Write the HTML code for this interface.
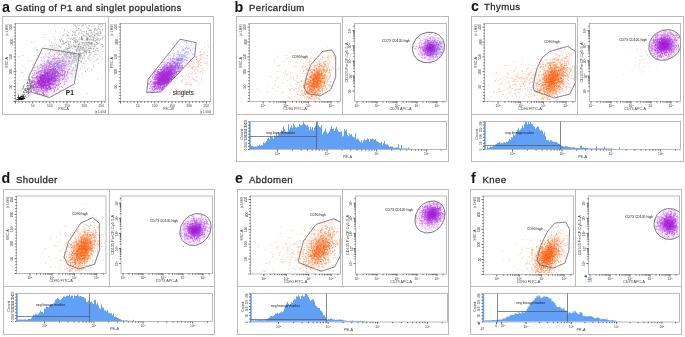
<!DOCTYPE html>
<html><head><meta charset="utf-8"><style>html,body{margin:0;padding:0;background:#fff;width:685px;height:337px;overflow:hidden}svg{display:block;filter:blur(0.3px)}</style></head>
<body><svg width="685" height="337" viewBox="0 0 685 337" font-family='"Liberation Sans", sans-serif'>
<rect width="685" height="337" fill="#fff"/>
<text x="2" y="11.9" font-size="14.3" fill="#111" text-anchor="start" font-weight="bold">a</text>
<text x="15.3" y="11.2" font-size="9.6" fill="#2a2a2a" text-anchor="start" font-weight="normal" letter-spacing="0.34" stroke="#2a2a2a" stroke-width="0.28">Gating of P1 and singlet populations</text>
<rect x="2.5" y="16.5" width="211" height="98" fill="none" stroke="#bbb" stroke-width="1"/>
<line x1="108.5" y1="16.5" x2="108.5" y2="114.5" stroke="#bbb" stroke-width="1"/>
<rect x="15.5" y="23.5" width="90" height="78" fill="none" stroke="#aaa" stroke-width="0.8"/>
<rect x="120.5" y="23.5" width="90" height="78" fill="none" stroke="#aaa" stroke-width="0.8"/>
<text x="12.5" y="86.6" font-size="3.3" fill="#3a3a3a" text-anchor="middle" font-weight="normal" transform="rotate(-90 12.5 86.6)">50</text>
<text x="12.5" y="71.7" font-size="3.3" fill="#3a3a3a" text-anchor="middle" font-weight="normal" transform="rotate(-90 12.5 71.7)">100</text>
<text x="12.5" y="56.9" font-size="3.3" fill="#3a3a3a" text-anchor="middle" font-weight="normal" transform="rotate(-90 12.5 56.9)">150</text>
<text x="12.5" y="42" font-size="3.3" fill="#3a3a3a" text-anchor="middle" font-weight="normal" transform="rotate(-90 12.5 42)">200</text>
<text x="12.5" y="27.1" font-size="3.3" fill="#3a3a3a" text-anchor="middle" font-weight="normal" transform="rotate(-90 12.5 27.1)">250</text>
<text x="8.3" y="30" font-size="3.0" fill="#3a3a3a" text-anchor="middle" font-weight="normal" transform="rotate(-90 8.3 30)" textLength="11.6" lengthAdjust="spacingAndGlyphs">(x 1,000)</text>
<text x="8.3" y="62.5" font-size="3.6" fill="#3a3a3a" text-anchor="middle" font-weight="normal" transform="rotate(-90 8.3 62.5)" textLength="11" lengthAdjust="spacingAndGlyphs">SSC-A</text>
<text x="32.7" y="107.1" font-size="3.3" fill="#3a3a3a" text-anchor="middle" font-weight="normal">50</text>
<text x="49.8" y="107.1" font-size="3.3" fill="#3a3a3a" text-anchor="middle" font-weight="normal">100</text>
<text x="67" y="107.1" font-size="3.3" fill="#3a3a3a" text-anchor="middle" font-weight="normal">150</text>
<text x="84.2" y="107.1" font-size="3.3" fill="#3a3a3a" text-anchor="middle" font-weight="normal">200</text>
<text x="101.3" y="107.1" font-size="3.3" fill="#3a3a3a" text-anchor="middle" font-weight="normal">250</text>
<text x="63.5" y="110.3" font-size="3.6" fill="#3a3a3a" text-anchor="middle" font-weight="normal" textLength="10.5" lengthAdjust="spacingAndGlyphs">FSC-A</text>
<text x="100.5" y="112.7" font-size="3.0" fill="#3a3a3a" text-anchor="middle" font-weight="normal" textLength="11.6" lengthAdjust="spacingAndGlyphs">(x 1,000)</text>
<text x="117.5" y="86.6" font-size="3.3" fill="#3a3a3a" text-anchor="middle" font-weight="normal" transform="rotate(-90 117.5 86.6)">50</text>
<text x="117.5" y="71.7" font-size="3.3" fill="#3a3a3a" text-anchor="middle" font-weight="normal" transform="rotate(-90 117.5 71.7)">100</text>
<text x="117.5" y="56.9" font-size="3.3" fill="#3a3a3a" text-anchor="middle" font-weight="normal" transform="rotate(-90 117.5 56.9)">150</text>
<text x="117.5" y="42" font-size="3.3" fill="#3a3a3a" text-anchor="middle" font-weight="normal" transform="rotate(-90 117.5 42)">200</text>
<text x="117.5" y="27.1" font-size="3.3" fill="#3a3a3a" text-anchor="middle" font-weight="normal" transform="rotate(-90 117.5 27.1)">250</text>
<text x="113.3" y="30" font-size="3.0" fill="#3a3a3a" text-anchor="middle" font-weight="normal" transform="rotate(-90 113.3 30)" textLength="11.6" lengthAdjust="spacingAndGlyphs">(x 1,000)</text>
<text x="113.3" y="62.5" font-size="3.6" fill="#3a3a3a" text-anchor="middle" font-weight="normal" transform="rotate(-90 113.3 62.5)" textLength="11" lengthAdjust="spacingAndGlyphs">FSC-A</text>
<text x="137.7" y="107.1" font-size="3.3" fill="#3a3a3a" text-anchor="middle" font-weight="normal">50</text>
<text x="154.8" y="107.1" font-size="3.3" fill="#3a3a3a" text-anchor="middle" font-weight="normal">100</text>
<text x="172" y="107.1" font-size="3.3" fill="#3a3a3a" text-anchor="middle" font-weight="normal">150</text>
<text x="189.2" y="107.1" font-size="3.3" fill="#3a3a3a" text-anchor="middle" font-weight="normal">200</text>
<text x="206.3" y="107.1" font-size="3.3" fill="#3a3a3a" text-anchor="middle" font-weight="normal">250</text>
<text x="168.5" y="110.3" font-size="3.6" fill="#3a3a3a" text-anchor="middle" font-weight="normal" textLength="10.5" lengthAdjust="spacingAndGlyphs">FSC-W</text>
<text x="205.5" y="112.7" font-size="3.0" fill="#3a3a3a" text-anchor="middle" font-weight="normal" textLength="11.6" lengthAdjust="spacingAndGlyphs">(x 1,000)</text>
<text x="234.5" y="11.9" font-size="14.3" fill="#111" text-anchor="start" font-weight="bold">b</text>
<text x="249" y="10.8" font-size="9.6" fill="#2a2a2a" text-anchor="start" font-weight="normal" letter-spacing="0.4" stroke="#2a2a2a" stroke-width="0.28">Pericardium</text>
<rect x="236.5" y="16.5" width="212" height="145" fill="none" stroke="#bbb" stroke-width="1"/>
<line x1="236.5" y1="114.5" x2="448.5" y2="114.5" stroke="#bbb" stroke-width="1"/>
<line x1="342.5" y1="16.5" x2="342.5" y2="114.5" stroke="#bbb" stroke-width="1"/>
<rect x="249.5" y="23.5" width="91" height="78" fill="none" stroke="#aaa" stroke-width="0.8"/>
<rect x="354.5" y="23.5" width="92" height="78" fill="none" stroke="#aaa" stroke-width="0.8"/>
<rect x="249.5" y="121.5" width="197" height="28" fill="none" stroke="#aaa" stroke-width="0.8"/>
<text x="246.5" y="86.6" font-size="3.3" fill="#3a3a3a" text-anchor="middle" font-weight="normal" transform="rotate(-90 246.5 86.6)">50</text>
<text x="246.5" y="71.7" font-size="3.3" fill="#3a3a3a" text-anchor="middle" font-weight="normal" transform="rotate(-90 246.5 71.7)">100</text>
<text x="246.5" y="56.9" font-size="3.3" fill="#3a3a3a" text-anchor="middle" font-weight="normal" transform="rotate(-90 246.5 56.9)">150</text>
<text x="246.5" y="42" font-size="3.3" fill="#3a3a3a" text-anchor="middle" font-weight="normal" transform="rotate(-90 246.5 42)">200</text>
<text x="246.5" y="27.1" font-size="3.3" fill="#3a3a3a" text-anchor="middle" font-weight="normal" transform="rotate(-90 246.5 27.1)">250</text>
<text x="242.3" y="30" font-size="3.0" fill="#3a3a3a" text-anchor="middle" font-weight="normal" transform="rotate(-90 242.3 30)" textLength="11.6" lengthAdjust="spacingAndGlyphs">(x 1,000)</text>
<text x="242.3" y="62.5" font-size="3.6" fill="#3a3a3a" text-anchor="middle" font-weight="normal" transform="rotate(-90 242.3 62.5)" textLength="11" lengthAdjust="spacingAndGlyphs">SSC-A</text>
<text x="263.1" y="107.3" font-size="3.3" fill="#3a3a3a" text-anchor="middle" font-weight="normal">10<tspan font-size="2.3" dy="-1.3">2</tspan></text>
<text x="285.7" y="107.3" font-size="3.3" fill="#3a3a3a" text-anchor="middle" font-weight="normal">10<tspan font-size="2.3" dy="-1.3">3</tspan></text>
<text x="308.4" y="107.3" font-size="3.3" fill="#3a3a3a" text-anchor="middle" font-weight="normal">10<tspan font-size="2.3" dy="-1.3">4</tspan></text>
<text x="331" y="107.3" font-size="3.3" fill="#3a3a3a" text-anchor="middle" font-weight="normal">10<tspan font-size="2.3" dy="-1.3">5</tspan></text>
<text x="295" y="110.3" font-size="3.6" fill="#3a3a3a" text-anchor="middle" font-weight="normal" textLength="23.5" lengthAdjust="spacingAndGlyphs">CD90 FITC-A</text>
<text x="357" y="107.3" font-size="3.3" fill="#3a3a3a" text-anchor="middle" font-weight="normal">10<tspan font-size="2.3" dy="-1.3">1</tspan></text>
<text x="377" y="107.3" font-size="3.3" fill="#3a3a3a" text-anchor="middle" font-weight="normal">10<tspan font-size="2.3" dy="-1.3">2</tspan></text>
<text x="397" y="107.3" font-size="3.3" fill="#3a3a3a" text-anchor="middle" font-weight="normal">10<tspan font-size="2.3" dy="-1.3">3</tspan></text>
<text x="417" y="107.3" font-size="3.3" fill="#3a3a3a" text-anchor="middle" font-weight="normal">10<tspan font-size="2.3" dy="-1.3">4</tspan></text>
<text x="437" y="107.3" font-size="3.3" fill="#3a3a3a" text-anchor="middle" font-weight="normal">10<tspan font-size="2.3" dy="-1.3">5</tspan></text>
<text x="400.5" y="110.3" font-size="3.6" fill="#3a3a3a" text-anchor="middle" font-weight="normal" textLength="22" lengthAdjust="spacingAndGlyphs">CD73 APC-A</text>
<text x="351.5" y="91.1" font-size="3.3" fill="#3a3a3a" text-anchor="middle" font-weight="normal" transform="rotate(-90 351.5 91.1)">10<tspan font-size="2.3" dy="-1.3">1</tspan></text>
<text x="351.5" y="76" font-size="3.3" fill="#3a3a3a" text-anchor="middle" font-weight="normal" transform="rotate(-90 351.5 76)">10<tspan font-size="2.3" dy="-1.3">2</tspan></text>
<text x="351.5" y="60.9" font-size="3.3" fill="#3a3a3a" text-anchor="middle" font-weight="normal" transform="rotate(-90 351.5 60.9)">10<tspan font-size="2.3" dy="-1.3">3</tspan></text>
<text x="351.5" y="45.8" font-size="3.3" fill="#3a3a3a" text-anchor="middle" font-weight="normal" transform="rotate(-90 351.5 45.8)">10<tspan font-size="2.3" dy="-1.3">4</tspan></text>
<text x="351.5" y="30.7" font-size="3.3" fill="#3a3a3a" text-anchor="middle" font-weight="normal" transform="rotate(-90 351.5 30.7)">10<tspan font-size="2.3" dy="-1.3">5</tspan></text>
<text x="347.5" y="62.5" font-size="3.6" fill="#3a3a3a" text-anchor="middle" font-weight="normal" transform="rotate(-90 347.5 62.5)" textLength="40" lengthAdjust="spacingAndGlyphs">CD105 PerCP-Cy5-5-A</text>
<text x="277.5" y="155.3" font-size="3.3" fill="#3a3a3a" text-anchor="middle" font-weight="normal">10<tspan font-size="2.3" dy="-1.3">2</tspan></text>
<text x="327.1" y="155.3" font-size="3.3" fill="#3a3a3a" text-anchor="middle" font-weight="normal">10<tspan font-size="2.3" dy="-1.3">3</tspan></text>
<text x="376.7" y="155.3" font-size="3.3" fill="#3a3a3a" text-anchor="middle" font-weight="normal">10<tspan font-size="2.3" dy="-1.3">4</tspan></text>
<text x="426.4" y="155.3" font-size="3.3" fill="#3a3a3a" text-anchor="middle" font-weight="normal">10<tspan font-size="2.3" dy="-1.3">5</tspan></text>
<text x="347.5" y="158" font-size="3.6" fill="#3a3a3a" text-anchor="middle" font-weight="normal" textLength="9" lengthAdjust="spacingAndGlyphs">PE-A</text>
<text x="246.9" y="149.5" font-size="2.8" fill="#444" text-anchor="middle" font-weight="normal" transform="rotate(-90 246.9 149.5)">0</text>
<text x="246.9" y="146.4" font-size="2.8" fill="#444" text-anchor="middle" font-weight="normal" transform="rotate(-90 246.9 146.4)">25</text>
<text x="246.9" y="143.4" font-size="2.8" fill="#444" text-anchor="middle" font-weight="normal" transform="rotate(-90 246.9 143.4)">50</text>
<text x="246.9" y="140.3" font-size="2.8" fill="#444" text-anchor="middle" font-weight="normal" transform="rotate(-90 246.9 140.3)">75</text>
<text x="246.9" y="137.3" font-size="2.8" fill="#444" text-anchor="middle" font-weight="normal" transform="rotate(-90 246.9 137.3)">100</text>
<text x="246.9" y="134.2" font-size="2.8" fill="#444" text-anchor="middle" font-weight="normal" transform="rotate(-90 246.9 134.2)">125</text>
<text x="246.9" y="131.2" font-size="2.8" fill="#444" text-anchor="middle" font-weight="normal" transform="rotate(-90 246.9 131.2)">150</text>
<text x="246.9" y="128.1" font-size="2.8" fill="#444" text-anchor="middle" font-weight="normal" transform="rotate(-90 246.9 128.1)">175</text>
<text x="246.9" y="125.1" font-size="2.8" fill="#444" text-anchor="middle" font-weight="normal" transform="rotate(-90 246.9 125.1)">200</text>
<text x="246.9" y="122" font-size="2.8" fill="#444" text-anchor="middle" font-weight="normal" transform="rotate(-90 246.9 122)">225</text>
<text x="242.9" y="134.5" font-size="3.6" fill="#3a3a3a" text-anchor="middle" font-weight="normal" transform="rotate(-90 242.9 134.5)" textLength="10.5" lengthAdjust="spacingAndGlyphs">Count</text>
<text x="471" y="10.7" font-size="14.3" fill="#111" text-anchor="start" font-weight="bold">c</text>
<text x="484" y="10.1" font-size="9.6" fill="#2a2a2a" text-anchor="start" font-weight="normal" letter-spacing="0.4" stroke="#2a2a2a" stroke-width="0.28">Thymus</text>
<rect x="471.5" y="16.5" width="212" height="145" fill="none" stroke="#bbb" stroke-width="1"/>
<line x1="471.5" y1="114.5" x2="683.5" y2="114.5" stroke="#bbb" stroke-width="1"/>
<line x1="577.5" y1="16.5" x2="577.5" y2="114.5" stroke="#bbb" stroke-width="1"/>
<rect x="484.5" y="23.5" width="91" height="78" fill="none" stroke="#aaa" stroke-width="0.8"/>
<rect x="589.5" y="23.5" width="91" height="78" fill="none" stroke="#aaa" stroke-width="0.8"/>
<rect x="484.5" y="121.5" width="196" height="28" fill="none" stroke="#aaa" stroke-width="0.8"/>
<text x="481.5" y="86.6" font-size="3.3" fill="#3a3a3a" text-anchor="middle" font-weight="normal" transform="rotate(-90 481.5 86.6)">50</text>
<text x="481.5" y="71.7" font-size="3.3" fill="#3a3a3a" text-anchor="middle" font-weight="normal" transform="rotate(-90 481.5 71.7)">100</text>
<text x="481.5" y="56.9" font-size="3.3" fill="#3a3a3a" text-anchor="middle" font-weight="normal" transform="rotate(-90 481.5 56.9)">150</text>
<text x="481.5" y="42" font-size="3.3" fill="#3a3a3a" text-anchor="middle" font-weight="normal" transform="rotate(-90 481.5 42)">200</text>
<text x="481.5" y="27.1" font-size="3.3" fill="#3a3a3a" text-anchor="middle" font-weight="normal" transform="rotate(-90 481.5 27.1)">250</text>
<text x="477.3" y="30" font-size="3.0" fill="#3a3a3a" text-anchor="middle" font-weight="normal" transform="rotate(-90 477.3 30)" textLength="11.6" lengthAdjust="spacingAndGlyphs">(x 1,000)</text>
<text x="477.3" y="62.5" font-size="3.6" fill="#3a3a3a" text-anchor="middle" font-weight="normal" transform="rotate(-90 477.3 62.5)" textLength="11" lengthAdjust="spacingAndGlyphs">SSC-A</text>
<text x="498.1" y="107.3" font-size="3.3" fill="#3a3a3a" text-anchor="middle" font-weight="normal">10<tspan font-size="2.3" dy="-1.3">2</tspan></text>
<text x="520.7" y="107.3" font-size="3.3" fill="#3a3a3a" text-anchor="middle" font-weight="normal">10<tspan font-size="2.3" dy="-1.3">3</tspan></text>
<text x="543.4" y="107.3" font-size="3.3" fill="#3a3a3a" text-anchor="middle" font-weight="normal">10<tspan font-size="2.3" dy="-1.3">4</tspan></text>
<text x="566" y="107.3" font-size="3.3" fill="#3a3a3a" text-anchor="middle" font-weight="normal">10<tspan font-size="2.3" dy="-1.3">5</tspan></text>
<text x="530" y="110.3" font-size="3.6" fill="#3a3a3a" text-anchor="middle" font-weight="normal" textLength="23.5" lengthAdjust="spacingAndGlyphs">CD90 FITC-A</text>
<text x="591" y="107.3" font-size="3.3" fill="#3a3a3a" text-anchor="middle" font-weight="normal">10<tspan font-size="2.3" dy="-1.3">1</tspan></text>
<text x="611" y="107.3" font-size="3.3" fill="#3a3a3a" text-anchor="middle" font-weight="normal">10<tspan font-size="2.3" dy="-1.3">2</tspan></text>
<text x="631" y="107.3" font-size="3.3" fill="#3a3a3a" text-anchor="middle" font-weight="normal">10<tspan font-size="2.3" dy="-1.3">3</tspan></text>
<text x="651" y="107.3" font-size="3.3" fill="#3a3a3a" text-anchor="middle" font-weight="normal">10<tspan font-size="2.3" dy="-1.3">4</tspan></text>
<text x="671" y="107.3" font-size="3.3" fill="#3a3a3a" text-anchor="middle" font-weight="normal">10<tspan font-size="2.3" dy="-1.3">5</tspan></text>
<text x="635" y="110.3" font-size="3.6" fill="#3a3a3a" text-anchor="middle" font-weight="normal" textLength="22" lengthAdjust="spacingAndGlyphs">CD73 APC-A</text>
<text x="586.5" y="91.1" font-size="3.3" fill="#3a3a3a" text-anchor="middle" font-weight="normal" transform="rotate(-90 586.5 91.1)">10<tspan font-size="2.3" dy="-1.3">1</tspan></text>
<text x="586.5" y="76" font-size="3.3" fill="#3a3a3a" text-anchor="middle" font-weight="normal" transform="rotate(-90 586.5 76)">10<tspan font-size="2.3" dy="-1.3">2</tspan></text>
<text x="586.5" y="60.9" font-size="3.3" fill="#3a3a3a" text-anchor="middle" font-weight="normal" transform="rotate(-90 586.5 60.9)">10<tspan font-size="2.3" dy="-1.3">3</tspan></text>
<text x="586.5" y="45.8" font-size="3.3" fill="#3a3a3a" text-anchor="middle" font-weight="normal" transform="rotate(-90 586.5 45.8)">10<tspan font-size="2.3" dy="-1.3">4</tspan></text>
<text x="586.5" y="30.7" font-size="3.3" fill="#3a3a3a" text-anchor="middle" font-weight="normal" transform="rotate(-90 586.5 30.7)">10<tspan font-size="2.3" dy="-1.3">5</tspan></text>
<text x="582.5" y="62.5" font-size="3.6" fill="#3a3a3a" text-anchor="middle" font-weight="normal" transform="rotate(-90 582.5 62.5)" textLength="40" lengthAdjust="spacingAndGlyphs">CD105 PerCP-Cy5-5-A</text>
<text x="512.5" y="155.3" font-size="3.3" fill="#3a3a3a" text-anchor="middle" font-weight="normal">10<tspan font-size="2.3" dy="-1.3">2</tspan></text>
<text x="561.9" y="155.3" font-size="3.3" fill="#3a3a3a" text-anchor="middle" font-weight="normal">10<tspan font-size="2.3" dy="-1.3">3</tspan></text>
<text x="611.2" y="155.3" font-size="3.3" fill="#3a3a3a" text-anchor="middle" font-weight="normal">10<tspan font-size="2.3" dy="-1.3">4</tspan></text>
<text x="660.6" y="155.3" font-size="3.3" fill="#3a3a3a" text-anchor="middle" font-weight="normal">10<tspan font-size="2.3" dy="-1.3">5</tspan></text>
<text x="582.5" y="158" font-size="3.6" fill="#3a3a3a" text-anchor="middle" font-weight="normal" textLength="9" lengthAdjust="spacingAndGlyphs">PE-A</text>
<text x="481.9" y="149.5" font-size="3.0" fill="#444" text-anchor="middle" font-weight="normal" transform="rotate(-90 481.9 149.5)">0</text>
<text x="481.9" y="143" font-size="3.0" fill="#444" text-anchor="middle" font-weight="normal" transform="rotate(-90 481.9 143)">50</text>
<text x="481.9" y="136.5" font-size="3.0" fill="#444" text-anchor="middle" font-weight="normal" transform="rotate(-90 481.9 136.5)">100</text>
<text x="481.9" y="130" font-size="3.0" fill="#444" text-anchor="middle" font-weight="normal" transform="rotate(-90 481.9 130)">150</text>
<text x="481.9" y="123.5" font-size="3.0" fill="#444" text-anchor="middle" font-weight="normal" transform="rotate(-90 481.9 123.5)">200</text>
<text x="477.9" y="134.5" font-size="3.6" fill="#3a3a3a" text-anchor="middle" font-weight="normal" transform="rotate(-90 477.9 134.5)" textLength="10.5" lengthAdjust="spacingAndGlyphs">Count</text>
<text x="1.5" y="182.6" font-size="14.3" fill="#111" text-anchor="start" font-weight="bold">d</text>
<text x="16" y="182.6" font-size="9.6" fill="#2a2a2a" text-anchor="start" font-weight="normal" letter-spacing="0.4" stroke="#2a2a2a" stroke-width="0.28">Shoulder</text>
<rect x="3.5" y="189.5" width="211" height="145" fill="none" stroke="#bbb" stroke-width="1"/>
<line x1="3.5" y1="286.5" x2="214.5" y2="286.5" stroke="#bbb" stroke-width="1"/>
<line x1="109.5" y1="189.5" x2="109.5" y2="286.5" stroke="#bbb" stroke-width="1"/>
<rect x="16.5" y="196" width="89.5" height="77.5" fill="none" stroke="#aaa" stroke-width="0.8"/>
<rect x="121" y="196" width="91.5" height="77.5" fill="none" stroke="#aaa" stroke-width="0.8"/>
<rect x="16.5" y="293.5" width="196" height="28" fill="none" stroke="#aaa" stroke-width="0.8"/>
<text x="13.5" y="258.7" font-size="3.3" fill="#3a3a3a" text-anchor="middle" font-weight="normal" transform="rotate(-90 13.5 258.7)">50</text>
<text x="13.5" y="243.9" font-size="3.3" fill="#3a3a3a" text-anchor="middle" font-weight="normal" transform="rotate(-90 13.5 243.9)">100</text>
<text x="13.5" y="229.2" font-size="3.3" fill="#3a3a3a" text-anchor="middle" font-weight="normal" transform="rotate(-90 13.5 229.2)">150</text>
<text x="13.5" y="214.4" font-size="3.3" fill="#3a3a3a" text-anchor="middle" font-weight="normal" transform="rotate(-90 13.5 214.4)">200</text>
<text x="13.5" y="199.6" font-size="3.3" fill="#3a3a3a" text-anchor="middle" font-weight="normal" transform="rotate(-90 13.5 199.6)">250</text>
<text x="9.3" y="202.5" font-size="3.0" fill="#3a3a3a" text-anchor="middle" font-weight="normal" transform="rotate(-90 9.3 202.5)" textLength="11.6" lengthAdjust="spacingAndGlyphs">(x 1,000)</text>
<text x="9.3" y="234.8" font-size="3.6" fill="#3a3a3a" text-anchor="middle" font-weight="normal" transform="rotate(-90 9.3 234.8)" textLength="11" lengthAdjust="spacingAndGlyphs">SSC-A</text>
<text x="29.9" y="279.3" font-size="3.3" fill="#3a3a3a" text-anchor="middle" font-weight="normal">10<tspan font-size="2.3" dy="-1.3">2</tspan></text>
<text x="52.1" y="279.3" font-size="3.3" fill="#3a3a3a" text-anchor="middle" font-weight="normal">10<tspan font-size="2.3" dy="-1.3">3</tspan></text>
<text x="74.4" y="279.3" font-size="3.3" fill="#3a3a3a" text-anchor="middle" font-weight="normal">10<tspan font-size="2.3" dy="-1.3">4</tspan></text>
<text x="96.6" y="279.3" font-size="3.3" fill="#3a3a3a" text-anchor="middle" font-weight="normal">10<tspan font-size="2.3" dy="-1.3">5</tspan></text>
<text x="61.2" y="282.3" font-size="3.6" fill="#3a3a3a" text-anchor="middle" font-weight="normal" textLength="23.5" lengthAdjust="spacingAndGlyphs">CD90 FITC-A</text>
<text x="123" y="279.3" font-size="3.3" fill="#3a3a3a" text-anchor="middle" font-weight="normal">10<tspan font-size="2.3" dy="-1.3">1</tspan></text>
<text x="143" y="279.3" font-size="3.3" fill="#3a3a3a" text-anchor="middle" font-weight="normal">10<tspan font-size="2.3" dy="-1.3">2</tspan></text>
<text x="163" y="279.3" font-size="3.3" fill="#3a3a3a" text-anchor="middle" font-weight="normal">10<tspan font-size="2.3" dy="-1.3">3</tspan></text>
<text x="183" y="279.3" font-size="3.3" fill="#3a3a3a" text-anchor="middle" font-weight="normal">10<tspan font-size="2.3" dy="-1.3">4</tspan></text>
<text x="203" y="279.3" font-size="3.3" fill="#3a3a3a" text-anchor="middle" font-weight="normal">10<tspan font-size="2.3" dy="-1.3">5</tspan></text>
<text x="166.8" y="282.3" font-size="3.6" fill="#3a3a3a" text-anchor="middle" font-weight="normal" textLength="22" lengthAdjust="spacingAndGlyphs">CD73 APC-A</text>
<text x="118" y="263.6" font-size="3.3" fill="#3a3a3a" text-anchor="middle" font-weight="normal" transform="rotate(-90 118 263.6)">10<tspan font-size="2.3" dy="-1.3">1</tspan></text>
<text x="118" y="248.5" font-size="3.3" fill="#3a3a3a" text-anchor="middle" font-weight="normal" transform="rotate(-90 118 248.5)">10<tspan font-size="2.3" dy="-1.3">2</tspan></text>
<text x="118" y="233.4" font-size="3.3" fill="#3a3a3a" text-anchor="middle" font-weight="normal" transform="rotate(-90 118 233.4)">10<tspan font-size="2.3" dy="-1.3">3</tspan></text>
<text x="118" y="218.3" font-size="3.3" fill="#3a3a3a" text-anchor="middle" font-weight="normal" transform="rotate(-90 118 218.3)">10<tspan font-size="2.3" dy="-1.3">4</tspan></text>
<text x="118" y="203.2" font-size="3.3" fill="#3a3a3a" text-anchor="middle" font-weight="normal" transform="rotate(-90 118 203.2)">10<tspan font-size="2.3" dy="-1.3">5</tspan></text>
<text x="114" y="234.8" font-size="3.6" fill="#3a3a3a" text-anchor="middle" font-weight="normal" transform="rotate(-90 114 234.8)" textLength="40" lengthAdjust="spacingAndGlyphs">CD105 PerCP-Cy5-5-A</text>
<text x="44.5" y="327.3" font-size="3.3" fill="#3a3a3a" text-anchor="middle" font-weight="normal">10<tspan font-size="2.3" dy="-1.3">2</tspan></text>
<text x="93.9" y="327.3" font-size="3.3" fill="#3a3a3a" text-anchor="middle" font-weight="normal">10<tspan font-size="2.3" dy="-1.3">3</tspan></text>
<text x="143.2" y="327.3" font-size="3.3" fill="#3a3a3a" text-anchor="middle" font-weight="normal">10<tspan font-size="2.3" dy="-1.3">4</tspan></text>
<text x="192.6" y="327.3" font-size="3.3" fill="#3a3a3a" text-anchor="middle" font-weight="normal">10<tspan font-size="2.3" dy="-1.3">5</tspan></text>
<text x="114.5" y="330" font-size="3.6" fill="#3a3a3a" text-anchor="middle" font-weight="normal" textLength="9" lengthAdjust="spacingAndGlyphs">PE-A</text>
<text x="13.9" y="321.5" font-size="2.8" fill="#444" text-anchor="middle" font-weight="normal" transform="rotate(-90 13.9 321.5)">0</text>
<text x="13.9" y="318.4" font-size="2.8" fill="#444" text-anchor="middle" font-weight="normal" transform="rotate(-90 13.9 318.4)">25</text>
<text x="13.9" y="315.4" font-size="2.8" fill="#444" text-anchor="middle" font-weight="normal" transform="rotate(-90 13.9 315.4)">50</text>
<text x="13.9" y="312.3" font-size="2.8" fill="#444" text-anchor="middle" font-weight="normal" transform="rotate(-90 13.9 312.3)">75</text>
<text x="13.9" y="309.3" font-size="2.8" fill="#444" text-anchor="middle" font-weight="normal" transform="rotate(-90 13.9 309.3)">100</text>
<text x="13.9" y="306.2" font-size="2.8" fill="#444" text-anchor="middle" font-weight="normal" transform="rotate(-90 13.9 306.2)">125</text>
<text x="13.9" y="303.2" font-size="2.8" fill="#444" text-anchor="middle" font-weight="normal" transform="rotate(-90 13.9 303.2)">150</text>
<text x="13.9" y="300.1" font-size="2.8" fill="#444" text-anchor="middle" font-weight="normal" transform="rotate(-90 13.9 300.1)">175</text>
<text x="13.9" y="297.1" font-size="2.8" fill="#444" text-anchor="middle" font-weight="normal" transform="rotate(-90 13.9 297.1)">200</text>
<text x="13.9" y="294" font-size="2.8" fill="#444" text-anchor="middle" font-weight="normal" transform="rotate(-90 13.9 294)">225</text>
<text x="9.9" y="306.5" font-size="3.6" fill="#3a3a3a" text-anchor="middle" font-weight="normal" transform="rotate(-90 9.9 306.5)" textLength="10.5" lengthAdjust="spacingAndGlyphs">Count</text>
<text x="235" y="182.8" font-size="14.3" fill="#111" text-anchor="start" font-weight="bold">e</text>
<text x="249" y="182.8" font-size="9.6" fill="#2a2a2a" text-anchor="start" font-weight="normal" letter-spacing="0.4" stroke="#2a2a2a" stroke-width="0.28">Abdomen</text>
<rect x="237.5" y="189.5" width="211" height="145" fill="none" stroke="#bbb" stroke-width="1"/>
<line x1="237.5" y1="286.5" x2="448.5" y2="286.5" stroke="#bbb" stroke-width="1"/>
<line x1="342.5" y1="189.5" x2="342.5" y2="286.5" stroke="#bbb" stroke-width="1"/>
<rect x="250.5" y="196" width="90" height="78" fill="none" stroke="#aaa" stroke-width="0.8"/>
<rect x="355.5" y="196" width="91" height="78" fill="none" stroke="#aaa" stroke-width="0.8"/>
<rect x="250.5" y="293.5" width="197" height="28.5" fill="none" stroke="#aaa" stroke-width="0.8"/>
<text x="247.5" y="259.1" font-size="3.3" fill="#3a3a3a" text-anchor="middle" font-weight="normal" transform="rotate(-90 247.5 259.1)">50</text>
<text x="247.5" y="244.2" font-size="3.3" fill="#3a3a3a" text-anchor="middle" font-weight="normal" transform="rotate(-90 247.5 244.2)">100</text>
<text x="247.5" y="229.4" font-size="3.3" fill="#3a3a3a" text-anchor="middle" font-weight="normal" transform="rotate(-90 247.5 229.4)">150</text>
<text x="247.5" y="214.5" font-size="3.3" fill="#3a3a3a" text-anchor="middle" font-weight="normal" transform="rotate(-90 247.5 214.5)">200</text>
<text x="247.5" y="199.6" font-size="3.3" fill="#3a3a3a" text-anchor="middle" font-weight="normal" transform="rotate(-90 247.5 199.6)">250</text>
<text x="243.3" y="202.5" font-size="3.0" fill="#3a3a3a" text-anchor="middle" font-weight="normal" transform="rotate(-90 243.3 202.5)" textLength="11.6" lengthAdjust="spacingAndGlyphs">(x 1,000)</text>
<text x="243.3" y="235" font-size="3.6" fill="#3a3a3a" text-anchor="middle" font-weight="normal" transform="rotate(-90 243.3 235)" textLength="11" lengthAdjust="spacingAndGlyphs">SSC-A</text>
<text x="263.9" y="279.8" font-size="3.3" fill="#3a3a3a" text-anchor="middle" font-weight="normal">10<tspan font-size="2.3" dy="-1.3">2</tspan></text>
<text x="286.3" y="279.8" font-size="3.3" fill="#3a3a3a" text-anchor="middle" font-weight="normal">10<tspan font-size="2.3" dy="-1.3">3</tspan></text>
<text x="308.7" y="279.8" font-size="3.3" fill="#3a3a3a" text-anchor="middle" font-weight="normal">10<tspan font-size="2.3" dy="-1.3">4</tspan></text>
<text x="331.1" y="279.8" font-size="3.3" fill="#3a3a3a" text-anchor="middle" font-weight="normal">10<tspan font-size="2.3" dy="-1.3">5</tspan></text>
<text x="295.5" y="282.8" font-size="3.6" fill="#3a3a3a" text-anchor="middle" font-weight="normal" textLength="23.5" lengthAdjust="spacingAndGlyphs">CD90 FITC-A</text>
<text x="357" y="279.8" font-size="3.3" fill="#3a3a3a" text-anchor="middle" font-weight="normal">10<tspan font-size="2.3" dy="-1.3">1</tspan></text>
<text x="377" y="279.8" font-size="3.3" fill="#3a3a3a" text-anchor="middle" font-weight="normal">10<tspan font-size="2.3" dy="-1.3">2</tspan></text>
<text x="397" y="279.8" font-size="3.3" fill="#3a3a3a" text-anchor="middle" font-weight="normal">10<tspan font-size="2.3" dy="-1.3">3</tspan></text>
<text x="417" y="279.8" font-size="3.3" fill="#3a3a3a" text-anchor="middle" font-weight="normal">10<tspan font-size="2.3" dy="-1.3">4</tspan></text>
<text x="437" y="279.8" font-size="3.3" fill="#3a3a3a" text-anchor="middle" font-weight="normal">10<tspan font-size="2.3" dy="-1.3">5</tspan></text>
<text x="401" y="282.8" font-size="3.6" fill="#3a3a3a" text-anchor="middle" font-weight="normal" textLength="22" lengthAdjust="spacingAndGlyphs">CD73 APC-A</text>
<text x="352.5" y="263.6" font-size="3.3" fill="#3a3a3a" text-anchor="middle" font-weight="normal" transform="rotate(-90 352.5 263.6)">10<tspan font-size="2.3" dy="-1.3">1</tspan></text>
<text x="352.5" y="248.5" font-size="3.3" fill="#3a3a3a" text-anchor="middle" font-weight="normal" transform="rotate(-90 352.5 248.5)">10<tspan font-size="2.3" dy="-1.3">2</tspan></text>
<text x="352.5" y="233.4" font-size="3.3" fill="#3a3a3a" text-anchor="middle" font-weight="normal" transform="rotate(-90 352.5 233.4)">10<tspan font-size="2.3" dy="-1.3">3</tspan></text>
<text x="352.5" y="218.3" font-size="3.3" fill="#3a3a3a" text-anchor="middle" font-weight="normal" transform="rotate(-90 352.5 218.3)">10<tspan font-size="2.3" dy="-1.3">4</tspan></text>
<text x="352.5" y="203.2" font-size="3.3" fill="#3a3a3a" text-anchor="middle" font-weight="normal" transform="rotate(-90 352.5 203.2)">10<tspan font-size="2.3" dy="-1.3">5</tspan></text>
<text x="348.5" y="235" font-size="3.6" fill="#3a3a3a" text-anchor="middle" font-weight="normal" transform="rotate(-90 348.5 235)" textLength="40" lengthAdjust="spacingAndGlyphs">CD105 PerCP-Cy5-5-A</text>
<text x="278.5" y="327.8" font-size="3.3" fill="#3a3a3a" text-anchor="middle" font-weight="normal">10<tspan font-size="2.3" dy="-1.3">2</tspan></text>
<text x="328.1" y="327.8" font-size="3.3" fill="#3a3a3a" text-anchor="middle" font-weight="normal">10<tspan font-size="2.3" dy="-1.3">3</tspan></text>
<text x="377.7" y="327.8" font-size="3.3" fill="#3a3a3a" text-anchor="middle" font-weight="normal">10<tspan font-size="2.3" dy="-1.3">4</tspan></text>
<text x="427.4" y="327.8" font-size="3.3" fill="#3a3a3a" text-anchor="middle" font-weight="normal">10<tspan font-size="2.3" dy="-1.3">5</tspan></text>
<text x="348.5" y="330.5" font-size="3.6" fill="#3a3a3a" text-anchor="middle" font-weight="normal" textLength="9" lengthAdjust="spacingAndGlyphs">PE-A</text>
<text x="247.9" y="322" font-size="3.0" fill="#444" text-anchor="middle" font-weight="normal" transform="rotate(-90 247.9 322)">0</text>
<text x="247.9" y="315.4" font-size="3.0" fill="#444" text-anchor="middle" font-weight="normal" transform="rotate(-90 247.9 315.4)">50</text>
<text x="247.9" y="308.8" font-size="3.0" fill="#444" text-anchor="middle" font-weight="normal" transform="rotate(-90 247.9 308.8)">100</text>
<text x="247.9" y="302.1" font-size="3.0" fill="#444" text-anchor="middle" font-weight="normal" transform="rotate(-90 247.9 302.1)">150</text>
<text x="247.9" y="295.5" font-size="3.0" fill="#444" text-anchor="middle" font-weight="normal" transform="rotate(-90 247.9 295.5)">200</text>
<text x="243.9" y="306.8" font-size="3.6" fill="#3a3a3a" text-anchor="middle" font-weight="normal" transform="rotate(-90 243.9 306.8)" textLength="10.5" lengthAdjust="spacingAndGlyphs">Count</text>
<text x="471" y="182.8" font-size="14.3" fill="#111" text-anchor="start" font-weight="bold">f</text>
<text x="482.5" y="183.2" font-size="9.6" fill="#2a2a2a" text-anchor="start" font-weight="normal" letter-spacing="0.4" stroke="#2a2a2a" stroke-width="0.28">Knee</text>
<rect x="470.5" y="189.5" width="211" height="145" fill="none" stroke="#bbb" stroke-width="1"/>
<line x1="470.5" y1="286.5" x2="681.5" y2="286.5" stroke="#bbb" stroke-width="1"/>
<line x1="575.5" y1="189.5" x2="575.5" y2="286.5" stroke="#bbb" stroke-width="1"/>
<rect x="483.5" y="196" width="90" height="78.5" fill="none" stroke="#aaa" stroke-width="0.8"/>
<rect x="588.5" y="196" width="91" height="78.5" fill="none" stroke="#aaa" stroke-width="0.8"/>
<rect x="483" y="293.5" width="196.5" height="28.5" fill="none" stroke="#aaa" stroke-width="0.8"/>
<text x="480.5" y="259.5" font-size="3.3" fill="#3a3a3a" text-anchor="middle" font-weight="normal" transform="rotate(-90 480.5 259.5)">50</text>
<text x="480.5" y="244.6" font-size="3.3" fill="#3a3a3a" text-anchor="middle" font-weight="normal" transform="rotate(-90 480.5 244.6)">100</text>
<text x="480.5" y="229.6" font-size="3.3" fill="#3a3a3a" text-anchor="middle" font-weight="normal" transform="rotate(-90 480.5 229.6)">150</text>
<text x="480.5" y="214.6" font-size="3.3" fill="#3a3a3a" text-anchor="middle" font-weight="normal" transform="rotate(-90 480.5 214.6)">200</text>
<text x="480.5" y="199.6" font-size="3.3" fill="#3a3a3a" text-anchor="middle" font-weight="normal" transform="rotate(-90 480.5 199.6)">250</text>
<text x="476.3" y="202.5" font-size="3.0" fill="#3a3a3a" text-anchor="middle" font-weight="normal" transform="rotate(-90 476.3 202.5)" textLength="11.6" lengthAdjust="spacingAndGlyphs">(x 1,000)</text>
<text x="476.3" y="235.2" font-size="3.6" fill="#3a3a3a" text-anchor="middle" font-weight="normal" transform="rotate(-90 476.3 235.2)" textLength="11" lengthAdjust="spacingAndGlyphs">SSC-A</text>
<text x="496.9" y="280.3" font-size="3.3" fill="#3a3a3a" text-anchor="middle" font-weight="normal">10<tspan font-size="2.3" dy="-1.3">2</tspan></text>
<text x="519.3" y="280.3" font-size="3.3" fill="#3a3a3a" text-anchor="middle" font-weight="normal">10<tspan font-size="2.3" dy="-1.3">3</tspan></text>
<text x="541.7" y="280.3" font-size="3.3" fill="#3a3a3a" text-anchor="middle" font-weight="normal">10<tspan font-size="2.3" dy="-1.3">4</tspan></text>
<text x="564.1" y="280.3" font-size="3.3" fill="#3a3a3a" text-anchor="middle" font-weight="normal">10<tspan font-size="2.3" dy="-1.3">5</tspan></text>
<text x="528.5" y="283.3" font-size="3.6" fill="#3a3a3a" text-anchor="middle" font-weight="normal" textLength="23.5" lengthAdjust="spacingAndGlyphs">CD90 FITC-A</text>
<text x="590" y="280.3" font-size="3.3" fill="#3a3a3a" text-anchor="middle" font-weight="normal">10<tspan font-size="2.3" dy="-1.3">1</tspan></text>
<text x="610" y="280.3" font-size="3.3" fill="#3a3a3a" text-anchor="middle" font-weight="normal">10<tspan font-size="2.3" dy="-1.3">2</tspan></text>
<text x="630" y="280.3" font-size="3.3" fill="#3a3a3a" text-anchor="middle" font-weight="normal">10<tspan font-size="2.3" dy="-1.3">3</tspan></text>
<text x="650" y="280.3" font-size="3.3" fill="#3a3a3a" text-anchor="middle" font-weight="normal">10<tspan font-size="2.3" dy="-1.3">4</tspan></text>
<text x="670" y="280.3" font-size="3.3" fill="#3a3a3a" text-anchor="middle" font-weight="normal">10<tspan font-size="2.3" dy="-1.3">5</tspan></text>
<text x="634" y="283.3" font-size="3.6" fill="#3a3a3a" text-anchor="middle" font-weight="normal" textLength="22" lengthAdjust="spacingAndGlyphs">CD73 APC-A</text>
<text x="585.5" y="263.6" font-size="3.3" fill="#3a3a3a" text-anchor="middle" font-weight="normal" transform="rotate(-90 585.5 263.6)">10<tspan font-size="2.3" dy="-1.3">1</tspan></text>
<text x="585.5" y="248.5" font-size="3.3" fill="#3a3a3a" text-anchor="middle" font-weight="normal" transform="rotate(-90 585.5 248.5)">10<tspan font-size="2.3" dy="-1.3">2</tspan></text>
<text x="585.5" y="233.4" font-size="3.3" fill="#3a3a3a" text-anchor="middle" font-weight="normal" transform="rotate(-90 585.5 233.4)">10<tspan font-size="2.3" dy="-1.3">3</tspan></text>
<text x="585.5" y="218.3" font-size="3.3" fill="#3a3a3a" text-anchor="middle" font-weight="normal" transform="rotate(-90 585.5 218.3)">10<tspan font-size="2.3" dy="-1.3">4</tspan></text>
<text x="585.5" y="203.2" font-size="3.3" fill="#3a3a3a" text-anchor="middle" font-weight="normal" transform="rotate(-90 585.5 203.2)">10<tspan font-size="2.3" dy="-1.3">5</tspan></text>
<text x="581.5" y="235.2" font-size="3.6" fill="#3a3a3a" text-anchor="middle" font-weight="normal" transform="rotate(-90 581.5 235.2)" textLength="40" lengthAdjust="spacingAndGlyphs">CD105 PerCP-Cy5-5-A</text>
<text x="526" y="327.8" font-size="3.3" fill="#3a3a3a" text-anchor="middle" font-weight="normal">10<tspan font-size="2.3" dy="-1.3">2</tspan></text>
<text x="571.3" y="327.8" font-size="3.3" fill="#3a3a3a" text-anchor="middle" font-weight="normal">10<tspan font-size="2.3" dy="-1.3">3</tspan></text>
<text x="616.6" y="327.8" font-size="3.3" fill="#3a3a3a" text-anchor="middle" font-weight="normal">10<tspan font-size="2.3" dy="-1.3">4</tspan></text>
<text x="661.9" y="327.8" font-size="3.3" fill="#3a3a3a" text-anchor="middle" font-weight="normal">10<tspan font-size="2.3" dy="-1.3">5</tspan></text>
<text x="581" y="330.5" font-size="3.6" fill="#3a3a3a" text-anchor="middle" font-weight="normal" textLength="9" lengthAdjust="spacingAndGlyphs">PE-A</text>
<text x="502.9" y="327.4" font-size="3.3" fill="#3a3a3a" text-anchor="middle" font-weight="normal">10<tspan font-size="2.3" dy="-1.3">1</tspan></text>
<text x="496.2" y="327.4" font-size="3.3" fill="#3a3a3a" text-anchor="middle" font-weight="normal">0</text>
<text x="482" y="329.6" font-size="3.0" fill="#555" text-anchor="middle" font-weight="normal">-48</text>
<rect x="478" y="322.8" width="2" height="1.6" fill="#4a60d8"/>
<text x="480.4" y="322" font-size="3.0" fill="#444" text-anchor="middle" font-weight="normal" transform="rotate(-90 480.4 322)">0</text>
<text x="480.4" y="315.4" font-size="3.0" fill="#444" text-anchor="middle" font-weight="normal" transform="rotate(-90 480.4 315.4)">50</text>
<text x="480.4" y="308.8" font-size="3.0" fill="#444" text-anchor="middle" font-weight="normal" transform="rotate(-90 480.4 308.8)">100</text>
<text x="480.4" y="302.1" font-size="3.0" fill="#444" text-anchor="middle" font-weight="normal" transform="rotate(-90 480.4 302.1)">150</text>
<text x="480.4" y="295.5" font-size="3.0" fill="#444" text-anchor="middle" font-weight="normal" transform="rotate(-90 480.4 295.5)">200</text>
<text x="476.4" y="306.8" font-size="3.6" fill="#3a3a3a" text-anchor="middle" font-weight="normal" transform="rotate(-90 476.4 306.8)" textLength="10.5" lengthAdjust="spacingAndGlyphs">Count</text>
<path transform="scale(0.25)" stroke="#707070" stroke-opacity="0.55" stroke-width="3.2" stroke-linecap="square" fill="none" d="m152 204h0m1 99h0m10-93h0m8 111h0m2-54h0m7 1h0m1 17h0m0 25h0m2-127h0m0 33h0m2 70h0m3-42h0m4-2h0m0 9h0m0 42h0m2-49h0m0 18h0m1 47h0m2-149h0m0 50h0m0 73h0m1-68h0m1 58h0m2-90h0m1 20h0m8-21h0m2 93h0m1-100h0m1 72h0m1 31h0m1-21h0m1-15h0m1-140h0m0 79h0m0 23h0m0 14h0m1 17h0m1 20h0m2-52h0m0 51h0m1 20h0m1-102h0m0 114h0m1-39h0m0 35h0m1-49h0m0 128h0m2-170h0m3 3h0m1 30h0m0 27h0m0 4h0m3-48h0m0 26h0m1-33h0m0 2h0m0 2h0m0 94h0m0 11h0m0 2h0m0 11h0m1-64h0m1-41h0m0 33h0m1-91h0m0 26h0m0 67h0m1-5h0m1-86h0m0 91h0m0 11h0m1-100h0m1 79h0m1 79h0m1-59h0m1-104h0m0 55h0m1-100h0m0 104h0m1 64h0m0 9h0m1-110h0m0 109h0m1-142h0m0 17h0m1 80h0m1 0h0m0 58h0m1-163h0m0 35h0m0 32h0m0 68h0m1-132h0m0 59h0m1-36h0m0 51h0m1 7h0m0 12h0m0 78h0m1-113h0m0 23h0m0 30h0m1 35h0m0 6h0m1-14h0m1-161h0m0 78h0m0 5h0m1 12h0m0 6h0m0 26h0m0 7h0m1-83h0m1 23h0m0 23h0m0 56h0m1-72h0m0 29h0m0 23h0m0 13h0m0 2h0m0 31h0m1-107h0m0 25h0m0 7h0m0 23h0m1-50h0m0 125h0m1-180h0m0 28h0m0 62h0m0 53h0m1-121h0m0 47h0m0 23h0m0 44h0m1-137h0m0 86h0m1-102h0m0 69h0m0 3h0m0 6h0m0 9h0m1-68h0m0 50h0m0 106h0m1-73h0m0 33h0m0 48h0m1-135h0m0 108h0m1-96h0m0 11h0m0 49h0m1-115h0m0 40h0m0 9h0m0 8h0m0 18h0m0 29h0m0 17h0m1-96h0m1 21h0m0 15h0m0 4h0m2-7h0m0 29h0m0 37h0m1-60h0m0 19h0m0 17h0m0 5h0m0 13h0m1-29h0m1-61h0m0 10h0m0 35h0m1 17h0m0 2h0m0 10h0m0 0h0m0 36h0m1-86h0m0 5h0m0 30h0m1-62h0m0 60h0m0 41h0m1-27h0m1-12h0m0 33h0m0 46h0m1-108h0m0 23h0m0 5h0m0 36h0m0 33h0m1-143h0m0 67h0m0 38h0m1-120h0m0 15h0m0 0h0m0 17h0m0 36h0m1 10h0m0 37h0m1-82h0m0 77h0m0 47h0m1-103h0m0 38h0m0 57h0m1-120h0m0 16h0m0 10h0m0 35h0m0 12h0m0 13h0m1-88h0m0 32h0m0 34h0m0 1h0m0 5h0m0 5h0m1-79h0m0 104h0m2-90h0m0 19h0m0 27h0m0 3h0m0 6h0m0 6h0m0 2h0m0 6h0m0 15h0m1-148h0m0 36h0m0 3h0m0 14h0m0 34h0m0 21h0m0 73h0m1-154h0m1 31h0m0 2h0m0 27h0m0 10h0m0 41h0m1-74h0m0 4h0m0 0h0m0 18h0m0 47h0m0 25h0m0 22h0m1-144h0m0 49h0m0 37h0m0 4h0m0 6h0m0 32h0m1-94h0m0 29h0m0 24h0m0 17h0m1-133h0m0 15h0m0 0h0m0 19h0m0 25h0m0 18h0m0 41h0m0 6h0m1-31h0m0 38h0m0 3h0m0 8h0m1-92h0m0 40h0m1-15h0m1-20h0m0 30h0m0 74h0m1-120h0m0 126h0m0 46h0m1-153h0m0 29h0m0 25h0m1-100h0m0 15h0m0 58h0m0 32h0m0 5h0m1-52h0m0 7h0m1-71h0m0 1h0m0 71h0m0 3h0m0 23h0m0 25h0m1-105h0m0 55h0m0 37h0m1-68h0m0 19h0m0 24h0m0 15h0m0 10h0m1-111h0m0 64h0m0 3h0m0 32h0m1-110h0m0 73h0m0 27h0m0 40h0m1-91h0m0 17h0m0 6h0m0 14h0m0 18h0m0 13h0m1-22h0m0 19h0m1-97h0m0 75h0m0 7h0m1-81h0m0 91h0m0 18h0m0 4h0m0 40h0m1-88h0m0 36h0m1-65h0m0 31h0m0 6h0m0 22h0m0 8h0m0 20h0m0 2h0m0 3h0m1-90h0m0 64h0m0 4h0m1-92h0m0 14h0m0 0h0m0 2h0m0 5h0m1-48h0m0 21h0m0 17h0m0 11h0m0 40h0m0 20h0m0 50h0m1-168h0m0 35h0m0 18h0m0 2h0m0 2h0m0 29h0m0 5h0m1-31h0m0 1h0m0 13h0m0 2h0m0 21h0m0 37h0m0 1h0m1-77h0m0 15h0m0 123h0m1-192h0m1 23h0m0 12h0m0 23h0m0 10h0m0 20h0m0 8h0m0 13h0m1-69h0m0 48h0m0 1h0m0 3h0m0 8h0m0 1h0m0 9h0m0 1h0m0 17h0m1-58h0m0 10h0m0 71h0m2-127h0m0 17h0m0 17h0m0 59h0m1-43h0m0 6h0m0 20h0m0 9h0m1-65h0m0 77h0m1-83h0m0 59h0m0 9h0m0 13h0m1-42h0m0 15h0m1-26h0m1 4h0m0 9h0m0 105h0m1-98h0m0 17h0m0 2h0m0 8h0m0 30h0m1-102h0m0 3h0m0 61h0m0 2h0m1-98h0m0 25h0m0 21h0m0 18h0m1-50h0m0 29h0m0 4h0m0 11h0m0 21h0m0 14h0m0 8h0m0 5h0m1-112h0m0 29h0m0 16h0m0 27h0m0 16h0m0 9h0m0 7h0m1-38h0m1-32h0m0 14h0m0 3h0m0 29h0m0 13h0m1-44h0m0 1h0m0 6h0m0 115h0m1-128h0m0 8h0m0 2h0m0 74h0m1-95h0m0 16h0m0 17h0m0 4h0m0 6h0m1-66h0m0 54h0m0 3h0m0 21h0m1-91h0m0 39h0m0 45h0m0 11h0m1-75h0m0 61h0m0 13h0m0 14h0m0 16h0m1-70h0m0 78h0m0 3h0m1-134h0m0 54h0m0 9h0m0 11h0m1-4h0m0 30h0m0 9h0m0 0h0m1-91h0m0 21h0m0 6h0m0 13h0m0 13h0m0 14h0m0 18h0m0 6h0m0 9h0m1-74h0m0 27h0m0 30h0m0 37h0m1-48h0m0 2h0m0 25h0m1-95h0m0 9h0m0 41h0m0 4h0m1-61h0m0 34h0m0 7h0m0 52h0m1-88h0m0 22h0m1-16h0m0 1h0m0 41h0m0 0h0m0 6h0m0 18h0m1-89h0m0 38h0m0 16h0m0 15h0m0 5h0m1-19h0m1-63h0m0 76h0m0 1h0m0 1h0m0 37h0m1-74h0m0 41h0m1-33h0m1-14h0m0 18h0m0 11h0m1-56h0m0 63h0m1-8h0m0 39h0m0 62h0m1-112h0m0 8h0m0 37h0m0 11h0m0 63h0m1-112h0m0 20h0m1-25h0m0 56h0m0 18h0m1-94h0m0 11h0m0 44h0m0 6h0m1-89h0m0 21h0m0 19h0m0 30h0m0 73h0m1-131h0m0 1h0m0 23h0m0 39h0m0 5h0m0 4h0m0 31h0m2-105h0m0 23h0m0 29h0m0 16h0m0 20h0m1-38h0m0 45h0m0 10h0m1-65h0m1 9h0m0 38h0m1-80h0m0 14h0m0 36h0m1 9h0m0 13h0m0 48h0m1-104h0m0 13h0m0 9h0m0 60h0m1-78h0m0 20h0m0 8h0m1 1h0m0 33h0m1-61h0m0 93h0m1-117h0m0 17h0m0 23h0m0 37h0m1-66h0m0 0h0m0 7h0m0 38h0m0 1h0m1-66h0m0 45h0m0 84h0m0 18h0m1-141h0m0 47h0m0 42h0m1-62h0m1-36h0m1 51h0m1-57h0m0 19h0m0 45h0m1-21h0m1-35h0m0 18h0m0 1h0m0 47h0m1-54h0m0 17h0m1-3h0m0 25h0m1-59h0m0 32h0m0 53h0m1-76h0m0 25h0m0 22h0m3 38h0m1-53h0m0 38h0m0 39h0m1-94h0m0 116h0m1-122h0m0 40h0m0 29h0m0 46h0m1-133h0m0 49h0m0 6h0m0 33h0m1-37h0m2 32h0m2-38h0"/>
<path transform="scale(0.25)" stroke="#808080" stroke-opacity="0.55" stroke-width="3.2" stroke-linecap="square" fill="none" d="m65 285h0m6 49h0m3 50h0m1-158h0m10 63h0m5-24h0m1-43h0m0 69h0m4 14h0m4 14h0m2-48h0m10 121h0m2-148h0m3 78h0m1-7h0m1-20h0m6-51h0m3-76h0m3 142h0m1-51h0m5-92h0m3 54h0m1 115h0m3-145h0m4 46h0m1-35h0m2-4h0m0 178h0m2-152h0m0 16h0m0 25h0m1 124h0m5-29h0m0 19h0m6-150h0m5-15h0m3 4h0m3 31h0m2-98h0m0 132h0m2-29h0m0 28h0m1-25h0m0 34h0m0 46h0m1-199h0m0 140h0m1 25h0m2-75h0m0 51h0m3-2h0m2-53h0m1 61h0m0 16h0m0 24h0m1-40h0m1-42h0m2-1h0m0 25h0m0 83h0m1-50h0m1 16h0m1-40h0m0 39h0m1-86h0m1 28h0m2-45h0m1 11h0m2-39h0m0 49h0m2-65h0m0 58h0m1 72h0m1-108h0m2 19h0m0 27h0m1 53h0m1 22h0m1-89h0m0 13h0m2 63h0m1-101h0m0 34h0m0 75h0m1-156h0m1 39h0m0 43h0m0 5h0m1-3h0m0 113h0m3-222h0m0 32h0m0 96h0m0 25h0m1-86h0m2-12h0m0 30h0m1 50h0m0 12h0m1-70h0m0 137h0m2-93h0m0 61h0m1-94h0m2 87h0m1-114h0m0 135h0m3-135h0m0 14h0m1 105h0m0 20h0m2 68h0m1-164h0m0 80h0m1-59h0m1-84h0m0 25h0m0 28h0m1 23h0m1-51h0m1-5h0m0 17h0m2-49h0m0 65h0m1-45h0m0 111h0m0 23h0m2-81h0m0 12h0m1-74h0m1 79h0m0 60h0m0 11h0m1-151h0m0 15h0m1 32h0m1-42h0m0 69h0m1-67h0m1-50h0m0 54h0m0 108h0m0 19h0m0 23h0m1-55h0m1-135h0m0 38h0m0 44h0m0 72h0m0 16h0m1 12h0m1-25h0m4-124h0m0 51h0m0 1h0m0 131h0m1-169h0m0 59h0m3-7h0m1-37h0m1 60h0m1-92h0m1-22h0m1-13h0m1 9h0m0 38h0m1 28h0m0 1h0m0 19h0m0 5h0m0 13h0m1-92h0m1 30h0m0 65h0m0 8h0m2-86h0m0 38h0m0 92h0m1-177h0m1 47h0m2 23h0m2 69h0m1-105h0m0 33h0m0 38h0m1 84h0m1-8h0m0 50h0m3-224h0m1 7h0m0 16h0m0 119h0m1-171h0m0 249h0m1-251h0m0 31h0m2 2h0m0 32h0m0 81h0m0 2h0m1 63h0m1-124h0m1 33h0m1-50h0m0 24h0m0 146h0m1-235h0m0 197h0m1-193h0m0 22h0m0 23h0m0 112h0m0 29h0m2-178h0m1 91h0m1-36h0m0 53h0m1-19h0m0 3h0m0 33h0m0 42h0m1-112h0m0 90h0m2-162h0m0 23h0m0 57h0m0 14h0m0 10h0m1-18h0m1-22h0m0 27h0m0 43h0m1-14h0m1-69h0m0 55h0m0 102h0m1-110h0m0 59h0m1-95h0m1-30h0m1 96h0m1-25h0m1 14h0m1-25h0m0 24h0m0 5h0m2-94h0m1 45h0m1 78h0m1-102h0m0 46h0m0 62h0m1-95h0m0 20h0m1 59h0m1-40h0m4-98h0m2 130h0m1-100h0m0 76h0m0 35h0m1-68h0m0 62h0m0 35h0m2-107h0m0 94h0m1-56h0m1 1h0m0 86h0m1-188h0m2 28h0m0 53h0m1-20h0m1 1h0m1 213h0m1-240h0m0 19h0m1 25h0m1-65h0m1 47h0m0 44h0m2-72h0m1 38h0m1 102h0m1-129h0m1-23h0m0 74h0m0 7h0m2 19h0m1 10h0m1-42h0m2-18h0m0 25h0m1-73h0m0 66h0m2 89h0m1-145h0m4 55h0m0 18h0m2-44h0m1-34h0m1 35h0m3-42h0m1 22h0m1 21h0m3-46h0m0 6h0m4 71h0m2-74h0m0 37h0m0 159h0m2-139h0m2-78h0m1 40h0m3 85h0m6 2h0m4-47h0m1-79h0m1 78h0m1 28h0"/>
<path transform="scale(0.25)" stroke="#555" stroke-opacity="0.7" stroke-width="3.6" stroke-linecap="square" fill="none" d="m74 377h0m10-13h0m1 20h0m4-29h0m0 23h0m4-31h0m0 8h0m1-11h0m0 22h0m0 4h0m1-21h0m1 28h0m0 2h0m1-39h0m0 30h0m0 6h0m1-16h0m0 27h0m1-30h0m1 4h0m0 8h0m2-13h0m0 5h0m0 1h0m0 19h0m0 5h0m1-32h0m1 3h0m1 5h0m1-17h0m0 24h0m0 0h0m1-3h0m0 3h0m0 21h0m1-56h0m0 19h0m1 26h0m1-50h0m0 2h0m0 12h0m0 11h0m0 4h0m1-34h0m0 11h0m0 16h0m0 5h0m0 11h0m0 1h0m1-27h0m0 2h0m0 14h0m1-39h0m0 47h0m0 8h0m1-40h0m0 21h0m0 5h0m0 4h0m0 9h0m0 0h0m0 12h0m1-27h0m0 3h0m1-16h0m0 1h0m0 6h0m0 17h0m1-16h0m0 7h0m0 10h0m1-61h0m0 48h0m2-38h0m0 19h0m0 23h0m1 11h0m0 10h0m1-47h0m0 19h0m0 13h0m1-45h0m0 6h0m1 16h0m1-18h0m0 16h0m0 2h0m0 6h0m0 2h0m1-4h0m1-39h0m0 33h0m1-14h0m0 3h0m1-3h0m2 16h0m1 4h0m0 6h0m0 2h0m2-32h0m0 27h0m1-21h0m2 2h0m1-20h0m0 14h0m0 9h0m0 15h0m1 10h0m2-22h0m7-4h0"/>
<path transform="scale(0.25)" stroke="#111" stroke-opacity="0.9" stroke-width="4" stroke-linecap="square" fill="none" d="m67 399h0m2-1h0m3-9h0m0 1h0m1 10h0m1-16h0m0 7h0m0 5h0m2-4h0m0 0h0m0 1h0m0 4h0m1-6h0m1 1h0m0 5h0m1-3h0m0 1h0m0 3h0m1-4h0m0 2h0m0 2h0m1-7h0m0 1h0m0 1h0m0 5h0m1-6h0m0 0h0m1 1h0m0 3h0m1-10h0m0 2h0m0 6h0m1 4h0m1-12h0m0 0h0m0 11h0m1-12h0m0 1h0m0 6h0m0 2h0m0 5h0m1-14h0m0 11h0m0 1h0m1-9h0m0 4h0m0 2h0m0 3h0m2-10h0m0 7h0m1 3h0m0 1h0m1-16h0m0 7h0m1-2h0m0 5h0m2 0h0m0 1h0m1 0h0m2 0h0"/>
<path transform="scale(0.25)" stroke="#dcb0f0" stroke-opacity="0.55" stroke-width="3.6" stroke-linecap="square" fill="none" d="m117 315h0m6-15h0m3 59h0m1-7h0m1-39h0m1 9h0m1-41h0m0 17h0m1 23h0m1-19h0m0 56h0m2-37h0m0 26h0m1-46h0m0 39h0m1-24h0m1-50h0m0 88h0m0 8h0m1-91h0m3-6h0m1 14h0m1 33h0m1-45h0m0 23h0m0 22h0m0 11h0m1-68h0m0 25h0m0 27h0m1-25h0m0 14h0m0 48h0m0 6h0m2-66h0m0 3h0m0 24h0m0 36h0m1-86h0m0 18h0m0 19h0m0 13h0m1-45h0m0 57h0m1-43h0m0 12h0m0 32h0m0 42h0m1-89h0m0 42h0m2-56h0m0 95h0m2-78h0m0 38h0m0 36h0m1-121h0m0 80h0m1-51h0m0 14h0m0 64h0m0 28h0m2-108h0m0 49h0m0 8h0m0 8h0m1-63h0m0 29h0m0 29h0m0 21h0m0 25h0m1-110h0m0 75h0m1-51h0m0 22h0m0 32h0m0 8h0m1-125h0m0 39h0m0 55h0m0 3h0m0 34h0m1-79h0m0 0h0m0 3h0m0 106h0m1-104h0m0 37h0m1-69h0m0 0h0m0 14h0m0 34h0m0 50h0m0 37h0m1-149h0m0 38h0m0 1h0m0 20h0m0 2h0m0 4h0m0 28h0m0 14h0m1-54h0m0 10h0m0 20h0m0 60h0m1-100h0m0 0h0m0 39h0m0 26h0m0 8h0m1-69h0m0 28h0m0 26h0m1-83h0m0 15h0m0 30h0m0 10h0m0 9h0m1-54h0m0 4h0m0 45h0m1-74h0m0 79h0m0 11h0m0 10h0m1-92h0m0 12h0m0 40h0m0 67h0m1-56h0m0 65h0m1-143h0m0 49h0m0 5h0m1 27h0m0 18h0m1-38h0m0 4h0m0 5h0m0 14h0m1-32h0m0 0h0m0 2h0m0 14h0m0 29h0m1-78h0m0 15h0m1-38h0m0 40h0m0 20h0m0 3h0m0 13h0m1-69h0m0 31h0m0 22h0m0 19h0m0 13h0m0 3h0m0 26h0m1-92h0m0 52h0m0 20h0m0 5h0m1-74h0m0 4h0m0 8h0m0 20h0m1-30h0m0 20h0m0 13h0m0 47h0m0 46h0m1-135h0m0 15h0m0 5h0m0 12h0m0 63h0m0 15h0m1-90h0m0 11h0m0 22h0m0 32h0m0 13h0m1-131h0m0 125h0m0 14h0m1-84h0m0 0h0m0 2h0m0 9h0m0 6h0m0 15h0m0 62h0m1-159h0m0 27h0m0 25h0m0 7h0m0 26h0m0 16h0m0 1h0m0 7h0m0 5h0m0 16h0m1-100h0m0 6h0m0 3h0m0 41h0m0 7h0m0 45h0m1-137h0m0 14h0m0 31h0m0 7h0m0 23h0m1-55h0m0 51h0m0 5h0m0 14h0m0 21h0m1-79h0m0 6h0m0 28h0m0 10h0m0 25h0m1-49h0m0 8h0m0 13h0m0 35h0m0 10h0m0 60h0m1-135h0m0 12h0m0 41h0m1-55h0m0 11h0m0 21h0m0 28h0m0 3h0m0 21h0m0 6h0m1-72h0m0 5h0m0 20h0m0 53h0m0 5h0m1-100h0m0 8h0m0 8h0m0 13h0m0 21h0m1-31h0m0 8h0m0 1h0m0 10h0m0 7h0m0 11h0m0 46h0m1-138h0m0 2h0m0 86h0m0 28h0m0 60h0m1-135h0m0 34h0m0 23h0m0 68h0m1-117h0m0 16h0m0 27h0m0 16h0m0 2h0m0 6h0m0 27h0m0 6h0m1-55h0m0 19h0m1-79h0m0 12h0m0 0h0m0 28h0m0 40h0m0 23h0m0 11h0m0 8h0m1-91h0m0 27h0m0 35h0m1-126h0m0 35h0m0 8h0m0 10h0m0 22h0m0 12h0m0 13h0m0 19h0m0 20h0m0 36h0m1-163h0m0 25h0m0 19h0m0 13h0m0 21h0m0 1h0m0 3h0m1-77h0m0 46h0m0 4h0m0 43h0m1-71h0m0 7h0m0 8h0m0 4h0m0 27h0m0 35h0m1-121h0m0 23h0m0 29h0m0 11h0m0 19h0m0 22h0m0 4h0m1-64h0m0 8h0m0 8h0m0 6h0m0 20h0m0 3h0m0 0h0m0 33h0m0 45h0m1-115h0m0 3h0m0 7h0m0 44h0m1-96h0m0 7h0m0 7h0m0 11h0m0 21h0m0 57h0m0 22h0m1-113h0m0 5h0m0 10h0m0 18h0m0 9h0m0 13h0m1-51h0m0 7h0m0 20h0m0 23h0m0 7h0m0 11h0m0 15h0m0 19h0m1-108h0m0 13h0m0 29h0m0 30h0m0 21h0m1-88h0m0 18h0m0 17h0m0 3h0m0 18h0m0 2h0m0 13h0m0 56h0m1-125h0m0 5h0m0 57h0m0 4h0m0 0h0m0 5h0m0 22h0m0 1h0m0 1h0m1-95h0m0 5h0m0 7h0m0 36h0m0 3h0m0 15h0m0 6h0m0 17h0m0 9h0m1-60h0m0 10h0m0 1h0m0 66h0m1-129h0m0 35h0m0 22h0m0 8h0m0 7h0m0 3h0m0 51h0m1-47h0m0 8h0m0 60h0m1-146h0m0 24h0m0 6h0m0 3h0m0 3h0m0 8h0m0 24h0m0 30h0m0 0h0m0 2h0m1-74h0m0 3h0m0 34h0m0 6h0m0 9h0m0 24h0m1-72h0m0 0h0m0 39h0m0 17h0m1-70h0m0 18h0m0 7h0m0 7h0m0 16h0m1-54h0m0 13h0m0 10h0m0 4h0m0 3h0m0 11h0m0 2h0m0 8h0m0 51h0m0 8h0m0 19h0m1-85h0m0 2h0m0 11h0m0 14h0m0 3h0m0 4h0m1-49h0m0 22h0m0 6h0m0 15h0m0 13h0m1-75h0m0 6h0m0 14h0m0 3h0m0 11h0m0 38h0m1-69h0m0 6h0m0 3h0m0 3h0m0 12h0m0 4h0m0 4h0m0 5h0m0 15h0m0 10h0m1-74h0m0 16h0m0 8h0m0 17h0m0 24h0m0 13h0m1-88h0m0 17h0m0 26h0m0 12h0m0 7h0m0 15h0m0 43h0m1-77h0m0 16h0m0 21h0m0 5h0m0 4h0m1-74h0m0 27h0m0 21h0m0 1h0m1-68h0m0 37h0m0 44h0m1-78h0m0 25h0m0 2h0m0 14h0m1 4h0m0 4h0m0 8h0m0 13h0m1-49h0m0 18h0m0 9h0m0 18h0m0 3h0m0 44h0m1-111h0m0 30h0m0 30h0m0 1h0m0 11h0m0 2h0m0 8h0m1-67h0m0 6h0m0 27h0m0 1h0m0 5h0m0 3h0m0 11h0m0 0h0m0 9h0m0 15h0m1-70h0m0 31h0m1-32h0m0 11h0m0 10h0m0 10h0m0 27h0m0 7h0m1-47h0m0 8h0m0 33h0m0 4h0m1-98h0m0 30h0m0 7h0m0 6h0m0 7h0m0 10h0m0 4h0m0 19h0m0 16h0m1-74h0m0 16h0m0 19h0m0 35h0m1-86h0m0 11h0m0 36h0m0 11h0m0 1h0m0 38h0m1-69h0m0 1h0m0 11h0m0 10h0m0 17h0m0 1h0m0 2h0m0 1h0m0 0h0m0 2h0m0 2h0m0 6h0m0 55h0m1-122h0m0 27h0m1 1h0m0 6h0m0 66h0m1-82h0m0 10h0m0 16h0m0 11h0m0 11h0m0 27h0m0 10h0m1-115h0m0 13h0m0 8h0m0 48h0m0 12h0m0 14h0m1-81h0m0 7h0m0 11h0m0 6h0m0 8h0m0 7h0m0 27h0m0 40h0m1-93h0m0 13h0m0 3h0m0 14h0m0 7h0m0 19h0m0 1h0m1-72h0m0 39h0m0 41h0m0 13h0m1-101h0m0 25h0m0 22h0m0 6h0m0 2h0m0 6h0m0 45h0m1-101h0m0 8h0m0 14h0m0 8h0m0 5h0m0 5h0m0 4h0m0 4h0m1-48h0m0 5h0m0 26h0m0 7h0m0 78h0m1-129h0m0 32h0m0 20h0m0 2h0m0 20h0m1-74h0m0 3h0m0 23h0m0 31h0m0 19h0m0 10h0m0 10h0m1-98h0m0 2h0m0 50h0m0 43h0m0 11h0m1-104h0m0 45h0m0 44h0m0 14h0m1-58h0m0 83h0m1-127h0m0 3h0m0 15h0m0 18h0m0 48h0m0 4h0m0 19h0m1-104h0m0 32h0m0 14h0m0 64h0m1-78h0m0 19h0m0 13h0m0 16h0m1-77h0m0 33h0m0 84h0m1-124h0m0 15h0m0 22h0m1-10h0m0 52h0m0 10h0m1-83h0m0 41h0m0 27h0m0 23h0m1 5h0m1-89h0m0 14h0m0 28h0m1-44h0m0 6h0m0 20h0m0 4h0m0 39h0m1-16h0m0 19h0m1-76h0m0 26h0m0 2h0m0 76h0m1-95h0m0 2h0m0 35h0m0 12h0m0 0h0m1-43h0m0 10h0m0 10h0m1-10h0m0 17h0m1-8h0m0 8h0m0 7h0m0 25h0m0 13h0m1-73h0m0 26h0m1-31h0m0 17h0m0 16h0m1-27h0m0 3h0m0 54h0m0 24h0m0 15h0m1-88h0m0 51h0m1-70h0m0 46h0m0 8h0m0 8h0m1-66h0m0 45h0m0 28h0m0 3h0m1-42h0m0 63h0m1-97h0m0 24h0m0 39h0m0 22h0m1-77h0m0 12h0m1 38h0m1-33h0m0 6h0m0 3h0m0 19h0m2-37h0m0 72h0m1-76h0m0 52h0m0 8h0m1-49h0m0 44h0m1-37h0m1-12h0m0 35h0m1-14h0m0 5h0m0 7h0m1-49h0m1 10h0m0 75h0m1-75h0m0 42h0m0 11h0m1-53h0m1-11h0m0 73h0m1-48h0m1 6h0m0 27h0m1-13h0m1 4h0m1-34h0m1-2h0"/>
<path transform="scale(0.25)" stroke="#b848e8" stroke-opacity="0.55" stroke-width="3.6" stroke-linecap="square" fill="none" d="m123 331h0m2-10h0m0 24h0m1-11h0m0 32h0m1-33h0m0 0h0m1-3h0m0 8h0m1-44h0m0 15h0m0 23h0m0 9h0m0 5h0m1-30h0m0 31h0m1-43h0m0 33h0m0 17h0m1-71h0m0 29h0m0 5h0m0 12h0m1-7h0m0 38h0m1-64h0m0 42h0m0 4h0m0 1h0m1-32h0m0 38h0m1-65h0m0 18h0m0 30h0m0 4h0m0 4h0m0 2h0m1-72h0m0 12h0m0 29h0m0 45h0m1-59h0m0 20h0m1-27h0m0 62h0m0 4h0m1-56h0m0 29h0m0 16h0m0 16h0m1-23h0m1-54h0m0 31h0m0 18h0m0 13h0m0 10h0m0 9h0m0 7h0m1-75h0m0 16h0m0 4h0m0 35h0m1-83h0m0 42h0m0 31h0m0 25h0m1-58h0m0 3h0m0 5h0m0 19h0m0 1h0m0 29h0m0 3h0m1-76h0m0 34h0m0 23h0m0 7h0m1-63h0m0 11h0m0 2h0m0 2h0m0 8h0m0 13h0m0 10h0m0 2h0m0 8h0m0 15h0m1-76h0m0 1h0m0 30h0m0 6h0m1-31h0m0 21h0m0 18h0m0 37h0m1-101h0m0 29h0m0 4h0m0 1h0m0 26h0m0 7h0m0 19h0m0 15h0m1-62h0m0 6h0m0 0h0m0 1h0m0 6h0m0 5h0m0 15h0m0 17h0m0 8h0m0 2h0m1-81h0m0 5h0m0 57h0m1-54h0m0 12h0m0 59h0m1-79h0m0 2h0m0 22h0m0 2h0m0 3h0m0 8h0m0 1h0m0 1h0m0 3h0m0 3h0m0 8h0m0 24h0m1-78h0m0 4h0m0 14h0m0 18h0m0 1h0m0 15h0m0 1h0m0 1h0m0 14h0m0 7h0m0 4h0m0 7h0m1-100h0m0 13h0m0 3h0m0 14h0m0 17h0m0 4h0m0 10h0m0 5h0m1-54h0m0 14h0m0 31h0m0 0h0m0 1h0m0 12h0m1-70h0m0 11h0m0 10h0m0 11h0m0 1h0m0 1h0m0 23h0m0 1h0m0 5h0m0 2h0m0 13h0m0 21h0m0 3h0m1-78h0m0 4h0m0 21h0m0 6h0m0 1h0m0 2h0m0 14h0m0 14h0m0 3h0m1-77h0m0 26h0m0 3h0m0 21h0m0 3h0m0 12h0m1-43h0m0 2h0m0 1h0m0 15h0m0 1h0m0 2h0m0 2h0m0 6h0m0 10h0m0 2h0m0 4h0m1-83h0m0 16h0m0 2h0m0 11h0m0 5h0m0 2h0m0 5h0m0 3h0m0 4h0m0 11h0m0 3h0m0 8h0m0 0h0m1-57h0m0 0h0m0 6h0m0 22h0m0 7h0m0 1h0m0 2h0m0 2h0m0 23h0m0 3h0m1-91h0m0 43h0m0 7h0m0 17h0m0 6h0m0 1h0m0 2h0m0 5h0m0 1h0m0 2h0m0 1h0m0 24h0m1-76h0m0 2h0m0 4h0m0 6h0m0 1h0m0 7h0m0 5h0m0 5h0m0 5h0m0 3h0m0 1h0m0 0h0m0 4h0m0 3h0m0 5h0m0 12h0m1-92h0m0 20h0m0 16h0m0 5h0m0 7h0m0 23h0m0 0h0m0 5h0m0 5h0m0 4h0m0 1h0m0 7h0m0 1h0m0 5h0m1-75h0m0 13h0m0 12h0m0 10h0m0 2h0m0 15h0m0 0h0m1-35h0m0 6h0m0 14h0m0 1h0m0 3h0m0 8h0m0 9h0m0 14h0m0 1h0m1-85h0m0 44h0m0 6h0m0 1h0m0 21h0m0 6h0m0 11h0m0 5h0m1-88h0m0 23h0m0 9h0m0 4h0m0 1h0m0 0h0m0 15h0m0 1h0m0 11h0m0 9h0m0 1h0m0 21h0m1-112h0m0 4h0m0 18h0m0 15h0m0 9h0m0 8h0m0 3h0m0 3h0m0 3h0m0 11h0m0 7h0m0 0h0m0 0h0m0 2h0m0 26h0m1-98h0m0 3h0m0 5h0m0 1h0m0 22h0m0 5h0m0 0h0m0 5h0m0 6h0m0 7h0m0 0h0m1-53h0m0 26h0m0 10h0m0 8h0m0 1h0m0 2h0m0 4h0m0 2h0m0 2h0m0 1h0m0 13h0m0 0h0m1-43h0m0 11h0m0 9h0m0 2h0m0 3h0m0 1h0m0 3h0m0 2h0m0 0h0m0 7h0m0 1h0m0 3h0m0 5h0m0 6h0m0 9h0m0 11h0m0 3h0m0 2h0m1-150h0m0 37h0m0 18h0m0 1h0m0 4h0m0 24h0m0 2h0m0 0h0m0 2h0m0 3h0m0 7h0m0 8h0m0 5h0m0 10h0m0 8h0m1-85h0m0 15h0m0 12h0m0 1h0m0 15h0m0 0h0m0 1h0m0 5h0m0 3h0m0 26h0m0 10h0m0 4h0m0 2h0m0 3h0m0 11h0m0 1h0m0 1h0m1-137h0m0 12h0m0 10h0m0 8h0m0 15h0m0 10h0m0 2h0m0 2h0m0 3h0m0 4h0m0 0h0m0 15h0m0 2h0m0 7h0m0 0h0m0 1h0m0 0h0m0 6h0m0 6h0m0 5h0m0 25h0m1-142h0m0 44h0m0 6h0m0 14h0m0 0h0m0 1h0m0 10h0m0 15h0m0 3h0m0 4h0m0 3h0m0 44h0m1-119h0m0 3h0m0 18h0m0 11h0m0 5h0m0 1h0m0 9h0m0 3h0m0 22h0m0 21h0m0 9h0m1-94h0m0 10h0m0 10h0m0 4h0m0 7h0m0 5h0m0 2h0m0 7h0m0 11h0m0 5h0m0 1h0m0 9h0m1-68h0m0 7h0m0 3h0m0 4h0m0 6h0m0 4h0m0 8h0m0 1h0m0 36h0m0 10h0m0 3h0m0 5h0m0 6h0m0 11h0m1-93h0m0 1h0m0 12h0m0 6h0m0 2h0m0 4h0m0 16h0m0 7h0m0 14h0m0 0h0m0 4h0m0 12h0m0 8h0m1-93h0m0 15h0m0 1h0m0 4h0m0 5h0m0 4h0m0 2h0m0 3h0m0 4h0m0 12h0m0 2h0m0 3h0m0 6h0m0 1h0m0 1h0m0 3h0m0 2h0m0 2h0m0 9h0m1-90h0m0 5h0m0 0h0m0 18h0m0 16h0m0 15h0m0 10h0m0 9h0m0 4h0m0 5h0m0 9h0m0 7h0m0 2h0m1-96h0m0 6h0m0 15h0m0 2h0m0 1h0m0 17h0m0 20h0m0 12h0m0 2h0m0 24h0m0 13h0m0 3h0m1-108h0m0 15h0m0 7h0m0 15h0m0 1h0m0 27h0m0 13h0m0 6h0m0 2h0m0 4h0m0 20h0m1-108h0m0 11h0m0 4h0m0 2h0m0 0h0m0 4h0m0 2h0m0 4h0m0 9h0m0 6h0m0 1h0m0 5h0m0 2h0m0 4h0m0 7h0m0 6h0m0 5h0m1-92h0m0 31h0m0 3h0m0 1h0m0 21h0m0 13h0m0 1h0m0 6h0m0 31h0m0 14h0m1-98h0m0 9h0m0 1h0m0 1h0m0 6h0m0 1h0m0 0h0m0 1h0m0 0h0m0 21h0m0 11h0m0 28h0m1-111h0m0 10h0m0 14h0m0 9h0m0 3h0m0 2h0m0 8h0m0 3h0m0 8h0m0 7h0m0 2h0m0 2h0m0 0h0m0 3h0m0 12h0m0 3h0m0 4h0m0 4h0m0 1h0m0 14h0m0 6h0m1-80h0m0 6h0m0 21h0m0 2h0m0 5h0m0 3h0m0 5h0m0 0h0m0 1h0m0 1h0m0 2h0m0 6h0m0 6h0m0 8h0m0 7h0m0 11h0m0 16h0m1-108h0m0 2h0m0 11h0m0 10h0m0 1h0m0 13h0m0 4h0m0 2h0m0 1h0m0 2h0m0 4h0m0 3h0m0 4h0m0 4h0m0 23h0m0 9h0m0 1h0m0 11h0m1-153h0m0 56h0m0 12h0m0 7h0m0 6h0m0 8h0m0 5h0m0 6h0m0 3h0m0 4h0m0 1h0m0 15h0m0 1h0m0 2h0m1-110h0m0 23h0m0 5h0m0 17h0m0 4h0m0 3h0m0 17h0m0 14h0m0 15h0m0 10h0m1-75h0m0 3h0m0 14h0m0 5h0m0 3h0m0 2h0m0 9h0m0 1h0m0 1h0m0 3h0m0 26h0m1-82h0m0 32h0m0 7h0m0 2h0m0 5h0m0 9h0m0 0h0m0 3h0m0 0h0m0 2h0m0 16h0m0 1h0m0 2h0m0 4h0m0 1h0m0 10h0m0 4h0m1-94h0m0 18h0m0 0h0m0 7h0m0 5h0m0 11h0m0 3h0m0 5h0m0 0h0m0 9h0m0 9h0m0 3h0m0 19h0m1-103h0m0 15h0m0 11h0m0 9h0m0 3h0m0 3h0m0 1h0m0 8h0m0 22h0m0 9h0m0 10h0m0 7h0m0 2h0m1-98h0m0 8h0m0 38h0m0 0h0m0 2h0m0 2h0m0 2h0m0 0h0m0 5h0m0 4h0m0 5h0m0 1h0m0 1h0m0 3h0m0 1h0m0 16h0m0 4h0m0 4h0m1-96h0m0 32h0m0 13h0m0 22h0m0 11h0m0 14h0m0 2h0m0 21h0m1-120h0m0 8h0m0 31h0m0 2h0m0 7h0m0 2h0m0 6h0m0 12h0m0 1h0m0 5h0m0 15h0m0 18h0m1-110h0m0 8h0m0 15h0m0 1h0m0 7h0m0 2h0m0 9h0m0 9h0m0 3h0m0 23h0m0 1h0m0 5h0m0 5h0m0 21h0m0 1h0m1-91h0m0 1h0m0 1h0m0 11h0m0 4h0m0 3h0m0 1h0m0 16h0m0 2h0m0 1h0m0 10h0m0 2h0m0 1h0m0 22h0m0 15h0m1-97h0m0 23h0m0 5h0m0 2h0m0 1h0m0 9h0m0 1h0m0 3h0m0 7h0m0 5h0m0 5h0m0 6h0m0 2h0m0 0h0m0 2h0m1-73h0m0 24h0m0 2h0m0 23h0m0 1h0m0 1h0m0 1h0m0 1h0m0 3h0m0 7h0m0 14h0m0 1h0m0 6h0m1-94h0m0 1h0m0 32h0m0 17h0m0 2h0m0 1h0m0 2h0m0 11h0m0 4h0m0 10h0m0 2h0m0 0h0m0 7h0m1-86h0m0 7h0m0 12h0m0 7h0m0 12h0m0 20h0m0 9h0m0 4h0m0 3h0m0 3h0m0 13h0m0 24h0m1-105h0m0 4h0m0 2h0m0 11h0m0 17h0m0 23h0m0 1h0m0 1h0m0 10h0m1-87h0m0 54h0m0 1h0m0 2h0m0 4h0m0 1h0m0 0h0m0 12h0m0 1h0m0 2h0m0 29h0m0 7h0m0 30h0m1-110h0m0 13h0m0 2h0m0 0h0m0 1h0m0 2h0m0 0h0m0 7h0m0 3h0m0 9h0m0 25h0m1-56h0m0 2h0m0 2h0m0 24h0m0 2h0m0 18h0m0 3h0m0 8h0m1-46h0m0 1h0m0 1h0m0 6h0m0 2h0m0 6h0m0 3h0m0 1h0m0 3h0m0 21h0m0 6h0m0 8h0m0 4h0m1-97h0m0 7h0m0 7h0m0 5h0m0 2h0m0 0h0m0 16h0m0 2h0m0 1h0m0 17h0m0 3h0m0 5h0m0 2h0m0 13h0m0 2h0m1-72h0m0 8h0m0 10h0m0 0h0m0 6h0m0 6h0m0 2h0m0 17h0m0 1h0m0 10h0m0 17h0m0 8h0m1-116h0m0 34h0m0 1h0m0 5h0m0 0h0m0 11h0m0 7h0m0 3h0m0 7h0m0 0h0m0 1h0m0 1h0m0 3h0m0 0h0m0 1h0m0 2h0m0 11h0m0 5h0m0 6h0m0 2h0m0 2h0m0 19h0m1-98h0m0 19h0m0 2h0m0 3h0m0 0h0m0 1h0m0 2h0m0 28h0m0 13h0m0 8h0m0 2h0m0 30h0m1-109h0m0 20h0m0 4h0m0 32h0m0 34h0m0 13h0m0 5h0m1-148h0m0 32h0m0 4h0m0 7h0m0 10h0m0 12h0m0 0h0m0 1h0m0 3h0m0 1h0m0 1h0m0 5h0m0 9h0m0 5h0m0 19h0m0 15h0m0 18h0m0 6h0m1-100h0m0 0h0m0 2h0m0 14h0m0 14h0m0 3h0m0 1h0m0 8h0m0 8h0m0 43h0m1-105h0m0 31h0m0 4h0m0 2h0m0 1h0m0 12h0m0 0h0m0 6h0m0 0h0m0 0h0m0 10h0m0 30h0m0 1h0m0 22h0m1-118h0m0 12h0m0 22h0m0 2h0m0 0h0m0 2h0m0 26h0m0 16h0m0 16h0m1-68h0m0 3h0m0 6h0m0 1h0m0 29h0m0 18h0m0 11h0m1-115h0m0 29h0m0 7h0m0 4h0m0 14h0m0 11h0m0 3h0m0 0h0m0 4h0m0 4h0m0 3h0m0 1h0m0 5h0m0 3h0m0 3h0m0 11h0m0 10h0m1-102h0m0 4h0m0 33h0m0 3h0m0 3h0m0 14h0m0 2h0m0 16h0m0 1h0m0 23h0m1-77h0m0 14h0m0 26h0m0 6h0m0 13h0m0 10h0m1-56h0m0 7h0m0 7h0m0 28h0m1-70h0m0 6h0m0 27h0m0 1h0m0 21h0m0 21h0m0 13h0m0 0h0m0 1h0m1-132h0m0 43h0m0 6h0m0 5h0m0 25h0m0 3h0m0 10h0m0 8h0m0 5h0m0 6h0m0 15h0m1-106h0m0 47h0m0 7h0m0 6h0m0 29h0m0 5h0m0 23h0m1-106h0m0 16h0m0 20h0m0 8h0m0 2h0m0 2h0m0 7h0m0 11h0m0 4h0m0 3h0m0 7h0m1-68h0m0 12h0m0 1h0m0 3h0m0 9h0m0 11h0m0 10h0m0 3h0m0 11h0m0 21h0m0 9h0m0 13h0m0 1h0m1-95h0m0 22h0m0 15h0m0 1h0m0 54h0m1-121h0m0 11h0m0 24h0m0 15h0m0 8h0m0 9h0m0 4h0m0 24h0m1-76h0m0 22h0m0 19h0m0 26h0m0 7h0m0 7h0m0 8h0m1-83h0m0 15h0m0 17h0m0 1h0m0 19h0m0 4h0m0 11h0m1-52h0m0 19h0m0 1h0m0 17h0m0 26h0m0 5h0m1-106h0m0 15h0m0 10h0m0 10h0m0 1h0m0 12h0m0 10h0m0 30h0m1-56h0m0 36h0m0 0h0m0 3h0m0 10h0m0 14h0m0 16h0m0 20h0m1-122h0m0 17h0m0 23h0m0 32h0m0 4h0m1-72h0m0 16h0m0 37h0m0 4h0m0 15h0m0 42h0m1-94h0m0 9h0m0 22h0m0 15h0m0 23h0m1-80h0m0 32h0m0 6h0m0 7h0m0 30h0m0 1h0m1-58h0m0 21h0m1-22h0m0 4h0m0 3h0m0 14h0m1-20h0m0 37h0m0 12h0m1-54h0m0 11h0m0 16h0m0 48h0m1-86h0m0 5h0m0 1h0m0 9h0m0 3h0m0 24h0m1-35h0m0 0h0m0 18h0m0 10h0m0 3h0m1-70h0m0 15h0m0 35h0m0 21h0m0 1h0m0 2h0m1-14h0m0 16h0m0 15h0m1-74h0m0 70h0m1-80h0m0 18h0m1 3h0m0 47h0m0 14h0m1-71h0m0 15h0m0 8h0m1-5h0m0 18h0m0 3h0m0 6h0m0 7h0m0 17h0m0 1h0m1-41h0m1 29h0m0 4h0m0 30h0m1-43h0m0 4h0m0 2h0m0 32h0m1-90h0m0 9h0m0 7h0m1 3h0m0 27h0m0 18h0m0 1h0m1-34h0m0 12h0m0 39h0m1-39h0m1-38h0m0 44h0m1-64h0m1 73h0m1-43h0m0 45h0m1 25h0m2-37h0m1-76h0m0 72h0m1-20h0m0 20h0m0 1h0m1 4h0m1 19h0m1-34h0m3 0h0m0 15h0m5-73h0m10 76h0m1-17h0"/>
<path transform="scale(0.25)" stroke="#a82ad8" stroke-opacity="0.6" stroke-width="3.6" stroke-linecap="square" fill="none" d="m124 355h0m3-7h0m1-5h0m1 6h0m1-25h0m0 23h0m1-21h0m0 22h0m2 13h0m1-20h0m0 8h0m2-24h0m0 20h0m0 15h0m0 3h0m3-40h0m0 16h0m1 0h0m1-9h0m0 10h0m1-13h0m0 23h0m1-21h0m0 19h0m1 19h0m1-59h0m0 24h0m0 2h0m0 25h0m1-12h0m1-43h0m0 18h0m0 15h0m0 18h0m1-17h0m0 9h0m0 1h0m0 12h0m1-46h0m0 32h0m1-39h0m0 20h0m0 2h0m0 5h0m0 16h0m1-32h0m0 9h0m0 7h0m0 13h0m1-24h0m0 2h0m0 8h0m0 8h0m0 9h0m1-44h0m0 22h0m0 16h0m0 6h0m0 7h0m1-48h0m0 14h0m0 2h0m0 7h0m0 2h0m0 8h0m1-22h0m0 18h0m0 0h0m1-18h0m0 1h0m0 1h0m0 4h0m0 2h0m0 2h0m0 3h0m0 6h0m0 10h0m1-25h0m0 3h0m0 6h0m0 9h0m0 5h0m0 4h0m1-41h0m0 0h0m0 19h0m0 8h0m0 3h0m0 2h0m1-28h0m0 6h0m0 10h0m0 1h0m0 1h0m0 6h0m0 2h0m1-43h0m0 24h0m0 3h0m0 1h0m0 8h0m0 6h0m0 3h0m1-34h0m0 4h0m0 1h0m0 5h0m0 1h0m0 15h0m0 2h0m1-40h0m0 13h0m0 0h0m0 6h0m0 1h0m0 4h0m0 15h0m0 9h0m0 6h0m0 13h0m0 13h0m1-74h0m0 0h0m0 11h0m0 5h0m0 10h0m0 4h0m0 1h0m0 6h0m0 2h0m0 2h0m0 2h0m0 10h0m1-58h0m0 3h0m0 5h0m0 1h0m0 4h0m0 9h0m0 6h0m0 6h0m0 0h0m0 3h0m1-45h0m0 19h0m0 3h0m0 0h0m0 2h0m0 0h0m0 4h0m0 1h0m0 2h0m0 1h0m0 2h0m0 0h0m0 8h0m0 17h0m0 2h0m0 4h0m1-43h0m0 0h0m0 0h0m0 2h0m0 0h0m0 2h0m0 3h0m0 1h0m0 2h0m0 5h0m0 1h0m0 1h0m0 0h0m0 4h0m0 6h0m0 2h0m0 5h0m0 6h0m1-58h0m0 10h0m0 3h0m0 2h0m0 9h0m0 2h0m0 4h0m0 10h0m0 0h0m0 2h0m0 22h0m0 11h0m1-72h0m0 13h0m0 2h0m0 4h0m0 5h0m0 11h0m0 1h0m0 14h0m0 2h0m1-64h0m0 30h0m0 1h0m0 4h0m0 0h0m0 4h0m0 4h0m0 5h0m0 10h0m0 5h0m1-79h0m0 36h0m0 2h0m0 10h0m0 6h0m0 8h0m0 1h0m0 3h0m0 5h0m0 5h0m0 18h0m0 8h0m1-70h0m0 4h0m0 1h0m0 4h0m0 10h0m0 8h0m0 12h0m0 7h0m1-48h0m0 3h0m0 4h0m0 1h0m0 1h0m0 9h0m0 3h0m0 4h0m0 2h0m0 15h0m0 5h0m0 8h0m1-64h0m0 10h0m0 0h0m0 1h0m0 5h0m0 8h0m0 3h0m0 1h0m0 1h0m0 6h0m0 5h0m0 2h0m0 1h0m0 9h0m0 3h0m0 3h0m0 24h0m1-67h0m0 5h0m0 10h0m0 0h0m0 1h0m0 1h0m0 1h0m0 0h0m0 3h0m0 2h0m0 0h0m0 3h0m0 2h0m0 5h0m0 6h0m0 0h0m0 1h0m0 3h0m0 3h0m0 2h0m0 12h0m1-74h0m0 12h0m0 5h0m0 2h0m0 4h0m0 0h0m0 3h0m0 5h0m0 0h0m0 1h0m0 4h0m0 1h0m0 1h0m0 1h0m0 3h0m0 1h0m0 11h0m1-47h0m0 5h0m0 11h0m0 0h0m0 13h0m0 0h0m0 1h0m0 2h0m0 9h0m0 5h0m1-51h0m0 13h0m0 5h0m0 3h0m0 1h0m0 11h0m0 1h0m0 0h0m0 1h0m0 3h0m0 11h0m0 2h0m0 1h0m0 7h0m1-74h0m0 16h0m0 1h0m0 2h0m0 7h0m0 1h0m0 3h0m0 2h0m0 5h0m0 3h0m0 2h0m0 1h0m0 4h0m0 1h0m0 6h0m0 3h0m0 4h0m0 3h0m1-52h0m0 13h0m0 4h0m0 1h0m0 2h0m0 3h0m0 2h0m0 1h0m0 3h0m0 6h0m0 1h0m0 6h0m0 8h0m0 5h0m0 9h0m1-63h0m0 12h0m0 12h0m0 0h0m0 3h0m0 3h0m0 0h0m0 1h0m0 1h0m0 2h0m0 5h0m0 1h0m0 7h0m0 0h0m0 19h0m1-59h0m0 17h0m0 0h0m0 1h0m0 6h0m0 3h0m0 2h0m0 4h0m0 1h0m0 1h0m0 7h0m0 1h0m0 1h0m0 3h0m1-54h0m0 4h0m0 1h0m0 11h0m0 8h0m0 4h0m0 5h0m0 0h0m0 1h0m0 8h0m1-35h0m0 2h0m0 2h0m0 3h0m0 4h0m0 3h0m0 2h0m0 2h0m0 1h0m0 1h0m0 0h0m0 6h0m0 0h0m0 6h0m0 1h0m0 1h0m0 7h0m0 3h0m0 8h0m0 2h0m1-69h0m0 28h0m0 2h0m0 2h0m0 1h0m0 1h0m0 22h0m0 20h0m1-91h0m0 20h0m0 6h0m0 7h0m0 2h0m0 11h0m0 0h0m0 1h0m0 5h0m0 1h0m0 20h0m0 4h0m0 1h0m0 2h0m0 4h0m0 8h0m1-67h0m0 6h0m0 10h0m0 4h0m0 0h0m0 10h0m0 0h0m0 2h0m0 0h0m0 7h0m0 4h0m1-24h0m0 9h0m0 2h0m0 2h0m0 5h0m0 2h0m0 1h0m0 10h0m0 1h0m0 11h0m0 1h0m1-50h0m0 1h0m0 2h0m0 4h0m0 3h0m0 1h0m0 0h0m0 1h0m0 1h0m0 10h0m0 8h0m0 7h0m0 1h0m0 8h0m0 2h0m0 1h0m1-88h0m0 27h0m0 3h0m0 0h0m0 6h0m0 5h0m0 3h0m0 5h0m0 8h0m0 0h0m0 3h0m0 3h0m0 1h0m0 1h0m0 6h0m0 1h0m0 0h0m0 3h0m1-47h0m0 3h0m0 2h0m0 3h0m0 0h0m0 0h0m0 5h0m0 6h0m0 2h0m0 1h0m0 4h0m0 5h0m0 0h0m0 11h0m0 3h0m0 15h0m1-63h0m0 4h0m0 4h0m0 16h0m0 1h0m0 0h0m0 8h0m0 3h0m0 7h0m0 3h0m0 1h0m0 1h0m1-60h0m0 1h0m0 9h0m0 2h0m0 1h0m0 7h0m0 1h0m0 5h0m0 2h0m0 2h0m0 2h0m0 1h0m0 1h0m0 1h0m0 3h0m0 3h0m0 0h0m0 6h0m0 8h0m0 5h0m0 2h0m1-45h0m0 2h0m0 11h0m0 1h0m0 5h0m0 3h0m0 6h0m0 0h0m0 3h0m0 1h0m0 7h0m0 1h0m0 4h0m0 8h0m1-81h0m0 29h0m0 8h0m0 2h0m0 2h0m0 5h0m0 6h0m0 10h0m0 9h0m1-56h0m0 20h0m0 1h0m0 4h0m0 1h0m0 4h0m0 12h0m0 1h0m0 9h0m0 15h0m1-75h0m0 18h0m0 2h0m0 0h0m0 8h0m0 2h0m0 6h0m0 0h0m0 5h0m0 1h0m0 3h0m0 4h0m0 1h0m0 3h0m0 1h0m0 2h0m0 0h0m0 6h0m0 9h0m0 10h0m1-71h0m0 15h0m0 1h0m0 0h0m0 5h0m0 2h0m0 2h0m0 7h0m0 2h0m0 3h0m0 3h0m0 8h0m0 4h0m0 8h0m1-57h0m0 7h0m0 19h0m0 1h0m0 4h0m0 1h0m0 1h0m0 3h0m0 1h0m0 0h0m0 1h0m0 0h0m0 9h0m0 1h0m0 7h0m0 1h0m0 15h0m1-73h0m0 8h0m0 7h0m0 2h0m0 4h0m0 1h0m0 14h0m0 15h0m0 11h0m0 1h0m0 7h0m1-78h0m0 2h0m0 19h0m0 6h0m0 0h0m0 4h0m0 10h0m0 1h0m0 4h0m0 22h0m1-40h0m0 0h0m0 7h0m0 7h0m0 2h0m0 4h0m0 25h0m0 2h0m1-64h0m0 8h0m0 0h0m0 1h0m0 8h0m0 9h0m0 1h0m0 11h0m0 9h0m0 17h0m1-58h0m0 2h0m0 4h0m0 3h0m0 2h0m0 8h0m0 10h0m0 7h0m0 2h0m0 3h0m0 1h0m0 23h0m1-51h0m0 3h0m0 2h0m0 1h0m0 8h0m0 5h0m0 3h0m0 9h0m0 12h0m1-71h0m0 2h0m0 13h0m0 10h0m0 3h0m0 5h0m0 3h0m0 1h0m0 4h0m0 33h0m1-54h0m0 10h0m0 2h0m0 1h0m0 5h0m0 2h0m0 13h0m1-55h0m0 21h0m0 17h0m1-22h0m0 3h0m0 9h0m0 6h0m0 1h0m0 22h0m0 17h0m1-60h0m0 9h0m0 8h0m0 7h0m0 11h0m1-47h0m0 30h0m0 4h0m0 5h0m0 10h0m0 4h0m0 2h0m1-32h0m0 1h0m0 15h0m0 2h0m0 1h0m0 3h0m1-47h0m0 10h0m0 3h0m0 5h0m0 9h0m0 4h0m0 3h0m0 11h0m0 19h0m1-27h0m0 20h0m1-49h0m0 38h0m1-20h0m0 11h0m1 12h0m1-51h0m0 30h0m0 15h0m1-28h0m0 5h0m0 9h0m0 1h0m0 2h0m0 7h0m1-41h0m0 18h0m0 1h0m0 17h0m0 2h0m0 9h0m0 2h0m0 1h0m1-52h0m0 21h0m0 27h0m1-44h0m0 17h0m0 10h0m0 7h0m0 9h0m0 13h0m1-61h0m0 28h0m0 9h0m0 4h0m0 16h0m1-14h0m0 4h0m1-21h0m0 6h0m1 9h0m1-27h0m0 14h0m0 6h0m1-3h0m4-20h0m0 14h0m2-8h0m0 1h0m0 2h0m1 9h0m0 34h0m3-20h0m3-20h0m7-35h0m2 21h0m0 35h0"/>
<path transform="scale(0.25)" stroke="#6a88f0" stroke-opacity="0.5" stroke-width="3.2" stroke-linecap="square" fill="none" d="m138 294h0m13-19h0m2 1h0m4-51h0m3 78h0m3-43h0m2 0h0m0 3h0m1 41h0m2-12h0m0 22h0m4-9h0m1 4h0m2-47h0m1-7h0m3 27h0m1 2h0m1-1h0m2-21h0m0 9h0m1 26h0m0 21h0m1-63h0m1-7h0m0 15h0m0 1h0m0 25h0m0 6h0m1-19h0m1-32h0m1 56h0m0 23h0m1-83h0m0 47h0m0 21h0m2-53h0m1 30h0m0 14h0m0 35h0m1-83h0m0 1h0m0 47h0m1-66h0m1-13h0m0 63h0m0 4h0m0 9h0m0 13h0m1-53h0m0 3h0m0 3h0m0 30h0m0 10h0m1-48h0m0 2h0m0 36h0m1-8h0m0 21h0m1-49h0m1-6h0m0 53h0m1 9h0m1-9h0m3-30h0m0 17h0m1-57h0m0 69h0m0 46h0m1-95h0m0 13h0m0 39h0m0 13h0m0 9h0m1-55h0m0 6h0m0 28h0m1-32h0m0 2h0m0 72h0m1-83h0m0 50h0m1-68h0m0 27h0m1-14h0m1 13h0m1-37h0m0 18h0m0 11h0m0 9h0m0 31h0m0 18h0m1-61h0m0 45h0m1-60h0m1 17h0m0 5h0m0 45h0m1-37h0m1 8h0m0 2h0m0 12h0m0 6h0m2-26h0m1 2h0m1-44h0m0 23h0m0 35h0m1-34h0m1-9h0m0 10h0m1 9h0m0 8h0m1-30h0m1 15h0m1 39h0m1-71h0m0 26h0m1-39h0m0 40h0m0 10h0m1-19h0m0 20h0m1-20h0m0 11h0m1 6h0m1 13h0m1-45h0m1 4h0m0 8h0m0 30h0m1-36h0m1 29h0m0 0h0m1-1h0m0 13h0m4-34h0m1 7h0m0 12h0m2 1h0m1-35h0m1-24h0m0 45h0m1-1h0m1-11h0m0 15h0m1 4h0m5-44h0m0 44h0m4 2h0m6 6h0m1 41h0m5-54h0m1-13h0m0 0h0m5 32h0m1-45h0m8 17h0"/>
<path transform="scale(0.25)" stroke="#f0a0b8" stroke-opacity="0.5" stroke-width="3.2" stroke-linecap="square" fill="none" d="m124 298h0m1 54h0m7-29h0m6 39h0m1-65h0m3 35h0m1-19h0m2-26h0m1 29h0m5-57h0m1 77h0m1-69h0m0 76h0m1-49h0m1-28h0m0 110h0m1-73h0m0 2h0m0 48h0m2-15h0m3-77h0m0 37h0m1 53h0m1-93h0m0 71h0m0 46h0m2-86h0m0 9h0m1-58h0m6 20h0m4 59h0m2-44h0m0 47h0m1-29h0m0 64h0m1-80h0m0 13h0m1-7h0m1 61h0m1-33h0m0 55h0m2-98h0m1-8h0m0 26h0m0 14h0m0 24h0m0 10h0m0 32h0m1-111h0m0 62h0m1 26h0m1-5h0m0 10h0m1-84h0m0 69h0m2-23h0m1-54h0m0 25h0m0 1h0m1 16h0m0 40h0m2 24h0m1-56h0m3-9h0m0 28h0m1-26h0m2-67h0m0 65h0m0 26h0m2-34h0m1-42h0m0 79h0m1 4h0m1 5h0m2-54h0m0 46h0m1-88h0m0 21h0m2 57h0m1-47h0m1 67h0m2-123h0m0 41h0m1 16h0m2 38h0m0 21h0m1-47h0m0 26h0m2-67h0m0 3h0m8-39h0m2 60h0m4-54h0m1 49h0m1 46h0m3-26h0m1 26h0m2-26h0m1-49h0m1-24h0m3 48h0m1-30h0m3 35h0m3 12h0m1-11h0m5-20h0m0 77h0m3-60h0m1 17h0m1-16h0m13 27h0m21-38h0"/>
<polygon points="42.6,48.1 79.5,54.2 74.2,84.2 49.6,97.5 31.4,92.2 28.7,76.7" fill="none" stroke="#5a5a66" stroke-width="0.75" stroke-linejoin="round"/>
<text x="65.8" y="94.6" font-size="6.6" fill="#111" text-anchor="start" font-weight="bold">P1</text>
<path transform="scale(0.25)" stroke="#f07868" stroke-opacity="0.45" stroke-width="3.2" stroke-linecap="square" fill="none" d="m678 371h0m8-13h0m2 32h0m4-64h0m7 3h0m4 31h0m5-45h0m6 64h0m5 1h0m4-18h0m1-40h0m1 6h0m0 38h0m1-41h0m1-24h0m1 26h0m3-52h0m0 46h0m4-48h0m0 97h0m3-53h0m2-43h0m1 56h0m0 8h0m1-37h0m2-8h0m3 40h0m1-66h0m0 71h0m2-54h0m1 46h0m1-60h0m0 32h0m0 56h0m1-88h0m0 47h0m0 21h0m1-36h0m1-45h0m0 38h0m2-35h0m1 1h0m0 49h0m1-49h0m0 49h0m0 27h0m1-9h0m1 55h0m2-90h0m0 35h0m0 9h0m1-91h0m0 8h0m0 10h0m0 54h0m0 21h0m0 2h0m1-94h0m1-2h0m0 25h0m2-25h0m0 23h0m0 6h0m0 23h0m1-2h0m0 16h0m1-63h0m0 27h0m0 2h0m0 37h0m1-55h0m0 9h0m0 2h0m0 19h0m2-36h0m0 65h0m1-50h0m0 9h0m1-40h0m0 12h0m0 17h0m0 51h0m1 7h0m1-96h0m0 24h0m0 30h0m1-42h0m0 44h0m0 34h0m2-50h0m0 10h0m0 14h0m0 1h0m1-67h0m1 47h0m1-44h0m0 94h0m1-99h0m0 7h0m0 80h0m1 10h0m1-83h0m0 1h0m0 29h0m1-39h0m0 43h0m1-46h0m0 52h0m0 29h0m0 16h0m3-63h0m1-15h0m0 20h0m0 3h0m0 3h0m0 12h0m1-107h0m1 70h0m0 2h0m0 17h0m1-57h0m0 40h0m0 9h0m1 74h0m0 9h0m1-118h0m0 21h0m0 9h0m0 5h0m2-62h0m0 45h0m0 0h0m1-5h0m1-16h0m0 66h0m0 7h0m1-85h0m0 55h0m1-41h0m0 17h0m0 11h0m1-29h0m0 8h0m0 3h0m0 20h0m0 29h0m1-17h0m1-44h0m0 19h0m0 75h0m0 6h0m1-44h0m0 12h0m0 45h0m1-113h0m1 9h0m0 41h0m1 14h0m0 15h0m1-100h0m1 77h0m1-62h0m1 4h0m0 32h0m3-75h0m0 37h0m1 43h0m1-66h0m0 46h0m0 50h0m1-54h0m3 19h0m1 6h0m2-39h0m1 21h0m0 17h0m0 1h0m1-10h0m1-22h0m0 52h0m1-66h0m0 13h0m0 26h0m1-84h0m0 60h0m0 8h0m1-52h0m0 80h0m2-69h0"/>
<path transform="scale(0.25)" stroke="#d8b8f0" stroke-opacity="0.55" stroke-width="3.2" stroke-linecap="square" fill="none" d="m591 365h0m3 0h0m1-37h0m7-3h0m0 37h0m2-54h0m0 40h0m4-13h0m3-8h0m2 43h0m1-62h0m2 26h0m1-5h0m0 19h0m1-55h0m2 4h0m0 60h0m1-31h0m2-13h0m0 23h0m1 32h0m2-60h0m0 1h0m0 14h0m1 13h0m1-33h0m0 33h0m0 22h0m1-62h0m0 9h0m0 10h0m0 2h0m0 30h0m0 1h0m1-59h0m2 64h0m1-46h0m0 4h0m0 10h0m0 31h0m1-61h0m1-11h0m0 49h0m0 6h0m1 9h0m1-14h0m0 0h0m1-25h0m0 10h0m1-37h0m0 40h0m0 3h0m0 9h0m1 20h0m1-48h0m0 6h0m0 37h0m0 4h0m1-66h0m0 46h0m0 13h0m1-37h0m1-39h0m0 21h0m0 10h0m0 8h0m0 56h0m1-64h0m0 17h0m1-31h0m0 10h0m0 22h0m1-51h0m0 47h0m1-60h0m0 37h0m0 40h0m0 14h0m1-92h0m0 18h0m0 11h0m0 54h0m1-53h0m0 31h0m0 22h0m1-36h0m0 28h0m1-69h0m0 36h0m0 10h0m0 37h0m1-48h0m0 4h0m0 27h0m1-21h0m0 11h0m0 13h0m1-60h0m0 43h0m0 26h0m1-35h0m0 2h0m0 7h0m1-25h0m0 4h0m0 17h0m0 32h0m1-60h0m0 17h0m1-30h0m0 5h0m0 3h0m0 20h0m0 4h0m0 23h0m0 3h0m1-46h0m0 35h0m0 5h0m0 7h0m0 6h0m2-63h0m0 24h0m0 5h0m0 2h0m0 4h0m1-29h0m0 1h0m0 14h0m1-22h0m0 5h0m0 19h0m0 7h0m0 9h0m0 8h0m0 5h0m1-59h0m0 3h0m0 5h0m0 6h0m0 5h0m0 11h0m0 14h0m0 6h0m0 4h0m0 14h0m1-74h0m0 16h0m0 22h0m0 18h0m0 1h0m1-65h0m0 15h0m0 13h0m1-28h0m0 28h0m0 18h0m0 8h0m0 0h0m1-49h0m0 14h0m0 3h0m0 9h0m0 12h0m0 2h0m0 24h0m1-63h0m0 2h0m0 6h0m0 69h0m1-99h0m0 35h0m0 4h0m0 3h0m0 23h0m0 28h0m1-70h0m0 19h0m0 23h0m0 2h0m0 12h0m0 7h0m1-61h0m0 15h0m0 10h0m0 5h0m0 23h0m0 10h0m1-70h0m0 4h0m0 18h0m0 9h0m0 3h0m0 2h0m0 4h0m0 3h0m0 8h0m0 17h0m0 3h0m1-58h0m0 1h0m0 32h0m0 14h0m0 1h0m0 7h0m0 6h0m1-99h0m0 52h0m0 6h0m0 16h0m0 18h0m1-62h0m0 10h0m0 8h0m0 19h0m0 3h0m0 1h0m0 14h0m1-70h0m0 12h0m0 20h0m0 2h0m0 2h0m0 3h0m0 2h0m0 0h0m0 13h0m0 25h0m1-59h0m0 0h0m0 5h0m0 1h0m0 4h0m0 16h0m0 16h0m0 15h0m1-70h0m0 24h0m0 0h0m0 5h0m0 17h0m0 28h0m1-65h0m0 8h0m0 4h0m0 29h0m0 4h0m0 10h0m1-64h0m0 10h0m0 11h0m0 8h0m0 23h0m0 4h0m0 8h0m0 8h0m0 11h0m1-103h0m0 11h0m0 12h0m0 16h0m0 7h0m0 13h0m0 6h0m0 4h0m0 3h0m0 18h0m0 1h0m1-75h0m0 16h0m0 11h0m0 43h0m0 3h0m1-72h0m0 3h0m0 3h0m0 11h0m0 2h0m0 9h0m0 34h0m0 6h0m1-47h0m0 21h0m0 26h0m1-63h0m0 19h0m0 4h0m0 12h0m1-21h0m0 7h0m0 9h0m0 6h0m0 7h0m0 3h0m1-76h0m0 10h0m0 21h0m0 10h0m0 16h0m1-61h0m0 30h0m0 5h0m0 2h0m0 2h0m0 18h0m1-71h0m0 61h0m0 8h0m0 10h0m0 2h0m0 1h0m0 21h0m1-54h0m0 2h0m0 45h0m1-94h0m0 17h0m0 56h0m1-7h0m0 12h0m0 6h0m0 12h0m0 7h0m1-74h0m0 1h0m0 16h0m0 22h0m0 3h0m0 16h0m0 14h0m1-52h0m0 1h0m0 4h0m0 9h0m0 3h0m0 31h0m1-33h0m0 13h0m0 0h0m1-86h0m0 25h0m0 8h0m0 11h0m0 30h0m0 7h0m0 21h0m0 11h0m1-39h0m0 17h0m0 26h0m1-96h0m0 54h0m0 10h0m0 9h0m1-26h0m0 4h0m0 5h0m0 16h0m0 2h0m0 2h0m0 1h0m0 2h0m0 2h0m1-67h0m0 41h0m0 1h0m0 6h0m0 2h0m0 2h0m0 15h0m1-69h0m0 12h0m0 12h0m0 4h0m0 9h0m0 15h0m0 4h0m1-83h0m0 27h0m0 10h0m0 0h0m0 7h0m0 24h0m0 21h0m0 6h0m1-65h0m0 20h0m0 3h0m0 19h0m0 6h0m0 11h0m0 7h0m1-78h0m0 2h0m0 3h0m0 36h0m0 10h0m1-49h0m0 25h0m0 3h0m0 2h0m0 13h0m0 18h0m0 15h0m1-103h0m0 49h0m0 2h0m0 18h0m0 10h0m0 1h0m0 3h0m0 25h0m1-57h0m0 9h0m0 30h0m0 11h0m0 8h0m1-95h0m0 28h0m0 9h0m0 11h0m0 14h0m0 17h0m1-92h0m0 20h0m0 14h0m0 1h0m0 2h0m0 17h0m0 9h0m0 18h0m0 3h0m0 8h0m1-70h0m0 27h0m0 10h0m0 20h0m0 20h0m1-59h0m0 14h0m0 22h0m0 4h0m0 17h0m0 5h0m1-80h0m0 12h0m0 13h0m0 11h0m0 16h0m0 10h0m0 2h0m1-54h0m0 4h0m0 3h0m0 15h0m0 4h0m1-32h0m0 13h0m0 1h0m0 10h0m0 1h0m0 42h0m1-61h0m0 3h0m0 37h0m0 1h0m1-18h0m0 10h0m0 15h0m0 14h0m1-81h0m0 14h0m0 3h0m0 10h0m0 25h0m0 12h0m0 6h0m1-105h0m0 67h0m0 22h0m0 13h0m1-51h0m0 21h0m0 3h0m0 19h0m1-30h0m0 16h0m1-21h0m0 57h0m1-67h0m0 3h0m1-34h0m0 50h0m0 25h0m0 19h0m1-64h0m0 55h0m0 8h0m1-40h0m0 21h0m0 7h0m0 3h0m1-77h0m0 30h0m0 19h0m0 15h0m0 5h0m1-61h0m0 23h0m0 1h0m0 15h0m0 1h0m0 27h0m1-7h0m1-73h0m0 10h0m0 9h0m0 13h0m0 18h0m0 1h0m0 19h0m1-61h0m0 5h0m0 1h0m0 21h0m0 4h0m1-30h0m0 25h0m0 8h0m1-33h0m0 26h0m0 16h0m0 6h0m0 24h0m1-83h0m1-11h0m0 76h0m1-61h0m0 12h0m0 18h0m0 17h0m0 11h0m1-35h0m0 2h0m0 9h0m0 5h0m1-33h0m0 25h0m0 31h0m0 10h0m1-42h0m0 39h0m1-84h0m0 16h0m0 13h0m0 21h0m1-36h0m0 9h0m0 21h0m0 20h0m1-59h0m0 27h0m0 26h0m0 17h0m1-57h0m0 6h0m0 7h0m0 1h0m0 10h0m0 6h0m0 11h0m1-53h0m0 23h0m0 15h0m0 32h0m1-61h0m0 37h0m0 10h0m0 4h0m1-61h0m0 3h0m0 37h0m0 0h0m0 10h0m1-19h0m0 29h0m0 13h0m1-44h0m0 25h0m0 15h0m0 5h0m0 0h0m1-70h0m0 44h0m0 0h0m0 4h0m1-58h0m0 13h0m0 24h0m1-18h0m0 18h0m0 23h0m0 14h0m1-40h0m0 20h0m0 16h0m1-65h0m0 9h0m0 17h0m0 31h0m2-54h0m0 8h0m2 39h0m1-42h0m0 37h0m2 9h0m3-36h0m0 11h0m0 15h0m1-44h0m1 0h0m2 11h0m0 14h0m0 24h0m0 2h0m2-45h0m0 12h0m1-16h0m0 36h0m0 3h0m1-27h0m0 3h0m1 31h0m1-37h0m2 2h0m2-6h0m0 29h0m0 6h0"/>
<path transform="scale(0.25)" stroke="#b848e8" stroke-opacity="0.55" stroke-width="3.6" stroke-linecap="square" fill="none" d="m590 337h0m0 14h0m3-16h0m0 4h0m2-24h0m1 20h0m0 32h0m1-52h0m1 20h0m1 18h0m0 1h0m1-22h0m0 8h0m0 13h0m1-36h0m0 10h0m0 36h0m0 4h0m1-38h0m0 15h0m1-20h0m0 16h0m0 8h0m1-24h0m0 2h0m1 13h0m0 25h0m1-24h0m0 15h0m1-6h0m0 20h0m1-44h0m0 8h0m0 15h0m1-2h0m0 11h0m0 2h0m0 9h0m1-69h0m0 9h0m0 4h0m0 20h0m0 7h0m0 13h0m0 2h0m0 3h0m0 3h0m1-14h0m0 21h0m1-61h0m0 7h0m0 16h0m0 4h0m2-30h0m0 17h0m0 15h0m0 13h0m0 10h0m0 6h0m1-46h0m0 12h0m0 15h0m0 4h0m0 10h0m0 4h0m1-71h0m0 19h0m0 15h0m0 7h0m0 11h0m0 0h0m1-57h0m0 1h0m0 8h0m0 20h0m0 20h0m0 9h0m0 8h0m1-45h0m0 24h0m0 6h0m0 6h0m0 7h0m0 8h0m0 6h0m1-76h0m0 7h0m0 6h0m0 16h0m0 7h0m0 9h0m0 2h0m0 2h0m0 8h0m0 12h0m1-63h0m0 26h0m0 5h0m0 2h0m0 2h0m0 13h0m0 8h0m1-65h0m0 26h0m0 21h0m0 7h0m0 25h0m1-79h0m0 11h0m0 14h0m0 1h0m0 15h0m0 1h0m0 1h0m0 5h0m0 2h0m0 5h0m0 0h0m1-39h0m0 3h0m0 1h0m0 13h0m0 13h0m0 1h0m0 6h0m0 3h0m0 12h0m1-48h0m0 7h0m0 3h0m0 8h0m0 21h0m0 8h0m0 9h0m1-55h0m0 5h0m0 21h0m0 5h0m0 2h0m0 8h0m0 4h0m0 1h0m0 5h0m1-77h0m0 17h0m0 12h0m0 15h0m0 6h0m0 2h0m0 2h0m1-21h0m0 9h0m0 34h0m1-69h0m0 14h0m0 0h0m0 28h0m0 3h0m0 5h0m0 7h0m0 2h0m0 5h0m0 1h0m1-70h0m0 4h0m0 5h0m0 5h0m0 23h0m0 14h0m0 18h0m1-64h0m0 2h0m0 6h0m0 0h0m0 5h0m0 1h0m0 6h0m0 22h0m0 1h0m0 8h0m0 17h0m1-75h0m0 17h0m0 25h0m0 14h0m0 4h0m0 0h0m0 11h0m1-65h0m0 26h0m0 2h0m0 6h0m0 0h0m0 8h0m0 3h0m0 0h0m0 4h0m0 2h0m0 4h0m0 1h0m0 11h0m1-43h0m0 3h0m0 4h0m0 1h0m0 2h0m0 4h0m0 5h0m0 13h0m0 7h0m0 4h0m1-43h0m0 11h0m0 8h0m0 1h0m0 6h0m0 4h0m0 8h0m1-44h0m0 4h0m0 2h0m0 0h0m0 3h0m0 7h0m0 1h0m0 10h0m0 4h0m0 11h0m0 0h0m1-51h0m0 10h0m0 9h0m0 18h0m0 2h0m0 14h0m0 12h0m0 3h0m1-70h0m0 4h0m0 5h0m0 4h0m0 0h0m0 3h0m0 10h0m0 7h0m0 1h0m0 10h0m0 18h0m1-66h0m0 4h0m0 1h0m0 7h0m0 3h0m0 1h0m0 2h0m0 1h0m0 5h0m0 11h0m0 5h0m0 2h0m0 4h0m0 7h0m0 13h0m1-63h0m0 5h0m0 3h0m0 0h0m0 9h0m0 2h0m0 0h0m0 4h0m0 1h0m0 2h0m0 4h0m0 0h0m0 1h0m0 0h0m0 1h0m0 11h0m0 14h0m0 5h0m0 2h0m0 2h0m1-82h0m0 11h0m0 12h0m0 15h0m0 1h0m0 1h0m0 2h0m0 9h0m0 3h0m0 2h0m0 5h0m0 7h0m0 21h0m1-85h0m0 11h0m0 2h0m0 2h0m0 0h0m0 5h0m0 0h0m0 5h0m0 4h0m0 1h0m0 3h0m0 2h0m0 4h0m0 3h0m0 1h0m0 3h0m0 6h0m0 1h0m0 4h0m0 4h0m0 10h0m1-81h0m0 18h0m0 3h0m0 0h0m0 2h0m0 6h0m0 1h0m0 2h0m0 2h0m0 10h0m0 0h0m0 4h0m0 4h0m0 3h0m0 7h0m0 1h0m0 2h0m0 7h0m0 1h0m0 2h0m0 10h0m1-60h0m0 5h0m0 12h0m0 1h0m0 2h0m0 7h0m0 11h0m0 3h0m0 8h0m0 6h0m1-75h0m0 2h0m0 3h0m0 7h0m0 14h0m0 3h0m0 5h0m0 0h0m0 2h0m0 0h0m0 7h0m0 19h0m0 9h0m0 7h0m1-77h0m0 2h0m0 25h0m0 1h0m0 0h0m0 4h0m0 1h0m0 2h0m0 0h0m0 5h0m0 1h0m0 2h0m0 2h0m0 1h0m0 4h0m0 11h0m0 3h0m0 17h0m0 4h0m1-101h0m0 18h0m0 23h0m0 0h0m0 2h0m0 0h0m0 5h0m0 4h0m0 5h0m0 1h0m0 3h0m0 5h0m0 1h0m0 0h0m0 11h0m0 11h0m0 9h0m1-91h0m0 19h0m0 7h0m0 9h0m0 11h0m0 6h0m0 1h0m0 2h0m0 1h0m0 2h0m0 6h0m0 0h0m0 4h0m0 5h0m0 1h0m0 10h0m0 0h0m1-103h0m0 35h0m0 18h0m0 0h0m0 0h0m0 3h0m0 3h0m0 1h0m0 1h0m0 2h0m0 3h0m0 2h0m0 1h0m0 11h0m0 1h0m0 2h0m1-57h0m0 6h0m0 5h0m0 8h0m0 1h0m0 5h0m0 1h0m0 4h0m0 1h0m0 2h0m0 13h0m0 4h0m0 10h0m0 8h0m0 2h0m0 7h0m1-82h0m0 6h0m0 12h0m0 1h0m0 2h0m0 12h0m0 4h0m0 2h0m0 2h0m0 5h0m0 1h0m0 4h0m0 2h0m0 2h0m0 9h0m0 12h0m0 10h0m1-79h0m0 5h0m0 17h0m0 2h0m0 3h0m0 1h0m0 4h0m0 7h0m0 4h0m0 0h0m0 1h0m0 10h0m0 7h0m0 10h0m1-98h0m0 8h0m0 17h0m0 27h0m0 13h0m0 4h0m0 2h0m0 0h0m0 2h0m0 2h0m0 3h0m0 9h0m0 5h0m0 8h0m1-85h0m0 26h0m0 8h0m0 0h0m0 2h0m0 2h0m0 4h0m0 2h0m0 8h0m0 6h0m0 0h0m0 1h0m0 0h0m0 6h0m0 15h0m0 8h0m0 4h0m1-91h0m0 11h0m0 2h0m0 4h0m0 5h0m0 6h0m0 1h0m0 4h0m0 7h0m0 4h0m0 0h0m0 3h0m0 7h0m0 14h0m0 13h0m0 3h0m0 3h0m1-83h0m0 13h0m0 4h0m0 9h0m0 0h0m0 5h0m0 2h0m0 1h0m0 3h0m0 2h0m0 5h0m0 0h0m0 0h0m0 14h0m0 0h0m0 1h0m0 0h0m0 3h0m0 3h0m1-80h0m0 20h0m0 7h0m0 0h0m0 13h0m0 17h0m0 1h0m0 3h0m0 2h0m0 8h0m0 16h0m0 3h0m1-94h0m0 7h0m0 18h0m0 6h0m0 5h0m0 2h0m0 2h0m0 1h0m0 16h0m0 7h0m0 9h0m0 14h0m1-63h0m0 3h0m0 2h0m0 2h0m0 1h0m0 0h0m0 19h0m0 6h0m0 2h0m0 1h0m0 6h0m0 4h0m0 4h0m0 0h0m0 11h0m0 8h0m0 4h0m1-86h0m0 22h0m0 10h0m0 4h0m0 2h0m0 5h0m0 7h0m0 1h0m0 3h0m0 3h0m0 4h0m0 6h0m0 5h0m1-87h0m0 16h0m0 3h0m0 6h0m0 11h0m0 2h0m0 6h0m0 0h0m0 5h0m0 7h0m0 0h0m0 2h0m0 4h0m0 0h0m0 1h0m0 2h0m0 0h0m0 2h0m1-55h0m0 30h0m0 4h0m0 1h0m0 1h0m0 5h0m0 7h0m0 11h0m0 0h0m0 4h0m0 2h0m0 17h0m1-73h0m0 9h0m0 4h0m0 6h0m0 1h0m0 2h0m0 6h0m0 0h0m0 5h0m0 0h0m0 1h0m0 1h0m0 3h0m0 3h0m0 6h0m0 0h0m0 3h0m0 7h0m0 2h0m1-74h0m0 2h0m0 5h0m0 12h0m0 9h0m0 10h0m0 2h0m0 5h0m0 1h0m0 1h0m0 4h0m0 3h0m0 4h0m0 1h0m0 4h0m0 0h0m0 1h0m0 1h0m0 0h0m0 1h0m0 4h0m0 1h0m0 1h0m0 1h0m0 9h0m1-65h0m0 2h0m0 5h0m0 2h0m0 5h0m0 11h0m0 0h0m0 3h0m0 4h0m0 1h0m0 8h0m0 1h0m0 1h0m0 4h0m0 3h0m0 0h0m0 5h0m0 2h0m0 6h0m0 4h0m1-53h0m0 2h0m0 2h0m0 1h0m0 10h0m0 11h0m0 1h0m0 1h0m0 1h0m0 2h0m0 0h0m0 4h0m0 1h0m0 3h0m0 7h0m0 4h0m1-71h0m0 23h0m0 1h0m0 13h0m0 3h0m0 2h0m0 4h0m0 0h0m0 2h0m0 0h0m0 0h0m0 1h0m0 5h0m0 8h0m0 1h0m0 9h0m0 2h0m0 3h0m0 0h0m1-80h0m0 11h0m0 4h0m0 8h0m0 5h0m0 3h0m0 2h0m0 0h0m0 1h0m0 1h0m0 3h0m0 14h0m0 1h0m0 0h0m0 3h0m0 4h0m0 2h0m0 3h0m0 0h0m1-76h0m0 11h0m0 4h0m0 0h0m0 4h0m0 13h0m0 2h0m0 0h0m0 4h0m0 2h0m0 3h0m0 3h0m0 7h0m0 1h0m0 4h0m0 8h0m0 6h0m0 2h0m0 0h0m0 3h0m0 1h0m0 0h0m0 0h0m0 5h0m1-66h0m0 3h0m0 8h0m0 0h0m0 0h0m0 4h0m0 3h0m0 12h0m0 5h0m0 2h0m0 15h0m0 1h0m0 2h0m0 4h0m0 6h0m0 9h0m1-88h0m0 21h0m0 12h0m0 9h0m0 0h0m0 2h0m0 0h0m0 3h0m0 4h0m0 2h0m0 1h0m0 2h0m0 3h0m0 3h0m0 1h0m0 2h0m0 9h0m0 1h0m0 3h0m0 1h0m0 0h0m1-79h0m0 21h0m0 5h0m0 13h0m0 6h0m0 1h0m0 1h0m0 10h0m0 1h0m0 1h0m0 1h0m0 2h0m0 3h0m0 1h0m0 5h0m1-86h0m0 16h0m0 11h0m0 6h0m0 9h0m0 4h0m0 10h0m0 3h0m0 1h0m0 9h0m0 2h0m0 5h0m0 11h0m0 1h0m0 5h0m0 1h0m0 2h0m1-67h0m0 12h0m0 6h0m0 1h0m0 2h0m0 4h0m0 14h0m0 1h0m0 4h0m0 6h0m0 10h0m1-76h0m0 36h0m0 0h0m0 9h0m0 0h0m0 2h0m0 5h0m0 7h0m0 2h0m0 3h0m0 7h0m0 9h0m1-109h0m0 8h0m0 7h0m0 30h0m0 1h0m0 3h0m0 0h0m0 0h0m0 3h0m0 4h0m0 1h0m0 1h0m0 19h0m0 2h0m0 2h0m0 1h0m0 0h0m0 1h0m0 1h0m0 2h0m0 2h0m0 5h0m0 11h0m0 3h0m0 1h0m1-68h0m0 14h0m0 1h0m0 1h0m0 3h0m0 6h0m0 1h0m0 0h0m0 2h0m0 9h0m0 4h0m0 14h0m0 5h0m0 2h0m1-61h0m0 22h0m0 0h0m0 7h0m0 16h0m0 1h0m0 1h0m0 1h0m0 4h0m0 10h0m1-80h0m0 9h0m0 16h0m0 0h0m0 3h0m0 14h0m0 4h0m0 4h0m0 2h0m0 7h0m0 5h0m0 3h0m0 0h0m0 1h0m0 3h0m0 7h0m0 1h0m1-68h0m0 0h0m0 3h0m0 3h0m0 13h0m0 3h0m0 3h0m0 1h0m0 2h0m0 4h0m0 2h0m0 4h0m0 18h0m0 16h0m1-55h0m0 7h0m0 2h0m0 1h0m0 4h0m0 0h0m0 12h0m0 0h0m0 5h0m0 3h0m0 0h0m0 2h0m0 8h0m0 6h0m1-103h0m0 43h0m0 13h0m0 7h0m0 2h0m0 0h0m0 5h0m0 0h0m0 2h0m0 0h0m0 6h0m0 0h0m0 4h0m0 2h0m0 3h0m0 6h0m0 0h0m0 12h0m1-87h0m0 12h0m0 12h0m0 5h0m0 2h0m0 9h0m0 1h0m0 0h0m0 2h0m0 0h0m0 2h0m0 3h0m0 3h0m0 3h0m0 0h0m0 3h0m0 1h0m0 0h0m0 1h0m0 3h0m0 1h0m0 13h0m0 2h0m0 3h0m1-83h0m0 18h0m0 3h0m0 5h0m0 4h0m0 1h0m0 3h0m0 2h0m0 5h0m0 8h0m0 3h0m0 0h0m0 4h0m0 3h0m0 7h0m0 0h0m0 4h0m0 4h0m0 5h0m0 1h0m0 4h0m1-79h0m0 28h0m0 3h0m0 4h0m0 2h0m0 1h0m0 1h0m0 4h0m0 1h0m0 0h0m0 5h0m0 6h0m0 2h0m0 2h0m0 1h0m0 0h0m0 1h0m0 0h0m0 0h0m1-44h0m0 8h0m0 1h0m0 4h0m0 1h0m0 6h0m0 0h0m0 8h0m0 1h0m0 3h0m0 1h0m0 3h0m0 3h0m0 3h0m0 3h0m0 11h0m0 2h0m1-64h0m0 4h0m0 16h0m0 5h0m0 3h0m0 2h0m0 2h0m0 3h0m0 1h0m0 5h0m0 2h0m0 4h0m0 8h0m0 2h0m0 0h0m0 1h0m0 3h0m0 3h0m0 5h0m1-57h0m0 0h0m0 1h0m0 5h0m0 4h0m0 3h0m0 8h0m0 2h0m0 5h0m0 0h0m0 8h0m0 2h0m0 5h0m0 0h0m0 1h0m0 8h0m1-49h0m0 2h0m0 1h0m0 11h0m0 7h0m0 4h0m0 4h0m0 11h0m0 4h0m0 5h0m0 1h0m1-70h0m0 23h0m0 5h0m0 1h0m0 4h0m0 1h0m0 16h0m0 3h0m0 3h0m0 3h0m0 1h0m0 2h0m0 2h0m0 1h0m0 7h0m1-82h0m0 9h0m0 13h0m0 11h0m0 5h0m0 15h0m0 3h0m0 5h0m0 1h0m0 9h0m0 3h0m0 3h0m1-45h0m0 1h0m0 20h0m0 1h0m0 12h0m0 7h0m1-75h0m0 0h0m0 9h0m0 11h0m0 4h0m0 6h0m0 1h0m0 9h0m0 2h0m0 0h0m0 1h0m0 1h0m0 4h0m0 3h0m0 9h0m0 1h0m0 8h0m1-76h0m0 8h0m0 36h0m0 6h0m0 12h0m0 2h0m0 3h0m0 0h0m0 1h0m0 4h0m0 2h0m0 2h0m0 4h0m1-105h0m0 20h0m0 27h0m0 2h0m0 28h0m0 6h0m1-36h0m0 15h0m0 7h0m0 4h0m0 16h0m0 11h0m0 6h0m0 0h0m1-61h0m0 17h0m0 2h0m0 10h0m0 1h0m0 4h0m0 6h0m0 5h0m0 4h0m0 14h0m1-95h0m0 34h0m0 14h0m0 3h0m0 1h0m0 15h0m0 0h0m0 3h0m0 3h0m0 3h0m0 2h0m0 16h0m0 0h0m1-60h0m0 4h0m0 10h0m0 8h0m0 15h0m0 2h0m0 5h0m0 1h0m0 7h0m1-45h0m0 13h0m0 10h0m0 5h0m0 7h0m0 1h0m0 13h0m0 2h0m0 1h0m1-73h0m0 1h0m0 12h0m0 5h0m0 16h0m0 2h0m0 2h0m0 5h0m0 26h0m1-46h0m0 12h0m0 7h0m0 3h0m1-33h0m0 6h0m0 7h0m0 5h0m0 3h0m0 16h0m0 2h0m0 14h0m1-43h0m0 4h0m0 16h0m0 15h0m0 4h0m1-33h0m0 9h0m0 16h0m0 1h0m1-34h0m0 3h0m0 3h0m0 6h0m0 4h0m0 17h0m0 2h0m1-54h0m0 19h0m0 30h0m0 3h0m0 2h0m0 4h0m1-54h0m0 1h0m0 19h0m0 2h0m0 15h0m0 20h0m0 4h0m1-68h0m0 4h0m0 12h0m0 6h0m0 2h0m0 19h0m0 10h0m0 11h0m1-43h0m0 8h0m0 6h0m0 17h0m0 1h0m1-48h0m0 25h0m0 0h0m0 11h0m0 2h0m1-39h0m0 18h0m0 4h0m0 12h0m0 15h0m0 0h0m0 1h0m0 7h0m1-42h0m0 13h0m0 1h0m0 19h0m1-51h0m0 35h0m0 0h0m0 3h0m0 7h0m0 6h0m0 9h0m1-54h0m0 11h0m0 16h0m1-26h0m0 32h0m0 11h0m1-28h0m0 6h0m0 14h0m1-13h0m0 1h0m0 3h0m0 4h0m0 0h0m0 12h0m1-42h0m0 14h0m0 1h0m0 5h0m0 17h0m2-56h0m0 46h0m1-19h0m0 12h0m0 8h0m0 8h0m1-5h0m0 4h0m0 9h0m1-51h0m0 7h0m0 12h0m1 1h0m0 13h0m0 2h0m0 4h0m1-35h0m0 24h0m1-11h0m0 13h0m1 9h0m0 4h0m1-41h0m0 8h0m0 7h0m0 19h0m1-36h0m1 12h0m0 18h0m0 0h0m0 5h0m1 1h0m5-68h0m0 30h0m3 6h0m4 2h0m4 0h0m0 3h0m16-4h0"/>
<path transform="scale(0.25)" stroke="#a82ad8" stroke-opacity="0.6" stroke-width="3.6" stroke-linecap="square" fill="none" d="m609 307h0m2 62h0m3-30h0m1-9h0m0 2h0m1 0h0m1 13h0m0 1h0m0 4h0m2-40h0m0 4h0m0 4h0m0 18h0m0 11h0m1-39h0m0 10h0m0 1h0m0 23h0m0 14h0m1-24h0m0 23h0m1-36h0m0 7h0m0 29h0m1-57h0m0 8h0m0 5h0m0 16h0m0 17h0m1-13h0m0 3h0m1-16h0m0 14h0m0 14h0m1-54h0m0 41h0m1-33h0m0 8h0m0 6h0m0 2h0m0 15h0m1-30h0m0 1h0m0 45h0m1-63h0m0 22h0m0 3h0m0 4h0m0 13h0m0 1h0m0 5h0m1-37h0m0 19h0m0 6h0m0 5h0m0 11h0m0 4h0m0 18h0m0 8h0m1-56h0m0 7h0m0 1h0m0 0h0m0 1h0m0 4h0m1-14h0m0 2h0m0 8h0m0 8h0m0 8h0m0 1h0m0 10h0m1-59h0m0 2h0m0 8h0m0 11h0m0 0h0m0 7h0m0 1h0m0 10h0m0 4h0m0 3h0m0 1h0m0 4h0m0 10h0m1-70h0m0 18h0m0 8h0m0 10h0m0 9h0m1-37h0m0 7h0m0 7h0m0 21h0m0 8h0m0 1h0m0 5h0m0 2h0m0 2h0m1-51h0m0 5h0m0 2h0m0 1h0m0 2h0m0 5h0m0 13h0m0 1h0m0 3h0m0 4h0m0 6h0m0 5h0m0 22h0m1-67h0m0 7h0m0 15h0m0 11h0m0 7h0m0 0h0m0 2h0m0 5h0m0 7h0m1-50h0m0 28h0m0 0h0m0 5h0m0 5h0m0 0h0m0 2h0m0 1h0m0 17h0m1-81h0m0 18h0m0 5h0m0 7h0m0 5h0m0 6h0m0 4h0m0 5h0m0 1h0m0 6h0m0 8h0m0 0h0m1-38h0m0 1h0m0 14h0m0 2h0m0 2h0m0 5h0m0 26h0m1-70h0m0 15h0m0 10h0m0 6h0m0 9h0m0 2h0m0 1h0m0 2h0m0 2h0m0 7h0m0 9h0m1-26h0m0 1h0m0 6h0m0 7h0m0 0h0m0 5h0m0 3h0m0 5h0m0 9h0m1-61h0m0 6h0m0 2h0m0 4h0m0 17h0m0 3h0m0 1h0m0 9h0m0 10h0m1-59h0m0 18h0m0 6h0m0 3h0m0 5h0m0 2h0m0 0h0m0 1h0m0 14h0m0 4h0m0 0h0m0 2h0m1-51h0m0 5h0m0 1h0m0 2h0m0 1h0m0 12h0m0 10h0m0 7h0m0 6h0m0 5h0m0 3h0m0 18h0m0 0h0m1-68h0m0 1h0m0 3h0m0 10h0m0 0h0m0 1h0m0 2h0m0 4h0m0 0h0m0 4h0m0 2h0m0 9h0m0 9h0m1-46h0m0 1h0m0 1h0m0 3h0m0 3h0m0 4h0m0 1h0m0 4h0m0 6h0m0 2h0m0 1h0m0 5h0m0 1h0m0 0h0m0 8h0m0 2h0m1-30h0m0 2h0m0 8h0m0 7h0m0 2h0m0 1h0m0 5h0m0 1h0m0 26h0m1-61h0m0 11h0m0 2h0m0 2h0m0 0h0m0 0h0m0 3h0m0 0h0m0 1h0m0 6h0m0 6h0m0 2h0m0 1h0m0 28h0m1-81h0m0 12h0m0 12h0m0 2h0m0 3h0m0 1h0m0 3h0m0 2h0m0 1h0m0 6h0m0 3h0m0 6h0m0 0h0m0 6h0m0 4h0m0 17h0m0 9h0m1-62h0m0 10h0m0 8h0m0 5h0m0 2h0m0 4h0m0 0h0m0 2h0m0 3h0m0 2h0m0 5h0m1-55h0m0 6h0m0 3h0m0 2h0m0 6h0m0 1h0m0 9h0m0 2h0m0 2h0m0 0h0m0 1h0m0 1h0m0 6h0m0 3h0m0 8h0m0 3h0m0 7h0m1-62h0m0 3h0m0 0h0m0 3h0m0 3h0m0 6h0m0 1h0m0 1h0m0 17h0m0 3h0m0 13h0m0 7h0m1-39h0m0 2h0m0 14h0m0 9h0m0 0h0m0 2h0m0 9h0m1-63h0m0 22h0m0 5h0m0 0h0m0 4h0m0 1h0m0 0h0m0 2h0m0 0h0m0 6h0m0 0h0m0 0h0m0 2h0m0 5h0m0 10h0m0 8h0m0 8h0m1-75h0m0 10h0m0 11h0m0 8h0m0 4h0m0 0h0m0 6h0m0 6h0m0 3h0m0 3h0m0 5h0m0 1h0m0 0h0m0 2h0m0 19h0m1-70h0m0 9h0m0 5h0m0 2h0m0 1h0m0 2h0m0 4h0m0 6h0m0 3h0m0 6h0m0 1h0m0 2h0m0 2h0m0 1h0m0 6h0m0 3h0m0 5h0m1-71h0m0 21h0m0 9h0m0 11h0m0 2h0m0 1h0m0 2h0m0 3h0m0 1h0m0 3h0m0 2h0m0 1h0m0 2h0m0 0h0m0 2h0m0 4h0m0 5h0m0 3h0m0 8h0m1-78h0m0 5h0m0 16h0m0 17h0m0 2h0m0 2h0m0 2h0m0 1h0m0 2h0m0 0h0m0 3h0m0 2h0m0 8h0m0 10h0m0 2h0m0 6h0m1-70h0m0 8h0m0 5h0m0 8h0m0 1h0m0 1h0m0 6h0m0 1h0m0 9h0m0 3h0m0 0h0m0 2h0m0 0h0m0 2h0m0 2h0m0 6h0m0 0h0m0 2h0m0 3h0m1-55h0m0 27h0m0 3h0m0 1h0m0 2h0m0 5h0m0 4h0m0 20h0m1-49h0m0 3h0m0 1h0m0 5h0m0 5h0m0 5h0m0 10h0m0 7h0m0 2h0m1-29h0m0 15h0m0 3h0m0 1h0m0 7h0m1-34h0m0 1h0m0 0h0m0 3h0m0 6h0m0 0h0m0 1h0m0 1h0m0 3h0m0 1h0m0 8h0m0 9h0m0 4h0m0 2h0m0 5h0m1-67h0m0 6h0m0 9h0m0 6h0m0 11h0m0 4h0m0 2h0m0 2h0m0 0h0m0 19h0m0 5h0m0 9h0m1-72h0m0 5h0m0 16h0m0 2h0m0 1h0m0 5h0m0 14h0m0 12h0m1-47h0m0 13h0m0 12h0m0 1h0m0 1h0m0 5h0m0 0h0m0 4h0m0 2h0m0 2h0m0 2h0m0 10h0m1-72h0m0 18h0m0 2h0m0 9h0m0 5h0m0 0h0m0 0h0m0 1h0m0 1h0m0 1h0m0 0h0m0 7h0m0 1h0m0 1h0m0 9h0m0 0h0m0 6h0m0 1h0m0 0h0m0 2h0m0 10h0m1-50h0m0 7h0m0 12h0m0 5h0m0 2h0m0 1h0m0 1h0m0 8h0m0 9h0m0 2h0m0 5h0m1-65h0m0 3h0m0 22h0m0 1h0m0 1h0m0 19h0m0 11h0m1-50h0m0 14h0m0 5h0m0 2h0m0 3h0m0 0h0m0 5h0m0 5h0m0 2h0m0 1h0m0 3h0m0 1h0m0 0h0m0 1h0m0 0h0m0 3h0m1-52h0m0 13h0m0 11h0m0 3h0m0 10h0m0 1h0m0 1h0m0 3h0m0 4h0m0 5h0m0 3h0m0 9h0m1-54h0m0 7h0m0 1h0m0 1h0m0 14h0m0 10h0m0 2h0m0 5h0m0 1h0m0 3h0m0 4h0m1-38h0m0 5h0m0 0h0m0 20h0m0 5h0m0 0h0m0 5h0m1-49h0m0 19h0m0 1h0m0 9h0m0 1h0m0 1h0m0 2h0m0 7h0m0 1h0m0 8h0m0 10h0m1-63h0m0 6h0m0 7h0m0 6h0m0 5h0m0 3h0m0 1h0m0 4h0m0 11h0m1-34h0m0 5h0m0 2h0m0 1h0m0 3h0m0 15h0m0 2h0m0 2h0m0 8h0m0 6h0m0 4h0m1-29h0m0 3h0m1-16h0m0 7h0m0 5h0m0 9h0m0 11h0m0 1h0m0 6h0m1-30h0m0 1h0m0 1h0m0 4h0m0 6h0m0 11h0m0 1h0m1-47h0m0 12h0m0 21h0m1-41h0m0 28h0m0 2h0m1-14h0m0 4h0m0 30h0m0 1h0m1-35h0m0 8h0m0 31h0m0 6h0m1-32h0m0 0h0m0 2h0m0 3h0m0 6h0m0 1h0m1-43h0m0 15h0m0 40h0m0 1h0m0 3h0m1-36h0m0 6h0m0 4h0m0 20h0m2-9h0m0 1h0m1-43h0m0 14h0m0 29h0m0 2h0m1-27h0m1-4h0m0 6h0m0 9h0m3-24h0m1 25h0m0 4h0m0 11h0m1-16h0m0 7h0m1-19h0m1 7h0m1-19h0m0 2h0m1 8h0m0 18h0m13-23h0m4 12h0"/>
<path transform="scale(0.25)" stroke="#5a7ff0" stroke-opacity="0.55" stroke-width="3.2" stroke-linecap="square" fill="none" d="m680 253h0m0 3h0m0 10h0m5-5h0m2 17h0m4-43h0m0 8h0m0 19h0m0 3h0m1-12h0m3-9h0m0 8h0m0 4h0m0 18h0m2-36h0m0 46h0m1-44h0m0 25h0m1-12h0m1 1h0m0 0h0m0 23h0m1-37h0m1 23h0m0 33h0m1-38h0m4-27h0m0 26h0m1-5h0m0 12h0m0 5h0m1 11h0m1-62h0m0 24h0m0 10h0m0 4h0m0 15h0m1-29h0m0 18h0m1-22h0m0 1h0m0 6h0m0 6h0m0 4h0m1-48h0m0 10h0m1 17h0m0 5h0m0 12h0m1-17h0m0 37h0m1-61h0m0 8h0m0 14h0m0 10h0m0 21h0m1-14h0m1-13h0m0 21h0m1-37h0m0 5h0m0 16h0m0 1h0m2-4h0m1-28h0m0 23h0m1 6h0m0 13h0m1-16h0m0 9h0m2-38h0m0 17h0m1-7h0m0 11h0m0 8h0m0 7h0m1-44h0m0 34h0m1-14h0m0 6h0m0 7h0m0 0h0m0 2h0m0 10h0m0 22h0m2-49h0m1 20h0m2-40h0m1 20h0m0 7h0m1 24h0m1-81h0m0 56h0m0 19h0m3-28h0m0 14h0m1-34h0m0 16h0m0 1h0m1 14h0m1-29h0m1-28h0m1 62h0m1-60h0m0 19h0m0 56h0m1-77h0m0 40h0m3-15h0m2 24h0m1-22h0m1 12h0m1-12h0m1 21h0m5-16h0m0 2h0m1-21h0m4-8h0m5 44h0m1-2h0"/>
<polygon points="180,39.2 196.1,42.6 194.7,56.1 160.8,92 146.7,92.8 148.1,79.3" fill="none" stroke="#5a5a66" stroke-width="0.75" stroke-linejoin="round"/>
<text x="172.7" y="94.8" font-size="6.5" fill="#111" text-anchor="start" font-weight="normal" textLength="21.3" lengthAdjust="spacingAndGlyphs">singlets</text>
<clipPath id="k1"><rect x="249.5" y="23.5" width="91" height="78"/></clipPath><g clip-path="url(#k1)">
<path transform="scale(0.25)" stroke="#ff8a50" stroke-opacity="0.5" stroke-width="3.6" stroke-linecap="square" fill="none" d="m1023 186h0m6 171h0m15 10h0m24-24h0m2 23h0m15-60h0m5 46h0m3 4h0m6-112h0m1 94h0m1 26h0m1-42h0m8-36h0m0 24h0m1-47h0m1 85h0m1-123h0m0 39h0m0 102h0m4-106h0m3 83h0m7 28h0m1-38h0m5-43h0m1 80h0m2-125h0m2 55h0m5-15h0m0 9h0m2-72h0m3 13h0m0 61h0m0 5h0m1 22h0m3 65h0m7-71h0m0 42h0m0 0h0m0 34h0m1-82h0m1-101h0m0 37h0m0 92h0m1-48h0m1 80h0m3-63h0m4 36h0m0 9h0m2-63h0m1 78h0m1-59h0m0 8h0m1-52h0m1-22h0m0 115h0m1-37h0m1 40h0m2-9h0m3-86h0m0 71h0m2-90h0m0 2h0m0 139h0m1-75h0m1 14h0m2-62h0m0 37h0m1 28h0m1-91h0m0 92h0m1 34h0m3-13h0m1-24h0m3 13h0m2 39h0m1-140h0m0 44h0m0 23h0m2 38h0m1-120h0m0 25h0m1-13h0m1 111h0m1-77h0m1-8h0m0 117h0m1-86h0m1-18h0m2-46h0m0 37h0m0 39h0m1-53h0m5 87h0m2-74h0m1 62h0m4 13h0m3-81h0m0 4h0m0 17h0m1-5h0m1-41h0m1 40h0m2-26h0m0 87h0m3-97h0m0 71h0m1-51h0m0 90h0m1-104h0m0 0h0m2 66h0m1-29h0m0 28h0m0 14h0m0 31h0m3-122h0m1 72h0m1-38h0m0 53h0m0 39h0m4-77h0m0 2h0m0 3h0m2 40h0m3-74h0m1 39h0m2-7h0m0 46h0m3-62h0m2 30h0m1-85h0m0 85h0m4-19h0m1-76h0m3 72h0m4-11h0m7 66h0m6 24h0m11-64h0m2 10h0m6-77h0m2-20h0m1 28h0m0 38h0m2-37h0m2 114h0m3-54h0m7-15h0m9-51h0m1 0h0"/>
<path transform="scale(0.25)" stroke="#ff7c38" stroke-opacity="0.48" stroke-width="3.8" stroke-linecap="square" fill="none" d="m1180 385h0m4-31h0m5-46h0m0 70h0m5-26h0m2 2h0m0 25h0m1 19h0m1-55h0m0 18h0m2-40h0m2 61h0m2-14h0m1-43h0m0 59h0m0 9h0m1-69h0m1 37h0m0 2h0m0 13h0m1-50h0m0 51h0m1-14h0m2-20h0m2-77h0m0 82h0m0 34h0m1-96h0m0 48h0m0 7h0m0 2h0m1-60h0m0 1h0m0 60h0m0 37h0m1-17h0m2-17h0m0 22h0m0 18h0m1-118h0m0 25h0m0 29h0m0 43h0m0 3h0m0 5h0m0 0h0m0 3h0m1-45h0m0 31h0m1-134h0m0 85h0m1 22h0m0 21h0m0 21h0m0 15h0m1-63h0m0 14h0m0 33h0m1-85h0m0 21h0m0 5h0m0 14h0m1-55h0m1 93h0m0 2h0m0 7h0m0 14h0m0 5h0m1-159h0m0 34h0m0 61h0m0 8h0m0 8h0m0 7h0m0 9h0m0 3h0m0 1h0m1-67h0m0 11h0m0 3h0m0 1h0m0 9h0m0 2h0m0 9h0m0 11h0m0 39h0m1-137h0m0 33h0m0 55h0m0 38h0m1-94h0m0 15h0m0 26h0m0 3h0m0 9h0m0 10h0m0 10h0m0 17h0m0 2h0m0 12h0m1-53h0m0 51h0m1-85h0m0 14h0m0 4h0m0 32h0m0 19h0m0 1h0m0 0h0m0 5h0m1-49h0m0 7h0m0 3h0m0 24h0m0 4h0m0 3h0m0 1h0m1-1h0m0 4h0m0 23h0m1-97h0m0 3h0m0 7h0m0 11h0m0 4h0m0 10h0m0 12h0m0 4h0m0 2h0m0 21h0m1-44h0m0 24h0m0 5h0m1-63h0m0 25h0m0 53h0m0 17h0m0 0h0m0 4h0m1-140h0m0 28h0m0 16h0m0 8h0m0 2h0m0 42h0m0 9h0m0 4h0m1-81h0m0 0h0m0 52h0m0 6h0m0 21h0m0 3h0m0 3h0m0 5h0m0 20h0m1-98h0m0 14h0m0 22h0m0 11h0m0 17h0m0 24h0m0 11h0m1-88h0m0 5h0m0 17h0m0 1h0m0 20h0m0 10h0m0 6h0m1-48h0m0 8h0m0 2h0m0 14h0m0 14h0m0 11h0m0 33h0m1-116h0m0 19h0m0 33h0m0 1h0m0 2h0m0 8h0m0 3h0m0 6h0m0 5h0m0 7h0m0 17h0m1-138h0m0 64h0m0 1h0m0 4h0m0 9h0m0 9h0m0 15h0m0 0h0m0 1h0m0 11h0m0 10h0m0 11h0m1-168h0m0 87h0m0 10h0m0 3h0m0 47h0m0 4h0m0 5h0m0 1h0m1-67h0m0 26h0m0 17h0m0 3h0m0 39h0m0 1h0m1-109h0m0 1h0m0 33h0m0 3h0m0 19h0m0 19h0m0 0h0m0 4h0m0 10h0m0 33h0m1-96h0m0 9h0m0 57h0m1-80h0m0 1h0m0 6h0m0 12h0m0 1h0m0 27h0m0 2h0m0 11h0m0 3h0m0 17h0m0 14h0m0 2h0m0 3h0m0 3h0m1-88h0m0 16h0m0 15h0m0 1h0m0 41h0m1-79h0m0 2h0m0 23h0m0 7h0m0 6h0m0 2h0m0 3h0m0 4h0m0 2h0m0 1h0m0 11h0m0 6h0m0 2h0m0 5h0m0 7h0m1-99h0m0 33h0m0 40h0m0 10h0m1-100h0m0 16h0m0 18h0m0 4h0m0 16h0m0 13h0m0 17h0m0 2h0m0 0h0m0 0h0m0 15h0m1-85h0m0 34h0m0 15h0m0 12h0m0 2h0m0 3h0m0 7h0m0 5h0m0 1h0m0 18h0m1-74h0m0 6h0m0 7h0m0 2h0m0 1h0m0 1h0m0 11h0m0 1h0m0 3h0m0 2h0m0 17h0m1-57h0m0 3h0m0 1h0m0 5h0m0 3h0m0 11h0m0 3h0m0 3h0m0 19h0m0 9h0m0 13h0m0 15h0m1-113h0m0 4h0m0 7h0m0 5h0m0 15h0m0 15h0m0 4h0m0 1h0m0 9h0m0 8h0m0 0h0m0 16h0m0 1h0m0 32h0m0 14h0m0 2h0m1-158h0m0 1h0m0 28h0m0 11h0m0 33h0m0 8h0m0 10h0m0 13h0m0 8h0m0 0h0m0 5h0m0 14h0m0 4h0m0 2h0m0 13h0m1-152h0m0 22h0m0 18h0m0 20h0m0 0h0m0 10h0m0 2h0m0 12h0m0 18h0m0 11h0m0 10h0m0 9h0m1-114h0m0 4h0m0 5h0m0 26h0m0 9h0m0 10h0m0 14h0m0 3h0m0 15h0m0 3h0m0 10h0m0 5h0m0 1h0m1-76h0m0 16h0m0 2h0m0 2h0m0 10h0m0 6h0m0 15h0m0 0h0m0 2h0m0 2h0m0 0h0m0 17h0m0 10h0m0 31h0m1-117h0m0 18h0m0 19h0m0 28h0m0 24h0m0 5h0m0 7h0m1-79h0m0 16h0m0 0h0m0 13h0m0 3h0m0 5h0m0 5h0m0 9h0m0 1h0m0 14h0m0 12h0m1-115h0m0 7h0m0 29h0m0 1h0m0 8h0m0 16h0m0 6h0m0 7h0m0 26h0m1-93h0m0 17h0m0 6h0m0 7h0m0 3h0m0 40h0m1-97h0m0 22h0m0 3h0m0 9h0m0 5h0m0 15h0m0 3h0m0 18h0m0 1h0m0 1h0m0 9h0m0 3h0m0 3h0m0 0h0m0 4h0m0 4h0m0 17h0m0 0h0m0 14h0m0 7h0m0 4h0m1-131h0m0 12h0m0 10h0m0 2h0m0 14h0m0 5h0m0 3h0m0 21h0m0 12h0m0 2h0m0 8h0m0 16h0m0 2h0m1-130h0m0 18h0m0 19h0m0 4h0m0 8h0m0 5h0m0 19h0m0 0h0m0 12h0m0 2h0m0 9h0m0 6h0m0 15h0m0 8h0m0 1h0m0 10h0m0 7h0m1-173h0m0 79h0m0 11h0m0 0h0m0 7h0m0 7h0m0 3h0m0 4h0m0 7h0m0 7h0m0 19h0m1-68h0m0 45h0m0 4h0m0 1h0m0 10h0m0 6h0m0 1h0m0 7h0m0 8h0m0 8h0m1-119h0m0 24h0m0 5h0m0 11h0m0 16h0m0 9h0m0 6h0m0 0h0m0 9h0m0 2h0m0 12h0m0 11h0m0 12h0m1-107h0m0 1h0m0 9h0m0 14h0m0 11h0m0 1h0m0 11h0m0 2h0m0 16h0m0 9h0m0 8h0m0 12h0m1-104h0m0 14h0m0 25h0m0 4h0m0 2h0m0 21h0m0 16h0m0 0h0m0 7h0m0 22h0m0 10h0m0 16h0m1-165h0m0 52h0m0 14h0m0 0h0m0 1h0m0 1h0m0 8h0m0 8h0m0 3h0m0 11h0m0 18h0m0 17h0m0 0h0m0 20h0m1-155h0m0 49h0m0 15h0m0 14h0m0 7h0m0 10h0m1-77h0m0 43h0m0 5h0m0 8h0m0 35h0m0 42h0m0 18h0m1-112h0m0 8h0m0 0h0m0 22h0m0 4h0m0 5h0m0 1h0m0 15h0m0 11h0m0 2h0m0 4h0m0 18h0m1-127h0m0 7h0m0 2h0m0 10h0m0 1h0m0 13h0m0 3h0m0 1h0m0 13h0m0 15h0m0 36h0m0 38h0m0 13h0m1-154h0m0 18h0m0 47h0m0 2h0m0 22h0m0 32h0m1-114h0m0 9h0m0 15h0m0 2h0m0 36h0m0 9h0m0 31h0m0 14h0m1-87h0m0 15h0m0 8h0m0 17h0m0 11h0m0 9h0m0 11h0m0 15h0m0 33h0m1-147h0m0 27h0m0 25h0m0 17h0m0 2h0m0 0h0m0 17h0m0 2h0m0 2h0m0 21h0m0 9h0m1-138h0m0 23h0m0 39h0m0 2h0m0 12h0m0 1h0m0 1h0m0 1h0m0 1h0m0 2h0m0 3h0m0 0h0m0 7h0m0 0h0m0 4h0m0 22h0m1-100h0m0 43h0m0 8h0m0 21h0m0 15h0m0 6h0m1-109h0m0 36h0m0 19h0m0 11h0m0 3h0m0 19h0m0 0h0m0 3h0m0 7h0m0 4h0m0 5h0m1-84h0m0 4h0m0 31h0m0 3h0m0 29h0m0 15h0m0 6h0m0 2h0m0 5h0m0 4h0m0 1h0m1-72h0m0 9h0m0 0h0m0 13h0m0 20h0m0 11h0m1-70h0m0 0h0m0 11h0m0 11h0m0 5h0m0 2h0m0 5h0m0 3h0m0 5h0m1-12h0m0 11h0m0 24h0m0 21h0m1-129h0m0 2h0m0 34h0m0 15h0m0 32h0m0 0h0m0 18h0m0 0h0m0 20h0m0 11h0m0 3h0m1-137h0m0 21h0m0 42h0m0 24h0m0 12h0m0 28h0m0 1h0m0 9h0m0 0h0m1-101h0m0 66h0m0 1h0m0 11h0m1-133h0m0 62h0m0 2h0m0 40h0m0 34h0m0 31h0m0 1h0m1-155h0m0 45h0m0 37h0m0 15h0m0 3h0m0 2h0m0 16h0m1-67h0m0 3h0m0 1h0m0 0h0m0 3h0m0 19h0m0 4h0m0 7h0m0 9h0m0 15h0m0 4h0m0 6h0m1-75h0m0 14h0m0 2h0m0 26h0m0 18h0m1-80h0m0 15h0m0 43h0m0 26h0m0 2h0m0 8h0m1-137h0m0 70h0m0 2h0m0 0h0m0 20h0m0 9h0m0 6h0m0 12h0m0 2h0m0 61h0m1-130h0m0 39h0m0 5h0m0 36h0m0 3h0m0 15h0m1-58h0m0 3h0m0 2h0m0 17h0m0 4h0m1-65h0m0 1h0m0 86h0m0 1h0m0 14h0m1-115h0m0 13h0m0 28h0m0 19h0m0 36h0m0 9h0m1-107h0m0 11h0m0 54h0m0 16h0m0 19h0m1-79h0m0 11h0m0 10h0m0 3h0m0 13h0m0 31h0m0 38h0m1-105h0m1-22h0m0 113h0m1-83h0m0 35h0m0 18h0m0 26h0m0 18h0m1-91h0m0 25h0m1-119h0m0 61h0m0 26h0m0 82h0m1-126h0m0 48h0m0 2h0m0 21h0m0 22h0m1-84h0m0 15h0m0 8h0m1 51h0m1-89h0m1 17h0m0 16h0m0 9h0m0 52h0m1-90h0m0 73h0m1-102h0m0 75h0m0 39h0m1-106h0m0 84h0m0 18h0m0 31h0m1-91h0m0 40h0m1 22h0m0 30h0m1-38h0m1-57h0m0 60h0m0 37h0m0 3h0m1-49h0m0 1h0m0 6h0m0 23h0m2-100h0m0 4h0m0 95h0m1-11h0m6-48h0m1 4h0m1 40h0m1-89h0m2 10h0m0 42h0m3-38h0m1 100h0m2-112h0m12 54h0m1-6h0"/>
<path transform="scale(0.25)" stroke="#ff6414" stroke-opacity="0.5" stroke-width="3.8" stroke-linecap="square" fill="none" d="m1213 376h0m1-33h0m1 7h0m2 5h0m0 37h0m1-48h0m1-10h0m1 28h0m1-12h0m3-21h0m0 24h0m0 16h0m0 5h0m2-54h0m0 15h0m0 2h0m3-4h0m0 30h0m0 1h0m1-27h0m0 15h0m0 3h0m2-17h0m0 25h0m0 12h0m2-45h0m0 10h0m0 7h0m1-21h0m0 2h0m0 5h0m1-12h0m0 22h0m1-11h0m0 2h0m0 8h0m0 13h0m0 11h0m0 3h0m0 7h0m0 14h0m1-43h0m0 2h0m0 18h0m1-57h0m0 8h0m0 12h0m0 5h0m0 7h0m1-71h0m0 6h0m0 63h0m0 1h0m0 1h0m0 12h0m2-30h0m0 4h0m0 1h0m0 15h0m0 12h0m0 3h0m0 13h0m1-66h0m0 24h0m0 9h0m0 10h0m0 3h0m0 14h0m0 17h0m1-95h0m0 1h0m0 3h0m0 30h0m1-17h0m0 5h0m0 5h0m0 7h0m0 9h0m0 54h0m1-98h0m0 44h0m0 6h0m0 4h0m0 4h0m0 12h0m1-50h0m0 15h0m0 9h0m0 11h0m0 2h0m0 20h0m0 6h0m0 0h0m0 13h0m0 11h0m1-103h0m0 12h0m0 35h0m0 21h0m0 20h0m1-54h0m0 22h0m0 9h0m0 6h0m1-49h0m0 6h0m0 4h0m0 11h0m0 9h0m1-48h0m0 5h0m0 16h0m0 2h0m0 12h0m0 7h0m0 5h0m0 2h0m0 6h0m0 6h0m1-65h0m0 19h0m0 7h0m0 1h0m0 2h0m0 3h0m0 20h0m0 17h0m0 8h0m0 4h0m1-66h0m0 3h0m0 6h0m0 26h0m0 2h0m0 16h0m0 6h0m0 8h0m1-72h0m0 16h0m0 0h0m0 15h0m0 1h0m0 3h0m0 25h0m1-46h0m0 6h0m0 6h0m0 4h0m0 17h0m0 44h0m1-74h0m0 2h0m0 4h0m0 3h0m0 1h0m0 4h0m0 2h0m0 2h0m0 5h0m0 5h0m0 0h0m0 3h0m1-68h0m0 0h0m0 19h0m0 9h0m0 4h0m0 0h0m0 10h0m0 2h0m0 10h0m0 16h0m0 2h0m1-46h0m0 15h0m0 5h0m0 10h0m0 11h0m1-57h0m0 5h0m0 7h0m0 1h0m0 2h0m0 13h0m0 6h0m0 1h0m0 7h0m0 4h0m0 4h0m0 6h0m0 2h0m0 20h0m0 1h0m1-73h0m0 8h0m0 0h0m0 16h0m0 5h0m0 0h0m0 3h0m0 8h0m0 5h0m0 26h0m0 4h0m1-77h0m0 3h0m0 7h0m0 4h0m0 2h0m0 3h0m0 0h0m0 1h0m0 19h0m0 0h0m0 39h0m1-77h0m0 4h0m0 1h0m0 6h0m0 5h0m0 1h0m0 1h0m0 11h0m0 10h0m0 12h0m0 22h0m0 24h0m1-102h0m0 19h0m0 1h0m0 15h0m0 38h0m0 21h0m1-89h0m0 2h0m0 12h0m0 6h0m0 14h0m0 2h0m0 2h0m0 4h0m0 11h0m1-64h0m0 23h0m0 7h0m0 11h0m0 18h0m0 7h0m0 28h0m1-89h0m0 8h0m0 12h0m0 3h0m0 5h0m0 0h0m0 2h0m0 5h0m0 9h0m0 2h0m0 4h0m0 0h0m0 5h0m1-64h0m0 29h0m0 5h0m0 2h0m0 11h0m0 7h0m0 11h0m0 3h0m1-56h0m0 16h0m0 2h0m0 1h0m0 2h0m0 1h0m1-22h0m0 9h0m0 1h0m0 0h0m0 6h0m0 2h0m0 8h0m0 3h0m0 0h0m0 8h0m0 4h0m0 8h0m0 4h0m0 4h0m1-61h0m0 2h0m0 2h0m0 4h0m0 4h0m0 7h0m0 2h0m0 17h0m0 10h0m1-56h0m0 8h0m0 14h0m0 1h0m0 18h0m0 4h0m0 1h0m0 1h0m0 2h0m0 8h0m0 3h0m0 34h0m1-72h0m0 3h0m0 4h0m0 4h0m0 4h0m0 4h0m0 8h0m1-46h0m0 21h0m0 7h0m0 3h0m0 3h0m0 2h0m0 0h0m0 9h0m0 6h0m0 1h0m0 4h0m0 2h0m0 14h0m0 2h0m0 15h0m1-72h0m0 36h0m0 0h0m0 3h0m0 6h0m0 6h0m0 6h0m0 7h0m1-77h0m0 9h0m0 21h0m0 3h0m1-41h0m0 12h0m0 2h0m0 10h0m0 6h0m0 1h0m0 4h0m0 11h0m0 5h0m0 10h0m0 6h0m0 5h0m0 8h0m1-90h0m0 18h0m0 10h0m0 2h0m0 1h0m0 1h0m0 10h0m0 13h0m0 18h0m0 2h0m0 14h0m1-101h0m0 29h0m0 10h0m0 5h0m0 1h0m0 10h0m0 23h0m0 17h0m0 44h0m1-112h0m0 10h0m0 4h0m0 6h0m0 8h0m0 10h0m0 2h0m0 3h0m0 17h0m0 18h0m1-68h0m0 11h0m0 2h0m0 8h0m0 6h0m0 3h0m0 0h0m0 0h0m0 9h0m0 2h0m0 10h0m1-45h0m1 22h0m0 5h0m0 1h0m0 44h0m1-110h0m0 22h0m0 14h0m0 3h0m0 20h0m1-58h0m0 20h0m0 15h0m0 26h0m0 12h0m1-48h0m0 9h0m0 29h0m1-46h0m0 12h0m0 1h0m0 38h0m1-54h0m0 7h0m0 1h0m0 9h0m0 8h0m0 12h0m0 1h0m0 0h0m1-55h0m0 30h0m0 11h0m0 19h0m0 47h0m1-21h0m1-66h0m0 22h0m0 5h0m0 3h0m0 12h0m1-32h0m0 5h0m1 9h0m1-13h0m0 13h0m0 9h0m2-63h0m0 4h0m0 30h0m0 2h0m0 67h0m1-26h0m0 3h0m1-65h0m0 48h0m0 1h0m1-6h0m0 24h0m1-86h0m0 54h0m0 27h0m0 4h0m1-77h0m0 6h0m0 18h0m0 31h0m2-28h0m0 38h0m2-6h0m2-29h0m1-2h0m1-13h0m1 49h0m1-35h0m1 43h0m1 14h0m3-50h0m3-12h0m1 2h0m1 1h0"/>
<polygon points="310.8,64.8 322.4,51.5 331.6,49.8 335.7,56.5 335.7,77.2 330.7,89.7 320.8,95.5 308.3,93.8 304.2,88 306.6,75.6" fill="none" stroke="#5a5a66" stroke-width="0.75" stroke-linejoin="round"/>
</g>
<text x="292" y="57.5" font-size="3.8" fill="#111" text-anchor="start" font-weight="normal" textLength="15.8" lengthAdjust="spacingAndGlyphs">CD90 high</text>
<clipPath id="k2"><rect x="354.5" y="23.5" width="92" height="78"/></clipPath><g clip-path="url(#k2)">
<path transform="scale(0.25)" stroke="#e4a8f0" stroke-opacity="0.5" stroke-width="3.6" stroke-linecap="square" fill="none" d="m1638 199h0m16-12h0m5 5h0m0 10h0m1-18h0m2-8h0m1 19h0m0 32h0m1-3h0m1-43h0m0 22h0m3-33h0m0 17h0m0 3h0m0 3h0m1 9h0m0 27h0m1-25h0m1-19h0m1 29h0m0 9h0m1-50h0m0 38h0m0 9h0m1-21h0m0 32h0m1-36h0m0 23h0m0 2h0m1 57h0m2-65h0m2-42h0m0 4h0m0 25h0m0 2h0m0 19h0m1-50h0m0 20h0m0 14h0m0 17h0m0 5h0m1-31h0m0 5h0m0 3h0m1 12h0m0 2h0m2-72h0m0 67h0m1-46h0m0 14h0m0 42h0m1-36h0m0 29h0m0 15h0m0 1h0m1-38h0m0 52h0m1-64h0m0 26h0m0 23h0m0 13h0m0 1h0m1-28h0m0 4h0m0 14h0m1-48h0m0 1h0m0 22h0m0 13h0m1-23h0m1-45h0m0 39h0m0 13h0m0 1h0m1-31h0m0 10h0m0 18h0m0 13h0m0 28h0m1-71h0m0 37h0m0 6h0m1-46h0m0 7h0m0 6h0m0 1h0m0 9h0m0 3h0m0 31h0m1-50h0m0 25h0m0 13h0m0 14h0m1-87h0m0 23h0m0 7h0m0 10h0m0 16h0m0 9h0m0 12h0m1-48h0m0 2h0m0 9h0m0 13h0m0 1h0m0 9h0m0 18h0m1-57h0m0 24h0m0 13h0m0 1h0m0 9h0m0 18h0m1-76h0m0 11h0m0 62h0m1-57h0m0 9h0m0 28h0m1-60h0m0 9h0m0 9h0m0 14h0m0 11h0m0 8h0m0 1h0m0 4h0m1-67h0m0 68h0m1-35h0m0 2h0m0 18h0m0 0h0m0 4h0m0 0h0m0 12h0m0 6h0m1-48h0m0 23h0m0 0h0m0 9h0m0 2h0m0 1h0m0 18h0m0 2h0m1-17h0m0 3h0m0 5h0m0 25h0m1-75h0m0 2h0m0 18h0m0 2h0m0 7h0m0 10h0m0 1h0m0 13h0m1-62h0m0 24h0m0 8h0m0 8h0m0 6h0m0 8h0m0 1h0m1-50h0m0 27h0m0 2h0m0 1h0m0 12h0m0 26h0m1-67h0m0 2h0m0 13h0m0 24h0m0 6h0m0 10h0m0 28h0m1-75h0m0 26h0m0 1h0m0 6h0m0 7h0m0 7h0m1-66h0m0 15h0m0 0h0m0 16h0m0 7h0m0 2h0m0 6h0m0 13h0m0 0h0m0 1h0m0 2h0m0 9h0m0 7h0m1-72h0m0 41h0m0 2h0m0 6h0m0 23h0m1-79h0m0 35h0m0 4h0m0 22h0m0 2h0m0 0h0m0 5h0m0 21h0m1-96h0m0 40h0m0 1h0m0 5h0m0 3h0m0 1h0m0 6h0m0 49h0m1-92h0m0 10h0m0 15h0m0 3h0m0 15h0m1-28h0m0 15h0m0 18h0m0 11h0m0 19h0m1-73h0m0 49h0m0 23h0m0 4h0m0 5h0m1-68h0m0 0h0m0 14h0m0 7h0m0 2h0m0 2h0m0 5h0m0 2h0m0 10h0m0 13h0m0 12h0m0 7h0m1-68h0m0 13h0m0 23h0m1-62h0m0 7h0m0 16h0m0 1h0m0 7h0m0 22h0m0 1h0m0 2h0m0 13h0m0 3h0m0 0h0m0 10h0m1-62h0m0 12h0m0 10h0m0 20h0m0 6h0m0 11h0m1-93h0m0 46h0m0 6h0m0 2h0m0 5h0m0 24h0m0 1h0m0 1h0m0 16h0m0 2h0m1-72h0m0 12h0m0 16h0m0 8h0m0 3h0m0 10h0m0 25h0m0 0h0m1-54h0m0 3h0m0 3h0m0 18h0m0 1h0m1-60h0m0 23h0m0 4h0m0 21h0m0 0h0m0 9h0m0 6h0m0 14h0m1-83h0m0 59h0m0 20h0m0 2h0m1-54h0m0 13h0m0 1h0m0 1h0m0 2h0m0 2h0m0 4h0m0 7h0m1-40h0m0 17h0m0 5h0m0 3h0m0 7h0m0 37h0m1-84h0m0 0h0m0 12h0m0 24h0m0 19h0m0 4h0m0 3h0m0 15h0m1-58h0m0 36h0m0 9h0m0 2h0m0 22h0m1-93h0m0 1h0m0 25h0m0 10h0m0 7h0m0 0h0m0 7h0m1-25h0m1-5h0m0 13h0m0 5h0m0 6h0m0 0h0m0 3h0m0 12h0m0 3h0m0 27h0m1-65h0m0 19h0m0 3h0m0 30h0m0 11h0m0 1h0m0 7h0m1-74h0m0 7h0m0 13h0m0 6h0m0 5h0m0 19h0m0 0h0m1-70h0m0 37h0m0 17h0m1-48h0m0 19h0m0 15h0m0 16h0m0 10h0m0 7h0m0 2h0m0 5h0m1-82h0m0 23h0m0 13h0m0 3h0m0 7h0m0 24h0m0 24h0m1-73h0m0 5h0m0 4h0m0 14h0m0 21h0m1-56h0m0 22h0m0 14h0m0 30h0m1-53h0m0 6h0m0 12h0m0 7h0m0 10h0m1 17h0m0 10h0m1-49h0m0 47h0m0 7h0m0 4h0m1-44h0m0 26h0m1-34h0m0 5h0m0 13h0m1-47h0m0 25h0m0 2h0m0 7h0m0 5h0m0 1h0m0 36h0m1-81h0m0 2h0m0 38h0m0 7h0m0 11h0m0 10h0m1-56h0m0 18h0m0 9h0m0 3h0m1-4h0m0 37h0m0 1h0m1-62h0m1-2h0m0 25h0m0 18h0m0 23h0m1-37h0m0 0h0m0 2h0m0 8h0m1-19h0m0 10h0m0 19h0m1-45h0m0 38h0m0 10h0m1-31h0m0 12h0m0 0h0m0 2h0m0 9h0m1 10h0m1-58h0m0 8h0m0 17h0m0 1h0m0 25h0m1-24h0m0 15h0m1-6h0m0 1h0m1-29h0m0 28h0m0 13h0m2-21h0m0 8h0m0 5h0m0 3h0m1-26h0m0 3h0m0 7h0m1-9h0m2 34h0m2-33h0m1-2h0m1 7h0m1-10h0m0 12h0m1 4h0"/>
<path transform="scale(0.25)" stroke="#c448ea" stroke-opacity="0.5" stroke-width="3.6" stroke-linecap="square" fill="none" d="m1661 194h0m2 3h0m3-11h0m8 8h0m1 22h0m1-28h0m1 2h0m1-36h0m0 22h0m0 6h0m0 35h0m1-33h0m0 6h0m1-19h0m0 34h0m0 2h0m1-15h0m1-29h0m0 33h0m0 16h0m2-23h0m0 6h0m0 17h0m1-34h0m0 13h0m2-15h0m0 24h0m0 17h0m1-41h0m0 47h0m0 6h0m1-40h0m0 4h0m0 35h0m1-65h0m0 27h0m0 22h0m0 4h0m0 5h0m1-47h0m0 16h0m1 12h0m0 2h0m1-8h0m0 0h0m0 1h0m0 18h0m1-31h0m0 6h0m0 8h0m0 5h0m0 0h0m1-28h0m0 9h0m0 8h0m0 15h0m1-34h0m0 19h0m0 6h0m0 5h0m0 31h0m1-18h0m0 6h0m0 11h0m1-59h0m0 9h0m0 36h0m1-63h0m0 24h0m1 11h0m0 7h0m0 7h0m0 6h0m0 2h0m0 1h0m0 3h0m0 15h0m1-71h0m0 22h0m0 10h0m0 6h0m0 2h0m0 0h0m0 10h0m0 20h0m1-67h0m0 4h0m0 8h0m0 1h0m0 26h0m0 7h0m1-53h0m0 11h0m0 4h0m0 20h0m0 0h0m0 6h0m0 10h0m0 12h0m1-63h0m0 36h0m0 0h0m0 5h0m0 2h0m0 18h0m1-53h0m0 1h0m0 21h0m0 2h0m0 2h0m0 11h0m0 0h0m0 3h0m0 4h0m0 11h0m1-39h0m0 17h0m0 11h0m0 4h0m1-56h0m0 15h0m0 0h0m0 6h0m0 8h0m0 0h0m0 8h0m0 8h0m0 15h0m0 1h0m0 2h0m0 3h0m0 17h0m1-107h0m0 29h0m0 8h0m0 11h0m0 12h0m0 28h0m1-60h0m0 3h0m0 9h0m0 11h0m0 4h0m0 3h0m0 13h0m0 5h0m0 1h0m0 6h0m0 1h0m1-70h0m0 31h0m0 0h0m0 2h0m0 0h0m0 25h0m0 15h0m1-76h0m0 19h0m0 0h0m0 21h0m0 20h0m0 2h0m0 3h0m0 6h0m0 6h0m0 2h0m1-61h0m0 1h0m0 16h0m0 2h0m0 3h0m0 10h0m0 3h0m0 2h0m0 13h0m0 1h0m0 2h0m0 1h0m0 1h0m1-54h0m0 10h0m0 22h0m0 0h0m0 5h0m0 3h0m0 1h0m0 28h0m1-70h0m0 6h0m0 5h0m0 13h0m0 0h0m0 3h0m0 2h0m0 2h0m0 7h0m0 7h0m0 7h0m0 0h0m0 3h0m1-50h0m0 3h0m0 9h0m0 10h0m0 3h0m0 2h0m0 2h0m0 5h0m0 0h0m0 4h0m0 17h0m0 2h0m0 14h0m0 2h0m1-68h0m0 4h0m0 14h0m0 1h0m0 1h0m0 1h0m0 0h0m0 7h0m0 7h0m0 26h0m1-61h0m0 13h0m0 6h0m0 10h0m0 18h0m1-49h0m0 10h0m0 1h0m0 5h0m0 5h0m0 1h0m0 1h0m0 2h0m0 0h0m0 3h0m0 4h0m0 0h0m0 13h0m0 10h0m1-72h0m0 15h0m0 6h0m0 17h0m0 9h0m0 2h0m0 1h0m0 8h0m0 16h0m1-75h0m0 8h0m0 11h0m0 5h0m0 5h0m0 6h0m0 6h0m0 1h0m0 2h0m0 1h0m0 1h0m0 2h0m0 4h0m0 6h0m0 5h0m0 6h0m0 18h0m1-86h0m0 12h0m0 13h0m0 3h0m0 14h0m0 1h0m0 3h0m0 3h0m0 3h0m0 12h0m0 1h0m0 4h0m1-72h0m0 11h0m0 9h0m0 4h0m0 12h0m0 2h0m0 1h0m0 16h0m0 1h0m0 8h0m0 14h0m1-80h0m0 32h0m0 1h0m0 1h0m0 24h0m0 4h0m0 4h0m0 5h0m0 3h0m1-45h0m0 11h0m0 2h0m0 4h0m0 5h0m0 0h0m0 2h0m0 3h0m0 17h0m0 1h0m0 4h0m0 3h0m1-72h0m0 9h0m0 4h0m0 12h0m0 5h0m0 16h0m0 10h0m0 5h0m0 3h0m1-39h0m0 1h0m0 0h0m0 0h0m0 1h0m0 0h0m0 1h0m0 8h0m0 11h0m0 9h0m0 1h0m1-81h0m0 47h0m0 1h0m0 3h0m0 2h0m0 5h0m0 2h0m0 1h0m0 16h0m0 4h0m0 19h0m1-51h0m0 12h0m0 2h0m0 11h0m0 8h0m1-51h0m0 9h0m0 1h0m0 8h0m0 2h0m0 19h0m0 1h0m0 1h0m0 6h0m0 6h0m0 1h0m0 4h0m1-66h0m0 5h0m0 16h0m0 2h0m0 18h0m0 20h0m0 2h0m0 5h0m0 1h0m0 20h0m1-58h0m0 6h0m0 18h0m0 5h0m0 2h0m1-47h0m0 1h0m0 4h0m0 10h0m0 15h0m0 35h0m1-54h0m0 16h0m0 13h0m0 7h0m0 2h0m0 6h0m1-60h0m0 12h0m0 1h0m0 8h0m0 1h0m0 4h0m0 4h0m0 4h0m0 4h0m0 9h0m0 20h0m1-80h0m0 17h0m0 10h0m0 7h0m0 3h0m0 5h0m0 1h0m0 5h0m0 5h0m0 9h0m0 12h0m1-59h0m0 1h0m0 22h0m0 2h0m0 1h0m0 1h0m0 3h0m0 4h0m0 20h0m0 6h0m1-68h0m0 2h0m0 10h0m0 4h0m0 4h0m0 3h0m0 1h0m0 11h0m0 7h0m0 8h0m0 4h0m1-62h0m0 46h0m0 2h0m0 1h0m1-43h0m0 20h0m0 3h0m0 1h0m0 9h0m0 9h0m0 1h0m0 1h0m0 4h0m1-42h0m0 2h0m0 12h0m0 3h0m0 5h0m0 5h0m0 3h0m0 14h0m0 3h0m1-28h0m0 4h0m0 8h0m0 23h0m1-60h0m0 22h0m0 4h0m0 7h0m0 0h0m0 4h0m0 3h0m0 18h0m0 11h0m0 2h0m1-86h0m0 21h0m0 4h0m0 6h0m0 11h0m0 9h0m0 7h0m0 5h0m0 12h0m1-2h0m0 1h0m0 3h0m1-60h0m0 17h0m0 1h0m0 15h0m0 2h0m0 6h0m0 0h0m0 2h0m0 9h0m0 7h0m1-39h0m0 1h0m0 2h0m0 0h0m0 3h0m0 15h0m0 2h0m1-34h0m0 1h0m0 3h0m0 20h0m0 5h0m0 16h0m0 8h0m1-52h0m0 21h0m0 5h0m1-28h0m0 8h0m0 5h0m0 11h0m0 3h0m0 4h0m1-11h0m0 2h0m0 4h0m0 6h0m0 5h0m0 22h0m1-65h0m0 19h0m0 18h0m0 13h0m1-52h0m0 15h0m0 0h0m0 3h0m0 13h0m0 7h0m1-16h0m0 7h0m0 19h0m0 9h0m1-63h0m0 24h0m0 4h0m0 9h0m1-21h0m0 19h0m0 3h0m0 16h0m1-29h0m0 4h0m0 11h0m1 7h0m1-30h0m0 6h0m0 19h0m0 29h0m1-71h0m0 30h0m0 26h0m1-32h0m0 4h0m1 3h0m0 13h0m1-29h0m0 17h0m0 32h0m1-30h0m1-13h0m0 42h0m1-24h0m0 18h0m1-42h0m1 2h0m3-3h0m0 20h0m1 5h0m2-14h0"/>
<path transform="scale(0.25)" stroke="#b830e4" stroke-opacity="0.55" stroke-width="3.6" stroke-linecap="square" fill="none" d="m1678 189h0m5-2h0m2-2h0m3 7h0m3 5h0m0 3h0m0 6h0m1-21h0m3 17h0m2-7h0m0 12h0m1-14h0m1-9h0m0 2h0m0 16h0m1-22h0m0 11h0m0 1h0m0 9h0m0 4h0m1-28h0m0 11h0m0 19h0m1-26h0m0 18h0m0 0h0m0 3h0m2-2h0m0 8h0m0 1h0m1-25h0m0 0h0m0 4h0m0 7h0m0 33h0m1-39h0m0 5h0m0 4h0m0 0h0m1-6h0m0 3h0m1-15h0m0 1h0m0 0h0m0 8h0m0 8h0m0 11h0m0 5h0m1-25h0m0 1h0m0 6h0m0 0h0m0 2h0m0 18h0m1-53h0m0 12h0m0 7h0m0 9h0m0 5h0m0 1h0m0 10h0m0 8h0m1-44h0m0 14h0m0 16h0m0 5h0m0 1h0m0 14h0m0 2h0m1-45h0m0 3h0m0 6h0m0 0h0m0 4h0m0 7h0m0 4h0m1-30h0m0 8h0m0 1h0m0 9h0m0 2h0m0 0h0m0 3h0m0 0h0m0 2h0m0 3h0m0 3h0m0 1h0m0 4h0m1-32h0m0 12h0m0 1h0m0 2h0m0 7h0m0 1h0m0 2h0m0 0h0m0 3h0m0 1h0m0 0h0m0 18h0m1-46h0m0 3h0m0 5h0m0 8h0m0 1h0m0 3h0m0 4h0m0 4h0m1-20h0m0 0h0m0 1h0m0 1h0m0 3h0m0 0h0m0 3h0m0 1h0m0 4h0m0 1h0m0 1h0m0 2h0m0 2h0m0 1h0m0 13h0m1-46h0m0 6h0m0 4h0m0 4h0m0 3h0m0 1h0m0 0h0m0 3h0m0 1h0m0 0h0m0 5h0m0 9h0m0 0h0m1-45h0m0 31h0m0 1h0m0 1h0m0 4h0m0 2h0m0 3h0m1-29h0m0 30h0m0 3h0m0 12h0m0 2h0m1-46h0m0 13h0m0 1h0m0 3h0m0 0h0m0 3h0m0 9h0m0 10h0m1-37h0m0 5h0m0 0h0m0 1h0m0 6h0m0 4h0m0 0h0m0 1h0m0 0h0m0 1h0m0 5h0m0 0h0m0 2h0m0 8h0m1-30h0m0 2h0m0 5h0m0 2h0m0 2h0m0 4h0m0 1h0m0 0h0m0 3h0m0 5h0m0 2h0m0 0h0m0 3h0m0 4h0m1-47h0m0 8h0m0 2h0m0 2h0m0 12h0m0 5h0m0 1h0m0 6h0m0 2h0m0 0h0m0 0h0m0 2h0m0 1h0m0 8h0m1-40h0m0 3h0m0 7h0m0 4h0m0 2h0m0 1h0m0 1h0m0 4h0m0 2h0m0 1h0m1-23h0m0 3h0m0 4h0m0 4h0m0 10h0m0 3h0m1-35h0m0 12h0m0 1h0m0 3h0m0 1h0m0 2h0m0 0h0m0 6h0m0 11h0m0 2h0m0 2h0m1-38h0m0 8h0m0 7h0m0 20h0m0 11h0m1-54h0m0 20h0m0 5h0m0 0h0m0 10h0m0 0h0m0 3h0m0 0h0m0 6h0m0 8h0m1-43h0m0 7h0m0 1h0m0 3h0m0 2h0m0 6h0m0 5h0m0 0h0m0 1h0m0 1h0m0 4h0m0 5h0m0 2h0m1-29h0m0 1h0m0 1h0m0 6h0m0 1h0m0 1h0m0 0h0m0 4h0m0 12h0m0 0h0m1-18h0m0 4h0m0 0h0m0 4h0m0 10h0m0 14h0m1-35h0m0 2h0m0 3h0m0 0h0m0 10h0m0 1h0m0 0h0m0 4h0m0 1h0m0 2h0m0 3h0m1-40h0m0 2h0m0 13h0m0 8h0m0 14h0m0 8h0m1-45h0m0 10h0m0 3h0m0 4h0m0 2h0m0 5h0m0 7h0m0 16h0m1-41h0m0 8h0m0 4h0m0 7h0m0 1h0m0 5h0m0 15h0m1-33h0m0 1h0m0 1h0m0 1h0m0 1h0m0 5h0m0 1h0m0 1h0m0 3h0m0 3h0m0 4h0m0 0h0m0 4h0m0 5h0m1-49h0m0 16h0m0 23h0m0 0h0m1-13h0m0 17h0m1-8h0m0 3h0m0 2h0m1-23h0m0 2h0m0 9h0m0 2h0m1-2h0m0 7h0m0 5h0m0 4h0m1-8h0m1-18h0m1 10h0m0 21h0m1-15h0m1 22h0m0 0h0m1-12h0m1-8h0m2-29h0m2 16h0m4-12h0"/>
<path transform="scale(0.25)" stroke="#8060e8" stroke-opacity="0.4" stroke-width="3.6" stroke-linecap="square" fill="none" d="m1686 205h0m0 7h0m3-49h0m1 33h0m8-27h0m1 20h0m1-19h0m0 20h0m0 5h0m0 18h0m1 1h0m4-29h0m2 32h0m1-30h0m0 16h0m0 5h0m2-21h0m2-23h0m0 30h0m1-8h0m3 9h0m0 1h0m0 22h0m2 0h0m1-38h0m0 15h0m0 11h0m0 1h0m1-44h0m0 14h0m0 15h0m0 5h0m0 9h0m0 4h0m1-20h0m0 29h0m1-24h0m0 21h0m1-36h0m0 0h0m0 4h0m0 1h0m0 17h0m1-32h0m1 7h0m0 3h0m0 24h0m0 7h0m0 3h0m1-47h0m0 49h0m1-14h0m0 3h0m0 11h0m1-26h0m0 6h0m0 12h0m1-25h0m0 6h0m0 31h0m0 9h0m1-52h0m0 9h0m0 7h0m2 1h0m0 13h0m0 16h0m1-30h0m0 11h0m1-52h0m0 54h0m0 13h0m3-25h0m2-7h0m1-7h0m0 29h0m1-40h0m1 20h0m1 14h0m2-28h0m1 3h0m0 32h0m1 0h0m1-44h0m1 31h0m9 0h0m0 15h0m4-37h0m1 0h0m4 8h0m1-15h0"/>
<path transform="scale(0.25)" stroke="#a818d8" stroke-opacity="0.45" stroke-width="3.6" stroke-linecap="square" fill="none" d="m1702 196h0m4-7h0m0 8h0m1-3h0m0 5h0m1-5h0m1-12h0m0 17h0m1-7h0m1 4h0m0 4h0m0 9h0m1-32h0m0 8h0m0 4h0m0 13h0m0 7h0m1-20h0m0 7h0m2 9h0m0 16h0m1-26h0m0 5h0m1-10h0m0 8h0m0 10h0m0 1h0m1-29h0m0 7h0m0 8h0m0 5h0m0 0h0m0 0h0m1-20h0m0 10h0m0 1h0m0 1h0m0 0h0m0 0h0m0 5h0m0 6h0m1-25h0m0 5h0m0 4h0m0 0h0m0 7h0m0 0h0m0 3h0m0 0h0m0 12h0m1-23h0m0 2h0m0 5h0m0 1h0m0 23h0m1-37h0m0 3h0m0 6h0m0 3h0m0 5h0m0 16h0m1-23h0m0 1h0m0 8h0m0 3h0m0 4h0m0 5h0m1-34h0m0 2h0m0 13h0m0 4h0m0 3h0m0 5h0m0 14h0m1-37h0m0 8h0m0 3h0m1-5h0m0 4h0m0 12h0m1-17h0m0 3h0m0 2h0m0 5h0m0 3h0m0 5h0m1-11h0m0 2h0m0 5h0m1-13h0m0 3h0m0 10h0m0 4h0m0 5h0m1-20h0m0 8h0m1-11h0m0 9h0m0 6h0m1-13h0m0 2h0m0 11h0m0 2h0m1-19h0m0 3h0m1-2h0m0 12h0m0 3h0m1-23h0m0 9h0m1 7h0m0 15h0m0 2h0m1-11h0m4-4h0"/>
<path transform="scale(0.25)" stroke="#5a88f0" stroke-opacity="0.55" stroke-width="3.6" stroke-linecap="square" fill="none" d="m1704 198h0m6-31h0m0 41h0m4-29h0m2-8h0m2 28h0m0 7h0m1-68h0m1 33h0m0 74h0m5-28h0m1-30h0m1 26h0m2-64h0m1 15h0m1 39h0m3 4h0m1-28h0m1-19h0m0 14h0m0 19h0m0 13h0m0 3h0m1-17h0m1-27h0m2-13h0m0 66h0m1-25h0m0 0h0m1-4h0m0 4h0m0 2h0m0 5h0m1-35h0m0 5h0m1 0h0m0 26h0m1-26h0m0 4h0m0 29h0m0 17h0m0 6h0m1-23h0m1-27h0m0 30h0m0 4h0m1-31h0m0 5h0m0 4h0m0 15h0m0 26h0m1-34h0m1-8h0m0 21h0m0 6h0m0 3h0m1-40h0m1-26h0m0 28h0m0 15h0m1 22h0m1-18h0m0 3h0m1-20h0m1-7h0m0 17h0m0 25h0m0 4h0m1-55h0m0 27h0m1-26h0m0 4h0m0 31h0m2-4h0m1-30h0m0 5h0m0 15h0m0 16h0m1 6h0m0 11h0m1-57h0m0 45h0m1-24h0m1-8h0m0 36h0m1-23h0m0 22h0m1-55h0m0 30h0m0 22h0m1-16h0m1 16h0m0 24h0m1-35h0m0 2h0m2 2h0m1-25h0m2-10h0"/>
<ellipse cx="428.5" cy="47.5" rx="16.5" ry="15" transform="rotate(-30 428.5 47.5)" fill="none" stroke="#5a5a66" stroke-width="0.75"/>
</g>
<text x="382" y="41.5" font-size="3.8" fill="#111" text-anchor="start" font-weight="normal" textLength="28" lengthAdjust="spacingAndGlyphs">CD73  CD105 high</text>
<clipPath id="k3"><rect x="484.5" y="23.5" width="91" height="78"/></clipPath><g clip-path="url(#k3)">
<path transform="scale(0.25)" stroke="#ff8a50" stroke-opacity="0.5" stroke-width="3.6" stroke-linecap="square" fill="none" d="m1953 339h0m4 59h0m9-12h0m8-18h0m0 1h0m2-76h0m1 15h0m3 17h0m1-3h0m5-26h0m1-6h0m0 24h0m5 15h0m0 38h0m1-10h0m2-35h0m0 52h0m2-19h0m1 2h0m0 9h0m1-30h0m1 31h0m2-48h0m1-2h0m1 47h0m1-31h0m4-22h0m0 25h0m0 42h0m1-52h0m4 53h0m1-63h0m1 26h0m4-22h0m0 39h0m2-28h0m1-69h0m1 45h0m4 5h0m1-20h0m1 2h0m0 32h0m0 28h0m0 37h0m1-42h0m3-50h0m0 28h0m2-14h0m1 46h0m0 16h0m1-27h0m1-5h0m1-12h0m0 12h0m1-82h0m0 108h0m1-21h0m2-67h0m1 72h0m1 11h0m1-51h0m2 72h0m1-46h0m1-25h0m0 41h0m1-34h0m1 6h0m1 11h0m1-91h0m0 35h0m0 114h0m1-110h0m1 76h0m0 10h0m1-53h0m1 4h0m1 15h0m0 2h0m1-24h0m0 47h0m1-62h0m0 73h0m1-72h0m0 56h0m0 18h0m1-99h0m0 35h0m0 7h0m0 20h0m2-13h0m0 58h0m1-78h0m2 1h0m0 51h0m1-68h0m1 29h0m0 51h0m1-73h0m0 4h0m0 59h0m1-50h0m0 17h0m1 29h0m1-42h0m0 57h0m3-58h0m0 45h0m0 25h0m0 8h0m1-55h0m0 35h0m1-15h0m2-12h0m0 14h0m1-48h0m0 9h0m0 28h0m1-90h0m0 95h0m1-37h0m0 11h0m1-16h0m2 24h0m1-24h0m1-67h0m0 39h0m0 4h0m1 41h0m1-33h0m0 17h0m0 45h0m0 40h0m2-61h0m0 3h0m2-23h0m1 1h0m0 15h0m1 14h0m1-21h0m0 3h0m1-1h0m1-20h0m1 49h0m1 22h0m1-35h0m0 11h0m1-68h0m0 26h0m0 13h0m0 57h0m2-69h0m0 2h0m1-35h0m0 18h0m0 13h0m1 7h0m1-41h0m0 75h0m1 10h0m1-89h0m0 87h0m1-103h0m1 42h0m2 3h0m1-40h0m0 58h0m0 2h0m0 48h0m0 9h0m1-43h0m0 13h0m1-56h0m0 6h0m2 78h0m1-20h0m1-67h0m0 2h0m1 37h0m0 22h0m1 8h0m1-75h0m0 26h0m0 5h0m1 1h0m0 50h0m1-74h0m2 26h0m1-19h0m1 27h0m0 5h0m0 10h0m1 3h0m1-44h0m0 45h0m1-35h0m0 38h0m1-85h0m0 61h0m0 44h0m2-71h0m0 8h0m0 16h0m1 42h0m1-89h0m3 25h0m2-5h0m0 19h0m0 5h0m0 19h0m1-48h0m0 82h0m1-31h0m1-5h0m0 12h0m1-19h0m1-66h0m0 119h0m2-55h0m2 6h0m1-33h0m0 66h0m2-57h0m0 14h0m2-81h0m0 46h0m0 39h0m1 44h0m1-112h0m0 11h0m2 1h0m1 88h0m0 3h0m2-36h0m0 18h0m4-33h0m0 80h0m1-137h0m0 78h0m1-54h0m1-30h0m0 12h0m0 9h0m0 2h0m0 43h0m1 53h0m0 29h0m1-95h0m0 13h0m2-18h0m1-9h0m1 86h0m3-75h0m1-15h0m0 23h0m0 26h0m0 48h0m1-105h0m0 84h0m0 24h0m3-60h0m0 6h0m1-69h0m1-20h0m0 110h0m1-96h0m1 78h0m1 55h0m1-100h0m0 6h0m1 36h0m1 2h0m3-15h0m2 84h0m2-136h0m0 46h0m1-43h0m1 87h0m1-60h0m5 8h0m0 51h0m1-93h0m0 11h0m1 115h0m3-8h0m1-68h0m0 16h0m1-7h0m0 1h0m0 4h0m1-63h0m0 20h0m1 85h0m1-59h0m4 1h0m2-45h0m2 30h0m1 18h0m0 20h0m3 11h0m4-68h0m0 7h0m0 2h0m2 16h0m0 72h0m1-78h0m0 34h0m5-76h0m2-13h0m4 60h0m4 30h0m0 7h0m3-33h0m3 59h0m2-125h0m2 28h0m0 74h0m1-29h0m7-4h0m2-52h0m0 20h0m10 4h0m2-32h0m5 49h0m2 22h0m0 5h0"/>
<path transform="scale(0.25)" stroke="#ff7c38" stroke-opacity="0.48" stroke-width="3.8" stroke-linecap="square" fill="none" d="m2114 387h0m1-94h0m6 37h0m2 2h0m2 28h0m0 26h0m0 10h0m1-21h0m3-49h0m3-25h0m1 14h0m0 36h0m1-2h0m3 34h0m2-48h0m0 37h0m0 8h0m1-19h0m1-30h0m0 22h0m1-51h0m0 3h0m1-16h0m0 17h0m0 36h0m0 24h0m1 4h0m0 11h0m2-52h0m0 7h0m1 12h0m1-4h0m0 23h0m0 26h0m1-61h0m2 22h0m0 5h0m0 3h0m0 4h0m0 7h0m1-55h0m0 42h0m0 37h0m1-58h0m0 20h0m1-121h0m0 105h0m1-62h0m0 24h0m0 56h0m2-42h0m0 3h0m0 16h0m0 22h0m1-110h0m0 88h0m0 19h0m0 3h0m0 6h0m0 6h0m1-84h0m0 29h0m0 30h0m1-62h0m0 12h0m0 24h0m0 47h0m1-34h0m0 23h0m0 7h0m0 20h0m1-113h0m0 77h0m0 12h0m0 7h0m0 5h0m1-102h0m0 52h0m1 32h0m0 2h0m0 4h0m0 3h0m0 0h0m0 10h0m0 23h0m1-131h0m0 47h0m0 29h0m0 7h0m0 0h0m1-106h0m0 58h0m0 32h0m0 20h0m0 26h0m1-113h0m0 76h0m0 37h0m1-43h0m0 2h0m0 8h0m0 11h0m0 3h0m0 33h0m1-135h0m0 85h0m0 14h0m0 22h0m0 18h0m1-77h0m0 0h0m0 10h0m0 58h0m1-51h0m1-68h0m0 31h0m0 0h0m0 38h0m0 3h0m0 12h0m0 5h0m0 6h0m0 2h0m0 4h0m0 12h0m1-71h0m0 20h0m0 11h0m0 14h0m0 42h0m0 1h0m1-141h0m0 39h0m0 3h0m0 2h0m0 16h0m0 14h0m0 8h0m0 3h0m0 15h0m0 3h0m0 5h0m1-98h0m0 29h0m0 17h0m0 6h0m0 28h0m0 6h0m0 1h0m0 34h0m1-87h0m0 19h0m0 4h0m0 3h0m0 5h0m0 17h0m1-70h0m0 26h0m0 2h0m0 6h0m0 0h0m0 4h0m0 4h0m0 17h0m0 15h0m0 4h0m0 31h0m1-107h0m0 32h0m0 2h0m0 5h0m0 4h0m0 5h0m0 21h0m0 1h0m0 9h0m0 4h0m0 0h0m0 2h0m0 7h0m0 18h0m1-117h0m0 9h0m0 12h0m0 33h0m0 7h0m0 32h0m0 2h0m1-129h0m0 49h0m0 18h0m0 8h0m0 10h0m0 10h0m0 3h0m0 3h0m0 5h0m0 7h0m0 14h0m0 1h0m1-67h0m0 18h0m0 0h0m0 40h0m0 19h0m1-119h0m0 55h0m0 1h0m0 22h0m0 62h0m1-102h0m0 5h0m0 2h0m0 17h0m0 23h0m0 1h0m1-105h0m0 25h0m0 58h0m0 21h0m0 27h0m0 1h0m1-76h0m0 35h0m0 62h0m1-109h0m0 14h0m0 5h0m0 4h0m0 24h0m0 17h0m0 8h0m0 1h0m0 3h0m0 10h0m0 8h0m0 10h0m1-104h0m0 10h0m0 34h0m0 24h0m0 1h0m0 1h0m1-102h0m0 11h0m0 36h0m0 11h0m0 4h0m0 6h0m0 8h0m0 2h0m0 6h0m0 6h0m0 21h0m0 5h0m0 3h0m0 0h0m1-103h0m0 10h0m0 6h0m0 5h0m0 33h0m0 20h0m0 20h0m0 4h0m0 7h0m1-121h0m0 64h0m0 10h0m0 17h0m0 10h0m0 12h0m0 5h0m0 22h0m0 4h0m0 2h0m1-116h0m0 34h0m0 19h0m0 7h0m0 27h0m0 5h0m0 11h0m0 12h0m1-141h0m0 12h0m0 28h0m0 11h0m0 14h0m1-49h0m0 18h0m0 5h0m0 2h0m0 15h0m0 9h0m0 26h0m0 34h0m1-127h0m0 15h0m0 32h0m0 6h0m0 2h0m0 1h0m0 16h0m0 11h0m0 3h0m0 14h0m0 1h0m0 29h0m1-137h0m0 17h0m0 9h0m0 6h0m0 23h0m0 3h0m0 27h0m0 8h0m0 5h0m0 11h0m0 2h0m0 1h0m0 1h0m0 14h0m0 2h0m0 21h0m1-121h0m0 12h0m0 10h0m0 0h0m0 8h0m0 5h0m0 13h0m0 4h0m0 17h0m0 10h0m0 0h0m1-105h0m0 4h0m0 46h0m0 6h0m0 20h0m0 0h0m0 8h0m0 19h0m0 7h0m0 8h0m0 4h0m0 6h0m1-76h0m0 17h0m0 1h0m0 12h0m0 3h0m0 3h0m0 4h0m0 26h0m0 14h0m0 2h0m0 14h0m1-139h0m0 4h0m0 12h0m0 5h0m0 10h0m0 12h0m0 4h0m0 41h0m0 20h0m0 0h0m0 8h0m0 7h0m1-123h0m0 2h0m0 3h0m0 14h0m0 13h0m0 3h0m0 2h0m0 21h0m0 5h0m0 19h0m0 11h0m0 0h0m0 3h0m0 3h0m0 3h0m0 16h0m1-107h0m0 26h0m0 6h0m0 15h0m0 8h0m0 6h0m0 9h0m0 2h0m0 6h0m0 5h0m0 9h0m0 3h0m1-151h0m0 41h0m0 7h0m0 26h0m0 0h0m0 12h0m0 14h0m0 14h0m0 8h0m0 7h0m0 3h0m0 13h0m0 3h0m0 4h0m1-128h0m0 7h0m0 11h0m0 17h0m0 2h0m0 14h0m0 1h0m0 7h0m0 1h0m0 13h0m0 2h0m0 3h0m0 2h0m0 8h0m0 4h0m0 8h0m0 25h0m1-100h0m0 6h0m0 39h0m0 1h0m0 3h0m0 13h0m0 2h0m0 7h0m0 1h0m0 4h0m0 0h0m0 9h0m0 0h0m0 8h0m0 10h0m1-114h0m0 1h0m0 29h0m0 6h0m0 22h0m0 6h0m0 1h0m0 1h0m0 7h0m0 4h0m0 3h0m0 3h0m0 2h0m0 0h0m0 14h0m0 0h0m0 3h0m0 8h0m0 7h0m0 13h0m1-112h0m0 6h0m0 2h0m0 6h0m0 3h0m0 2h0m0 1h0m0 2h0m0 14h0m0 5h0m0 23h0m0 14h0m0 12h0m1-66h0m0 18h0m0 2h0m0 6h0m0 2h0m0 4h0m0 11h0m0 22h0m0 15h0m0 3h0m1-126h0m0 16h0m0 5h0m0 11h0m0 0h0m0 2h0m0 18h0m0 2h0m0 10h0m0 2h0m0 3h0m0 8h0m0 3h0m0 1h0m0 0h0m0 22h0m0 1h0m0 4h0m0 8h0m0 6h0m1-112h0m0 23h0m0 28h0m0 4h0m0 1h0m0 8h0m0 8h0m0 8h0m0 1h0m0 1h0m1-106h0m0 10h0m0 37h0m0 17h0m0 4h0m0 23h0m0 3h0m0 5h0m0 12h0m0 4h0m0 23h0m1-162h0m0 66h0m0 0h0m0 8h0m0 14h0m0 6h0m0 10h0m0 0h0m0 9h0m0 8h0m0 9h0m0 6h0m0 2h0m0 8h0m0 10h0m0 5h0m1-135h0m0 33h0m0 45h0m0 2h0m0 1h0m0 1h0m0 6h0m0 2h0m0 9h0m0 1h0m0 5h0m0 6h0m0 5h0m0 9h0m0 8h0m1-119h0m0 9h0m0 15h0m0 10h0m0 4h0m0 2h0m0 20h0m0 2h0m0 40h0m0 12h0m1-135h0m0 64h0m0 10h0m0 6h0m0 7h0m0 3h0m0 10h0m0 3h0m0 2h0m0 13h0m0 20h0m1-120h0m0 46h0m0 29h0m0 8h0m0 2h0m0 24h0m1-122h0m0 9h0m0 28h0m0 3h0m0 3h0m0 18h0m0 6h0m0 2h0m0 7h0m0 1h0m0 55h0m0 3h0m1-135h0m0 21h0m0 6h0m0 11h0m0 2h0m0 10h0m0 4h0m0 20h0m0 2h0m0 8h0m0 0h0m0 2h0m0 1h0m0 10h0m0 10h0m0 8h0m0 7h0m0 17h0m1-95h0m0 4h0m0 2h0m0 1h0m0 11h0m0 5h0m0 4h0m0 17h0m0 9h0m0 20h0m0 31h0m0 1h0m1-150h0m0 39h0m0 12h0m0 3h0m0 31h0m0 6h0m0 16h0m0 2h0m0 6h0m0 8h0m0 3h0m1-163h0m0 57h0m0 5h0m0 13h0m0 2h0m0 10h0m0 5h0m0 3h0m0 16h0m0 1h0m0 2h0m0 4h0m0 19h0m0 6h0m0 12h0m0 2h0m0 1h0m0 2h0m0 8h0m1-152h0m0 8h0m0 12h0m0 24h0m0 1h0m0 30h0m0 3h0m0 2h0m0 4h0m0 7h0m0 8h0m0 7h0m0 40h0m0 2h0m0 6h0m0 5h0m1-97h0m0 19h0m0 5h0m0 4h0m0 11h0m0 1h0m0 24h0m0 16h0m0 11h0m0 6h0m1-142h0m0 27h0m0 22h0m0 7h0m0 19h0m0 9h0m0 8h0m0 8h0m0 17h0m0 1h0m1-106h0m0 12h0m0 7h0m0 23h0m0 1h0m0 5h0m0 1h0m0 6h0m0 16h0m0 3h0m0 0h0m0 7h0m0 4h0m0 2h0m0 69h0m1-225h0m0 62h0m0 4h0m0 2h0m0 40h0m0 10h0m0 12h0m0 11h0m0 16h0m0 7h0m0 7h0m0 14h0m0 17h0m1-158h0m0 53h0m0 3h0m0 27h0m0 13h0m0 6h0m0 11h0m0 16h0m0 6h0m0 17h0m1-116h0m0 13h0m0 13h0m0 14h0m0 68h0m0 3h0m0 12h0m0 11h0m0 8h0m1-149h0m0 12h0m0 11h0m0 5h0m0 16h0m0 8h0m0 8h0m0 6h0m0 2h0m0 6h0m0 8h0m0 4h0m0 20h0m0 3h0m0 21h0m1-193h0m0 52h0m0 46h0m0 23h0m0 1h0m0 2h0m0 9h0m0 23h0m0 12h0m1-133h0m0 20h0m0 11h0m0 31h0m0 8h0m0 1h0m0 8h0m0 7h0m0 0h0m0 6h0m0 1h0m0 14h0m0 2h0m0 23h0m0 35h0m1-117h0m0 31h0m0 2h0m0 3h0m0 12h0m0 7h0m0 5h0m0 22h0m0 10h0m0 19h0m1-144h0m0 6h0m0 28h0m0 13h0m0 0h0m0 45h0m0 21h0m1-157h0m0 44h0m0 45h0m0 1h0m0 28h0m0 1h0m0 4h0m0 16h0m0 3h0m1-94h0m0 9h0m0 35h0m0 12h0m0 2h0m0 19h0m0 4h0m0 7h0m0 19h0m0 3h0m0 6h0m0 10h0m1-87h0m0 3h0m0 0h0m0 11h0m0 8h0m0 8h0m0 1h0m0 21h0m1-38h0m0 11h0m0 13h0m0 7h0m0 20h0m1-109h0m0 3h0m0 91h0m0 14h0m0 11h0m0 5h0m1-134h0m0 23h0m0 39h0m0 6h0m0 0h0m0 8h0m0 18h0m0 8h0m0 7h0m0 7h0m0 4h0m0 1h0m0 8h0m1-152h0m0 18h0m0 0h0m0 1h0m0 33h0m0 26h0m0 20h0m0 16h0m0 8h0m0 4h0m0 7h0m0 23h0m0 15h0m1-80h0m0 65h0m0 7h0m0 8h0m1-128h0m0 37h0m0 0h0m0 26h0m0 10h0m0 18h0m0 12h0m0 1h0m1-159h0m0 4h0m0 57h0m0 9h0m0 3h0m0 16h0m0 29h0m0 4h0m0 20h0m0 2h0m0 15h0m0 7h0m1-119h0m0 3h0m0 10h0m0 8h0m0 4h0m0 6h0m0 7h0m0 2h0m0 12h0m0 20h0m0 0h0m0 0h0m0 16h0m0 2h0m1-61h0m0 7h0m0 0h0m0 4h0m0 3h0m0 7h0m0 13h0m0 14h0m0 16h0m1-72h0m0 1h0m0 40h0m0 23h0m0 32h0m1-152h0m0 4h0m0 55h0m0 35h0m0 15h0m0 40h0m1-95h0m0 1h0m0 16h0m0 8h0m0 0h0m0 22h0m0 1h0m0 9h0m0 8h0m0 5h0m0 3h0m0 1h0m0 0h0m0 2h0m0 29h0m1-123h0m0 3h0m0 16h0m0 33h0m0 3h0m0 8h0m1-85h0m0 11h0m0 27h0m0 23h0m0 11h0m0 2h0m0 33h0m0 0h0m1-83h0m0 24h0m0 9h0m0 2h0m0 2h0m0 44h0m0 13h0m0 19h0m0 6h0m1-151h0m0 11h0m0 27h0m0 25h0m0 2h0m0 7h0m0 16h0m0 4h0m0 0h0m0 4h0m0 12h0m0 8h0m0 6h0m0 21h0m1-97h0m0 29h0m0 4h0m0 31h0m0 8h0m0 7h0m0 4h0m1-26h0m0 10h0m0 14h0m0 9h0m1-80h0m0 5h0m0 13h0m0 3h0m0 0h0m0 5h0m0 6h0m0 29h0m1-59h0m0 2h0m0 1h0m0 28h0m0 5h0m0 0h0m0 2h0m0 13h0m1-86h0m0 45h0m0 1h0m0 11h0m0 1h0m0 41h0m0 12h0m1-147h0m0 37h0m0 11h0m0 9h0m0 20h0m0 5h0m0 20h0m0 30h0m0 13h0m1-101h0m0 9h0m0 11h0m0 2h0m0 10h0m0 19h0m0 46h0m1-66h0m0 34h0m1-29h0m0 27h0m1-72h0m0 22h0m0 3h0m0 19h0m0 27h0m0 13h0m0 10h0m0 23h0m0 1h0m0 23h0m1-100h0m1-44h0m0 21h0m0 26h0m0 32h0m1-99h0m0 26h0m0 24h0m0 21h0m0 4h0m0 4h0m1-25h0m0 38h0m0 61h0m0 20h0m1-162h0m0 9h0m0 26h0m0 24h0m0 4h0m0 67h0m0 5h0m1-120h0m0 110h0m1-83h0m0 17h0m0 21h0m0 5h0m0 43h0m1-102h0m0 25h0m0 2h0m0 42h0m1-90h0m0 79h0m0 15h0m1-92h0m0 43h0m0 17h0m0 5h0m0 5h0m1-13h0m0 22h0m0 16h0m0 9h0m1-87h0m0 91h0m1-150h0m0 29h0m0 43h0m0 55h0m0 12h0m1-90h0m0 11h0m0 106h0m1-43h0m1-33h0m0 23h0m0 41h0m1-99h0m0 51h0m0 22h0m1-85h0m0 54h0m0 11h0m2-98h0m0 21h0m0 63h0m2-5h0m0 11h0m0 65h0m1-114h0m0 82h0m1-43h0m0 6h0m1-61h0m0 95h0m1-27h0m0 15h0m3-38h0m0 5h0m2 14h0"/>
<path transform="scale(0.25)" stroke="#ff6414" stroke-opacity="0.5" stroke-width="3.8" stroke-linecap="square" fill="none" d="m2149 334h0m0 21h0m8-55h0m0 39h0m1 28h0m2-5h0m1-38h0m7-22h0m0 92h0m1-80h0m0 28h0m1-15h0m1-9h0m2-40h0m0 52h0m0 14h0m0 6h0m1 14h0m1-76h0m0 64h0m1-11h0m1-32h0m0 28h0m1-36h0m0 3h0m0 5h0m0 65h0m1-44h0m1-9h0m0 17h0m0 2h0m1-48h0m0 46h0m0 28h0m1-76h0m0 31h0m0 7h0m0 2h0m0 8h0m0 9h0m1-84h0m0 23h0m0 6h0m0 12h0m0 5h0m0 1h0m0 3h0m0 16h0m0 3h0m0 0h0m0 17h0m0 9h0m1-55h0m0 19h0m0 7h0m0 0h0m0 20h0m1-47h0m0 2h0m0 14h0m0 2h0m0 21h0m0 2h0m0 3h0m0 20h0m1-52h0m0 1h0m0 6h0m0 1h0m0 6h0m0 29h0m1-49h0m0 2h0m0 8h0m0 1h0m0 7h0m0 1h0m0 4h0m0 21h0m0 1h0m0 7h0m1-52h0m0 3h0m0 4h0m0 5h0m0 15h0m0 18h0m0 23h0m1-58h0m0 8h0m0 0h0m0 4h0m0 6h0m0 2h0m0 18h0m1-69h0m0 11h0m0 30h0m1-40h0m0 19h0m0 0h0m0 18h0m0 5h0m0 6h0m0 8h0m0 9h0m0 23h0m1-82h0m0 9h0m0 13h0m0 4h0m0 25h0m0 0h0m0 2h0m0 5h0m0 7h0m0 2h0m1-81h0m0 21h0m0 12h0m0 0h0m0 79h0m1-107h0m0 22h0m0 6h0m0 2h0m0 1h0m0 19h0m0 12h0m0 9h0m0 8h0m0 4h0m1-80h0m0 15h0m0 7h0m0 3h0m0 3h0m0 10h0m0 14h0m0 5h0m0 0h0m0 1h0m1-59h0m0 10h0m0 5h0m0 10h0m0 7h0m0 3h0m0 6h0m0 2h0m0 4h0m0 6h0m0 29h0m1-97h0m0 14h0m0 10h0m0 5h0m0 18h0m0 0h0m0 8h0m0 2h0m0 2h0m0 3h0m0 7h0m0 4h0m0 4h0m0 3h0m0 4h0m0 9h0m1-59h0m0 10h0m0 1h0m0 8h0m0 2h0m0 0h0m0 4h0m0 7h0m0 0h0m0 4h0m0 13h0m0 11h0m1-111h0m0 20h0m0 42h0m0 8h0m0 7h0m0 10h0m1-54h0m0 11h0m0 6h0m0 9h0m0 3h0m0 8h0m0 1h0m0 9h0m0 4h0m0 7h0m0 2h0m0 11h0m1-76h0m0 4h0m0 4h0m0 11h0m0 6h0m0 3h0m0 3h0m0 3h0m0 5h0m0 7h0m0 1h0m0 7h0m0 24h0m0 10h0m1-121h0m0 11h0m0 11h0m0 21h0m0 5h0m0 11h0m0 55h0m0 11h0m1-106h0m0 15h0m0 13h0m0 2h0m0 3h0m0 4h0m0 4h0m0 0h0m0 4h0m0 6h0m0 2h0m0 0h0m0 3h0m0 1h0m0 5h0m0 14h0m1-72h0m0 10h0m0 5h0m0 12h0m0 10h0m0 8h0m0 4h0m0 2h0m0 6h0m0 4h0m0 1h0m0 6h0m0 2h0m0 5h0m1-53h0m0 4h0m0 1h0m0 16h0m0 0h0m0 0h0m0 2h0m0 3h0m0 1h0m0 4h0m0 2h0m0 1h0m0 0h0m0 2h0m0 12h0m0 4h0m1-62h0m0 13h0m0 10h0m0 28h0m0 15h0m0 12h0m1-87h0m0 1h0m0 11h0m0 2h0m0 6h0m0 7h0m0 27h0m0 0h0m0 1h0m0 1h0m0 5h0m0 4h0m0 2h0m1-86h0m0 32h0m0 2h0m0 2h0m0 6h0m0 5h0m0 7h0m0 11h0m0 2h0m0 1h0m0 1h0m0 1h0m0 1h0m0 6h0m0 3h0m0 15h0m0 4h0m0 23h0m1-102h0m0 39h0m0 41h0m1-81h0m0 8h0m0 9h0m0 1h0m0 2h0m0 4h0m0 2h0m0 2h0m0 4h0m0 3h0m0 3h0m0 0h0m0 4h0m0 4h0m0 1h0m0 0h0m0 4h0m0 1h0m0 3h0m1-79h0m0 33h0m0 6h0m0 15h0m0 7h0m0 23h0m0 10h0m0 7h0m0 9h0m0 10h0m1-91h0m0 19h0m0 0h0m0 4h0m0 5h0m0 6h0m0 0h0m0 1h0m0 8h0m0 2h0m0 5h0m0 13h0m0 38h0m1-132h0m0 31h0m0 11h0m0 5h0m0 2h0m0 4h0m0 15h0m0 14h0m0 0h0m0 4h0m0 7h0m0 1h0m0 9h0m0 12h0m1-76h0m0 4h0m0 10h0m0 1h0m0 2h0m0 4h0m0 2h0m0 4h0m0 6h0m0 8h0m0 0h0m0 1h0m0 5h0m0 23h0m1-99h0m0 4h0m0 20h0m0 13h0m0 7h0m0 3h0m0 2h0m0 8h0m0 4h0m0 3h0m0 5h0m0 1h0m0 14h0m0 14h0m0 4h0m1-88h0m0 1h0m0 15h0m0 6h0m0 3h0m0 9h0m0 2h0m0 1h0m0 13h0m0 6h0m0 5h0m0 1h0m0 1h0m0 1h0m0 4h0m0 3h0m1-81h0m0 6h0m0 20h0m0 21h0m0 5h0m0 7h0m0 5h0m0 7h0m0 12h0m0 2h0m1-78h0m0 17h0m0 12h0m0 4h0m0 6h0m0 11h0m0 1h0m0 8h0m0 21h0m0 9h0m1-110h0m0 18h0m0 38h0m0 16h0m0 16h0m0 2h0m1-60h0m0 1h0m0 3h0m0 0h0m0 0h0m0 1h0m0 6h0m0 2h0m0 3h0m0 0h0m0 13h0m0 5h0m0 7h0m0 2h0m1-74h0m0 23h0m0 30h0m0 2h0m0 9h0m0 7h0m0 8h0m0 3h0m0 1h0m0 10h0m0 21h0m1-95h0m0 1h0m0 27h0m0 4h0m0 1h0m0 3h0m0 17h0m0 4h0m0 17h0m0 12h0m1-90h0m0 43h0m0 1h0m0 8h0m0 19h0m1-71h0m0 3h0m0 16h0m0 12h0m0 5h0m0 1h0m0 0h0m0 29h0m0 0h0m1-40h0m0 23h0m0 8h0m0 13h0m0 0h0m0 3h0m1-66h0m0 10h0m0 2h0m0 5h0m0 7h0m0 9h0m0 5h0m0 10h0m0 10h0m0 7h0m0 10h0m0 25h0m1-104h0m0 22h0m0 14h0m0 4h0m0 3h0m0 6h0m0 22h0m0 5h0m0 13h0m0 12h0m1-102h0m0 18h0m0 17h0m0 1h0m0 11h0m0 4h0m0 4h0m0 11h0m0 12h0m1-71h0m0 20h0m0 5h0m0 1h0m0 5h0m0 16h0m0 25h0m0 20h0m1-108h0m0 38h0m0 1h0m0 1h0m0 3h0m0 2h0m0 3h0m0 14h0m0 3h0m1-26h0m0 30h0m0 16h0m1-75h0m0 15h0m0 5h0m0 13h0m0 16h0m0 8h0m1-58h0m0 33h0m0 1h0m0 12h0m0 2h0m0 8h0m0 1h0m0 25h0m1-65h0m0 15h0m0 5h0m0 13h0m0 10h0m0 17h0m1-71h0m0 1h0m0 5h0m0 3h0m0 2h0m0 3h0m0 20h0m0 15h0m0 27h0m1-50h0m0 28h0m0 1h0m0 17h0m0 1h0m1-45h0m0 20h0m1-47h0m0 16h0m1-19h0m0 39h0m0 2h0m0 15h0m1-41h0m0 3h0m0 8h0m0 18h0m0 2h0m0 9h0m0 5h0m0 15h0m1-36h0m0 6h0m1 0h0m1-38h0m0 6h0m0 16h0m0 2h0m0 10h0m0 15h0m1-48h0m0 31h0m0 20h0m1-26h0m0 13h0m0 12h0m0 4h0m1 7h0m1-73h0m0 5h0m0 2h0m0 17h0m0 9h0m0 14h0m0 1h0m0 8h0m1-46h0m0 19h0m0 24h0m1-34h0m0 16h0m0 14h0m2 9h0m0 11h0m1-64h0m0 24h0m0 9h0m0 61h0m2-94h0m0 4h0m0 37h0m2-25h0m1-23h0m2 26h0m2-7h0m1 7h0m0 12h0m5-58h0m0 50h0m5 5h0m11-16h0"/>
<polygon points="549.5,51.5 567.7,46.3 575.5,51.5 575.5,82.5 569.9,94 554.4,98 534,90.7 533.2,86.6 535,76 537.2,67.8 542,58" fill="none" stroke="#5a5a66" stroke-width="0.75" stroke-linejoin="round"/>
</g>
<text x="544" y="43" font-size="3.8" fill="#111" text-anchor="start" font-weight="normal" textLength="15.8" lengthAdjust="spacingAndGlyphs">CD90 high</text>
<clipPath id="k4"><rect x="589.5" y="23.5" width="91" height="78"/></clipPath><g clip-path="url(#k4)">
<path transform="scale(0.25)" stroke="#a0d8a0" stroke-opacity="0.5" stroke-width="3.2" stroke-linecap="square" fill="none" d="m2494 297h0m17-36h0m16-50h0m1 71h0m9-32h0m0 16h0m2-64h0m0 57h0m5-64h0m0 38h0m3 25h0m1-56h0m0 42h0m0 5h0m3-53h0m2 12h0m3 13h0m0 45h0m1-10h0m1-15h0m0 35h0m2-31h0m1 7h0m1-53h0m0 28h0m3 14h0m1-41h0m0 20h0m1 6h0m0 15h0m1 39h0m0 12h0m1-83h0m2 27h0m2 18h0m2 33h0m1-22h0m1-16h0m2-13h0m4-32h0m1 47h0m2-48h0m3 49h0m5-27h0m5 41h0m3-50h0m1-7h0m0 20h0m23 43h0m1-57h0"/>
<path transform="scale(0.25)" stroke="#e4a8f0" stroke-opacity="0.5" stroke-width="3.6" stroke-linecap="square" fill="none" d="m2583 215h0m6-45h0m9 6h0m1 3h0m1 13h0m1-18h0m0 35h0m2-41h0m1 3h0m0 5h0m0 3h0m0 7h0m0 5h0m0 3h0m1 3h0m1-26h0m0 10h0m0 35h0m1-45h0m0 23h0m0 20h0m0 4h0m1-49h0m0 3h0m0 9h0m0 11h0m1-14h0m0 5h0m0 5h0m0 1h0m0 24h0m1-30h0m0 11h0m1-42h0m0 14h0m0 20h0m0 4h0m1-39h0m0 7h0m0 43h0m0 5h0m1-44h0m1-12h0m0 11h0m0 5h0m0 9h0m0 6h0m0 30h0m1-55h0m0 3h0m0 26h0m0 14h0m0 7h0m1-35h0m0 39h0m0 5h0m0 2h0m0 3h0m1-57h0m0 32h0m0 10h0m0 10h0m1-47h0m0 3h0m0 3h0m0 3h0m1-21h0m0 7h0m0 7h0m0 14h0m1 20h0m0 6h0m1-31h0m0 15h0m0 16h0m0 10h0m1-69h0m0 5h0m0 30h0m0 43h0m1-78h0m0 21h0m0 20h0m0 9h0m1-55h0m0 4h0m0 19h0m0 5h0m0 9h0m0 24h0m0 3h0m1-71h0m0 31h0m0 18h0m0 27h0m0 17h0m1-77h0m0 6h0m0 8h0m0 9h0m0 12h0m1-33h0m0 12h0m0 30h0m0 15h0m1-40h0m0 12h0m0 31h0m1-74h0m0 32h0m0 4h0m0 10h0m1-49h0m0 27h0m0 24h0m0 5h0m0 20h0m0 5h0m0 2h0m0 3h0m1-61h0m0 11h0m0 2h0m0 8h0m0 11h0m0 38h0m1-80h0m0 8h0m0 71h0m0 1h0m1-91h0m0 2h0m0 11h0m0 14h0m0 17h0m0 4h0m1-51h0m0 41h0m0 11h0m0 7h0m0 7h0m0 3h0m1-77h0m0 13h0m0 11h0m0 0h0m0 3h0m0 32h0m1-53h0m0 34h0m0 40h0m0 3h0m0 6h0m1-87h0m0 5h0m0 8h0m0 8h0m0 10h0m0 5h0m0 7h0m0 2h0m0 4h0m1-27h0m0 8h0m0 3h0m0 22h0m0 3h0m0 6h0m0 1h0m0 22h0m1-82h0m0 16h0m0 5h0m0 10h0m0 2h0m0 2h0m0 6h0m0 4h0m0 4h0m0 2h0m0 7h0m0 34h0m1-77h0m0 1h0m0 17h0m0 6h0m0 3h0m0 3h0m0 30h0m0 0h0m1-44h0m0 2h0m0 4h0m0 11h0m0 5h0m0 4h0m0 9h0m0 2h0m0 14h0m1-65h0m0 20h0m0 24h0m0 2h0m0 14h0m1-51h0m0 4h0m0 16h0m0 5h0m0 5h0m0 3h0m0 6h0m0 0h0m0 10h0m0 3h0m1-81h0m0 4h0m0 1h0m0 28h0m0 24h0m0 30h0m1-79h0m0 22h0m0 12h0m0 3h0m0 47h0m1-100h0m0 2h0m0 19h0m0 3h0m0 8h0m0 14h0m0 1h0m0 9h0m0 12h0m0 12h0m0 7h0m0 8h0m1-97h0m0 29h0m0 11h0m0 3h0m0 11h0m0 8h0m0 6h0m0 1h0m0 5h0m0 0h0m0 13h0m1-76h0m0 11h0m0 11h0m0 10h0m0 0h0m0 2h0m0 1h0m0 0h0m0 0h0m0 8h0m0 26h0m1-64h0m0 23h0m0 4h0m0 9h0m0 21h0m0 2h0m0 5h0m0 7h0m1-46h0m0 16h0m0 2h0m0 2h0m0 6h0m0 3h0m0 3h0m0 8h0m1-69h0m0 4h0m0 14h0m0 48h0m0 2h0m0 1h0m0 29h0m1-85h0m0 1h0m0 4h0m0 4h0m0 1h0m0 6h0m0 3h0m0 11h0m0 10h0m0 1h0m0 4h0m1-74h0m0 17h0m0 35h0m0 3h0m0 10h0m0 3h0m0 0h0m0 17h0m0 16h0m0 4h0m1-99h0m0 21h0m0 5h0m0 7h0m0 2h0m0 2h0m0 1h0m0 2h0m0 0h0m0 63h0m1-103h0m0 9h0m0 7h0m0 0h0m0 6h0m0 36h0m0 1h0m0 1h0m0 2h0m0 21h0m0 24h0m1-85h0m0 0h0m0 1h0m0 15h0m0 3h0m0 5h0m0 2h0m0 1h0m0 7h0m0 5h0m0 3h0m0 15h0m1-61h0m0 10h0m0 4h0m0 4h0m0 7h0m0 14h0m0 2h0m0 23h0m0 3h0m0 11h0m1-76h0m0 1h0m0 8h0m0 19h0m0 0h0m0 9h0m0 3h0m0 40h0m1-90h0m0 2h0m0 16h0m0 5h0m0 3h0m0 7h0m0 3h0m0 18h0m0 3h0m0 5h0m0 1h0m1-31h0m0 23h0m0 22h0m1-86h0m0 33h0m0 1h0m0 1h0m0 2h0m0 12h0m0 18h0m0 8h0m1-68h0m0 12h0m0 0h0m0 9h0m0 10h0m0 6h0m0 15h0m0 5h0m0 18h0m0 2h0m1-66h0m0 15h0m0 6h0m0 18h0m0 2h0m0 5h0m0 8h0m0 2h0m0 3h0m0 11h0m1-62h0m0 22h0m0 8h0m0 3h0m0 6h0m0 7h0m0 5h0m0 10h0m0 16h0m1-109h0m0 19h0m0 5h0m0 21h0m0 7h0m0 13h0m0 12h0m1-16h0m0 2h0m0 5h0m0 13h0m0 6h0m0 1h0m1-71h0m0 4h0m0 18h0m0 22h0m0 4h0m0 26h0m1-84h0m0 14h0m0 13h0m0 1h0m0 4h0m0 7h0m0 15h0m0 7h0m0 15h0m0 4h0m0 7h0m0 11h0m1-98h0m0 15h0m0 3h0m0 5h0m0 1h0m0 14h0m0 9h0m1-18h0m0 0h0m0 18h0m0 2h0m0 11h0m0 3h0m0 9h0m0 9h0m1-72h0m0 17h0m0 1h0m0 15h0m0 21h0m0 15h0m0 14h0m0 2h0m1-86h0m0 3h0m0 10h0m0 3h0m0 11h0m0 1h0m0 6h0m0 20h0m0 12h0m1-63h0m0 9h0m0 22h0m0 9h0m0 4h0m0 8h0m0 3h0m0 9h0m0 7h0m0 20h0m1-105h0m0 14h0m0 15h0m0 10h0m0 13h0m0 22h0m0 7h0m0 10h0m0 0h0m0 4h0m1-97h0m0 30h0m0 4h0m0 1h0m0 7h0m0 2h0m0 2h0m0 1h0m0 16h0m0 8h0m0 5h0m0 1h0m0 4h0m0 5h0m1-80h0m0 4h0m0 17h0m0 19h0m0 20h0m0 9h0m0 2h0m0 4h0m0 19h0m1-99h0m0 28h0m0 0h0m0 9h0m0 10h0m0 10h0m0 20h0m1-60h0m0 7h0m0 13h0m0 24h0m0 11h0m0 6h0m0 18h0m1-71h0m0 5h0m0 4h0m0 3h0m0 7h0m0 9h0m0 8h0m0 2h0m0 4h0m0 4h0m0 5h0m0 13h0m0 11h0m1-98h0m0 27h0m0 4h0m0 24h0m0 6h0m0 5h0m0 20h0m0 10h0m1-100h0m0 17h0m0 3h0m0 80h0m1-88h0m0 15h0m0 4h0m0 8h0m0 0h0m0 11h0m0 6h0m0 3h0m0 7h0m0 8h0m0 1h0m0 8h0m1-77h0m0 7h0m0 6h0m0 18h0m0 7h0m0 6h0m0 29h0m0 16h0m1-86h0m0 4h0m0 18h0m0 1h0m0 7h0m0 16h0m0 4h0m0 10h0m0 17h0m0 5h0m0 3h0m1-31h0m0 25h0m1-62h0m0 9h0m0 12h0m0 7h0m0 18h0m0 11h0m1-59h0m0 20h0m0 16h0m0 1h0m0 9h0m0 8h0m0 11h0m1-77h0m0 14h0m0 6h0m0 15h0m0 22h0m0 17h0m0 2h0m1-40h0m0 27h0m1-40h0m0 24h0m0 10h0m0 5h0m1-31h0m0 14h0m0 25h0m0 0h0m0 6h0m0 6h0m1-82h0m0 12h0m0 10h0m0 3h0m0 3h0m0 4h0m0 2h0m0 10h0m0 24h0m0 0h0m1-76h0m0 10h0m0 45h0m0 28h0m1-39h0m0 8h0m0 19h0m0 19h0m1-42h0m0 16h0m1-51h0m0 6h0m0 2h0m0 1h0m0 13h0m0 11h0m0 4h0m0 12h0m0 1h0m0 8h0m1-63h0m0 5h0m0 4h0m0 39h0m1-26h0m0 13h0m0 24h0m1-48h0m0 9h0m0 4h0m0 3h0m0 3h0m0 23h0m0 12h0m0 7h0m1-53h0m0 22h0m1-8h0m0 6h0m0 2h0m0 5h0m0 6h0m0 22h0m1-80h0m0 2h0m0 5h0m0 24h0m0 5h0m0 22h0m0 2h0m0 9h0m1-9h0m1-58h0m0 30h0m0 10h0m0 31h0m0 4h0m1-21h0m1-47h0m0 7h0m0 21h0m0 26h0m1-50h0m0 8h0m0 9h0m0 3h0m0 30h0m0 9h0m1-31h0m1-34h0m0 55h0m0 1h0m1-27h0m1-18h0m0 6h0m0 4h0m0 20h0m0 20h0m1-58h0m0 3h0m0 48h0m1-16h0m0 21h0m1-32h0m0 18h0m1-32h0m0 11h0m0 29h0m0 21h0m1-39h0"/>
<path transform="scale(0.25)" stroke="#c448ea" stroke-opacity="0.5" stroke-width="3.6" stroke-linecap="square" fill="none" d="m2591 221h0m3-79h0m5 42h0m1-5h0m0 6h0m0 16h0m2-15h0m1 5h0m1-3h0m0 14h0m1-9h0m0 5h0m1-36h0m0 11h0m0 11h0m0 19h0m1-12h0m0 24h0m1-31h0m0 16h0m0 6h0m0 2h0m1-52h0m0 25h0m0 3h0m0 10h0m0 11h0m1-33h0m0 3h0m0 22h0m0 2h0m1 22h0m1-59h0m1-6h0m0 2h0m0 4h0m0 10h0m0 23h0m0 18h0m1-53h0m0 1h0m0 53h0m1-31h0m0 39h0m1-65h0m0 10h0m0 3h0m0 2h0m0 16h0m0 3h0m1-33h0m0 9h0m0 4h0m1 16h0m0 10h0m0 19h0m0 5h0m1-59h0m0 0h0m0 10h0m0 8h0m0 2h0m0 4h0m0 15h0m1-37h0m0 7h0m0 12h0m0 2h0m0 4h0m0 11h0m0 2h0m0 1h0m0 8h0m1-63h0m0 2h0m0 7h0m0 3h0m0 9h0m0 9h0m0 20h0m0 0h0m0 3h0m0 19h0m1-77h0m0 13h0m0 6h0m0 2h0m0 14h0m0 1h0m0 11h0m0 11h0m0 5h0m1-66h0m0 0h0m0 30h0m0 8h0m0 11h0m0 15h0m0 22h0m1-77h0m0 7h0m0 1h0m0 17h0m0 8h0m0 19h0m0 26h0m1-60h0m0 0h0m0 0h0m0 20h0m0 7h0m0 0h0m0 10h0m0 0h0m1-47h0m0 37h0m0 4h0m0 3h0m1-39h0m0 0h0m0 9h0m0 11h0m0 1h0m0 10h0m0 35h0m0 6h0m1-94h0m0 29h0m0 0h0m0 20h0m0 0h0m0 15h0m0 7h0m0 2h0m0 0h0m1-77h0m0 1h0m0 7h0m0 17h0m0 14h0m0 6h0m0 11h0m0 15h0m0 4h0m1-58h0m0 0h0m0 5h0m0 6h0m0 9h0m0 26h0m0 6h0m0 6h0m1-63h0m0 3h0m0 7h0m0 9h0m0 12h0m0 8h0m0 3h0m0 10h0m0 11h0m0 13h0m0 6h0m1-88h0m0 21h0m0 15h0m0 5h0m0 3h0m0 15h0m0 10h0m0 14h0m0 5h0m0 5h0m1-68h0m0 12h0m0 12h0m0 1h0m0 3h0m0 8h0m0 17h0m0 4h0m0 4h0m1-70h0m0 8h0m0 3h0m0 7h0m0 12h0m0 1h0m0 13h0m0 3h0m0 10h0m1-58h0m0 4h0m0 4h0m0 13h0m0 5h0m0 10h0m0 4h0m0 13h0m0 3h0m1-56h0m0 4h0m0 10h0m0 3h0m0 5h0m0 0h0m0 19h0m0 12h0m1-75h0m0 18h0m0 20h0m0 5h0m0 5h0m0 4h0m0 3h0m0 3h0m0 4h0m0 13h0m0 10h0m0 2h0m1-56h0m0 4h0m0 0h0m0 5h0m0 3h0m0 4h0m0 5h0m0 17h0m0 6h0m0 9h0m0 8h0m1-70h0m0 2h0m0 10h0m0 8h0m0 4h0m0 7h0m0 0h0m0 1h0m0 4h0m0 9h0m0 0h0m0 24h0m1-74h0m0 18h0m0 6h0m0 0h0m0 7h0m0 8h0m0 7h0m0 7h0m0 26h0m1-87h0m0 5h0m0 7h0m0 1h0m0 10h0m0 13h0m0 2h0m0 5h0m0 7h0m0 3h0m0 2h0m0 1h0m0 17h0m0 7h0m0 1h0m1-88h0m0 22h0m0 17h0m0 9h0m0 6h0m0 1h0m0 2h0m0 5h0m0 3h0m0 5h0m0 16h0m0 0h0m1-83h0m0 15h0m0 0h0m0 4h0m0 7h0m0 2h0m0 5h0m0 5h0m0 0h0m0 2h0m0 2h0m0 0h0m0 6h0m0 4h0m0 12h0m0 8h0m0 1h0m0 7h0m0 1h0m0 1h0m1-75h0m0 3h0m0 4h0m0 4h0m0 10h0m0 8h0m0 2h0m0 7h0m0 3h0m0 1h0m0 4h0m1-54h0m0 12h0m0 19h0m0 8h0m0 2h0m0 7h0m0 6h0m0 30h0m0 4h0m0 4h0m1-83h0m0 1h0m0 18h0m0 3h0m0 3h0m0 15h0m0 4h0m0 17h0m0 17h0m0 4h0m1-88h0m0 3h0m0 9h0m0 0h0m0 6h0m0 11h0m0 6h0m0 2h0m0 2h0m0 6h0m0 9h0m0 0h0m0 12h0m0 21h0m1-79h0m0 8h0m0 9h0m0 5h0m0 13h0m0 0h0m0 10h0m0 13h0m0 5h0m0 1h0m0 14h0m1-96h0m0 21h0m0 2h0m0 2h0m0 9h0m0 4h0m0 1h0m0 3h0m0 1h0m0 4h0m0 1h0m0 6h0m0 2h0m0 4h0m0 7h0m0 21h0m1-81h0m0 15h0m0 2h0m0 13h0m0 8h0m0 1h0m0 2h0m0 8h0m0 4h0m0 1h0m0 3h0m0 6h0m0 15h0m0 0h0m0 6h0m1-75h0m0 10h0m0 9h0m0 9h0m0 1h0m0 1h0m0 0h0m0 5h0m0 4h0m0 2h0m0 1h0m0 0h0m0 5h0m0 22h0m1-94h0m0 19h0m0 1h0m0 9h0m0 12h0m0 1h0m0 4h0m0 5h0m0 7h0m0 1h0m0 7h0m0 4h0m0 13h0m0 7h0m1-75h0m0 4h0m0 14h0m0 0h0m0 1h0m0 5h0m0 9h0m0 1h0m0 4h0m0 5h0m0 1h0m0 2h0m0 21h0m0 1h0m0 20h0m1-104h0m0 10h0m0 17h0m0 9h0m0 6h0m0 4h0m0 2h0m0 1h0m0 9h0m0 0h0m0 6h0m0 0h0m0 1h0m0 2h0m0 2h0m0 5h0m0 4h0m0 2h0m1-54h0m0 1h0m0 5h0m0 5h0m0 9h0m0 21h0m0 12h0m1-53h0m0 12h0m0 7h0m0 5h0m0 1h0m0 10h0m0 3h0m0 0h0m0 2h0m0 10h0m0 1h0m0 9h0m0 15h0m1-100h0m0 12h0m0 12h0m0 6h0m0 13h0m0 6h0m0 4h0m0 3h0m0 10h0m0 2h0m0 5h0m0 13h0m1-81h0m0 19h0m0 4h0m0 6h0m0 2h0m0 1h0m0 7h0m0 0h0m0 0h0m0 14h0m0 6h0m0 2h0m0 1h0m0 1h0m0 3h0m0 14h0m0 7h0m0 3h0m1-80h0m0 15h0m0 4h0m0 10h0m0 3h0m0 12h0m0 3h0m0 1h0m0 4h0m0 2h0m0 1h0m0 6h0m0 7h0m0 5h0m0 32h0m1-119h0m0 12h0m0 19h0m0 12h0m0 1h0m0 11h0m0 3h0m0 5h0m0 1h0m0 2h0m0 17h0m1-56h0m0 32h0m0 1h0m0 12h0m0 1h0m0 1h0m0 24h0m0 13h0m1-106h0m0 18h0m0 2h0m0 8h0m0 2h0m0 5h0m0 6h0m0 7h0m0 1h0m0 3h0m0 6h0m0 5h0m0 3h0m0 2h0m0 4h0m0 1h0m0 3h0m0 2h0m0 4h0m1-77h0m0 6h0m0 13h0m0 2h0m0 1h0m0 3h0m0 7h0m0 2h0m0 2h0m0 2h0m0 10h0m0 5h0m0 3h0m0 9h0m0 11h0m0 12h0m1-97h0m0 20h0m0 17h0m0 5h0m0 10h0m0 2h0m0 3h0m0 12h0m0 3h0m0 12h0m0 0h0m1-71h0m0 22h0m0 2h0m0 7h0m0 0h0m0 3h0m0 3h0m0 0h0m0 2h0m0 9h0m0 5h0m0 5h0m0 4h0m0 3h0m1-62h0m0 17h0m0 3h0m0 2h0m0 1h0m0 5h0m0 12h0m0 2h0m0 4h0m0 2h0m0 14h0m0 3h0m0 4h0m0 1h0m0 10h0m0 1h0m1-97h0m0 32h0m0 2h0m0 1h0m0 2h0m0 3h0m0 1h0m0 5h0m0 1h0m0 4h0m0 2h0m0 55h0m1-89h0m0 3h0m0 5h0m0 3h0m0 5h0m0 6h0m0 7h0m0 3h0m0 7h0m0 29h0m1-55h0m0 9h0m0 1h0m0 7h0m0 1h0m0 1h0m0 2h0m0 2h0m0 4h0m0 6h0m0 9h0m1-54h0m0 4h0m0 10h0m0 8h0m0 13h0m0 1h0m0 8h0m0 6h0m0 2h0m0 3h0m0 8h0m0 20h0m1-88h0m0 1h0m0 13h0m0 0h0m0 1h0m0 16h0m0 3h0m0 2h0m0 3h0m0 3h0m0 4h0m0 3h0m0 4h0m0 1h0m0 1h0m0 4h0m0 0h0m0 10h0m0 26h0m1-93h0m0 13h0m0 14h0m0 3h0m0 2h0m0 4h0m0 7h0m0 4h0m0 4h0m1-49h0m0 3h0m0 21h0m0 0h0m0 5h0m0 1h0m0 1h0m0 0h0m0 3h0m0 2h0m0 3h0m0 2h0m0 7h0m0 6h0m0 14h0m0 17h0m1-76h0m0 8h0m0 13h0m0 0h0m0 13h0m0 1h0m0 5h0m0 8h0m0 15h0m0 3h0m1-67h0m0 8h0m0 4h0m0 2h0m0 11h0m0 0h0m0 2h0m0 10h0m0 31h0m0 13h0m1-102h0m0 21h0m0 3h0m0 13h0m0 6h0m0 9h0m0 0h0m0 15h0m0 5h0m0 21h0m1-83h0m0 24h0m0 2h0m0 17h0m0 4h0m0 8h0m0 0h0m0 1h0m0 3h0m1-47h0m0 47h0m0 1h0m0 7h0m0 17h0m1-90h0m0 28h0m0 5h0m0 3h0m0 1h0m0 1h0m0 12h0m0 16h0m0 10h0m1-84h0m0 32h0m0 4h0m0 12h0m0 10h0m0 32h0m1-87h0m0 26h0m0 18h0m0 5h0m0 3h0m0 26h0m1-72h0m0 13h0m0 16h0m0 2h0m0 0h0m0 5h0m0 2h0m0 18h0m0 1h0m0 2h0m0 3h0m0 4h0m0 29h0m1-76h0m0 0h0m0 2h0m0 6h0m0 2h0m0 7h0m0 40h0m1-80h0m0 12h0m0 9h0m0 2h0m0 22h0m0 11h0m0 2h0m1-33h0m0 1h0m0 21h0m0 18h0m0 5h0m0 3h0m0 0h0m0 5h0m0 6h0m1-80h0m0 1h0m0 22h0m0 22h0m0 5h0m0 1h0m0 11h0m0 4h0m0 1h0m0 1h0m0 4h0m0 0h0m1-79h0m0 37h0m0 4h0m0 14h0m0 4h0m0 8h0m1-64h0m0 13h0m0 13h0m0 13h0m0 3h0m0 17h0m0 6h0m0 25h0m0 4h0m1-66h0m0 13h0m0 15h0m0 8h0m0 2h0m0 6h0m1-67h0m0 0h0m0 9h0m0 11h0m0 8h0m0 1h0m0 0h0m0 3h0m0 10h0m0 5h0m0 0h0m1-30h0m0 14h0m0 10h0m0 5h0m0 26h0m1-45h0m0 1h0m0 5h0m0 23h0m1-57h0m0 51h0m0 14h0m0 4h0m0 0h0m0 0h0m1-63h0m0 30h0m0 13h0m0 25h0m1-71h0m0 20h0m0 38h0m0 8h0m1-45h0m0 12h0m0 8h0m0 2h0m0 1h0m0 2h0m0 3h0m1-26h0m0 10h0m0 1h0m0 23h0m0 3h0m0 5h0m1-45h0m0 53h0m1-70h0m0 15h0m0 3h0m0 5h0m0 6h0m0 22h0m0 4h0m1-18h0m1-24h0m0 3h0m0 31h0m0 2h0m1-39h0m1-10h0m0 9h0m0 5h0m1 15h0m0 25h0m0 3h0m1-16h0m1-23h0m0 1h0m0 3h0m0 19h0m1-46h0m0 4h0m0 21h0m0 22h0m0 0h0m0 3h0m2-27h0m0 15h0m1-25h0m1 41h0m1-50h0m0 15h0m0 24h0m0 8h0m1-38h0m1 29h0m0 3h0m0 3h0m1-33h0m0 35h0"/>
<path transform="scale(0.25)" stroke="#b830e4" stroke-opacity="0.55" stroke-width="3.6" stroke-linecap="square" fill="none" d="m2605 179h0m5 14h0m2-5h0m1 7h0m1-28h0m4-2h0m2 11h0m0 7h0m0 11h0m0 4h0m2-19h0m1 11h0m1-19h0m0 4h0m2-27h0m2 46h0m0 0h0m1-53h0m0 19h0m0 6h0m0 11h0m0 0h0m0 3h0m0 19h0m1-43h0m0 7h0m0 15h0m0 13h0m0 11h0m0 9h0m1-37h0m0 10h0m0 5h0m0 0h0m0 5h0m1-34h0m0 22h0m0 9h0m0 11h0m0 1h0m0 9h0m1-42h0m0 16h0m0 1h0m0 13h0m1-41h0m1 20h0m0 5h0m0 8h0m0 13h0m0 4h0m1-39h0m0 3h0m0 1h0m0 3h0m1-7h0m0 2h0m0 7h0m0 0h0m0 7h0m0 2h0m0 8h0m0 9h0m1-26h0m0 4h0m0 1h0m0 0h0m0 14h0m1-41h0m0 8h0m0 1h0m0 3h0m0 1h0m0 0h0m0 12h0m0 3h0m0 2h0m0 1h0m0 0h0m0 1h0m0 2h0m0 7h0m0 0h0m0 1h0m1-32h0m0 5h0m0 0h0m0 3h0m0 1h0m0 5h0m0 2h0m0 1h0m0 1h0m0 24h0m1-38h0m0 2h0m0 2h0m0 6h0m0 3h0m0 2h0m0 2h0m0 1h0m0 9h0m0 2h0m1-46h0m0 4h0m0 13h0m0 0h0m0 2h0m0 7h0m0 2h0m0 1h0m0 0h0m0 6h0m0 1h0m0 4h0m0 1h0m0 6h0m1-36h0m0 14h0m0 3h0m0 0h0m0 1h0m1-29h0m0 5h0m0 8h0m0 1h0m0 7h0m0 5h0m0 1h0m0 1h0m0 3h0m0 1h0m0 3h0m0 4h0m0 1h0m0 6h0m0 2h0m0 1h0m0 3h0m0 0h0m1-43h0m0 8h0m0 1h0m0 1h0m0 2h0m0 1h0m0 5h0m0 3h0m0 3h0m0 3h0m0 2h0m0 4h0m0 4h0m0 4h0m1-45h0m0 1h0m0 2h0m0 11h0m0 2h0m0 8h0m0 2h0m0 4h0m0 22h0m0 1h0m1-51h0m0 2h0m0 1h0m0 0h0m0 1h0m0 6h0m0 2h0m0 2h0m0 10h0m0 3h0m0 2h0m0 4h0m0 3h0m0 3h0m0 13h0m1-59h0m0 8h0m0 11h0m0 3h0m0 17h0m1-36h0m0 3h0m0 6h0m0 1h0m0 3h0m0 1h0m0 1h0m0 1h0m0 1h0m0 2h0m0 7h0m0 3h0m0 6h0m1-31h0m0 1h0m0 6h0m0 1h0m0 3h0m0 3h0m0 3h0m0 4h0m0 1h0m0 1h0m0 0h0m0 2h0m0 0h0m0 3h0m0 0h0m0 0h0m0 4h0m0 2h0m0 3h0m0 3h0m0 0h0m0 12h0m1-56h0m0 3h0m0 9h0m0 3h0m0 2h0m0 1h0m0 1h0m0 0h0m0 4h0m0 5h0m1-22h0m0 1h0m0 0h0m0 7h0m0 5h0m0 1h0m0 3h0m0 9h0m0 1h0m0 2h0m1-29h0m0 3h0m0 7h0m0 0h0m0 2h0m0 0h0m0 2h0m0 3h0m0 2h0m0 6h0m0 1h0m0 2h0m0 0h0m0 2h0m1-31h0m0 5h0m0 2h0m0 3h0m0 1h0m0 9h0m0 3h0m0 3h0m0 5h0m0 6h0m0 4h0m0 3h0m1-47h0m0 4h0m0 4h0m0 3h0m0 3h0m0 1h0m0 1h0m0 1h0m0 1h0m0 2h0m0 5h0m0 7h0m0 8h0m0 2h0m1-50h0m0 7h0m0 10h0m0 1h0m0 1h0m0 2h0m0 1h0m0 0h0m0 3h0m0 1h0m0 4h0m0 2h0m0 1h0m0 1h0m0 2h0m0 1h0m0 4h0m0 2h0m0 1h0m0 3h0m1-47h0m0 13h0m0 5h0m0 1h0m0 0h0m0 2h0m0 3h0m0 2h0m0 1h0m0 2h0m0 2h0m0 3h0m0 2h0m0 10h0m1-55h0m0 8h0m0 10h0m0 8h0m0 3h0m0 0h0m0 0h0m0 0h0m0 8h0m0 4h0m0 5h0m0 3h0m0 1h0m0 3h0m0 4h0m0 9h0m0 6h0m1-55h0m0 8h0m0 0h0m0 0h0m0 1h0m0 1h0m0 0h0m0 0h0m0 2h0m0 1h0m0 2h0m0 1h0m0 1h0m0 2h0m0 2h0m0 3h0m0 6h0m0 3h0m0 0h0m0 2h0m0 2h0m0 0h0m0 2h0m0 11h0m0 7h0m1-65h0m0 7h0m0 3h0m0 1h0m0 7h0m0 1h0m0 7h0m0 1h0m0 1h0m0 3h0m0 3h0m0 1h0m0 2h0m0 1h0m0 5h0m0 5h0m0 2h0m0 14h0m1-78h0m0 25h0m0 3h0m0 1h0m0 2h0m0 1h0m0 3h0m0 2h0m0 5h0m0 2h0m0 2h0m0 1h0m0 4h0m0 1h0m0 0h0m0 4h0m0 1h0m1-46h0m0 10h0m0 3h0m0 15h0m0 1h0m0 3h0m0 0h0m0 1h0m0 3h0m0 1h0m0 1h0m0 3h0m0 7h0m1-37h0m0 4h0m0 3h0m0 4h0m0 1h0m0 3h0m0 25h0m1-47h0m0 6h0m0 2h0m0 4h0m0 4h0m0 2h0m0 1h0m0 6h0m0 3h0m0 3h0m0 0h0m0 2h0m0 0h0m0 1h0m0 4h0m0 2h0m0 5h0m0 9h0m1-62h0m0 16h0m0 11h0m0 2h0m0 2h0m0 4h0m0 0h0m0 2h0m0 2h0m0 1h0m0 5h0m0 8h0m0 1h0m0 4h0m0 15h0m1-54h0m0 1h0m0 4h0m0 6h0m0 3h0m0 1h0m0 2h0m0 1h0m0 1h0m0 2h0m0 2h0m0 4h0m0 1h0m0 5h0m0 1h0m1-33h0m0 1h0m0 1h0m0 2h0m0 2h0m0 5h0m0 6h0m0 2h0m0 10h0m0 2h0m1-35h0m0 2h0m0 5h0m0 3h0m0 3h0m0 5h0m0 2h0m0 1h0m0 11h0m1-38h0m0 13h0m0 3h0m0 1h0m0 3h0m0 3h0m0 1h0m0 9h0m0 1h0m0 3h0m0 2h0m0 2h0m1-59h0m0 21h0m0 9h0m0 2h0m0 5h0m0 11h0m0 5h0m0 10h0m1-67h0m0 30h0m0 2h0m0 10h0m0 1h0m0 3h0m0 0h0m0 12h0m0 5h0m0 3h0m0 11h0m1-46h0m0 6h0m0 7h0m0 3h0m0 6h0m0 5h0m1-22h0m0 3h0m0 6h0m0 0h0m0 2h0m0 4h0m0 4h0m0 3h0m0 0h0m0 3h0m1-33h0m0 8h0m0 9h0m0 5h0m0 2h0m0 0h0m0 2h0m0 15h0m1-56h0m0 18h0m0 23h0m0 7h0m1-35h0m0 0h0m0 10h0m0 5h0m0 1h0m0 1h0m0 13h0m1-26h0m0 9h0m0 5h0m0 25h0m1-53h0m0 1h0m0 2h0m0 12h0m0 2h0m0 7h0m0 12h0m0 19h0m0 4h0m1-30h0m0 1h0m0 10h0m0 0h0m0 2h0m0 0h0m0 4h0m1 1h0m1-37h0m0 5h0m0 4h0m0 12h0m0 5h0m0 1h0m0 1h0m0 1h0m1 0h0m1-11h0m0 1h0m0 15h0m0 26h0m1-54h0m0 4h0m0 7h0m0 3h0m1 0h0m1 2h0m0 10h0m0 11h0m1-30h0m0 6h0m0 5h0m1-8h0m0 23h0m1-28h0m2-3h0m0 30h0m2-54h0m1 44h0m6-4h0m2-18h0"/>
<path transform="scale(0.25)" stroke="#8060e8" stroke-opacity="0.4" stroke-width="3.6" stroke-linecap="square" fill="none" d="m2605 201h0m8-33h0m0 6h0m6-31h0m4 37h0m0 37h0m1-38h0m1 33h0m1-46h0m1 2h0m1 14h0m0 3h0m0 9h0m0 23h0m1-72h0m0 35h0m1-21h0m0 17h0m1-22h0m2 17h0m0 13h0m1-46h0m1 31h0m1-1h0m0 42h0m1-58h0m0 50h0m2-33h0m0 5h0m0 14h0m0 19h0m1-39h0m0 6h0m0 13h0m0 40h0m1-66h0m1 24h0m1 2h0m1-9h0m1 16h0m0 15h0m1-67h0m0 63h0m1-53h0m0 5h0m0 48h0m1-58h0m0 22h0m1-15h0m0 32h0m1 5h0m1 7h0m1-39h0m0 10h0m0 16h0m0 10h0m1-10h0m1-30h0m0 5h0m0 18h0m0 15h0m1-36h0m0 21h0m0 17h0m0 9h0m1-49h0m0 38h0m0 6h0m1-7h0m1-7h0m0 5h0m1 7h0m1-18h0m0 8h0m1-34h0m0 41h0m1-29h0m0 4h0m0 3h0m0 13h0m0 13h0m1-46h0m0 6h0m0 25h0m0 13h0m1-13h0m0 8h0m0 7h0m0 10h0m1-34h0m0 34h0m1-47h0m0 16h0m0 4h0m0 11h0m0 14h0m1-45h0m0 45h0m1-41h0m0 7h0m0 0h0m0 11h0m1-28h0m0 26h0m0 7h0m0 7h0m0 0h0m1-50h0m0 31h0m2-23h0m0 24h0m1-36h0m0 18h0m0 16h0m1 8h0m0 2h0m1-26h0m0 30h0m1-57h0m0 27h0m0 6h0m0 11h0m0 5h0m0 5h0m1-33h0m1 10h0m0 11h0m0 7h0m0 31h0m1-30h0m2-39h0m0 17h0m1 16h0m1-5h0m0 8h0m1-27h0m1 47h0m2-18h0m1-42h0m0 50h0m1 3h0m1-18h0m2-9h0m4 11h0m1-24h0m0 36h0m0 1h0m3-58h0m0 50h0m5-1h0m2 25h0m1-62h0m6 55h0"/>
<path transform="scale(0.25)" stroke="#a818d8" stroke-opacity="0.45" stroke-width="3.6" stroke-linecap="square" fill="none" d="m2622 204h0m1-23h0m6 1h0m2-12h0m2 18h0m1-18h0m0 24h0m1-22h0m0 4h0m0 10h0m1 2h0m0 9h0m2-35h0m0 3h0m0 4h0m0 24h0m0 4h0m0 1h0m1-27h0m1-2h0m0 17h0m0 6h0m0 5h0m1-15h0m1-11h0m0 1h0m0 7h0m1-6h0m0 3h0m0 10h0m0 0h0m0 8h0m0 8h0m1-3h0m0 0h0m0 7h0m1-34h0m0 7h0m0 8h0m1-27h0m0 8h0m0 10h0m0 6h0m0 8h0m0 5h0m1-37h0m0 13h0m0 8h0m0 5h0m0 5h0m0 0h0m1-25h0m0 10h0m0 1h0m0 2h0m0 10h0m1-9h0m0 6h0m0 5h0m0 3h0m0 5h0m0 2h0m1-43h0m0 17h0m0 2h0m0 1h0m0 3h0m0 6h0m0 0h0m0 3h0m0 0h0m0 1h0m0 0h0m0 8h0m1-37h0m0 6h0m0 1h0m0 3h0m0 2h0m0 5h0m0 4h0m0 10h0m1-23h0m0 4h0m0 1h0m0 5h0m1-14h0m0 6h0m0 3h0m0 1h0m0 1h0m0 0h0m0 1h0m0 3h0m0 13h0m0 17h0m1-39h0m0 4h0m0 16h0m1-33h0m0 7h0m0 13h0m0 5h0m0 9h0m0 2h0m0 4h0m0 0h0m0 3h0m1-45h0m0 13h0m0 7h0m0 3h0m0 6h0m0 7h0m0 4h0m1-33h0m0 11h0m0 0h0m0 5h0m0 4h0m0 5h0m0 6h0m1-30h0m0 4h0m0 4h0m0 12h0m0 4h0m0 6h0m1-26h0m0 8h0m0 6h0m0 1h0m0 5h0m1-20h0m0 8h0m0 1h0m0 2h0m0 4h0m0 6h0m0 0h0m0 1h0m1-27h0m0 7h0m0 6h0m0 11h0m0 4h0m0 3h0m1-25h0m0 1h0m0 9h0m0 19h0m1-25h0m0 3h0m0 11h0m1-5h0m0 4h0m0 5h0m1-35h0m0 9h0m0 13h0m0 0h0m0 4h0m0 2h0m0 4h0m1-12h0m0 6h0m0 8h0m1-16h0m0 3h0m0 21h0m1-28h0m0 13h0m2 4h0m1-19h0m0 5h0m0 9h0m0 1h0m0 0h0m0 1h0m1-11h0m0 0h0m0 6h0m0 2h0m1-15h0m0 7h0m0 5h0m1 1h0m0 2h0m0 13h0m1-32h0m1 14h0m0 16h0m2-1h0m2-15h0m1 21h0m1-4h0m1-20h0m0 4h0m3-17h0m5 19h0"/>
<ellipse cx="665" cy="45" rx="17" ry="14.5" transform="rotate(-35 665 45)" fill="none" stroke="#5a5a66" stroke-width="0.75"/>
</g>
<text x="619" y="40.5" font-size="3.8" fill="#111" text-anchor="start" font-weight="normal" textLength="28" lengthAdjust="spacingAndGlyphs">CD73  CD105 high</text>
<clipPath id="k5"><rect x="16.5" y="196" width="89.5" height="77.5"/></clipPath><g clip-path="url(#k5)">
<path transform="scale(0.25)" stroke="#ff8a50" stroke-opacity="0.5" stroke-width="3.6" stroke-linecap="square" fill="none" d="m180 994h0m3 59h0m12-27h0m6 41h0m2-115h0m17 30h0m1 86h0m3-35h0m2-86h0m3 37h0m5-17h0m2 77h0m1 29h0m1-67h0m2-78h0m0 40h0m0 91h0m1-19h0m2-101h0m2 63h0m2 38h0m8-40h0m1 47h0m2-28h0m1 64h0m1-49h0m2-130h0m0 79h0m0 33h0m0 37h0m2-82h0m2 101h0m1-24h0m1-45h0m3 69h0m1-104h0m5 79h0m1-37h0m6 58h0m2-87h0m1 33h0m0 18h0m1 0h0m1 17h0m2-119h0m0 79h0m0 0h0m1-21h0m1 48h0m2-37h0m2 36h0m2-80h0m1 50h0m2 40h0m1-78h0m0 11h0m2-21h0m0 34h0m1 16h0m2 6h0m2 3h0m1-37h0m3-74h0m0 97h0m1 4h0m3-43h0m4-17h0m0 76h0m1 22h0m0 17h0m1-71h0m0 9h0m1 23h0m1-69h0m1 5h0m0 6h0m0 37h0m0 82h0m5-91h0m1 18h0m1-19h0m2-2h0m2-73h0m6 116h0m1-67h0m0 23h0m0 28h0m4-36h0m0 55h0m3-35h0m2-31h0m1-30h0m1 2h0m0 47h0m3 46h0m1-47h0m0 68h0m1-31h0m1-17h0m6 34h0m2 6h0m4-38h0m7-57h0m4 59h0m4-16h0m4 26h0m1-14h0m1-28h0m5 20h0m11-40h0"/>
<path transform="scale(0.25)" stroke="#ff7c38" stroke-opacity="0.48" stroke-width="3.8" stroke-linecap="square" fill="none" d="m243 1041h0m3 42h0m8-55h0m2-43h0m2 77h0m1-52h0m2 68h0m4-40h0m1-89h0m0 22h0m0 54h0m2-37h0m0 41h0m0 16h0m1-39h0m0 15h0m0 52h0m2-29h0m0 41h0m1-21h0m1-122h0m0 102h0m0 1h0m0 14h0m1-76h0m0 6h0m1 42h0m0 18h0m0 3h0m0 33h0m1-111h0m0 45h0m1-7h0m0 27h0m0 2h0m1-10h0m0 21h0m0 16h0m1-79h0m0 20h0m0 74h0m0 1h0m0 2h0m1-44h0m0 21h0m0 6h0m0 10h0m1-52h0m0 23h0m1-73h0m0 52h0m0 1h0m0 2h0m0 7h0m0 6h0m0 6h0m0 3h0m0 6h0m0 3h0m0 17h0m1-103h0m0 8h0m0 52h0m0 15h0m0 32h0m1-106h0m0 2h0m0 16h0m0 42h0m1-95h0m0 35h0m0 23h0m0 18h0m0 16h0m0 7h0m0 6h0m0 11h0m0 7h0m0 17h0m1-93h0m0 15h0m0 11h0m0 1h0m0 8h0m0 11h0m0 38h0m1-97h0m0 29h0m0 15h0m0 31h0m1-63h0m0 25h0m0 12h0m0 11h0m0 1h0m1-42h0m0 42h0m0 0h0m0 38h0m1-93h0m0 2h0m0 25h0m0 0h0m0 1h0m0 23h0m0 3h0m0 13h0m0 1h0m0 5h0m0 31h0m1-119h0m0 6h0m0 25h0m0 22h0m0 1h0m0 1h0m0 38h0m0 1h0m0 15h0m1-88h0m0 3h0m0 24h0m0 9h0m0 24h0m0 26h0m0 1h0m1-175h0m0 89h0m0 61h0m1-82h0m0 20h0m0 6h0m0 11h0m0 58h0m1-122h0m0 3h0m0 39h0m0 23h0m0 7h0m0 10h0m1-63h0m0 26h0m0 17h0m0 0h0m0 12h0m0 0h0m0 16h0m0 4h0m0 6h0m0 0h0m0 6h0m0 10h0m0 4h0m1-85h0m0 3h0m0 6h0m0 26h0m0 3h0m0 5h0m0 14h0m0 8h0m0 4h0m0 5h0m0 1h0m0 22h0m1-125h0m0 45h0m0 1h0m0 1h0m0 19h0m0 26h0m0 1h0m1-73h0m0 4h0m0 16h0m0 1h0m0 11h0m0 12h0m0 15h0m0 5h0m0 2h0m0 12h0m0 2h0m0 9h0m1-89h0m0 44h0m0 14h0m0 10h0m0 13h0m0 1h0m0 1h0m0 4h0m1-120h0m0 29h0m0 3h0m0 14h0m0 41h0m0 0h0m0 1h0m0 44h0m0 11h0m0 3h0m1-83h0m0 13h0m0 9h0m0 6h0m0 2h0m0 16h0m0 5h0m0 0h0m0 6h0m0 1h0m0 8h0m0 3h0m1-116h0m0 42h0m0 15h0m0 5h0m0 2h0m0 2h0m0 36h0m0 26h0m1-177h0m0 55h0m0 10h0m0 6h0m0 45h0m0 36h0m1-92h0m0 11h0m0 23h0m0 8h0m0 9h0m0 18h0m0 21h0m1-87h0m0 15h0m0 21h0m0 5h0m0 0h0m0 24h0m0 5h0m0 26h0m1-134h0m0 50h0m0 5h0m0 8h0m0 9h0m0 15h0m0 1h0m0 0h0m0 6h0m0 1h0m0 3h0m0 2h0m0 4h0m0 2h0m0 15h0m0 7h0m0 14h0m0 12h0m1-101h0m0 4h0m0 9h0m0 9h0m0 6h0m0 7h0m0 7h0m0 2h0m0 47h0m1-147h0m0 48h0m0 6h0m0 3h0m0 14h0m0 14h0m0 19h0m1-107h0m0 93h0m0 3h0m0 4h0m0 21h0m0 20h0m0 9h0m0 4h0m1-122h0m0 13h0m0 29h0m0 3h0m0 5h0m0 7h0m0 1h0m0 3h0m0 8h0m0 2h0m0 19h0m0 37h0m1-163h0m0 44h0m0 43h0m0 11h0m0 9h0m0 14h0m0 2h0m0 15h0m0 7h0m0 5h0m0 1h0m1-143h0m0 42h0m0 8h0m0 1h0m0 0h0m0 36h0m0 3h0m0 5h0m0 13h0m0 0h0m0 24h0m0 6h0m1-110h0m0 21h0m0 12h0m0 11h0m0 3h0m0 4h0m0 3h0m0 16h0m0 16h0m0 2h0m0 22h0m1-125h0m0 8h0m0 32h0m0 4h0m0 1h0m0 2h0m0 2h0m0 3h0m0 4h0m0 3h0m0 7h0m0 10h0m0 1h0m0 5h0m0 33h0m0 1h0m0 11h0m0 7h0m1-139h0m0 23h0m0 2h0m0 9h0m0 1h0m0 4h0m0 27h0m0 5h0m0 9h0m0 10h0m0 4h0m0 9h0m0 1h0m0 6h0m0 1h0m0 10h0m1-137h0m0 42h0m0 6h0m0 8h0m0 9h0m0 20h0m0 17h0m0 5h0m0 12h0m0 6h0m0 18h0m0 6h0m0 8h0m0 5h0m1-144h0m0 28h0m0 12h0m0 16h0m0 1h0m0 0h0m0 41h0m0 6h0m0 6h0m0 14h0m1-120h0m0 31h0m0 21h0m0 2h0m0 9h0m0 1h0m0 28h0m0 5h0m0 3h0m0 9h0m0 5h0m0 4h0m0 25h0m1-98h0m0 6h0m0 20h0m0 9h0m0 12h0m0 3h0m0 37h0m1-110h0m0 3h0m0 6h0m0 10h0m0 4h0m0 7h0m0 3h0m0 1h0m0 1h0m0 3h0m0 5h0m0 13h0m0 4h0m0 16h0m0 1h0m0 18h0m0 4h0m0 19h0m1-185h0m0 74h0m0 22h0m0 19h0m0 4h0m0 1h0m0 25h0m0 3h0m0 0h0m0 2h0m0 3h0m0 3h0m1-90h0m0 4h0m0 2h0m0 19h0m0 22h0m0 4h0m0 4h0m0 5h0m0 4h0m0 8h0m1-116h0m0 33h0m0 11h0m0 24h0m0 3h0m0 21h0m0 1h0m0 7h0m0 16h0m0 3h0m0 10h0m0 2h0m0 7h0m1-109h0m0 4h0m0 0h0m0 10h0m0 16h0m0 16h0m0 5h0m0 12h0m0 4h0m1-62h0m0 12h0m0 9h0m0 2h0m0 2h0m0 12h0m0 15h0m0 2h0m0 6h0m0 0h0m0 23h0m0 5h0m0 8h0m0 28h0m1-124h0m0 4h0m0 11h0m0 3h0m0 0h0m0 30h0m0 10h0m0 1h0m0 8h0m0 3h0m0 11h0m0 3h0m0 5h0m0 1h0m0 13h0m0 17h0m0 7h0m1-153h0m0 15h0m0 4h0m0 19h0m0 9h0m0 5h0m0 0h0m0 9h0m0 16h0m0 1h0m0 10h0m0 7h0m0 2h0m0 9h0m0 4h0m0 2h0m0 31h0m0 11h0m1-170h0m0 37h0m0 24h0m0 3h0m0 24h0m0 4h0m0 6h0m0 3h0m0 1h0m0 8h0m0 6h0m0 10h0m0 5h0m0 22h0m1-170h0m0 53h0m0 0h0m0 6h0m0 2h0m0 18h0m0 6h0m0 11h0m0 5h0m0 13h0m0 6h0m0 4h0m0 38h0m0 1h0m0 15h0m1-117h0m0 4h0m0 1h0m0 23h0m0 11h0m0 2h0m0 0h0m0 8h0m0 2h0m0 10h0m1-74h0m0 44h0m0 21h0m0 1h0m0 16h0m0 3h0m0 1h0m0 2h0m0 8h0m0 4h0m0 8h0m1-129h0m0 25h0m0 18h0m0 27h0m0 4h0m0 5h0m0 18h0m0 14h0m0 3h0m0 3h0m0 40h0m1-138h0m0 10h0m0 6h0m0 3h0m0 8h0m0 0h0m0 9h0m0 5h0m0 8h0m0 5h0m0 2h0m0 1h0m0 20h0m0 2h0m0 14h0m0 2h0m0 1h0m0 2h0m0 0h0m0 9h0m0 1h0m0 29h0m1-123h0m0 0h0m0 10h0m0 18h0m0 8h0m0 20h0m0 8h0m0 2h0m0 28h0m0 4h0m1-141h0m0 18h0m0 26h0m0 0h0m0 1h0m0 5h0m0 14h0m0 19h0m0 1h0m0 1h0m0 0h0m0 4h0m0 7h0m0 3h0m0 11h0m0 2h0m0 9h0m0 30h0m1-121h0m0 15h0m0 15h0m0 16h0m0 7h0m0 1h0m0 16h0m0 35h0m0 29h0m1-155h0m0 8h0m0 3h0m0 1h0m0 0h0m0 17h0m0 3h0m0 2h0m0 2h0m0 10h0m0 8h0m0 5h0m0 10h0m0 4h0m0 3h0m0 2h0m0 3h0m0 4h0m0 9h0m0 17h0m0 19h0m0 1h0m0 6h0m1-121h0m0 7h0m0 14h0m0 11h0m0 15h0m0 6h0m0 8h0m0 11h0m0 4h0m0 2h0m0 12h0m0 15h0m0 8h0m0 7h0m0 6h0m1-139h0m0 25h0m0 4h0m0 5h0m0 5h0m0 5h0m0 11h0m0 6h0m0 4h0m0 44h0m0 8h0m0 1h0m1-141h0m0 31h0m0 13h0m0 15h0m0 8h0m0 9h0m0 11h0m0 6h0m0 6h0m0 8h0m0 8h0m0 44h0m1-124h0m0 5h0m0 25h0m0 2h0m0 8h0m0 2h0m0 13h0m0 7h0m0 8h0m0 4h0m0 6h0m0 1h0m0 5h0m0 3h0m0 8h0m0 21h0m1-139h0m0 19h0m0 6h0m0 1h0m0 9h0m0 10h0m0 16h0m0 1h0m0 10h0m0 7h0m0 14h0m0 5h0m0 3h0m0 10h0m0 8h0m0 6h0m0 11h0m0 16h0m1-138h0m0 32h0m0 2h0m0 1h0m0 1h0m0 7h0m0 1h0m0 6h0m0 6h0m0 16h0m0 9h0m0 22h0m0 11h0m0 3h0m0 1h0m0 32h0m1-259h0m0 123h0m0 11h0m0 19h0m0 9h0m0 19h0m0 2h0m0 23h0m0 4h0m0 27h0m1-153h0m0 40h0m0 4h0m0 1h0m0 7h0m0 6h0m0 4h0m0 8h0m0 2h0m0 3h0m0 4h0m0 13h0m0 7h0m0 2h0m0 7h0m0 3h0m0 33h0m0 2h0m0 14h0m1-97h0m0 6h0m0 11h0m0 1h0m0 7h0m0 9h0m0 4h0m0 18h0m0 15h0m0 0h0m1-97h0m0 21h0m0 13h0m0 13h0m0 1h0m0 13h0m0 5h0m0 1h0m0 5h0m0 1h0m0 16h0m0 5h0m0 16h0m0 1h0m1-128h0m0 1h0m0 10h0m0 12h0m0 0h0m0 10h0m0 16h0m0 23h0m0 5h0m0 1h0m1-95h0m0 27h0m0 3h0m0 7h0m0 19h0m0 13h0m0 9h0m0 13h0m0 2h0m0 15h0m0 0h0m0 0h0m0 7h0m0 19h0m0 7h0m0 16h0m1-127h0m0 9h0m0 4h0m0 11h0m0 2h0m0 3h0m0 9h0m0 2h0m0 5h0m0 11h0m0 28h0m0 1h0m0 3h0m0 3h0m0 3h0m0 15h0m1-107h0m0 9h0m0 3h0m0 5h0m0 17h0m0 1h0m0 34h0m0 8h0m0 3h0m0 17h0m1-113h0m0 2h0m0 7h0m0 20h0m0 3h0m0 0h0m0 10h0m0 6h0m0 12h0m0 6h0m0 19h0m0 25h0m0 3h0m0 2h0m1-68h0m0 10h0m0 0h0m0 8h0m0 2h0m0 23h0m0 57h0m1-160h0m0 74h0m0 10h0m0 3h0m0 6h0m0 4h0m0 4h0m0 1h0m0 17h0m0 2h0m1-121h0m0 21h0m0 25h0m0 5h0m0 17h0m0 8h0m0 1h0m0 43h0m1-104h0m0 18h0m0 16h0m0 11h0m0 27h0m0 37h0m0 9h0m1-127h0m0 25h0m0 7h0m0 8h0m0 8h0m0 15h0m0 16h0m0 0h0m0 9h0m0 21h0m0 35h0m1-118h0m0 13h0m0 14h0m0 30h0m0 36h0m1-128h0m0 34h0m0 6h0m0 9h0m0 6h0m0 5h0m0 0h0m0 2h0m0 7h0m0 17h0m0 6h0m0 4h0m0 31h0m1-139h0m0 56h0m0 9h0m0 5h0m0 2h0m0 6h0m0 5h0m0 2h0m0 18h0m0 24h0m1-80h0m0 0h0m0 1h0m0 2h0m0 22h0m0 3h0m0 17h0m0 9h0m0 16h0m0 9h0m0 12h0m0 1h0m0 37h0m1-169h0m0 42h0m0 42h0m0 3h0m0 15h0m1-74h0m0 26h0m0 9h0m0 7h0m0 12h0m0 10h0m0 4h0m0 1h0m0 17h0m1-75h0m0 43h0m0 7h0m0 16h0m0 0h0m0 10h0m0 4h0m1-116h0m0 43h0m0 24h0m0 27h0m0 1h0m0 15h0m1-39h0m0 13h0m0 5h0m0 4h0m0 20h0m0 68h0m1-154h0m0 2h0m0 5h0m0 10h0m0 3h0m0 5h0m0 16h0m0 2h0m0 12h0m0 18h0m0 16h0m1-57h0m0 1h0m0 8h0m0 10h0m0 9h0m0 5h0m0 25h0m1-64h0m1-95h0m0 78h0m0 25h0m0 1h0m0 9h0m0 20h0m0 1h0m0 8h0m1-71h0m0 2h0m0 50h0m0 4h0m0 11h0m0 17h0m0 24h0m1-126h0m0 23h0m0 7h0m0 61h0m0 1h0m1-78h0m0 10h0m0 50h0m0 24h0m1-122h0m0 32h0m0 28h0m1-9h0m0 9h0m1-13h0m0 35h0m0 5h0m0 7h0m1-92h0m0 18h0m0 30h0m0 3h0m0 10h0m0 9h0m1 3h0m0 12h0m0 14h0m0 4h0m0 27h0m0 31h0m1-153h0m0 39h0m0 19h0m0 3h0m0 10h0m1-52h0m0 5h0m0 8h0m0 1h0m0 15h0m0 34h0m0 60h0m1-114h0m0 20h0m0 15h0m0 2h0m0 1h0m0 41h0m1-87h0m0 22h0m1-11h0m1 22h0m0 7h0m0 69h0m1-154h0m0 72h0m0 29h0m1-48h0m0 11h0m1-10h0m1-18h0m0 25h0m0 26h0m0 8h0m1-63h0m0 66h0m0 5h0m0 22h0m0 8h0m1-21h0m0 34h0m1-41h0m1-71h0m1-20h0m0 76h0m1-23h0m0 22h0m0 4h0m1 59h0m1-76h0m0 35h0m1 0h0m1-45h0m0 9h0m0 27h0m1-11h0m0 17h0m1-22h0m3-9h0m1 34h0m1-78h0m0 29h0m0 35h0m2-53h0m1 68h0m2-49h0m2 103h0m4-69h0"/>
<path transform="scale(0.25)" stroke="#ff6414" stroke-opacity="0.5" stroke-width="3.8" stroke-linecap="square" fill="none" d="m269 1056h0m8-37h0m0 8h0m1 61h0m4-150h0m0 122h0m1-41h0m1-41h0m2 12h0m0 32h0m0 15h0m1-4h0m1-27h0m2 8h0m0 16h0m0 19h0m1-26h0m0 8h0m0 1h0m1-61h0m0 61h0m1-39h0m0 18h0m1-9h0m0 0h0m1-22h0m1 34h0m0 33h0m1-47h0m0 20h0m1-33h0m0 30h0m0 13h0m0 20h0m1-67h0m1 20h0m0 35h0m0 4h0m1-59h0m0 32h0m0 26h0m0 14h0m1-63h0m0 7h0m0 12h0m0 32h0m0 12h0m0 11h0m1-54h0m0 25h0m0 1h0m0 0h0m1 8h0m0 4h0m1-71h0m0 7h0m0 27h0m0 3h0m0 4h0m0 3h0m1-56h0m0 3h0m0 32h0m0 15h0m1-20h0m0 9h0m0 4h0m0 7h0m0 5h0m0 15h0m1-61h0m0 8h0m0 7h0m0 0h0m0 13h0m0 4h0m0 9h0m0 0h0m0 6h0m0 2h0m0 1h0m0 9h0m0 22h0m1-69h0m0 13h0m0 4h0m0 3h0m0 14h0m0 8h0m0 12h0m0 10h0m1-76h0m0 21h0m0 5h0m0 1h0m0 2h0m0 19h0m0 3h0m0 6h0m0 2h0m0 4h0m0 4h0m1-70h0m0 7h0m0 20h0m0 17h0m0 1h0m0 14h0m1-44h0m0 31h0m0 14h0m0 10h0m0 2h0m1-61h0m0 3h0m0 15h0m0 10h0m0 13h0m0 5h0m1-83h0m0 17h0m0 13h0m0 23h0m0 13h0m0 20h0m0 19h0m1-83h0m0 15h0m0 0h0m0 9h0m0 1h0m0 12h0m0 22h0m0 1h0m0 1h0m1-44h0m0 4h0m0 5h0m0 1h0m0 11h0m0 4h0m0 58h0m1-89h0m0 15h0m0 0h0m0 1h0m0 2h0m0 3h0m0 12h0m0 8h0m0 6h0m0 0h0m0 9h0m0 12h0m1-65h0m0 3h0m0 3h0m0 5h0m0 6h0m0 7h0m0 8h0m0 1h0m0 7h0m0 10h0m0 0h0m0 21h0m1-65h0m0 20h0m0 3h0m0 9h0m0 8h0m0 1h0m0 20h0m1-76h0m0 6h0m0 2h0m0 2h0m0 1h0m0 1h0m0 2h0m0 4h0m0 4h0m0 2h0m0 9h0m0 5h0m1-52h0m0 38h0m0 13h0m0 1h0m0 8h0m0 1h0m0 0h0m0 3h0m0 6h0m0 21h0m1-117h0m0 18h0m0 52h0m0 17h0m0 4h0m0 10h0m1-85h0m0 21h0m0 8h0m0 4h0m0 18h0m0 3h0m0 8h0m0 2h0m0 2h0m0 1h0m0 5h0m0 4h0m0 40h0m1-86h0m0 1h0m0 12h0m0 2h0m0 2h0m0 0h0m0 4h0m0 6h0m0 3h0m0 0h0m0 8h0m0 17h0m0 4h0m1-82h0m0 9h0m0 3h0m0 4h0m0 8h0m0 2h0m0 2h0m0 6h0m0 7h0m0 13h0m0 16h0m0 24h0m1-86h0m0 0h0m0 2h0m0 8h0m0 2h0m0 7h0m0 7h0m0 2h0m0 9h0m0 0h0m0 1h0m0 18h0m0 1h0m0 1h0m0 1h0m0 2h0m1-68h0m0 12h0m0 0h0m0 9h0m0 10h0m0 5h0m0 1h0m0 15h0m0 11h0m0 2h0m0 0h0m0 20h0m1-90h0m0 6h0m0 11h0m0 8h0m0 4h0m0 2h0m0 2h0m0 11h0m0 4h0m0 8h0m0 0h0m0 2h0m0 9h0m0 4h0m0 25h0m1-97h0m0 31h0m0 0h0m0 1h0m0 11h0m0 17h0m0 10h0m0 11h0m0 15h0m0 14h0m1-93h0m0 1h0m0 3h0m0 13h0m0 4h0m0 6h0m0 3h0m0 6h0m0 8h0m0 4h0m0 4h0m0 31h0m1-86h0m0 18h0m0 0h0m0 8h0m0 3h0m0 18h0m0 22h0m0 1h0m1-96h0m0 18h0m0 18h0m0 1h0m0 0h0m0 9h0m0 2h0m0 1h0m0 3h0m0 5h0m0 11h0m0 2h0m0 9h0m0 3h0m0 18h0m1-116h0m0 41h0m0 4h0m0 4h0m0 10h0m0 4h0m0 1h0m0 7h0m0 0h0m0 15h0m0 13h0m0 1h0m1-64h0m0 10h0m0 2h0m0 14h0m0 3h0m0 21h0m0 0h0m0 6h0m1-76h0m0 28h0m0 8h0m0 4h0m0 6h0m0 6h0m0 1h0m0 24h0m0 14h0m1-103h0m0 38h0m0 7h0m0 3h0m0 7h0m0 2h0m0 3h0m0 0h0m0 6h0m0 2h0m0 3h0m0 1h0m0 0h0m0 3h0m0 3h0m0 23h0m0 0h0m1-71h0m0 15h0m0 6h0m0 7h0m0 1h0m0 5h0m0 6h0m0 2h0m0 13h0m0 8h0m0 1h0m0 0h0m0 3h0m0 8h0m0 6h0m0 3h0m1-82h0m0 5h0m0 6h0m0 13h0m0 4h0m0 4h0m0 2h0m0 3h0m0 2h0m0 9h0m0 9h0m0 1h0m0 0h0m0 14h0m0 2h0m0 2h0m1-68h0m0 0h0m0 0h0m0 3h0m0 4h0m0 5h0m0 7h0m0 8h0m0 2h0m0 1h0m0 0h0m0 14h0m0 1h0m0 8h0m0 2h0m0 1h0m0 16h0m1-70h0m0 2h0m0 5h0m0 1h0m0 4h0m0 1h0m0 2h0m0 1h0m0 6h0m0 3h0m0 18h0m0 9h0m0 4h0m0 4h0m1-72h0m0 14h0m0 11h0m0 5h0m0 5h0m0 2h0m0 11h0m0 9h0m0 0h0m0 7h0m0 6h0m0 11h0m1-85h0m0 10h0m0 11h0m0 6h0m0 3h0m0 7h0m0 7h0m0 3h0m0 24h0m1-69h0m0 7h0m0 18h0m0 13h0m0 1h0m0 6h0m0 0h0m0 3h0m0 5h0m0 1h0m0 6h0m0 5h0m0 12h0m1-71h0m0 8h0m0 12h0m0 2h0m0 5h0m0 0h0m0 5h0m0 0h0m0 4h0m0 0h0m0 3h0m0 2h0m0 6h0m1-56h0m0 20h0m0 10h0m0 6h0m0 15h0m0 3h0m0 4h0m0 8h0m0 2h0m0 10h0m0 6h0m1-84h0m0 0h0m0 3h0m0 18h0m0 1h0m0 2h0m0 22h0m0 2h0m0 11h0m1-59h0m0 12h0m0 11h0m0 16h0m0 4h0m0 1h0m0 1h0m0 2h0m0 0h0m0 2h0m0 2h0m0 6h0m0 3h0m0 8h0m0 4h0m1-57h0m0 5h0m0 4h0m0 1h0m0 6h0m0 5h0m0 10h0m0 12h0m0 6h0m0 7h0m1-85h0m0 19h0m0 5h0m0 1h0m0 25h0m0 9h0m0 0h0m0 1h0m0 2h0m0 6h0m1-68h0m0 20h0m0 16h0m0 10h0m0 9h0m0 4h0m0 0h0m0 40h0m1-87h0m0 13h0m0 3h0m0 4h0m0 17h0m0 3h0m0 0h0m0 1h0m0 5h0m0 3h0m0 17h0m1-42h0m0 4h0m0 8h0m0 11h0m0 4h0m0 5h0m0 5h0m1-47h0m0 5h0m0 22h0m0 16h0m0 13h0m0 3h0m0 1h0m0 8h0m1-55h0m0 18h0m0 28h0m1-65h0m0 1h0m0 19h0m0 11h0m0 4h0m0 7h0m0 22h0m1-31h0m0 7h0m1-31h0m0 21h0m0 6h0m0 1h0m1 5h0m0 21h0m1-92h0m0 30h0m0 7h0m0 3h0m0 3h0m0 0h0m1-35h0m0 19h0m0 15h0m0 0h0m0 12h0m0 0h0m0 3h0m1-14h0m0 29h0m1-31h0m0 20h0m1-38h0m0 42h0m0 5h0m0 15h0m1-71h0m0 27h0m0 20h0m0 3h0m0 3h0m1-30h0m0 1h0m0 10h0m0 2h0m1 13h0m0 9h0m0 5h0m1-54h0m0 28h0m2-40h0m0 37h0m1 10h0m1-17h0m0 7h0m2-37h0m0 64h0m1-44h0m2 14h0m0 16h0m1-42h0m0 15h0m0 14h0m1-31h0m0 18h0"/>
<polygon points="80.6,223.2 92.7,217.6 99.3,223.2 99.6,249.4 94.6,264.3 78.7,269 67.5,264.3 64.1,256.9 68.4,241.9" fill="none" stroke="#5a5a66" stroke-width="0.75" stroke-linejoin="round"/>
</g>
<text x="72" y="215" font-size="3.8" fill="#111" text-anchor="start" font-weight="normal" textLength="15.8" lengthAdjust="spacingAndGlyphs">CD90 high</text>
<clipPath id="k6"><rect x="121" y="196" width="91.5" height="77.5"/></clipPath><g clip-path="url(#k6)">
<path transform="scale(0.25)" stroke="#e4a8f0" stroke-opacity="0.5" stroke-width="3.6" stroke-linecap="square" fill="none" d="m723 928h0m2 11h0m2-11h0m1-27h0m0 4h0m0 17h0m0 19h0m2 8h0m1-40h0m0 38h0m1-47h0m1-6h0m1 10h0m0 16h0m1-6h0m2-20h0m1 47h0m0 9h0m0 3h0m0 7h0m1-59h0m0 3h0m1-10h0m0 55h0m0 8h0m0 7h0m1-69h0m0 1h0m0 4h0m0 5h0m0 2h0m0 14h0m0 12h0m1-33h0m0 18h0m0 27h0m1-51h0m0 17h0m1-4h0m0 5h0m0 16h0m0 5h0m0 9h0m0 2h0m0 11h0m1-63h0m0 6h0m0 23h0m0 7h0m0 22h0m0 14h0m1-70h0m0 17h0m0 34h0m0 7h0m1-47h0m0 44h0m1-47h0m0 1h0m0 7h0m0 18h0m0 10h0m0 8h0m0 14h0m1-75h0m0 12h0m0 7h0m0 30h0m0 18h0m0 4h0m0 6h0m1-77h0m0 1h0m0 32h0m1-14h0m0 12h0m0 15h0m0 4h0m0 33h0m0 1h0m1-71h0m0 13h0m0 7h0m0 28h0m0 10h0m0 11h0m1-83h0m0 28h0m0 31h0m0 23h0m1-70h0m0 46h0m1-39h0m0 4h0m0 37h0m1-19h0m0 9h0m0 0h0m0 4h0m0 12h0m0 7h0m1-62h0m0 18h0m0 57h0m1-70h0m0 57h0m0 9h0m1-84h0m0 27h0m0 2h0m0 7h0m0 26h0m0 1h0m0 29h0m1-94h0m0 21h0m0 3h0m0 2h0m0 6h0m0 1h0m0 4h0m0 4h0m0 9h0m0 12h0m0 6h0m0 8h0m0 11h0m1-59h0m0 40h0m0 4h0m1-73h0m0 7h0m0 24h0m0 22h0m0 13h0m0 0h0m1-52h0m0 10h0m0 2h0m0 1h0m0 20h0m0 9h0m0 19h0m0 7h0m0 5h0m0 1h0m1-60h0m0 4h0m0 16h0m0 12h0m0 0h0m1-69h0m0 13h0m0 13h0m0 7h0m0 28h0m0 3h0m0 4h0m0 18h0m1-73h0m1-8h0m0 36h0m0 25h0m0 12h0m0 4h0m0 2h0m0 9h0m0 4h0m0 3h0m0 5h0m1-110h0m0 37h0m0 7h0m0 3h0m0 46h0m1-77h0m0 24h0m0 0h0m0 6h0m0 5h0m0 9h0m0 7h0m0 1h0m1-30h0m0 21h0m0 1h0m0 2h0m1-66h0m0 14h0m0 10h0m0 30h0m0 7h0m0 20h0m0 0h0m0 4h0m1-64h0m0 5h0m0 10h0m0 5h0m0 5h0m0 5h0m0 12h0m0 6h0m0 18h0m0 18h0m0 6h0m1-55h0m0 2h0m0 18h0m0 23h0m0 3h0m0 4h0m0 8h0m1-66h0m0 20h0m0 3h0m0 5h0m0 2h0m0 1h0m0 36h0m1-108h0m0 4h0m0 29h0m0 12h0m0 4h0m0 1h0m0 7h0m0 3h0m1-53h0m0 17h0m0 19h0m0 7h0m0 20h0m1-65h0m0 31h0m0 4h0m0 0h0m0 31h0m0 14h0m0 18h0m1-108h0m0 7h0m0 14h0m0 17h0m0 3h0m0 3h0m0 0h0m0 4h0m0 14h0m0 3h0m0 12h0m0 27h0m1-95h0m0 2h0m0 9h0m0 22h0m0 7h0m0 5h0m0 0h0m0 4h0m0 2h0m0 3h0m0 22h0m0 18h0m0 16h0m1-63h0m0 12h0m0 5h0m0 1h0m0 3h0m0 4h0m0 5h0m0 6h0m0 21h0m1-92h0m0 31h0m0 6h0m0 8h0m0 3h0m0 2h0m0 28h0m0 12h0m1-88h0m0 16h0m0 17h0m0 11h0m0 7h0m0 3h0m0 2h0m0 4h0m1-94h0m0 31h0m0 62h0m0 11h0m0 3h0m1-87h0m0 34h0m0 2h0m0 4h0m0 9h0m0 0h0m1-47h0m0 2h0m0 13h0m0 9h0m0 22h0m0 7h0m1-46h0m0 8h0m0 2h0m0 2h0m0 16h0m0 30h0m0 13h0m0 2h0m0 5h0m0 17h0m1-69h0m0 1h0m0 2h0m0 22h0m0 1h0m0 9h0m0 1h0m0 8h0m0 3h0m0 20h0m1-99h0m0 35h0m0 0h0m0 0h0m0 1h0m0 8h0m0 23h0m0 11h0m1-75h0m0 12h0m0 17h0m0 10h0m0 14h0m0 10h0m0 33h0m1-88h0m0 1h0m0 37h0m0 12h0m0 3h0m0 11h0m1-79h0m0 28h0m0 49h0m0 1h0m0 4h0m0 8h0m1-82h0m0 3h0m0 50h0m0 19h0m1-74h0m0 44h0m0 10h0m0 7h0m0 8h0m0 25h0m1-95h0m0 18h0m0 6h0m0 8h0m0 15h0m0 3h0m0 16h0m0 1h0m1-38h0m0 2h0m0 18h0m0 5h0m0 2h0m0 6h0m1 1h0m0 0h0m0 3h0m0 3h0m0 3h0m1-58h0m0 23h0m0 8h0m0 4h0m1-40h0m0 27h0m0 9h0m0 12h0m0 19h0m1-77h0m0 8h0m0 7h0m0 1h0m0 2h0m0 5h0m0 9h0m0 1h0m0 11h0m0 9h0m0 3h0m0 11h0m1-84h0m0 15h0m0 16h0m0 7h0m0 0h0m0 2h0m0 2h0m0 6h0m0 8h0m0 1h0m0 9h0m0 4h0m0 7h0m0 9h0m0 13h0m0 11h0m1-94h0m0 19h0m0 12h0m0 10h0m0 1h0m0 4h0m0 14h0m0 35h0m1-110h0m0 26h0m0 3h0m0 4h0m0 11h0m0 8h0m0 2h0m0 12h0m0 11h0m0 5h0m0 2h0m1-38h0m0 9h0m0 2h0m0 3h0m1-19h0m1-37h0m0 32h0m0 2h0m0 34h0m0 4h0m0 15h0m1-84h0m0 2h0m0 61h0m1-52h0m0 17h0m0 4h0m0 7h0m0 35h0m1-71h0m0 7h0m0 3h0m0 28h0m0 22h0m0 8h0m0 1h0m0 2h0m0 6h0m1-76h0m0 12h0m0 9h0m0 33h0m0 3h0m0 6h0m0 16h0m1-64h0m0 0h0m0 24h0m0 20h0m0 18h0m1-39h0m0 25h0m1-60h0m0 8h0m0 34h0m0 5h0m0 14h0m0 15h0m1-69h0m0 11h0m0 17h0m0 9h0m0 15h0m0 7h0m1-49h0m0 2h0m0 17h0m0 4h0m0 19h0m0 13h0m1-57h0m0 16h0m0 3h0m0 29h0m1-16h0m0 12h0m1-6h0m1-35h0m0 2h0m0 22h0m0 5h0m0 5h0m0 23h0m1-63h0m0 29h0m0 22h0m0 4h0m1-53h0m0 43h0m1 2h0m1-63h0m0 32h0m0 4h0m0 9h0m0 13h0m1-33h0m1 14h0m1-12h0m0 14h0m0 22h0m0 11h0m1-67h0m0 8h0m0 20h0m0 16h0m0 3h0m1-48h0m1 15h0m0 19h0m0 39h0m1-59h0m0 12h0m0 7h0m0 20h0m0 1h0m1-8h0m0 5h0m0 8h0m0 0h0m1-27h0m0 35h0m1-56h0m0 34h0m1-25h0m1 5h0m0 14h0m0 20h0m3-16h0m0 8h0m0 6h0m2-15h0m2-14h0m0 3h0m0 8h0"/>
<path transform="scale(0.25)" stroke="#c448ea" stroke-opacity="0.5" stroke-width="3.6" stroke-linecap="square" fill="none" d="m719 936h0m4-2h0m2 8h0m1-23h0m0 15h0m2-10h0m0 7h0m0 15h0m2-14h0m2-17h0m0 5h0m1-6h0m0 29h0m0 8h0m0 35h0m1-85h0m0 6h0m0 12h0m1-24h0m1 5h0m1 11h0m0 29h0m1-17h0m0 10h0m0 6h0m1-44h0m0 1h0m0 11h0m0 6h0m0 33h0m0 8h0m0 6h0m1-78h0m0 31h0m0 26h0m0 14h0m0 14h0m1-72h0m0 30h0m1-37h0m0 39h0m0 13h0m0 19h0m1-67h0m0 8h0m0 17h0m0 22h0m0 3h0m0 5h0m1-33h0m0 19h0m0 4h0m1-20h0m0 19h0m2-34h0m0 5h0m1-23h0m0 25h0m0 2h0m0 2h0m0 3h0m0 10h0m0 17h0m0 2h0m1-51h0m0 19h0m0 10h0m0 12h0m0 7h0m0 2h0m0 3h0m1-53h0m0 10h0m0 3h0m0 3h0m0 6h0m0 4h0m0 35h0m1-59h0m0 5h0m0 3h0m0 4h0m0 1h0m0 15h0m0 22h0m1-47h0m0 35h0m0 26h0m1-80h0m0 9h0m0 4h0m0 12h0m0 23h0m0 12h0m0 14h0m0 4h0m1-71h0m0 25h0m0 6h0m0 1h0m0 23h0m0 3h0m1-30h0m0 7h0m0 0h0m0 0h0m0 3h0m0 4h0m0 6h0m1-63h0m0 28h0m0 6h0m0 0h0m0 6h0m0 0h0m0 2h0m0 16h0m1-59h0m0 39h0m0 4h0m0 6h0m0 1h0m0 5h0m0 5h0m0 12h0m1-39h0m0 9h0m0 1h0m0 9h0m0 1h0m0 12h0m1-40h0m0 3h0m0 5h0m0 5h0m0 6h0m0 3h0m0 7h0m0 22h0m0 22h0m1-97h0m0 42h0m0 1h0m0 6h0m0 29h0m0 15h0m1-72h0m0 5h0m0 12h0m0 1h0m0 4h0m0 17h0m0 0h0m0 16h0m0 22h0m1-86h0m0 9h0m0 7h0m0 1h0m0 2h0m0 9h0m0 19h0m0 6h0m0 2h0m0 12h0m1-54h0m0 24h0m0 21h0m0 7h0m0 3h0m0 3h0m1-47h0m0 7h0m0 5h0m0 4h0m0 5h0m0 24h0m1-47h0m0 1h0m0 1h0m0 6h0m0 12h0m0 17h0m1-68h0m0 7h0m0 5h0m0 23h0m0 11h0m0 2h0m0 4h0m0 5h0m0 5h0m0 2h0m0 8h0m0 1h0m1-53h0m0 4h0m0 6h0m0 11h0m0 6h0m0 4h0m0 5h0m0 3h0m0 11h0m0 8h0m1-54h0m0 7h0m0 5h0m0 7h0m0 3h0m0 4h0m0 5h0m0 7h0m0 6h0m0 4h0m0 6h0m1-88h0m0 48h0m0 11h0m0 2h0m0 6h0m0 8h0m0 7h0m0 4h0m1-70h0m0 4h0m0 10h0m0 3h0m0 3h0m0 6h0m0 1h0m0 1h0m0 3h0m0 6h0m0 8h0m0 29h0m1-60h0m0 3h0m0 2h0m0 5h0m0 2h0m0 1h0m0 2h0m0 3h0m0 1h0m0 4h0m0 4h0m0 16h0m0 0h0m0 3h0m0 18h0m1-65h0m0 10h0m0 2h0m0 1h0m0 3h0m0 12h0m0 5h0m0 2h0m0 2h0m0 0h0m0 5h0m0 1h0m0 8h0m0 16h0m0 3h0m1-87h0m0 16h0m0 13h0m0 0h0m0 12h0m0 2h0m0 3h0m0 0h0m0 1h0m1-59h0m0 6h0m0 3h0m0 42h0m0 3h0m0 1h0m0 10h0m0 7h0m0 4h0m0 10h0m0 8h0m0 3h0m1-85h0m0 1h0m0 4h0m0 19h0m0 11h0m0 1h0m0 0h0m0 1h0m0 11h0m0 5h0m0 6h0m0 2h0m1-57h0m0 28h0m0 2h0m0 8h0m0 27h0m0 19h0m1-89h0m0 11h0m0 1h0m0 4h0m0 5h0m0 3h0m0 11h0m0 2h0m0 4h0m0 13h0m0 8h0m0 9h0m0 5h0m1-72h0m0 4h0m0 21h0m0 1h0m0 0h0m0 7h0m0 11h0m0 15h0m0 1h0m0 1h0m0 16h0m1-76h0m0 6h0m0 6h0m0 23h0m0 7h0m0 1h0m0 1h0m0 5h0m0 8h0m0 11h0m1-69h0m0 14h0m0 6h0m0 2h0m0 1h0m0 7h0m0 0h0m0 5h0m0 12h0m0 2h0m0 1h0m0 1h0m0 7h0m0 2h0m0 3h0m0 13h0m1-70h0m0 4h0m0 0h0m0 14h0m0 1h0m0 1h0m0 7h0m0 3h0m0 3h0m0 5h0m0 1h0m0 3h0m0 10h0m0 3h0m1-47h0m0 10h0m0 1h0m0 2h0m0 11h0m0 1h0m0 2h0m0 39h0m1-72h0m0 3h0m0 10h0m0 6h0m0 2h0m0 3h0m0 18h0m0 4h0m0 0h0m0 24h0m0 4h0m1-60h0m0 6h0m0 16h0m0 4h0m1-45h0m0 8h0m0 11h0m0 2h0m0 8h0m0 1h0m0 7h0m0 1h0m0 1h0m0 9h0m0 1h0m0 3h0m0 16h0m0 2h0m0 2h0m0 12h0m1-94h0m0 10h0m0 1h0m0 3h0m0 5h0m0 10h0m0 6h0m0 2h0m0 8h0m0 1h0m0 2h0m0 16h0m1-57h0m0 11h0m0 10h0m0 17h0m0 2h0m0 12h0m0 1h0m0 3h0m0 9h0m0 12h0m1-67h0m0 3h0m0 2h0m0 7h0m0 4h0m0 1h0m0 3h0m0 0h0m0 4h0m0 3h0m0 7h0m0 2h0m0 0h0m0 32h0m0 11h0m1-86h0m0 7h0m0 5h0m0 2h0m0 14h0m0 1h0m0 45h0m1-57h0m0 4h0m0 7h0m0 7h0m0 2h0m0 2h0m0 4h0m0 7h0m0 0h0m0 16h0m0 15h0m1-54h0m0 0h0m0 7h0m0 2h0m0 7h0m0 0h0m0 2h0m0 12h0m0 12h0m1-94h0m0 38h0m0 5h0m0 12h0m0 2h0m0 6h0m0 0h0m0 2h0m0 8h0m0 2h0m0 12h0m0 2h0m0 4h0m0 2h0m1-74h0m0 7h0m0 8h0m0 2h0m0 1h0m0 0h0m0 3h0m0 2h0m0 6h0m0 5h0m0 2h0m0 2h0m0 0h0m0 14h0m0 13h0m0 5h0m0 2h0m0 5h0m0 7h0m1-88h0m0 22h0m0 0h0m0 2h0m0 1h0m0 10h0m0 8h0m0 8h0m0 5h0m0 12h0m0 1h0m1-54h0m0 7h0m0 8h0m0 3h0m0 0h0m0 5h0m0 3h0m0 25h0m0 24h0m1-57h0m0 10h0m1-27h0m0 5h0m0 3h0m0 1h0m0 5h0m0 9h0m0 1h0m0 10h0m0 8h0m0 7h0m0 1h0m0 12h0m0 13h0m1-68h0m0 1h0m0 4h0m0 15h0m0 3h0m0 1h0m0 1h0m0 5h0m0 1h0m0 12h0m0 2h0m0 0h0m0 6h0m0 7h0m1-84h0m0 9h0m0 16h0m0 2h0m0 0h0m0 9h0m0 3h0m0 4h0m0 0h0m0 6h0m0 2h0m0 13h0m0 0h0m0 7h0m0 16h0m0 3h0m1-84h0m0 19h0m0 5h0m0 5h0m0 5h0m0 0h0m0 4h0m0 1h0m0 2h0m0 4h0m1-50h0m0 14h0m0 10h0m0 11h0m0 1h0m0 2h0m0 8h0m0 1h0m0 6h0m0 2h0m0 14h0m0 12h0m1-73h0m0 2h0m0 38h0m0 23h0m1-49h0m0 2h0m0 3h0m0 42h0m0 1h0m1-45h0m0 2h0m0 27h0m0 10h0m0 4h0m0 12h0m1-89h0m0 19h0m0 7h0m0 19h0m0 8h0m0 8h0m1-65h0m0 26h0m0 9h0m0 27h0m0 7h0m0 10h0m1-67h0m0 7h0m0 37h0m1-28h0m0 11h0m0 17h0m0 1h0m0 2h0m0 1h0m0 15h0m0 1h0m1-73h0m0 38h0m0 17h0m0 21h0m1-25h0m0 8h0m0 2h0m0 4h0m0 3h0m1-55h0m0 15h0m0 11h0m0 18h0m0 1h0m0 9h0m0 7h0m0 4h0m1-62h0m0 19h0m0 4h0m0 1h0m0 4h0m0 16h0m0 5h0m1-38h0m0 15h0m0 0h0m0 4h0m1-2h0m0 1h0m0 5h0m0 25h0m1-40h0m0 14h0m0 2h0m0 8h0m0 21h0m1-68h0m0 12h0m0 6h0m0 34h0m0 20h0m0 4h0m0 7h0m1-68h0m0 32h0m0 10h0m0 4h0m0 0h0m0 16h0m1-56h0m0 4h0m0 6h0m0 11h0m1-32h0m0 20h0m0 15h0m0 2h0m1-36h0m0 8h0m0 23h0m1-41h0m0 34h0m0 39h0m1-71h0m0 16h0m0 27h0m1-27h0m0 11h0m0 12h0m1-39h0m0 31h0m0 4h0m1-14h0m1-5h0m1-10h0m0 8h0m1-5h0m0 20h0m1-18h0m0 5h0m0 27h0m1-33h0m1 10h0m1 26h0m1-44h0m1 60h0m1-14h0m1-29h0m1 14h0m2-2h0m1 11h0"/>
<path transform="scale(0.25)" stroke="#b830e4" stroke-opacity="0.55" stroke-width="3.6" stroke-linecap="square" fill="none" d="m736 931h0m10 1h0m0 8h0m1 13h0m1 3h0m4-33h0m1-10h0m0 1h0m0 2h0m0 2h0m0 6h0m0 22h0m1-34h0m0 7h0m0 2h0m1-13h0m0 10h0m0 8h0m0 7h0m1-41h0m0 17h0m0 21h0m1-23h0m1-8h0m0 18h0m0 3h0m0 3h0m1-14h0m0 2h0m0 6h0m0 14h0m0 2h0m1-20h0m0 1h0m0 2h0m0 4h0m0 2h0m1 4h0m1-17h0m0 6h0m0 2h0m0 4h0m0 1h0m0 7h0m1-21h0m0 8h0m0 3h0m0 0h0m0 5h0m0 9h0m0 15h0m1-42h0m0 16h0m1-25h0m0 2h0m0 13h0m0 1h0m0 3h0m0 16h0m0 2h0m0 6h0m1-33h0m0 8h0m0 5h0m0 1h0m0 1h0m0 3h0m0 1h0m0 1h0m0 2h0m0 6h0m0 1h0m1-23h0m0 3h0m1-25h0m0 4h0m0 14h0m0 11h0m0 0h0m0 8h0m0 1h0m0 6h0m0 0h0m0 18h0m1-48h0m0 2h0m0 8h0m0 12h0m0 6h0m0 2h0m0 1h0m0 0h0m0 8h0m1-50h0m0 13h0m0 12h0m0 3h0m0 4h0m0 5h0m0 3h0m1-41h0m0 11h0m0 6h0m0 11h0m0 1h0m0 0h0m0 6h0m0 1h0m0 1h0m0 1h0m0 3h0m0 1h0m0 0h0m0 3h0m0 16h0m1-49h0m0 1h0m0 5h0m0 0h0m0 0h0m0 6h0m0 17h0m0 1h0m1-33h0m0 17h0m0 6h0m0 7h0m0 4h0m0 5h0m1-41h0m0 4h0m0 5h0m0 2h0m0 1h0m0 2h0m0 0h0m0 1h0m0 6h0m0 7h0m0 2h0m0 4h0m0 4h0m0 8h0m1-38h0m0 3h0m0 4h0m0 5h0m0 1h0m0 0h0m0 8h0m0 4h0m1-29h0m0 3h0m0 2h0m0 4h0m0 2h0m0 0h0m0 1h0m0 11h0m0 6h0m0 7h0m0 5h0m0 2h0m1-51h0m0 5h0m0 9h0m0 6h0m0 0h0m0 1h0m0 2h0m0 2h0m0 5h0m0 1h0m0 2h0m0 3h0m0 6h0m1-32h0m0 1h0m0 9h0m0 1h0m0 1h0m0 1h0m0 3h0m0 2h0m0 3h0m0 3h0m0 1h0m0 4h0m0 3h0m0 12h0m0 2h0m1-39h0m0 0h0m0 3h0m0 0h0m0 10h0m0 6h0m1-47h0m0 8h0m0 3h0m0 0h0m0 12h0m0 2h0m0 11h0m0 1h0m0 11h0m0 0h0m0 0h0m0 1h0m0 5h0m0 3h0m1-38h0m0 7h0m0 3h0m0 10h0m0 2h0m0 9h0m0 6h0m0 2h0m1-42h0m0 1h0m0 2h0m0 3h0m0 9h0m0 0h0m0 3h0m0 5h0m0 3h0m1-27h0m0 9h0m0 0h0m0 4h0m0 1h0m0 1h0m0 1h0m0 0h0m0 2h0m0 13h0m0 5h0m0 6h0m0 0h0m0 13h0m1-64h0m0 14h0m0 1h0m0 6h0m0 7h0m0 2h0m0 1h0m0 3h0m0 10h0m0 11h0m1-48h0m0 8h0m0 4h0m0 0h0m0 1h0m0 2h0m0 1h0m0 4h0m0 2h0m0 3h0m0 2h0m0 1h0m0 9h0m1-24h0m0 1h0m0 0h0m0 3h0m0 0h0m0 1h0m0 0h0m0 4h0m0 0h0m0 0h0m0 1h0m0 0h0m0 1h0m0 0h0m0 1h0m0 3h0m0 5h0m0 1h0m0 1h0m0 1h0m0 2h0m0 3h0m0 15h0m1-59h0m0 1h0m0 6h0m0 4h0m0 3h0m0 2h0m0 2h0m0 1h0m0 1h0m0 2h0m0 0h0m0 4h0m0 2h0m0 0h0m0 0h0m0 3h0m0 0h0m0 6h0m0 10h0m0 7h0m1-43h0m0 2h0m0 5h0m0 3h0m0 0h0m0 4h0m0 2h0m0 2h0m0 6h0m0 0h0m0 3h0m0 3h0m0 3h0m1-57h0m0 20h0m0 1h0m0 7h0m0 0h0m0 13h0m0 3h0m0 19h0m1-47h0m0 5h0m0 21h0m0 4h0m0 1h0m0 3h0m0 2h0m0 2h0m1-27h0m0 0h0m0 1h0m0 0h0m0 3h0m0 3h0m0 1h0m0 0h0m0 4h0m0 2h0m0 0h0m0 11h0m1-25h0m0 4h0m0 5h0m0 1h0m0 4h0m0 1h0m0 5h0m1-20h0m0 1h0m0 0h0m0 7h0m0 2h0m0 4h0m0 1h0m0 0h0m1-26h0m0 3h0m0 10h0m0 1h0m0 1h0m0 2h0m0 2h0m0 5h0m0 4h0m0 1h0m0 4h0m0 1h0m0 2h0m0 1h0m0 3h0m0 2h0m0 5h0m1-36h0m0 3h0m0 2h0m0 4h0m0 1h0m0 1h0m0 7h0m0 14h0m1-37h0m0 1h0m0 12h0m0 6h0m0 0h0m1-13h0m0 10h0m0 20h0m1-20h0m0 9h0m1-27h0m0 2h0m0 8h0m0 4h0m0 2h0m0 1h0m0 5h0m0 0h0m0 3h0m0 4h0m0 3h0m0 1h0m0 7h0m1-35h0m0 4h0m0 7h0m0 8h0m0 3h0m0 4h0m1-28h0m0 4h0m0 1h0m0 4h0m0 17h0m0 1h0m0 11h0m1-35h0m0 4h0m0 5h0m1 7h0m0 9h0m1-37h0m0 7h0m0 4h0m0 1h0m0 7h0m0 8h0m0 1h0m2-10h0m0 9h0m1-13h0m0 21h0m0 7h0m1-25h0m0 4h0m1 13h0m1-6h0m9-26h0m0 5h0m3 18h0m1-5h0"/>
<path transform="scale(0.25)" stroke="#8060e8" stroke-opacity="0.4" stroke-width="3.6" stroke-linecap="square" fill="none" d="m735 920h0m2 17h0m1-16h0m1-4h0m0 15h0m0 12h0m1-29h0m4 3h0m2-13h0m2-18h0m0 53h0m1-15h0m5 27h0m2-62h0m1 10h0m0 43h0m0 7h0m1-44h0m1 8h0m0 9h0m1-2h0m0 31h0m2-24h0m1-37h0m0 3h0m0 22h0m0 6h0m1-24h0m1 6h0m0 18h0m1-1h0m0 30h0m3-35h0m0 15h0m2-46h0m0 25h0m1-6h0m3-1h0m0 15h0m1-10h0m0 3h0m0 21h0m0 7h0m2-10h0m0 9h0m1-28h0m0 26h0m1-29h0m1-15h0m0 2h0m0 7h0m0 10h0m1-21h0m0 14h0m0 14h0m1-38h0m0 19h0m1-4h0m0 14h0m0 3h0m0 16h0m1-25h0m0 3h0m0 4h0m0 22h0m0 19h0m1-63h0m1 23h0m0 7h0m0 8h0m0 19h0m1-31h0m0 18h0m0 8h0m1-14h0m1-25h0m0 37h0m1-36h0m0 31h0m1-21h0m0 3h0m0 4h0m1-46h0m0 42h0m0 7h0m0 12h0m0 1h0m1 5h0m1 6h0m1-59h0m0 22h0m2-20h0m0 27h0m0 7h0m0 15h0m0 30h0m1-59h0m1-15h0m0 35h0m0 2h0m1-21h0m1-22h0m0 10h0m0 5h0m0 21h0m0 26h0m2-66h0m0 33h0m1 23h0m1-3h0m5 3h0m2-10h0m5-16h0m0 24h0m1 7h0m2-31h0m5-32h0m3 11h0m4 21h0m8 0h0"/>
<path transform="scale(0.25)" stroke="#a818d8" stroke-opacity="0.45" stroke-width="3.6" stroke-linecap="square" fill="none" d="m740 936h0m13-6h0m4-17h0m0 14h0m0 5h0m4-12h0m0 14h0m1-19h0m2-17h0m0 8h0m0 1h0m1 13h0m0 7h0m1-2h0m0 0h0m0 1h0m1-15h0m0 6h0m0 14h0m1-16h0m1-4h0m0 0h0m0 2h0m0 3h0m0 11h0m0 4h0m1-13h0m0 2h0m1-26h0m0 19h0m0 6h0m0 1h0m0 1h0m0 0h0m0 1h0m0 11h0m1-30h0m0 4h0m0 6h0m0 6h0m0 4h0m0 6h0m0 0h0m1-7h0m0 3h0m0 3h0m0 2h0m0 0h0m1-24h0m0 18h0m0 0h0m0 3h0m0 13h0m1-28h0m0 0h0m0 3h0m0 7h0m0 10h0m0 7h0m1-22h0m0 1h0m0 10h0m0 0h0m0 4h0m0 9h0m0 0h0m1-24h0m0 2h0m0 6h0m0 19h0m1-34h0m0 19h0m1-17h0m0 8h0m0 3h0m0 1h0m1-14h0m0 4h0m0 4h0m0 2h0m0 6h0m0 1h0m0 1h0m0 4h0m1-33h0m0 9h0m0 6h0m0 1h0m0 1h0m0 10h0m1-14h0m0 3h0m0 3h0m0 12h0m1-33h0m0 17h0m0 4h0m0 1h0m0 2h0m0 4h0m1-21h0m0 21h0m0 2h0m0 0h0m0 1h0m2-17h0m0 2h0m1-2h0m0 2h0m0 7h0m0 3h0m0 7h0m0 0h0m1-20h0m0 6h0m0 15h0m1-17h0m0 0h0m0 4h0m0 1h0m1-9h0m0 21h0m0 2h0m0 7h0m0 2h0m1-33h0m0 2h0m0 14h0m0 3h0m0 11h0m1-35h0m0 16h0m1 10h0m0 6h0m1-23h0m0 7h0m1-6h0m1 0h0m0 8h0m1-26h0m0 9h0m1 2h0m0 2h0m0 2h0m0 10h0m1-10h0m0 13h0m1-15h0m1 5h0m1-17h0"/>
<ellipse cx="195.5" cy="229.5" rx="17" ry="14.5" transform="rotate(-50 195.5 229.5)" fill="none" stroke="#5a5a66" stroke-width="0.75"/>
</g>
<text x="150" y="222" font-size="3.8" fill="#111" text-anchor="start" font-weight="normal" textLength="28" lengthAdjust="spacingAndGlyphs">CD73  CD105 high</text>
<clipPath id="k7"><rect x="250.5" y="196" width="90" height="78"/></clipPath><g clip-path="url(#k7)">
<path transform="scale(0.25)" stroke="#ff8a50" stroke-opacity="0.5" stroke-width="3.6" stroke-linecap="square" fill="none" d="m1013 1048h0m20-63h0m18 99h0m7 2h0m5-87h0m0 83h0m2-28h0m7 2h0m7-7h0m2-68h0m1 28h0m7 9h0m2 8h0m2 60h0m2-9h0m5-108h0m8 23h0m1-7h0m0 4h0m4-48h0m3 80h0m2-8h0m3-6h0m2-73h0m1-25h0m0 129h0m2 13h0m2-106h0m2 101h0m2-22h0m0 23h0m1-56h0m7-23h0m0 71h0m1-27h0m0 35h0m4-72h0m1 4h0m0 12h0m0 6h0m2 34h0m1-19h0m1-9h0m1-10h0m1-8h0m0 44h0m1-37h0m3 56h0m0 3h0m0 28h0m1-126h0m0 110h0m1-87h0m0 64h0m1 16h0m1-68h0m1 30h0m1-96h0m1 30h0m0 86h0m1-57h0m2 19h0m0 28h0m1 1h0m2-19h0m2 4h0m1-91h0m0 52h0m0 5h0m2 31h0m0 63h0m2-56h0m1-39h0m0 26h0m3-32h0m0 65h0m2-7h0m0 12h0m1-70h0m0 104h0m3-38h0m1-72h0m1-32h0m0 99h0m0 28h0m2-84h0m0 11h0m1 15h0m1 5h0m1-23h0m0 4h0m1 17h0m1-22h0m1 4h0m0 21h0m1 4h0m2-51h0m0 46h0m0 20h0m0 16h0m1-28h0m0 59h0m1-38h0m1-73h0m0 10h0m0 58h0m1-98h0m2 59h0m2-78h0m2 84h0m0 85h0m5-123h0m1 38h0m1-32h0m0 77h0m0 12h0m1-68h0m1-69h0m0 70h0m2-19h0m0 96h0m1-114h0m0 63h0m0 11h0m1 1h0m0 2h0m1-90h0m1 96h0m4-92h0m0 91h0m2-10h0m1 1h0m0 28h0m2-37h0m3-20h0m0 20h0m1-43h0m0 51h0m0 17h0m1-64h0m2 11h0m2-15h0m1-59h0m0 88h0m0 18h0m0 1h0m0 5h0m1 7h0m1-64h0m1-62h0m0 61h0m0 24h0m1 59h0m1-71h0m0 5h0m0 26h0m2 21h0m2-23h0m0 5h0m1-52h0m1-53h0m1 67h0m1 23h0m2 3h0m0 26h0m1-37h0m2 50h0m0 10h0m1-78h0m1-14h0m0 78h0m4-58h0m1-35h0m0 34h0m0 36h0m1-135h0m2 91h0m1-34h0m0 50h0m0 5h0m0 75h0m1-16h0m1-109h0m1 22h0m1 39h0m1 23h0m3-147h0m0 49h0m0 65h0m2 54h0m1-44h0m1 44h0m1-92h0m1 0h0m2 54h0m1-27h0m2-6h0m2-22h0m2 87h0m1-46h0m2-64h0m1 62h0m8-33h0m1 10h0m1 6h0m0 42h0m3-56h0m0 44h0m3-18h0m3-29h0m1-38h0m1-7h0m3 50h0m0 2h0m3 17h0m3-34h0m0 68h0m1-55h0m2-45h0m3 8h0m0 16h0m0 120h0m5-102h0m6 4h0m8 9h0"/>
<path transform="scale(0.25)" stroke="#ff7c38" stroke-opacity="0.48" stroke-width="3.8" stroke-linecap="square" fill="none" d="m1190 1032h0m1-16h0m2 24h0m2 30h0m6-84h0m2 87h0m4-65h0m0 20h0m1-9h0m0 35h0m1-28h0m2-1h0m1-19h0m0 7h0m0 55h0m1-6h0m1-52h0m0 6h0m0 3h0m1 15h0m0 47h0m1-83h0m1 2h0m0 46h0m0 12h0m1-19h0m2-23h0m0 8h0m0 39h0m1-80h0m0 65h0m0 5h0m1-94h0m1 87h0m0 42h0m1-84h0m0 11h0m0 9h0m0 6h0m0 27h0m0 6h0m1-29h0m0 11h0m0 29h0m0 14h0m1-89h0m0 30h0m0 19h0m0 39h0m1-112h0m0 41h0m0 25h0m0 18h0m1-97h0m0 25h0m0 71h0m0 17h0m1-82h0m0 96h0m1-29h0m0 2h0m1-87h0m0 14h0m1-6h0m0 6h0m0 31h0m0 1h0m1-57h0m0 34h0m0 1h0m0 36h0m0 14h0m1-39h0m0 7h0m0 14h0m0 13h0m0 8h0m0 15h0m0 22h0m1-101h0m0 56h0m0 20h0m1-103h0m0 69h0m0 27h0m0 14h0m1-56h0m0 6h0m0 33h0m1-120h0m0 64h0m0 7h0m0 46h0m1-94h0m0 30h0m1-21h0m0 11h0m0 12h0m0 14h0m0 21h0m1-83h0m0 58h0m0 13h0m0 32h0m0 9h0m1-33h0m0 41h0m0 9h0m0 8h0m1-85h0m0 30h0m0 19h0m0 5h0m1-100h0m0 1h0m0 19h0m0 55h0m0 15h0m1-110h0m0 35h0m0 23h0m0 0h0m0 78h0m1-123h0m0 48h0m1-22h0m0 6h0m0 22h0m0 25h0m0 1h0m0 1h0m0 4h0m0 6h0m0 28h0m0 14h0m0 11h0m1-111h0m0 20h0m0 7h0m0 20h0m0 16h0m1-59h0m0 9h0m0 15h0m0 1h0m0 5h0m0 2h0m0 14h0m0 15h0m0 5h0m0 3h0m0 10h0m1-143h0m0 91h0m0 7h0m0 1h0m0 64h0m1-114h0m0 27h0m0 13h0m0 58h0m1-78h0m0 20h0m0 13h0m0 7h0m0 1h0m0 1h0m0 7h0m0 10h0m0 1h0m0 8h0m1-81h0m0 2h0m0 14h0m0 26h0m0 13h0m0 13h0m0 31h0m1-130h0m0 32h0m0 0h0m0 15h0m0 9h0m1-32h0m0 9h0m0 17h0m0 1h0m0 29h0m0 6h0m0 8h0m0 2h0m1-93h0m0 18h0m0 13h0m0 39h0m0 3h0m0 10h0m0 9h0m0 23h0m0 9h0m1-131h0m0 30h0m0 38h0m0 25h0m0 23h0m0 2h0m0 16h0m1-152h0m0 3h0m0 2h0m0 15h0m0 9h0m0 13h0m0 41h0m0 1h0m0 7h0m0 15h0m0 14h0m0 19h0m0 13h0m1-109h0m0 38h0m0 2h0m0 21h0m0 6h0m0 10h0m1-83h0m0 25h0m0 0h0m0 12h0m0 16h0m0 0h0m0 11h0m0 29h0m0 2h0m1-73h0m0 1h0m0 12h0m0 23h0m0 10h0m0 5h0m0 12h0m0 15h0m0 8h0m1-108h0m0 16h0m0 41h0m0 29h0m0 13h0m0 1h0m1-131h0m0 13h0m0 34h0m0 22h0m0 8h0m0 15h0m0 4h0m0 5h0m0 1h0m0 14h0m0 12h0m1-86h0m0 45h0m0 3h0m0 26h0m1-62h0m0 7h0m0 3h0m0 2h0m0 4h0m0 44h0m0 9h0m0 16h0m1-92h0m0 17h0m0 20h0m0 16h0m0 23h0m0 11h0m0 11h0m1-102h0m0 4h0m0 17h0m0 7h0m0 2h0m0 5h0m0 20h0m0 33h0m1-98h0m0 30h0m0 33h0m0 14h0m0 0h0m0 7h0m1-80h0m0 1h0m0 11h0m0 2h0m0 10h0m0 25h0m0 11h0m0 10h0m0 14h0m1-127h0m0 35h0m0 24h0m0 23h0m0 0h0m0 36h0m0 14h0m0 5h0m0 0h0m1-142h0m0 30h0m0 45h0m0 2h0m0 11h0m0 2h0m1-3h0m0 7h0m0 8h0m0 1h0m0 12h0m0 1h0m0 22h0m0 8h0m1-123h0m0 72h0m0 1h0m0 1h0m0 4h0m0 5h0m0 14h0m0 17h0m0 22h0m1-149h0m0 15h0m0 48h0m0 4h0m0 4h0m0 15h0m0 12h0m0 12h0m0 6h0m1-114h0m0 21h0m0 4h0m0 13h0m0 21h0m0 25h0m0 2h0m0 25h0m0 4h0m0 5h0m0 38h0m1-152h0m0 29h0m0 11h0m0 39h0m0 4h0m0 8h0m0 2h0m0 9h0m0 7h0m0 22h0m0 8h0m1-162h0m0 46h0m0 11h0m0 12h0m0 8h0m0 6h0m0 2h0m0 3h0m0 14h0m0 14h0m0 1h0m0 1h0m0 20h0m0 21h0m1-107h0m0 14h0m0 16h0m0 6h0m0 12h0m0 1h0m0 16h0m1-66h0m0 2h0m0 2h0m0 16h0m0 2h0m0 2h0m0 3h0m0 4h0m0 0h0m0 11h0m0 1h0m0 14h0m0 6h0m0 30h0m0 22h0m0 9h0m0 1h0m1-139h0m0 8h0m0 0h0m0 7h0m0 8h0m0 2h0m0 5h0m0 7h0m0 28h0m0 8h0m0 25h0m1-114h0m0 5h0m0 25h0m0 24h0m0 10h0m0 5h0m0 18h0m0 13h0m0 58h0m1-126h0m0 5h0m0 21h0m0 3h0m0 25h0m0 14h0m0 4h0m0 5h0m0 20h0m1-166h0m0 32h0m0 9h0m0 20h0m0 5h0m0 19h0m0 16h0m0 0h0m0 2h0m0 13h0m0 0h0m0 17h0m0 3h0m0 7h0m0 13h0m0 0h0m1-124h0m0 0h0m0 29h0m0 40h0m0 1h0m0 42h0m1-115h0m0 25h0m0 14h0m0 22h0m0 1h0m0 13h0m0 14h0m0 10h0m0 3h0m0 18h0m1-125h0m0 27h0m0 19h0m0 4h0m0 12h0m0 1h0m0 4h0m0 19h0m0 11h0m0 7h0m0 34h0m0 8h0m1-124h0m0 9h0m0 0h0m0 20h0m0 29h0m0 21h0m0 37h0m1-134h0m0 2h0m0 21h0m0 8h0m0 6h0m0 55h0m0 1h0m0 0h0m1-85h0m0 21h0m0 6h0m0 40h0m0 8h0m0 21h0m0 4h0m0 13h0m0 30h0m1-134h0m0 28h0m0 3h0m0 0h0m0 7h0m0 28h0m0 4h0m0 3h0m0 5h0m0 10h0m0 2h0m0 15h0m1-160h0m0 21h0m0 18h0m0 36h0m0 23h0m0 26h0m1-126h0m0 84h0m0 6h0m0 2h0m0 2h0m0 21h0m0 5h0m0 8h0m0 2h0m0 8h0m0 2h0m0 10h0m0 27h0m1-117h0m0 5h0m0 18h0m0 3h0m0 11h0m0 4h0m0 8h0m0 4h0m0 15h0m0 8h0m0 29h0m0 25h0m1-127h0m0 24h0m0 24h0m0 21h0m0 2h0m0 13h0m0 4h0m0 16h0m0 2h0m1-102h0m0 7h0m0 28h0m0 10h0m0 8h0m0 9h0m1-57h0m0 6h0m0 17h0m0 9h0m0 8h0m0 11h0m0 0h0m0 10h0m0 9h0m0 20h0m0 30h0m1-149h0m0 40h0m0 25h0m0 1h0m0 3h0m0 8h0m0 4h0m0 2h0m1-112h0m0 67h0m0 27h0m0 0h0m0 13h0m0 14h0m0 19h0m0 1h0m0 1h0m0 18h0m1-149h0m0 42h0m0 22h0m0 10h0m0 13h0m0 22h0m1-76h0m0 20h0m0 12h0m0 6h0m0 9h0m0 2h0m0 2h0m0 4h0m0 2h0m0 21h0m0 15h0m0 3h0m0 21h0m1-111h0m0 31h0m0 5h0m0 7h0m0 5h0m0 1h0m0 5h0m0 1h0m0 24h0m0 13h0m0 14h0m1-143h0m0 9h0m0 13h0m0 9h0m0 24h0m0 10h0m0 30h0m0 54h0m0 2h0m1-124h0m0 2h0m0 5h0m0 8h0m0 5h0m0 2h0m0 17h0m0 10h0m0 8h0m0 0h0m0 19h0m0 9h0m0 2h0m0 20h0m1-114h0m0 31h0m0 6h0m0 4h0m0 13h0m0 2h0m0 8h0m0 8h0m0 9h0m0 33h0m1-141h0m0 16h0m0 3h0m0 17h0m0 5h0m0 13h0m0 44h0m0 1h0m0 15h0m0 3h0m1-109h0m0 73h0m0 3h0m0 46h0m0 23h0m0 3h0m1-139h0m0 34h0m0 2h0m0 6h0m0 4h0m0 8h0m0 37h0m1-59h0m0 10h0m0 10h0m0 1h0m0 14h0m0 5h0m0 9h0m0 18h0m0 2h0m0 9h0m0 26h0m1-144h0m0 1h0m0 55h0m0 3h0m0 31h0m0 23h0m1-110h0m0 90h0m0 18h0m0 3h0m1-43h0m0 8h0m0 13h0m0 39h0m0 29h0m1-128h0m0 5h0m0 19h0m0 10h0m0 1h0m0 14h0m0 28h0m0 21h0m0 6h0m0 34h0m1-147h0m0 12h0m0 39h0m0 48h0m0 15h0m1-121h0m0 9h0m0 4h0m0 75h0m0 5h0m0 24h0m0 25h0m1-176h0m0 54h0m0 4h0m0 23h0m0 18h0m0 45h0m0 18h0m1-158h0m0 36h0m0 14h0m0 13h0m0 2h0m0 1h0m0 24h0m0 1h0m0 6h0m0 5h0m0 0h0m0 11h0m0 3h0m0 29h0m0 7h0m0 39h0m1-150h0m0 2h0m0 2h0m0 4h0m0 33h0m0 6h0m0 14h0m0 4h0m0 22h0m1-109h0m0 3h0m0 2h0m0 34h0m0 23h0m0 19h0m0 1h0m1-46h0m0 22h0m0 3h0m0 8h0m0 0h0m1-93h0m0 43h0m0 29h0m1-32h0m0 14h0m0 1h0m0 77h0m0 23h0m0 25h0m1-157h0m0 24h0m0 5h0m0 13h0m0 30h0m0 3h0m0 18h0m0 5h0m1-117h0m0 9h0m0 34h0m0 41h0m0 75h0m1-106h0m0 5h0m0 42h0m0 3h0m1-76h0m0 40h0m0 55h0m1-97h0m0 48h0m0 16h0m0 2h0m0 11h0m1-44h0m0 4h0m0 12h0m0 48h0m1-107h0m0 25h0m1-40h0m0 17h0m0 2h0m0 4h0m0 54h0m0 7h0m1-41h0m0 3h0m0 2h0m0 32h0m0 19h0m0 0h0m1-109h0m0 6h0m0 62h0m0 56h0m0 3h0m2-74h0m0 8h0m0 3h0m0 30h0m0 46h0m1-53h0m0 6h0m0 58h0m1-137h0m0 21h0m0 9h0m0 3h0m0 58h0m0 18h0m0 26h0m0 52h0m1-159h0m0 15h0m0 37h0m0 83h0m1-133h0m0 48h0m0 48h0m1-98h0m1-48h0m0 52h0m0 34h0m1-85h0m0 137h0m1-101h0m0 90h0m1-36h0m0 19h0m0 43h0m2-149h0m0 98h0m1-44h0m0 42h0m0 61h0m1-109h0m1 40h0m1-1h0m1-104h0m0 111h0m1-47h0m0 51h0m1-51h0m1 56h0m2-71h0m0 36h0m1-20h0m0 95h0"/>
<path transform="scale(0.25)" stroke="#ff6414" stroke-opacity="0.5" stroke-width="3.8" stroke-linecap="square" fill="none" d="m1214 1049h0m0 4h0m11-40h0m1 53h0m2-84h0m3 26h0m2-1h0m0 36h0m2-17h0m2-17h0m1 39h0m2-22h0m1-24h0m0 21h0m0 3h0m0 47h0m1-98h0m0 30h0m0 12h0m1 4h0m1-37h0m0 36h0m0 50h0m1-61h0m0 17h0m0 43h0m1-96h0m0 4h0m0 4h0m0 43h0m0 13h0m0 12h0m1-84h0m0 25h0m0 37h0m0 6h0m1-79h0m0 50h0m0 3h0m0 17h0m0 4h0m0 39h0m1-68h0m0 1h0m0 36h0m0 12h0m2-17h0m0 26h0m1-56h0m0 3h0m0 17h0m0 10h0m1-37h0m0 2h0m0 10h0m0 7h0m0 4h0m0 18h0m0 25h0m1-77h0m0 32h0m0 13h0m1-16h0m0 5h0m1-27h0m0 25h0m0 6h0m0 6h0m0 14h0m1-55h0m0 14h0m0 25h0m1-38h0m0 15h0m0 11h0m0 5h0m0 0h0m0 7h0m1-46h0m0 23h0m0 5h0m0 10h0m0 4h0m0 28h0m1-45h0m0 2h0m0 8h0m0 4h0m0 6h0m0 11h0m1-80h0m0 4h0m0 33h0m0 12h0m0 13h0m0 8h0m0 2h0m0 5h0m1-49h0m0 18h0m0 22h0m0 2h0m0 1h0m0 18h0m1-67h0m0 32h0m0 3h0m0 2h0m0 5h0m1-69h0m0 50h0m0 1h0m0 9h0m0 3h0m0 2h0m1-52h0m0 11h0m0 24h0m0 1h0m0 5h0m0 3h0m0 2h0m0 4h0m0 1h0m0 12h0m1-71h0m0 35h0m0 2h0m0 2h0m0 1h0m0 9h0m0 9h0m0 11h0m0 1h0m0 2h0m1-54h0m0 7h0m0 16h0m0 20h0m0 4h0m0 7h0m0 8h0m1-75h0m0 8h0m0 8h0m0 13h0m0 5h0m0 6h0m0 1h0m0 10h0m0 1h0m0 19h0m0 8h0m0 8h0m1-81h0m0 19h0m0 2h0m0 4h0m0 2h0m0 8h0m0 7h0m0 16h0m0 4h0m0 21h0m1-69h0m0 2h0m0 2h0m0 2h0m0 1h0m0 4h0m0 6h0m0 9h0m0 7h0m0 2h0m0 2h0m0 19h0m1-66h0m0 5h0m0 17h0m0 6h0m0 17h0m0 14h0m0 0h0m0 1h0m0 24h0m1-90h0m0 2h0m0 2h0m0 21h0m0 4h0m0 21h0m0 1h0m0 0h0m0 2h0m0 3h0m0 3h0m0 16h0m0 7h0m1-67h0m0 9h0m0 9h0m0 2h0m0 1h0m0 1h0m0 5h0m0 34h0m1-74h0m0 3h0m0 32h0m0 7h0m0 1h0m0 0h0m0 26h0m0 0h0m0 18h0m0 8h0m1-100h0m0 11h0m0 7h0m0 12h0m0 6h0m0 23h0m1-58h0m0 4h0m0 9h0m0 1h0m0 9h0m0 11h0m0 26h0m0 6h0m0 7h0m1-54h0m0 20h0m0 7h0m0 9h0m0 1h0m0 5h0m1-64h0m0 34h0m0 1h0m0 12h0m0 4h0m0 2h0m0 11h0m0 2h0m0 1h0m0 12h0m0 17h0m1-85h0m0 13h0m0 11h0m0 14h0m0 16h0m1-27h0m0 2h0m0 2h0m0 0h0m0 11h0m0 18h0m0 8h0m1-117h0m0 53h0m0 1h0m0 5h0m0 4h0m0 9h0m0 7h0m0 46h0m0 1h0m1-103h0m0 4h0m0 23h0m0 13h0m0 2h0m0 38h0m1-56h0m0 14h0m0 6h0m0 10h0m0 2h0m0 4h0m0 8h0m1-86h0m0 54h0m0 6h0m0 12h0m0 14h0m0 0h0m0 4h0m0 10h0m0 3h0m0 8h0m0 10h0m0 1h0m1-75h0m0 2h0m0 17h0m0 7h0m0 30h0m1-98h0m0 53h0m0 3h0m1-21h0m0 6h0m0 6h0m0 16h0m0 1h0m0 5h0m0 6h0m0 14h0m0 2h0m0 14h0m0 33h0m1-114h0m0 15h0m0 3h0m0 16h0m1-78h0m0 31h0m0 16h0m0 3h0m0 16h0m0 14h0m0 9h0m0 8h0m0 1h0m0 10h0m0 38h0m1-94h0m0 17h0m0 8h0m0 13h0m0 11h0m0 4h0m1-63h0m0 12h0m0 29h0m0 10h0m0 14h0m0 41h0m1-97h0m0 13h0m0 11h0m0 10h0m0 11h0m0 4h0m0 1h0m0 5h0m1-66h0m0 16h0m0 20h0m0 2h0m0 21h0m0 2h0m0 3h0m0 4h0m0 4h0m1-61h0m0 1h0m0 5h0m0 4h0m0 12h0m0 0h0m0 1h0m0 6h0m0 1h0m0 25h0m1-33h0m0 1h0m0 3h0m0 7h0m0 1h0m0 0h0m0 2h0m0 25h0m0 7h0m1-102h0m0 20h0m0 22h0m0 1h0m0 6h0m0 11h0m0 4h0m0 13h0m0 13h0m1-86h0m0 21h0m0 38h0m0 4h0m0 5h0m0 14h0m0 1h0m0 7h0m0 7h0m1-83h0m0 17h0m0 18h0m0 3h0m0 14h0m0 7h0m0 0h0m0 3h0m1-47h0m0 17h0m0 4h0m0 45h0m1-60h0m0 3h0m0 1h0m0 30h0m0 14h0m1-28h0m0 23h0m1-106h0m0 49h0m0 2h0m0 10h0m0 7h0m0 3h0m0 8h0m0 16h0m0 12h0m0 6h0m1-29h0m0 8h0m0 1h0m0 15h0m0 21h0m0 3h0m1-78h0m0 18h0m0 4h0m0 76h0m1-92h0m0 21h0m0 4h0m0 9h0m0 23h0m1-37h0m0 6h0m0 19h0m1-15h0m1-27h0m0 22h0m0 22h0m1-40h0m0 1h0m0 13h0m1-45h0m0 42h0m0 18h0m0 2h0m1-37h0m0 21h0m0 3h0m0 11h0m0 14h0m0 14h0m1-80h0m0 8h0m0 13h0m1 9h0m1-54h0m0 46h0m0 7h0m0 5h0m0 3h0m1-14h0m0 18h0m0 23h0m1-42h0m0 15h0m0 66h0m1-111h0m1 41h0m0 11h0m0 0h0m0 4h0m1-75h0m0 62h0m0 21h0m1-67h0m1 23h0m0 14h0m1 27h0m3-52h0m0 30h0m1-100h0m1 78h0m1-4h0m1-6h0m0 25h0m1-5h0m0 39h0m2-17h0m3 2h0m3-51h0m0 34h0m0 25h0m14-24h0"/>
<polygon points="315.9,224.5 333.6,218.7 341,222.4 341,254.6 334.6,267 321.1,271.2 299.3,262.9 298.3,260.8 303.5,241.1" fill="none" stroke="#5a5a66" stroke-width="0.75" stroke-linejoin="round"/>
</g>
<text x="310" y="215.5" font-size="3.8" fill="#111" text-anchor="start" font-weight="normal" textLength="15.8" lengthAdjust="spacingAndGlyphs">CD90 high</text>
<rect x="339.5" y="238.5" width="2" height="16" fill="#b0b0b0"/>
<rect x="574.3" y="65" width="2" height="16" fill="#b0b0b0"/>
<clipPath id="k8"><rect x="355.5" y="196" width="91" height="78"/></clipPath><g clip-path="url(#k8)">
<path transform="scale(0.25)" stroke="#e4a8f0" stroke-opacity="0.5" stroke-width="3.6" stroke-linecap="square" fill="none" d="m1658 867h0m0 22h0m6-19h0m0 8h0m1 4h0m1-5h0m1-5h0m0 3h0m1-40h0m0 53h0m1-4h0m2-44h0m0 28h0m0 3h0m0 3h0m0 3h0m2-21h0m0 54h0m1-52h0m1-19h0m1 23h0m0 7h0m1 7h0m0 5h0m0 0h0m0 15h0m0 17h0m1-60h0m1-2h0m0 3h0m0 20h0m0 17h0m1-35h0m1-19h0m0 31h0m0 10h0m0 4h0m0 13h0m0 5h0m1-68h0m0 0h0m0 2h0m0 48h0m1-32h0m0 14h0m0 31h0m1-31h0m1-13h0m0 14h0m1-38h0m0 31h0m0 9h0m0 14h0m0 12h0m1-46h0m0 13h0m0 50h0m0 6h0m1-83h0m0 18h0m0 51h0m1-5h0m0 19h0m1-84h0m0 20h0m0 5h0m0 0h0m1-11h0m0 30h0m0 19h0m1-59h0m0 46h0m0 17h0m1-65h0m0 2h0m0 50h0m0 3h0m0 4h0m0 12h0m1-68h0m0 5h0m0 18h0m0 10h0m0 19h0m1-56h0m0 17h0m0 17h0m0 13h0m0 7h0m1-56h0m0 0h0m0 20h0m0 27h0m1-19h0m0 2h0m0 24h0m0 4h0m0 5h0m0 10h0m0 3h0m1-90h0m0 26h0m0 7h0m0 12h0m1-37h0m0 21h0m0 11h0m0 16h0m0 1h0m0 33h0m0 6h0m1-91h0m0 15h0m0 4h0m0 10h0m0 20h0m0 18h0m1-59h0m0 3h0m0 10h0m0 15h0m0 9h0m0 5h0m0 22h0m0 18h0m1-95h0m0 9h0m0 13h0m0 11h0m0 3h0m0 7h0m0 1h0m0 23h0m0 12h0m0 15h0m1-97h0m0 7h0m0 12h0m0 10h0m0 25h0m0 10h0m0 5h0m0 38h0m1-97h0m0 18h0m0 17h0m0 35h0m1-57h0m0 4h0m0 0h0m0 0h0m0 1h0m0 27h0m0 2h0m0 23h0m0 13h0m0 19h0m1-107h0m0 15h0m0 27h0m0 8h0m1-45h0m0 21h0m0 5h0m0 12h0m0 13h0m0 5h0m0 5h0m1-73h0m0 9h0m0 13h0m0 26h0m0 4h0m0 7h0m0 4h0m0 20h0m0 22h0m1-92h0m0 8h0m0 3h0m0 1h0m0 8h0m0 4h0m0 25h0m0 1h0m0 8h0m1-68h0m0 6h0m0 35h0m0 1h0m0 11h0m0 11h0m1-59h0m0 2h0m0 21h0m0 3h0m0 13h0m0 3h0m0 4h0m0 14h0m0 10h0m0 15h0m1-79h0m0 11h0m0 24h0m0 12h0m0 16h0m0 5h0m1-56h0m0 18h0m0 4h0m0 2h0m1-41h0m0 14h0m0 2h0m0 16h0m0 12h0m0 17h0m1-72h0m0 6h0m0 26h0m0 5h0m0 5h0m0 8h0m0 0h0m0 3h0m0 3h0m0 2h0m0 3h0m0 17h0m0 1h0m0 5h0m1-61h0m0 30h0m0 8h0m0 8h0m0 16h0m0 36h0m1-121h0m0 24h0m0 3h0m0 8h0m0 1h0m0 6h0m0 24h0m0 5h0m0 3h0m0 6h0m1-78h0m0 19h0m0 0h0m0 3h0m0 21h0m0 7h0m0 10h0m1-42h0m0 4h0m0 6h0m0 4h0m0 0h0m0 5h0m0 3h0m0 19h0m0 9h0m0 4h0m1-56h0m0 21h0m0 1h0m1-32h0m0 11h0m0 13h0m0 24h0m0 6h0m0 1h0m0 20h0m1-46h0m0 12h0m0 3h0m0 0h0m0 14h0m0 6h0m0 18h0m0 15h0m1-93h0m0 16h0m0 5h0m0 1h0m0 16h0m0 41h0m0 11h0m1-88h0m0 18h0m0 23h0m0 10h0m0 6h0m0 9h0m0 3h0m0 31h0m1-111h0m0 23h0m0 23h0m0 29h0m0 0h0m1-66h0m0 17h0m0 5h0m0 1h0m0 2h0m0 12h0m0 7h0m0 1h0m0 2h0m0 1h0m0 5h0m0 1h0m0 8h0m0 1h0m0 5h0m0 2h0m0 13h0m1-67h0m0 9h0m0 18h0m0 15h0m0 17h0m0 22h0m1-86h0m0 18h0m0 1h0m0 19h0m0 5h0m0 0h0m0 2h0m0 18h0m1-58h0m0 15h0m0 3h0m0 22h0m0 0h0m1-63h0m0 12h0m0 11h0m0 2h0m0 0h0m0 15h0m0 0h0m0 1h0m0 10h0m0 9h0m0 2h0m0 13h0m1-60h0m0 11h0m0 18h0m0 8h0m0 6h0m0 12h0m0 3h0m0 6h0m0 5h0m0 2h0m1-92h0m0 24h0m0 1h0m0 17h0m0 21h0m0 23h0m1-82h0m0 11h0m0 5h0m0 10h0m0 8h0m0 14h0m0 4h0m0 9h0m0 2h0m0 22h0m1-68h0m0 1h0m0 12h0m0 9h0m0 1h0m0 12h0m0 1h0m0 1h0m0 31h0m0 10h0m1-84h0m0 5h0m0 2h0m0 23h0m0 6h0m0 51h0m1-98h0m0 5h0m0 13h0m0 2h0m0 8h0m0 18h0m0 6h0m0 9h0m0 2h0m0 14h0m0 0h0m0 3h0m0 15h0m1-92h0m0 14h0m0 15h0m0 2h0m0 31h0m0 3h0m0 2h0m0 2h0m0 4h0m1-68h0m0 8h0m0 4h0m0 6h0m0 38h0m0 4h0m0 8h0m0 7h0m0 1h0m0 12h0m1-88h0m0 3h0m0 4h0m0 6h0m0 2h0m0 23h0m0 6h0m0 1h0m0 9h0m0 2h0m0 11h0m0 6h0m1-85h0m0 11h0m0 19h0m0 14h0m0 32h0m1-54h0m0 12h0m0 3h0m0 0h0m0 15h0m0 11h0m0 1h0m0 7h0m1-29h0m0 18h0m0 2h0m0 0h0m0 19h0m0 4h0m1-58h0m0 2h0m0 20h0m0 13h0m0 13h0m0 5h0m0 1h0m0 18h0m0 2h0m1-98h0m0 13h0m0 8h0m0 32h0m0 29h0m1-81h0m0 32h0m0 7h0m0 3h0m0 17h0m0 4h0m0 9h0m1-72h0m0 19h0m0 24h0m0 4h0m0 1h0m0 6h0m0 22h0m0 8h0m1-60h0m0 4h0m0 13h0m0 9h0m0 5h0m0 5h0m0 2h0m0 2h0m0 5h0m1-52h0m0 11h0m0 5h0m0 10h0m0 19h0m0 6h0m0 5h0m0 3h0m0 3h0m0 4h0m1-73h0m0 2h0m0 8h0m0 6h0m0 3h0m0 0h0m0 7h0m0 27h0m0 10h0m1-60h0m0 12h0m0 2h0m0 42h0m1-63h0m0 13h0m0 31h0m0 7h0m0 39h0m1-93h0m0 17h0m0 2h0m0 4h0m0 41h0m0 25h0m1-72h0m0 14h0m0 5h0m0 24h0m0 1h0m0 1h0m0 2h0m0 7h0m1-45h0m0 1h0m0 19h0m0 13h0m0 4h0m0 6h0m1-37h0m0 60h0m1-78h0m0 1h0m0 32h0m0 5h0m0 1h0m0 5h0m1-15h0m0 15h0m0 4h0m0 8h0m1-23h0m0 29h0m0 5h0m1-79h0m0 9h0m0 11h0m1 11h0m0 8h0m0 17h0m0 3h0m1-33h0m0 0h0m0 27h0m0 1h0m1-53h0m0 10h0m0 7h0m0 28h0m0 17h0m1-56h0m0 33h0m0 5h0m0 1h0m0 10h0m1-26h0m0 1h0m0 8h0m0 0h0m0 35h0m1-51h0m0 14h0m0 22h0m1-40h0m0 35h0m0 12h0m1-55h0m0 4h0m0 8h0m0 22h0m0 10h0m1-34h0m1 0h0m0 22h0m1-6h0m0 32h0m2-27h0m0 6h0m0 10h0m1-41h0m0 36h0m1-24h0m3 5h0m1 7h0"/>
<path transform="scale(0.25)" stroke="#c448ea" stroke-opacity="0.5" stroke-width="3.6" stroke-linecap="square" fill="none" d="m1665 868h0m0 17h0m1-21h0m1-3h0m1 31h0m4-17h0m2-8h0m4-22h0m0 27h0m1-34h0m0 39h0m1-27h0m0 9h0m0 1h0m0 16h0m0 19h0m1-13h0m1-32h0m1 1h0m1 33h0m0 2h0m1-44h0m0 28h0m0 17h0m0 6h0m0 12h0m1-43h0m0 20h0m1-16h0m0 5h0m0 12h0m0 12h0m1-54h0m0 26h0m0 6h0m0 0h0m0 11h0m0 6h0m0 5h0m1-42h0m0 10h0m0 34h0m1-71h0m0 0h0m0 18h0m0 14h0m0 1h0m0 4h0m0 4h0m0 17h0m0 10h0m1-53h0m0 9h0m0 9h0m0 7h0m0 37h0m1-72h0m0 20h0m0 16h0m0 21h0m1-49h0m0 3h0m0 1h0m0 32h0m1-24h0m0 1h0m0 7h0m1-30h0m0 7h0m0 3h0m0 4h0m0 4h0m0 8h0m0 17h0m1-35h0m0 32h0m0 0h0m0 14h0m1-44h0m0 0h0m1-9h0m0 14h0m0 17h0m0 17h0m0 1h0m0 2h0m0 13h0m1-66h0m0 0h0m0 26h0m0 5h0m0 0h0m0 9h0m0 2h0m0 3h0m0 2h0m0 15h0m1-62h0m0 2h0m0 3h0m0 10h0m0 5h0m0 2h0m0 5h0m0 2h0m0 6h0m0 13h0m0 0h0m1-51h0m0 7h0m0 11h0m0 13h0m0 3h0m0 4h0m0 50h0m1-68h0m0 7h0m0 1h0m0 13h0m0 12h0m0 18h0m0 5h0m1-77h0m0 14h0m0 9h0m0 14h0m0 5h0m0 12h0m0 10h0m1-63h0m0 17h0m0 2h0m0 5h0m0 5h0m0 2h0m0 9h0m0 7h0m0 48h0m1-98h0m0 17h0m0 14h0m0 3h0m0 22h0m0 7h0m0 0h0m0 7h0m0 36h0m1-97h0m0 29h0m0 9h0m0 27h0m1-41h0m0 13h0m0 5h0m0 5h0m0 2h0m0 15h0m1-65h0m0 10h0m0 24h0m0 14h0m0 0h0m0 4h0m0 11h0m1-68h0m0 9h0m0 0h0m0 10h0m0 1h0m0 2h0m0 3h0m0 26h0m0 10h0m0 1h0m0 5h0m0 8h0m0 7h0m1-88h0m0 17h0m0 2h0m0 14h0m0 8h0m0 21h0m0 1h0m0 17h0m0 18h0m1-91h0m0 5h0m0 2h0m0 16h0m0 1h0m0 2h0m0 10h0m0 0h0m0 11h0m0 0h0m0 4h0m0 4h0m0 0h0m0 3h0m0 7h0m0 10h0m1-78h0m0 20h0m0 8h0m0 1h0m0 0h0m0 10h0m0 3h0m0 4h0m0 2h0m0 4h0m0 11h0m0 3h0m0 3h0m0 13h0m1-76h0m0 8h0m0 11h0m0 0h0m0 2h0m0 5h0m0 12h0m0 2h0m0 6h0m1-37h0m0 8h0m0 0h0m0 4h0m0 4h0m0 8h0m0 3h0m0 20h0m0 3h0m1-55h0m0 6h0m0 1h0m0 2h0m0 17h0m0 29h0m0 0h0m0 1h0m0 7h0m0 4h0m0 2h0m1-76h0m0 10h0m0 5h0m0 5h0m0 5h0m0 2h0m0 0h0m0 3h0m0 5h0m0 1h0m0 9h0m0 1h0m0 0h0m0 14h0m0 10h0m0 5h0m0 11h0m1-104h0m0 5h0m0 1h0m0 19h0m0 13h0m0 6h0m0 1h0m0 1h0m0 6h0m0 1h0m0 8h0m0 4h0m0 7h0m0 0h0m0 4h0m0 10h0m1-71h0m0 4h0m0 6h0m0 7h0m0 3h0m0 8h0m0 3h0m0 2h0m0 0h0m0 9h0m0 0h0m0 1h0m0 13h0m0 17h0m0 9h0m1-79h0m0 3h0m0 5h0m0 1h0m0 4h0m0 7h0m0 1h0m0 1h0m0 7h0m0 8h0m0 1h0m0 15h0m0 8h0m0 1h0m0 3h0m0 5h0m1-78h0m0 0h0m0 20h0m0 2h0m0 1h0m0 4h0m0 8h0m0 2h0m0 3h0m0 1h0m0 3h0m0 1h0m0 4h0m0 7h0m0 8h0m0 29h0m1-89h0m0 7h0m0 7h0m0 4h0m0 13h0m0 0h0m0 2h0m0 2h0m0 3h0m0 1h0m0 5h0m0 6h0m0 4h0m0 0h0m0 5h0m1-57h0m0 14h0m0 11h0m0 4h0m0 34h0m1-78h0m0 16h0m0 10h0m0 2h0m0 4h0m0 5h0m0 2h0m0 6h0m0 5h0m0 3h0m0 10h0m0 3h0m0 3h0m0 11h0m0 3h0m1-67h0m0 7h0m0 9h0m0 0h0m0 5h0m0 1h0m0 5h0m0 8h0m0 1h0m0 7h0m0 4h0m0 3h0m0 4h0m0 10h0m1-58h0m0 7h0m0 12h0m0 4h0m0 1h0m0 1h0m0 7h0m0 17h0m0 2h0m0 1h0m0 4h0m0 0h0m0 12h0m1-77h0m0 10h0m0 8h0m0 17h0m0 1h0m0 1h0m0 0h0m0 4h0m0 10h0m0 13h0m1-53h0m0 2h0m0 3h0m0 1h0m0 3h0m0 3h0m0 9h0m0 3h0m0 1h0m0 17h0m0 7h0m0 3h0m0 23h0m0 13h0m1-102h0m0 11h0m0 8h0m0 4h0m0 1h0m0 3h0m0 3h0m0 0h0m0 1h0m0 7h0m0 2h0m0 2h0m0 6h0m0 3h0m0 14h0m0 6h0m0 11h0m1-81h0m0 36h0m0 1h0m0 8h0m0 27h0m1-50h0m0 0h0m0 12h0m0 0h0m0 0h0m0 5h0m0 6h0m0 3h0m0 5h0m0 2h0m0 3h0m0 27h0m1-57h0m0 3h0m0 7h0m0 7h0m0 5h0m0 12h0m0 3h0m0 11h0m0 1h0m1-63h0m0 1h0m0 1h0m0 0h0m0 4h0m0 3h0m0 4h0m0 6h0m0 4h0m0 2h0m0 1h0m0 0h0m0 1h0m0 3h0m0 3h0m0 4h0m0 5h0m0 7h0m0 1h0m0 4h0m0 3h0m1-77h0m0 33h0m0 8h0m0 5h0m0 4h0m0 9h0m0 13h0m1-75h0m0 5h0m0 14h0m0 5h0m0 5h0m0 5h0m0 1h0m0 3h0m0 12h0m0 4h0m0 1h0m0 10h0m0 1h0m0 31h0m1-93h0m0 16h0m0 4h0m0 1h0m0 15h0m0 7h0m0 1h0m0 0h0m0 0h0m0 13h0m0 1h0m0 4h0m1-38h0m0 7h0m0 0h0m0 7h0m0 4h0m0 0h0m0 3h0m0 2h0m0 2h0m0 2h0m0 35h0m0 12h0m1-77h0m0 5h0m0 6h0m0 0h0m0 21h0m0 8h0m0 8h0m1-64h0m0 11h0m0 0h0m0 1h0m0 21h0m0 0h0m0 9h0m0 5h0m0 7h0m0 27h0m1-92h0m0 4h0m0 51h0m0 5h0m0 4h0m1-42h0m0 0h0m0 13h0m0 8h0m0 4h0m0 6h0m0 5h0m0 1h0m0 1h0m0 3h0m0 7h0m0 4h0m0 15h0m1-79h0m0 12h0m0 7h0m0 19h0m0 0h0m0 1h0m0 9h0m0 4h0m0 7h0m0 8h0m0 4h0m0 1h0m1-63h0m0 15h0m0 5h0m0 18h0m1-50h0m0 13h0m0 0h0m0 5h0m0 7h0m0 5h0m0 0h0m0 9h0m0 27h0m0 2h0m1-46h0m0 3h0m0 4h0m0 2h0m0 1h0m0 5h0m0 5h0m0 1h0m0 4h0m0 4h0m0 1h0m0 14h0m0 3h0m1-52h0m0 2h0m0 14h0m0 13h0m0 4h0m0 8h0m0 6h0m1-65h0m0 5h0m0 20h0m0 10h0m0 11h0m0 7h0m0 5h0m0 1h0m0 10h0m1-68h0m0 2h0m0 18h0m0 0h0m0 5h0m0 7h0m0 18h0m0 3h0m0 37h0m1-82h0m0 21h0m0 6h0m0 4h0m0 29h0m0 3h0m0 10h0m1-86h0m0 1h0m0 21h0m0 2h0m0 5h0m0 13h0m0 0h0m0 17h0m0 5h0m0 9h0m0 0h0m0 20h0m1-90h0m0 39h0m0 2h0m0 5h0m0 7h0m1-45h0m0 3h0m0 22h0m0 2h0m0 7h0m0 20h0m0 3h0m0 9h0m1-72h0m0 19h0m0 8h0m0 47h0m0 22h0m1-95h0m0 30h0m0 5h0m0 6h0m0 1h0m0 39h0m0 2h0m1-83h0m0 9h0m0 8h0m0 12h0m0 1h0m0 13h0m0 3h0m1-22h0m0 4h0m0 10h0m0 0h0m0 4h0m0 2h0m0 8h0m0 22h0m1-55h0m0 18h0m0 6h0m0 10h0m1-45h0m0 25h0m0 1h0m0 3h0m0 7h0m0 14h0m0 1h0m0 4h0m1-51h0m0 6h0m0 0h0m0 14h0m0 1h0m0 1h0m0 2h0m0 0h0m0 23h0m1-60h0m0 45h0m0 14h0m0 2h0m1-51h0m0 15h0m0 14h0m0 2h0m0 17h0m0 0h0m1-44h0m0 6h0m0 1h0m0 2h0m0 3h0m0 11h0m0 1h0m0 1h0m0 1h0m0 2h0m0 8h0m0 14h0m0 0h0m0 6h0m1-50h0m0 8h0m0 26h0m1-48h0m0 26h0m0 2h0m0 5h0m0 6h0m0 22h0m1-9h0m0 1h0m1-51h0m0 27h0m0 1h0m0 12h0m1-15h0m0 1h0m1 14h0m0 17h0m1-18h0m1 5h0m0 4h0m1-16h0m1-9h0m0 6h0m0 2h0m1-2h0m0 2h0m0 11h0m1 10h0m1-15h0m1 2h0m1-8h0m0 39h0m1-36h0"/>
<path transform="scale(0.25)" stroke="#b830e4" stroke-opacity="0.55" stroke-width="3.6" stroke-linecap="square" fill="none" d="m1688 846h0m2 1h0m0 6h0m2 14h0m3 0h0m2-18h0m1 19h0m1-6h0m0 3h0m1-8h0m1-15h0m0 10h0m0 2h0m1 19h0m1-28h0m1-6h0m0 5h0m0 3h0m1 1h0m0 4h0m0 16h0m1-21h0m0 5h0m1 9h0m1-24h0m0 25h0m1-13h0m0 9h0m0 0h0m0 0h0m0 11h0m0 7h0m0 5h0m1-35h0m0 2h0m0 9h0m0 7h0m1-34h0m0 10h0m0 11h0m0 5h0m0 4h0m0 8h0m0 5h0m1-24h0m0 6h0m0 12h0m0 6h0m0 2h0m0 3h0m0 13h0m1-55h0m0 3h0m0 11h0m0 0h0m0 1h0m0 1h0m0 10h0m0 4h0m0 8h0m0 4h0m0 1h0m1-29h0m0 6h0m0 0h0m0 3h0m0 1h0m0 0h0m0 2h0m0 15h0m1-34h0m0 6h0m0 8h0m0 4h0m0 0h0m0 3h0m0 1h0m0 7h0m0 0h0m1-27h0m0 1h0m0 3h0m0 5h0m0 3h0m0 1h0m0 5h0m0 0h0m0 2h0m0 1h0m0 1h0m0 2h0m0 1h0m0 3h0m1-17h0m0 0h0m0 12h0m0 0h0m0 2h0m0 9h0m0 5h0m1-40h0m0 1h0m0 1h0m0 8h0m0 2h0m0 1h0m0 4h0m0 2h0m0 3h0m0 1h0m0 1h0m0 7h0m0 7h0m1-54h0m0 9h0m0 13h0m0 1h0m0 2h0m0 9h0m0 3h0m0 6h0m0 0h0m0 9h0m1-45h0m0 7h0m0 2h0m0 7h0m0 3h0m0 2h0m0 3h0m0 3h0m0 6h0m0 2h0m1-23h0m0 2h0m0 2h0m0 2h0m0 1h0m0 1h0m0 0h0m0 1h0m0 1h0m0 2h0m0 0h0m0 1h0m0 0h0m0 1h0m0 0h0m0 2h0m0 7h0m0 1h0m0 2h0m0 3h0m1-29h0m0 3h0m0 2h0m0 3h0m0 3h0m0 0h0m0 3h0m0 0h0m0 4h0m0 4h0m0 3h0m0 3h0m0 16h0m1-62h0m0 15h0m0 4h0m0 3h0m0 3h0m0 1h0m0 1h0m0 1h0m0 10h0m0 2h0m0 0h0m0 1h0m1-38h0m0 5h0m0 0h0m0 10h0m0 6h0m0 0h0m0 0h0m0 1h0m0 1h0m0 1h0m0 1h0m0 16h0m0 2h0m0 1h0m1-29h0m0 2h0m0 9h0m0 4h0m0 2h0m0 1h0m0 2h0m0 4h0m0 0h0m0 13h0m0 1h0m1-52h0m0 9h0m0 1h0m0 2h0m0 13h0m0 0h0m0 12h0m0 2h0m0 21h0m1-69h0m0 22h0m0 2h0m0 3h0m0 5h0m0 7h0m0 1h0m0 1h0m0 0h0m0 0h0m0 7h0m0 11h0m1-43h0m0 5h0m0 1h0m0 0h0m0 2h0m0 1h0m0 1h0m0 3h0m0 1h0m0 0h0m0 4h0m0 2h0m0 0h0m0 1h0m1-19h0m0 2h0m0 3h0m0 1h0m0 2h0m0 2h0m0 3h0m0 0h0m0 1h0m0 8h0m0 1h0m0 2h0m0 8h0m0 2h0m1-46h0m0 15h0m0 1h0m0 4h0m0 3h0m0 3h0m0 8h0m0 1h0m0 0h0m0 4h0m0 4h0m1-44h0m0 16h0m0 0h0m0 3h0m0 2h0m0 3h0m0 3h0m0 0h0m0 1h0m0 15h0m0 4h0m1-41h0m0 3h0m0 2h0m0 1h0m0 7h0m0 0h0m0 1h0m0 4h0m0 1h0m0 1h0m0 3h0m0 0h0m0 2h0m0 7h0m0 0h0m0 2h0m0 2h0m0 3h0m0 6h0m1-53h0m0 21h0m0 1h0m0 0h0m0 2h0m0 1h0m0 0h0m0 1h0m0 0h0m0 1h0m0 0h0m0 1h0m0 0h0m0 0h0m0 4h0m0 0h0m0 7h0m0 0h0m0 0h0m0 8h0m1-37h0m0 1h0m0 5h0m0 2h0m0 2h0m0 2h0m0 2h0m0 2h0m0 4h0m0 1h0m0 0h0m0 4h0m0 3h0m0 3h0m0 0h0m0 4h0m1-38h0m0 18h0m0 1h0m0 6h0m0 5h0m0 1h0m0 4h0m0 0h0m0 8h0m1-40h0m0 0h0m0 7h0m0 1h0m0 1h0m0 3h0m0 1h0m0 2h0m0 2h0m0 5h0m0 0h0m0 2h0m0 3h0m0 4h0m0 0h0m1-29h0m0 1h0m0 4h0m0 1h0m0 0h0m0 2h0m0 3h0m0 1h0m0 3h0m0 0h0m0 1h0m0 0h0m0 10h0m0 1h0m0 9h0m0 6h0m1-50h0m0 4h0m0 15h0m0 0h0m0 5h0m0 0h0m0 1h0m0 2h0m0 3h0m0 0h0m1-24h0m0 1h0m0 19h0m0 1h0m1-15h0m0 4h0m0 0h0m0 2h0m0 1h0m0 8h0m0 2h0m0 2h0m0 0h0m0 14h0m0 3h0m0 11h0m1-48h0m0 1h0m0 4h0m0 2h0m0 2h0m0 0h0m0 10h0m0 3h0m1-32h0m0 17h0m0 5h0m0 0h0m0 0h0m0 14h0m0 2h0m1-35h0m0 10h0m0 9h0m0 0h0m0 8h0m0 2h0m0 3h0m0 9h0m1-41h0m0 4h0m0 11h0m0 0h0m0 2h0m0 2h0m0 2h0m1-21h0m0 9h0m0 1h0m0 4h0m0 1h0m0 0h0m0 4h0m1-1h0m0 4h0m0 20h0m0 0h0m1-31h0m0 3h0m0 34h0m1-48h0m0 7h0m0 8h0m0 8h0m0 6h0m0 14h0m1-49h0m0 7h0m0 24h0m0 4h0m0 3h0m0 15h0m1-50h0m0 15h0m0 8h0m1 0h0m1-22h0m0 18h0m0 3h0m0 7h0m0 5h0m0 16h0m1-29h0m0 2h0m0 8h0m0 3h0m1-33h0m0 3h0m0 3h0m0 10h0m0 11h0m0 9h0m1-28h0m2-7h0m0 3h0m2-4h0m2 23h0m1-25h0m1 9h0m0 27h0m8-12h0"/>
<path transform="scale(0.25)" stroke="#8060e8" stroke-opacity="0.4" stroke-width="3.6" stroke-linecap="square" fill="none" d="m1688 844h0m8 38h0m5-56h0m0 27h0m0 8h0m1-3h0m1 12h0m1-45h0m0 40h0m2-10h0m0 16h0m2-7h0m2 12h0m1-39h0m0 2h0m0 40h0m0 4h0m1-24h0m0 6h0m0 26h0m1-43h0m0 9h0m0 24h0m1-36h0m0 8h0m0 1h0m1-34h0m0 38h0m0 4h0m1 9h0m0 20h0m2-82h0m0 33h0m1 19h0m1 16h0m1-48h0m0 27h0m2-3h0m0 11h0m0 6h0m0 13h0m0 15h0m1-50h0m0 19h0m0 5h0m0 17h0m1-46h0m0 19h0m1-13h0m0 16h0m2-51h0m0 18h0m0 6h0m0 17h0m1-9h0m0 10h0m1 3h0m0 25h0m1-26h0m0 7h0m0 7h0m2-53h0m0 13h0m0 20h0m0 3h0m0 1h0m0 1h0m0 6h0m1-25h0m0 4h0m0 17h0m0 12h0m1-37h0m1 1h0m1 11h0m0 14h0m1-6h0m1-29h0m1 14h0m0 6h0m1 12h0m0 1h0m0 17h0m1-46h0m0 20h0m0 28h0m1-20h0m0 9h0m0 9h0m1-41h0m0 7h0m0 6h0m0 1h0m1-7h0m0 10h0m0 10h0m0 4h0m0 3h0m3 24h0m1-73h0m0 6h0m0 1h0m0 39h0m1-34h0m0 45h0m1-3h0m3-25h0m0 9h0m1 19h0m1-37h0m0 30h0m1-36h0m1 8h0m1-17h0m0 26h0m1-18h0m0 51h0m1-53h0m0 25h0m0 26h0m1-50h0m0 1h0m1 24h0m1-26h0m7 38h0m4-24h0m2 15h0"/>
<path transform="scale(0.25)" stroke="#a818d8" stroke-opacity="0.45" stroke-width="3.6" stroke-linecap="square" fill="none" d="m1698 850h0m4 30h0m1-32h0m1 15h0m0 5h0m2 2h0m4-6h0m1-37h0m0 4h0m0 39h0m1-6h0m1-15h0m0 9h0m0 9h0m1-19h0m0 7h0m0 5h0m0 6h0m1-8h0m1 19h0m1-20h0m0 9h0m1-16h0m0 7h0m0 3h0m0 5h0m0 4h0m1-18h0m0 7h0m0 3h0m0 3h0m0 7h0m0 10h0m1-29h0m0 8h0m0 1h0m0 20h0m1-42h0m0 8h0m0 0h0m0 26h0m1-27h0m0 1h0m0 9h0m0 5h0m0 7h0m0 2h0m1-25h0m0 4h0m0 1h0m0 9h0m1-11h0m0 7h0m0 6h0m0 1h0m0 8h0m1-27h0m0 12h0m0 2h0m1-4h0m0 1h0m0 1h0m0 0h0m0 8h0m0 1h0m0 0h0m1-25h0m0 13h0m0 2h0m0 2h0m0 11h0m0 1h0m1-34h0m0 6h0m0 15h0m0 10h0m1-34h0m0 19h0m0 8h0m0 6h0m1-26h0m0 7h0m0 5h0m0 7h0m0 3h0m0 1h0m0 7h0m0 1h0m1-29h0m0 5h0m0 11h0m0 3h0m0 0h0m0 4h0m1-18h0m0 2h0m1-12h0m0 6h0m0 0h0m0 16h0m0 0h0m0 3h0m0 2h0m1-16h0m0 2h0m0 1h0m0 5h0m0 0h0m1-28h0m0 25h0m0 0h0m0 5h0m0 18h0m1-35h0m0 8h0m0 5h0m0 0h0m0 5h0m1-19h0m0 15h0m0 7h0m0 5h0m0 1h0m0 6h0m1-8h0m1-25h0m0 7h0m0 13h0m0 3h0m0 0h0m1-22h0m0 7h0m0 3h0m0 6h0m0 7h0m0 9h0m0 0h0m1-28h0m0 5h0m0 8h0m0 2h0m0 5h0m1 9h0m1-35h0m0 36h0m2-16h0m0 1h0m0 0h0m0 0h0m2-23h0m0 41h0m1-32h0m0 7h0m0 7h0m1-18h0m2 11h0m1 15h0m2-10h0m2-11h0m2 17h0"/>
<ellipse cx="430" cy="217" rx="17" ry="14" transform="rotate(-55 430 217)" fill="none" stroke="#5a5a66" stroke-width="0.75"/>
</g>
<text x="385" y="210.5" font-size="3.8" fill="#111" text-anchor="start" font-weight="normal" textLength="28" lengthAdjust="spacingAndGlyphs">CD73  CD105 high</text>
<clipPath id="k9"><rect x="483.5" y="196" width="90" height="78.5"/></clipPath><g clip-path="url(#k9)">
<path transform="scale(0.25)" stroke="#ff8a50" stroke-opacity="0.5" stroke-width="3.6" stroke-linecap="square" fill="none" d="m2009 1003h0m4 40h0m25-6h0m19 29h0m7-88h0m6 98h0m1-53h0m12-8h0m5 21h0m1-37h0m0 10h0m2-18h0m0 38h0m2-71h0m10 97h0m0 5h0m3-67h0m1 58h0m0 25h0m3-3h0m3-78h0m3-16h0m0 90h0m3-15h0m3-92h0m3-5h0m0 59h0m0 24h0m2-47h0m0 29h0m0 10h0m0 37h0m2-70h0m0 1h0m0 7h0m2 24h0m3-31h0m0 79h0m0 10h0m4-16h0m1-55h0m0 21h0m1 30h0m1-45h0m2 16h0m2 0h0m0 14h0m3-21h0m0 47h0m1-63h0m1-8h0m1 10h0m0 9h0m1-42h0m0 26h0m0 35h0m1-17h0m1-28h0m0 5h0m1-17h0m0 47h0m0 49h0m1-84h0m5 35h0m2-15h0m1-46h0m0 81h0m4-60h0m1-22h0m0 15h0m2 20h0m0 32h0m2-32h0m2 15h0m0 22h0m2-35h0m0 15h0m0 10h0m1-116h0m1 131h0m0 36h0m2-88h0m0 29h0m0 12h0m1-51h0m1 29h0m1-19h0m0 61h0m1-23h0m3-32h0m0 5h0m3 18h0m1-56h0m1 71h0m3-16h0m1-36h0m0 18h0m3 25h0m1-16h0m1 9h0m3 3h0m1-40h0m1 8h0m1 14h0m0 30h0m3-18h0m4-108h0m3 47h0m1 17h0m8 60h0m1-43h0m1-36h0m5 88h0m3-34h0m3-12h0m2 54h0m1-31h0m1 8h0m1-28h0m2-52h0m1 32h0m2 93h0m1-80h0m0 26h0m1-48h0m7 45h0m11-53h0m7-32h0m4 74h0m2-21h0"/>
<path transform="scale(0.25)" stroke="#ff7c38" stroke-opacity="0.48" stroke-width="3.8" stroke-linecap="square" fill="none" d="m2107 1052h0m3-8h0m2 10h0m4 29h0m1-57h0m1 5h0m2 29h0m1-12h0m5-39h0m0 64h0m1-75h0m0 18h0m0 30h0m1-31h0m0 62h0m1-75h0m0 34h0m1-37h0m0 14h0m0 44h0m0 25h0m3-61h0m1 16h0m0 25h0m1-5h0m1-22h0m2 30h0m0 0h0m1-38h0m0 14h0m0 39h0m1-33h0m1 5h0m0 3h0m0 35h0m0 1h0m1-28h0m1-35h0m0 16h0m0 0h0m0 25h0m0 7h0m0 12h0m1-69h0m0 4h0m0 8h0m0 16h0m0 22h0m0 17h0m0 4h0m1-102h0m0 43h0m0 33h0m1-77h0m0 5h0m0 32h0m0 1h0m0 7h0m0 12h0m0 26h0m0 8h0m0 6h0m1-63h0m0 13h0m1-49h0m0 38h0m0 13h0m0 26h0m1-58h0m0 4h0m0 14h0m0 8h0m0 10h0m0 11h0m1-91h0m0 46h0m0 10h0m0 17h0m0 32h0m0 14h0m0 7h0m1-40h0m0 25h0m0 3h0m0 1h0m0 8h0m1-52h0m0 2h0m0 2h0m0 8h0m0 3h0m0 41h0m1-93h0m0 17h0m0 1h0m0 1h0m0 27h0m0 14h0m0 21h0m0 16h0m1-82h0m0 76h0m1-59h0m0 16h0m0 11h0m1-56h0m0 47h0m0 2h0m0 18h0m0 23h0m1-50h0m0 13h0m0 10h0m0 7h0m1-74h0m0 26h0m0 6h0m0 10h0m0 12h0m0 8h0m0 1h0m0 11h0m0 23h0m0 1h0m1-96h0m0 2h0m0 11h0m0 2h0m0 35h0m0 9h0m0 1h0m0 2h0m0 1h0m0 3h0m0 8h0m0 2h0m0 20h0m1-89h0m0 14h0m0 12h0m0 2h0m0 5h0m0 4h0m0 2h0m0 13h0m0 36h0m1-128h0m0 32h0m0 3h0m0 13h0m0 9h0m0 2h0m0 16h0m0 0h0m0 17h0m0 22h0m0 1h0m0 3h0m1-117h0m0 3h0m0 47h0m0 2h0m0 12h0m0 12h0m0 5h0m0 12h0m0 0h0m0 19h0m0 0h0m0 14h0m1-55h0m0 6h0m0 12h0m0 12h0m1-62h0m0 12h0m0 9h0m0 11h0m0 3h0m0 11h0m0 1h0m0 4h0m0 11h0m0 6h0m0 7h0m0 3h0m1-100h0m0 14h0m0 1h0m0 3h0m0 35h0m0 7h0m0 7h0m0 6h0m0 1h0m0 9h0m0 26h0m1-113h0m0 9h0m0 25h0m0 15h0m0 1h0m0 9h0m0 1h0m0 6h0m0 28h0m1-84h0m0 4h0m0 4h0m0 20h0m0 0h0m0 26h0m0 4h0m0 0h0m0 0h0m0 8h0m0 3h0m0 13h0m0 14h0m0 3h0m1-81h0m0 3h0m0 10h0m0 4h0m0 1h0m0 5h0m0 22h0m0 14h0m0 9h0m0 6h0m1-104h0m0 30h0m0 1h0m0 7h0m0 6h0m0 8h0m0 26h0m0 7h0m0 4h0m0 6h0m0 5h0m1-98h0m0 11h0m0 4h0m0 1h0m0 5h0m0 13h0m0 6h0m0 1h0m0 1h0m0 8h0m0 3h0m0 1h0m0 2h0m0 0h0m0 9h0m0 27h0m0 11h0m1-69h0m0 11h0m0 0h0m0 37h0m0 27h0m1-88h0m0 1h0m0 8h0m0 6h0m0 0h0m0 9h0m0 6h0m0 6h0m0 1h0m0 0h0m0 16h0m0 23h0m1-140h0m0 57h0m0 22h0m0 24h0m0 5h0m0 2h0m0 4h0m0 3h0m0 11h0m0 5h0m1-102h0m0 48h0m0 13h0m0 23h0m0 2h0m0 12h0m0 9h0m1-75h0m0 10h0m0 7h0m0 8h0m0 9h0m0 2h0m0 9h0m0 1h0m0 1h0m0 3h0m0 22h0m0 4h0m0 10h0m0 6h0m1-150h0m0 39h0m0 24h0m0 20h0m0 7h0m0 5h0m0 0h0m0 1h0m0 17h0m0 1h0m0 8h0m0 10h0m0 4h0m0 16h0m1-115h0m0 33h0m0 12h0m0 15h0m0 11h0m0 4h0m0 12h0m0 3h0m0 12h0m1-99h0m0 2h0m0 27h0m0 21h0m0 1h0m0 3h0m0 5h0m0 12h0m0 11h0m1-65h0m0 10h0m0 12h0m0 13h0m0 14h0m0 1h0m0 1h0m0 22h0m0 18h0m1-99h0m0 19h0m0 0h0m0 6h0m0 2h0m0 4h0m0 1h0m0 7h0m0 17h0m0 2h0m0 1h0m0 4h0m0 3h0m0 0h0m1-83h0m0 7h0m0 24h0m0 32h0m0 0h0m0 3h0m0 11h0m1-102h0m0 41h0m0 8h0m0 18h0m0 14h0m0 14h0m0 29h0m0 13h0m1-96h0m0 9h0m0 1h0m0 25h0m0 1h0m0 7h0m0 2h0m0 21h0m0 5h0m1-122h0m0 36h0m0 28h0m0 11h0m0 1h0m0 1h0m0 4h0m0 13h0m0 6h0m0 10h0m0 20h0m0 17h0m1-104h0m0 3h0m0 14h0m0 22h0m0 4h0m0 13h0m0 5h0m0 6h0m0 47h0m1-110h0m0 7h0m0 22h0m0 10h0m0 9h0m0 1h0m0 3h0m0 3h0m0 0h0m0 3h0m0 4h0m0 1h0m0 4h0m0 7h0m0 11h0m1-103h0m0 34h0m0 10h0m0 7h0m0 2h0m0 1h0m0 12h0m0 2h0m0 0h0m0 2h0m0 0h0m0 1h0m0 16h0m0 2h0m0 7h0m0 17h0m0 2h0m0 4h0m1-104h0m0 7h0m0 11h0m0 9h0m0 5h0m0 4h0m0 9h0m0 1h0m0 16h0m0 1h0m0 3h0m0 5h0m0 24h0m1-112h0m0 10h0m0 9h0m0 24h0m0 2h0m0 5h0m0 1h0m0 11h0m0 9h0m0 24h0m1-102h0m0 19h0m0 8h0m0 14h0m0 4h0m0 17h0m0 7h0m0 4h0m0 12h0m0 13h0m0 15h0m0 4h0m0 4h0m0 4h0m0 12h0m1-132h0m0 14h0m0 17h0m0 25h0m0 10h0m0 3h0m0 6h0m0 1h0m0 21h0m0 4h0m1-98h0m0 38h0m0 1h0m0 0h0m0 32h0m0 3h0m0 19h0m0 12h0m0 4h0m0 11h0m1-133h0m0 9h0m0 7h0m0 50h0m0 7h0m0 4h0m0 8h0m0 20h0m0 3h0m1-93h0m0 21h0m0 3h0m0 2h0m0 8h0m0 16h0m0 2h0m0 8h0m0 1h0m0 5h0m0 2h0m0 5h0m0 6h0m0 46h0m1-100h0m0 7h0m0 3h0m0 8h0m0 1h0m0 8h0m0 5h0m0 1h0m0 5h0m0 5h0m0 13h0m0 2h0m0 20h0m0 12h0m1-122h0m0 11h0m0 4h0m0 0h0m0 3h0m0 4h0m0 3h0m0 1h0m0 10h0m0 1h0m0 8h0m0 2h0m0 8h0m0 1h0m0 9h0m0 10h0m0 0h0m0 2h0m0 5h0m0 10h0m0 5h0m0 18h0m1-106h0m0 46h0m0 2h0m0 5h0m0 17h0m0 9h0m0 3h0m0 3h0m0 11h0m0 24h0m0 0h0m0 2h0m1-120h0m0 5h0m0 13h0m0 6h0m0 6h0m0 12h0m0 8h0m0 20h0m0 0h0m0 36h0m0 5h0m0 0h0m0 1h0m1-108h0m0 9h0m0 0h0m0 1h0m0 11h0m0 6h0m0 8h0m0 16h0m0 25h0m0 9h0m0 19h0m1-146h0m0 9h0m0 7h0m0 28h0m0 6h0m0 9h0m0 7h0m0 14h0m0 4h0m0 7h0m0 9h0m0 20h0m0 3h0m0 14h0m0 4h0m0 3h0m1-123h0m0 20h0m0 2h0m0 16h0m0 7h0m0 3h0m0 6h0m0 2h0m0 2h0m0 4h0m0 1h0m0 1h0m0 4h0m0 9h0m0 0h0m0 1h0m0 7h0m0 14h0m0 2h0m0 1h0m0 9h0m0 4h0m0 0h0m0 3h0m0 3h0m0 2h0m1-83h0m0 2h0m0 15h0m0 2h0m0 3h0m0 9h0m0 5h0m0 5h0m0 1h0m0 3h0m0 2h0m0 2h0m0 7h0m0 3h0m0 7h0m0 15h0m1-121h0m0 10h0m0 4h0m0 7h0m0 1h0m0 9h0m0 7h0m0 8h0m0 3h0m0 4h0m0 3h0m0 1h0m0 7h0m0 2h0m0 1h0m0 3h0m0 0h0m0 5h0m0 1h0m0 2h0m0 7h0m0 2h0m0 2h0m0 2h0m0 8h0m0 19h0m0 5h0m0 0h0m1-71h0m0 13h0m0 10h0m0 15h0m0 3h0m0 11h0m0 1h0m1-98h0m0 21h0m0 15h0m0 10h0m0 2h0m0 7h0m0 7h0m0 16h0m0 3h0m0 5h0m0 0h0m0 10h0m0 11h0m0 1h0m0 16h0m0 0h0m1-144h0m0 4h0m0 22h0m0 10h0m0 22h0m0 2h0m0 4h0m0 4h0m0 7h0m0 21h0m0 6h0m0 49h0m1-189h0m0 61h0m0 23h0m0 1h0m0 13h0m0 2h0m0 7h0m0 54h0m1-134h0m0 32h0m0 12h0m0 28h0m0 0h0m0 0h0m0 14h0m0 6h0m0 3h0m0 4h0m0 0h0m0 7h0m0 39h0m1-84h0m0 2h0m0 5h0m0 18h0m0 9h0m0 5h0m0 18h0m0 4h0m0 18h0m1-106h0m0 4h0m0 2h0m0 7h0m0 12h0m0 22h0m0 15h0m0 3h0m0 12h0m0 8h0m0 22h0m1-103h0m0 12h0m0 4h0m0 36h0m0 35h0m1-97h0m0 2h0m0 15h0m0 14h0m0 9h0m0 2h0m0 3h0m0 6h0m0 4h0m0 4h0m0 9h0m0 3h0m0 10h0m0 6h0m0 3h0m0 15h0m1-104h0m0 17h0m0 34h0m0 4h0m0 4h0m0 4h0m0 6h0m1-81h0m0 21h0m0 22h0m0 2h0m0 12h0m0 17h0m0 46h0m1-123h0m0 45h0m0 6h0m0 14h0m0 31h0m0 15h0m0 7h0m1-131h0m0 41h0m0 8h0m0 3h0m0 1h0m0 2h0m0 5h0m0 8h0m0 29h0m0 4h0m1-75h0m0 13h0m0 2h0m0 1h0m0 2h0m0 3h0m0 5h0m0 2h0m0 9h0m0 2h0m0 22h0m0 2h0m0 13h0m0 14h0m1-92h0m0 7h0m0 19h0m0 2h0m0 9h0m0 5h0m0 10h0m0 37h0m0 2h0m0 0h0m0 6h0m0 33h0m1-136h0m0 18h0m0 20h0m0 1h0m0 10h0m0 1h0m0 13h0m0 0h0m0 1h0m0 58h0m1-121h0m0 16h0m0 0h0m0 22h0m0 1h0m0 9h0m0 6h0m0 2h0m0 3h0m0 10h0m0 14h0m0 3h0m0 10h0m0 35h0m1-137h0m0 10h0m0 7h0m0 14h0m0 35h0m0 13h0m0 42h0m1-76h0m0 28h0m0 3h0m0 2h0m0 27h0m0 12h0m0 12h0m1-160h0m0 62h0m0 18h0m0 2h0m0 18h0m0 9h0m1-85h0m0 24h0m0 11h0m0 0h0m0 5h0m0 4h0m0 7h0m0 4h0m0 4h0m0 14h0m0 13h0m0 3h0m0 21h0m0 10h0m1-119h0m0 20h0m0 11h0m0 11h0m0 9h0m0 5h0m0 19h0m0 23h0m0 13h0m0 8h0m1-122h0m0 3h0m0 27h0m0 2h0m0 12h0m0 16h0m0 8h0m0 0h0m0 3h0m0 7h0m1-73h0m0 22h0m0 18h0m0 4h0m0 26h0m0 8h0m0 3h0m0 7h0m0 11h0m1-101h0m0 20h0m0 19h0m0 2h0m0 11h0m0 17h0m0 23h0m0 10h0m0 5h0m1-134h0m0 36h0m0 20h0m0 0h0m0 13h0m0 3h0m0 26h0m0 5h0m0 8h0m0 18h0m1-82h0m0 70h0m0 4h0m0 0h0m1-107h0m0 28h0m0 12h0m0 40h0m0 14h0m0 26h0m1-54h0m0 11h0m0 2h0m0 4h0m0 10h0m0 6h0m0 12h0m1-79h0m0 40h0m0 1h0m0 8h0m0 2h0m0 10h0m0 30h0m1-142h0m0 45h0m0 7h0m0 32h0m0 16h0m0 4h0m0 6h0m0 33h0m1-116h0m0 7h0m0 42h0m0 12h0m0 11h0m1-46h0m0 8h0m0 2h0m0 4h0m0 31h0m0 2h0m0 3h0m0 44h0m1-72h0m0 4h0m0 22h0m0 10h0m0 2h0m1-54h0m0 24h0m0 33h0m0 6h0m1-97h0m0 18h0m0 9h0m0 65h0m0 8h0m1-28h0m0 43h0m0 22h0m1-97h0m0 4h0m0 44h0m1-95h0m0 121h0m1-109h0m0 40h0m0 1h0m1 9h0m0 11h0m1 23h0m0 30h0m1-84h0m0 7h0m0 25h0m0 22h0m1-81h0m0 83h0m1-18h0m1-37h0m0 33h0m0 17h0m1-10h0m1-127h0m0 91h0m1-6h0m1 37h0m0 11h0m1-50h0m1-5h0m0 18h0m0 33h0m0 29h0m1-49h0m2-35h0m0 53h0m1-23h0m3 1h0m1 31h0m1-43h0m0 37h0m1-66h0m2 38h0m0 47h0m2-67h0m0 18h0m2-35h0m5-34h0m3 31h0m5 36h0"/>
<path transform="scale(0.25)" stroke="#ff6414" stroke-opacity="0.5" stroke-width="3.8" stroke-linecap="square" fill="none" d="m2140 1014h0m0 38h0m3 29h0m4-22h0m1 1h0m0 25h0m2-33h0m0 7h0m3-18h0m1 8h0m1 4h0m0 27h0m1-77h0m1 18h0m0 18h0m0 17h0m1-38h0m0 24h0m0 9h0m0 9h0m0 1h0m1-42h0m0 10h0m0 37h0m1-48h0m0 4h0m1 17h0m0 17h0m2-27h0m0 14h0m0 23h0m0 8h0m1-87h0m0 43h0m1 4h0m0 50h0m1-57h0m0 7h0m0 36h0m1-62h0m0 3h0m0 46h0m0 16h0m0 2h0m1-80h0m0 9h0m0 6h0m0 30h0m1-49h0m0 18h0m0 12h0m0 2h0m0 10h0m0 7h0m0 10h0m0 1h0m0 4h0m0 1h0m0 24h0m1-92h0m0 24h0m0 2h0m0 5h0m0 8h0m0 24h0m1-71h0m0 34h0m0 15h0m0 6h0m0 7h0m0 3h0m0 11h0m0 8h0m1-63h0m0 4h0m0 7h0m0 2h0m0 37h0m0 10h0m1-55h0m0 17h0m0 1h0m0 14h0m0 11h0m1-33h0m0 0h0m0 7h0m0 5h0m0 5h0m0 11h0m0 3h0m0 17h0m0 1h0m0 6h0m1-78h0m0 14h0m0 6h0m0 3h0m0 0h0m0 9h0m0 2h0m0 10h0m0 1h0m0 10h0m1-40h0m0 25h0m0 5h0m0 17h0m0 14h0m1-70h0m0 22h0m0 8h0m0 3h0m0 4h0m0 4h0m0 3h0m0 0h0m0 23h0m0 25h0m1-94h0m0 10h0m0 4h0m0 9h0m0 1h0m0 8h0m0 2h0m0 4h0m0 8h0m0 4h0m0 7h0m1-90h0m0 44h0m0 0h0m0 5h0m0 9h0m0 2h0m0 6h0m0 10h0m0 0h0m0 20h0m0 2h0m1-33h0m0 4h0m0 2h0m0 5h0m0 2h0m0 4h0m0 3h0m0 4h0m1-53h0m0 7h0m0 8h0m0 7h0m0 5h0m0 5h0m0 16h0m0 9h0m0 13h0m1-64h0m0 8h0m0 7h0m0 18h0m0 11h0m0 23h0m0 11h0m1-89h0m0 16h0m0 4h0m0 4h0m0 0h0m0 6h0m0 4h0m0 7h0m0 2h0m0 3h0m0 10h0m1-43h0m0 1h0m0 3h0m0 6h0m0 4h0m0 1h0m0 2h0m0 1h0m0 5h0m0 5h0m0 0h0m0 1h0m0 1h0m0 0h0m0 2h0m0 10h0m0 1h0m0 9h0m0 2h0m1-77h0m0 16h0m0 5h0m0 8h0m0 1h0m0 3h0m0 2h0m0 5h0m0 5h0m0 0h0m0 3h0m0 2h0m0 5h0m0 1h0m0 4h0m0 4h0m0 2h0m0 6h0m0 5h0m0 1h0m0 3h0m1-51h0m0 8h0m0 0h0m0 7h0m0 7h0m0 1h0m0 0h0m0 13h0m0 7h0m1-68h0m0 7h0m0 5h0m0 3h0m0 13h0m0 1h0m0 3h0m0 9h0m0 1h0m0 5h0m0 16h0m1-65h0m0 14h0m0 3h0m0 6h0m0 3h0m0 1h0m0 10h0m0 5h0m0 3h0m0 5h0m0 6h0m0 2h0m0 6h0m1-56h0m0 6h0m0 5h0m0 4h0m0 6h0m0 1h0m0 1h0m0 3h0m0 4h0m0 5h0m0 2h0m0 0h0m0 11h0m0 11h0m1-73h0m0 6h0m0 4h0m0 9h0m0 6h0m0 15h0m0 5h0m0 5h0m0 0h0m0 1h0m0 1h0m0 1h0m0 8h0m0 4h0m0 3h0m0 2h0m1-91h0m0 37h0m0 2h0m0 4h0m0 0h0m0 9h0m0 17h0m0 21h0m0 2h0m0 21h0m1-85h0m0 1h0m0 1h0m0 0h0m0 5h0m0 1h0m0 10h0m0 17h0m0 1h0m0 5h0m0 5h0m0 2h0m0 4h0m0 1h0m0 5h0m1-77h0m0 19h0m0 10h0m0 2h0m0 13h0m0 4h0m0 1h0m0 12h0m0 26h0m1-92h0m0 3h0m0 21h0m0 4h0m0 1h0m0 10h0m0 4h0m0 4h0m0 4h0m0 19h0m0 1h0m0 6h0m0 19h0m1-74h0m0 4h0m0 9h0m0 10h0m0 4h0m0 3h0m0 3h0m0 3h0m0 2h0m0 6h0m0 1h0m0 1h0m0 1h0m0 9h0m0 1h0m0 1h0m0 2h0m0 0h0m1-69h0m0 1h0m0 20h0m0 8h0m0 1h0m0 6h0m0 13h0m0 8h0m0 4h0m0 2h0m0 4h0m0 11h0m0 1h0m1-74h0m0 2h0m0 5h0m0 3h0m0 9h0m0 4h0m0 1h0m0 1h0m0 6h0m0 1h0m0 13h0m0 4h0m0 5h0m0 7h0m0 6h0m0 8h0m1-70h0m0 24h0m0 2h0m0 1h0m0 1h0m0 2h0m0 5h0m0 4h0m0 3h0m0 3h0m0 2h0m0 9h0m0 4h0m0 15h0m1-84h0m0 19h0m0 3h0m0 6h0m0 4h0m0 2h0m0 1h0m0 4h0m0 12h0m0 0h0m0 7h0m1-66h0m0 18h0m0 12h0m0 5h0m0 21h0m0 0h0m0 1h0m0 1h0m0 8h0m0 32h0m1-81h0m0 15h0m0 4h0m0 1h0m0 1h0m0 4h0m0 5h0m0 1h0m0 3h0m0 9h0m0 1h0m0 10h0m1-65h0m0 7h0m0 1h0m0 1h0m0 1h0m0 26h0m0 5h0m0 0h0m0 9h0m0 2h0m0 17h0m0 20h0m1-78h0m0 1h0m0 7h0m0 3h0m0 17h0m0 13h0m0 9h0m0 18h0m1-85h0m0 8h0m0 12h0m0 7h0m0 6h0m0 3h0m0 2h0m0 0h0m0 3h0m0 4h0m0 9h0m0 1h0m0 2h0m0 18h0m0 17h0m1-86h0m0 7h0m0 15h0m0 8h0m0 1h0m0 1h0m0 10h0m0 5h0m0 2h0m1-40h0m0 0h0m0 8h0m0 9h0m0 3h0m0 4h0m0 7h0m0 5h0m0 0h0m0 10h0m0 20h0m0 3h0m1-103h0m0 27h0m0 18h0m0 8h0m0 2h0m0 5h0m0 1h0m0 3h0m0 1h0m0 1h0m0 5h0m0 1h0m0 0h0m0 2h0m0 0h0m0 1h0m1-11h0m0 5h0m0 15h0m0 18h0m1-67h0m0 6h0m0 1h0m0 6h0m0 10h0m0 2h0m0 9h0m0 17h0m0 5h0m0 11h0m1-49h0m0 0h0m0 6h0m0 10h0m0 8h0m0 5h0m0 2h0m0 6h0m0 2h0m0 8h0m1-59h0m0 12h0m0 6h0m0 3h0m0 13h0m0 9h0m1-75h0m0 35h0m0 29h0m0 8h0m0 12h0m1-56h0m0 6h0m0 9h0m0 6h0m0 11h0m0 4h0m1-26h0m0 4h0m1-9h0m0 9h0m0 5h0m0 10h0m0 4h0m0 18h0m0 14h0m1-71h0m0 11h0m0 0h0m0 11h0m0 3h0m0 4h0m0 7h0m0 9h0m0 4h0m1-70h0m0 11h0m0 24h0m0 22h0m0 4h0m1-66h0m0 26h0m0 8h0m0 2h0m0 2h0m0 9h0m0 14h0m0 8h0m0 13h0m1-35h0m0 13h0m0 0h0m1-39h0m0 20h0m0 25h0m0 17h0m0 2h0m0 6h0m2-54h0m0 8h0m0 30h0m1-37h0m0 15h0m1-54h0m0 59h0m2-21h0m0 13h0m0 10h0m1-22h0m0 3h0m0 2h0m1-4h0m1-34h0m0 19h0m1-5h0m1-3h0m1-12h0m0 44h0m2-6h0m1-15h0m0 27h0m6-21h0m2-4h0m1-13h0"/>
<polygon points="547.8,231 555,223 565.7,222.1 569.6,229.3 568.9,250.7 564.8,263.1 553.2,268.1 539.8,264.9 537.1,260.5 540.7,245.3" fill="none" stroke="#5a5a66" stroke-width="0.75" stroke-linejoin="round"/>
</g>
<text x="527" y="229.5" font-size="3.8" fill="#111" text-anchor="start" font-weight="normal" textLength="15.8" lengthAdjust="spacingAndGlyphs">CD90 high</text>
<clipPath id="k10"><rect x="588.5" y="196" width="91" height="78.5"/></clipPath><g clip-path="url(#k10)">
<path transform="scale(0.25)" stroke="#e4a8f0" stroke-opacity="0.5" stroke-width="3.6" stroke-linecap="square" fill="none" d="m2620 881h0m0 19h0m2-11h0m1 14h0m1 5h0m1 0h0m0 1h0m1-22h0m0 1h0m0 30h0m1-24h0m2-16h0m0 29h0m1-1h0m2-22h0m0 23h0m0 7h0m0 15h0m0 0h0m1-35h0m1-1h0m0 8h0m0 33h0m1-47h0m0 13h0m0 18h0m1-12h0m0 7h0m1-33h0m0 9h0m0 2h0m0 31h0m1-59h0m0 30h0m0 16h0m0 12h0m1-49h0m0 3h0m0 10h0m0 20h0m0 4h0m0 24h0m1-14h0m1-38h0m0 1h0m0 24h0m0 18h0m1-23h0m0 6h0m0 5h0m0 8h0m0 2h0m1-62h0m0 76h0m1-70h0m0 30h0m0 3h0m0 6h0m1-35h0m0 12h0m0 11h0m0 1h0m0 4h0m0 11h0m0 5h0m0 4h0m0 20h0m1-62h0m0 1h0m0 1h0m0 12h0m1 14h0m0 4h0m0 2h0m0 1h0m0 13h0m1-46h0m0 4h0m0 12h0m0 1h0m0 2h0m0 28h0m0 1h0m0 4h0m1-81h0m0 47h0m0 6h0m0 3h0m0 24h0m1-71h0m0 6h0m0 12h0m0 18h0m0 28h0m0 9h0m0 8h0m1-50h0m0 5h0m0 32h0m0 8h0m0 10h0m1-96h0m0 35h0m0 8h0m0 14h0m0 3h0m0 14h0m0 3h0m1-52h0m0 18h0m0 31h0m1-18h0m0 2h0m1-63h0m0 16h0m0 27h0m0 1h0m0 13h0m0 17h0m1-66h0m0 15h0m0 53h0m0 1h0m0 10h0m1-96h0m0 11h0m0 1h0m0 30h0m0 15h0m0 11h0m0 13h0m0 6h0m1-87h0m0 47h0m0 17h0m0 10h0m0 4h0m0 13h0m0 8h0m0 5h0m1-46h0m0 11h0m0 1h0m0 13h0m0 48h0m1-99h0m0 7h0m0 12h0m0 13h0m0 3h0m0 10h0m0 24h0m0 2h0m0 4h0m1-80h0m0 1h0m0 7h0m0 0h0m0 20h0m0 1h0m0 10h0m0 18h0m1-74h0m0 6h0m0 17h0m0 21h0m0 4h0m0 9h0m0 49h0m1-67h0m0 19h0m0 0h0m0 4h0m0 17h0m1-67h0m0 10h0m0 27h0m0 3h0m0 2h0m0 2h0m0 7h0m0 16h0m1-71h0m0 1h0m0 8h0m0 23h0m0 6h0m0 4h0m0 42h0m1-93h0m0 19h0m0 4h0m0 2h0m0 2h0m0 18h0m0 0h0m0 5h0m0 11h0m0 26h0m0 1h0m1-62h0m0 2h0m0 1h0m0 1h0m0 14h0m0 5h0m0 7h0m0 20h0m0 9h0m0 3h0m1-62h0m0 15h0m0 3h0m0 2h0m0 23h0m0 26h0m0 3h0m1-91h0m0 1h0m0 23h0m0 19h0m0 3h0m0 48h0m0 5h0m1-93h0m0 7h0m0 14h0m0 5h0m0 1h0m0 8h0m0 4h0m0 1h0m0 6h0m0 9h0m0 1h0m0 19h0m1-78h0m0 31h0m0 6h0m0 0h0m0 33h0m0 3h0m1-57h0m0 16h0m0 11h0m0 0h0m0 5h0m0 4h0m0 5h0m0 38h0m1-101h0m0 6h0m0 25h0m0 9h0m0 10h0m0 10h0m0 5h0m0 12h0m0 10h0m1-74h0m0 2h0m0 7h0m0 13h0m0 5h0m0 4h0m0 3h0m0 0h0m0 9h0m0 5h0m0 9h0m1-71h0m0 11h0m0 3h0m0 7h0m0 24h0m0 2h0m0 5h0m0 11h0m0 22h0m0 11h0m1-69h0m0 22h0m0 26h0m0 16h0m0 6h0m0 0h0m1-93h0m0 16h0m0 12h0m0 10h0m0 12h0m0 19h0m1-76h0m0 14h0m0 14h0m0 36h0m0 11h0m0 11h0m0 5h0m0 15h0m1-67h0m0 28h0m0 5h0m0 2h0m0 6h0m1-73h0m0 25h0m0 24h0m0 1h0m0 3h0m0 4h0m0 6h0m0 19h0m0 1h0m0 1h0m0 7h0m1-87h0m0 12h0m0 33h0m0 9h0m0 4h0m0 10h0m0 16h0m1-72h0m0 1h0m0 8h0m0 20h0m0 5h0m0 36h0m1-80h0m0 7h0m0 0h0m0 10h0m1-27h0m0 15h0m0 34h0m0 5h0m0 48h0m1-81h0m0 2h0m0 6h0m0 18h0m0 6h0m0 4h0m0 3h0m0 9h0m0 9h0m0 7h0m1-79h0m0 1h0m0 3h0m0 7h0m0 11h0m0 6h0m0 5h0m0 11h0m0 23h0m1-58h0m0 6h0m0 3h0m0 32h0m0 6h0m0 11h0m0 19h0m1-58h0m0 21h0m0 1h0m0 4h0m0 9h0m0 4h0m0 21h0m0 1h0m1-67h0m0 4h0m0 2h0m0 12h0m0 4h0m0 5h0m0 12h0m0 20h0m0 8h0m1-64h0m0 5h0m0 18h0m0 1h0m0 10h0m0 4h0m0 3h0m0 5h0m0 11h0m1-81h0m0 36h0m0 1h0m0 10h0m0 1h0m0 16h0m0 2h0m0 22h0m1-93h0m0 0h0m0 30h0m0 13h0m0 1h0m0 1h0m0 25h0m1-55h0m0 23h0m0 14h0m0 29h0m0 4h0m0 6h0m0 1h0m0 6h0m1-91h0m0 7h0m0 5h0m0 6h0m0 25h0m0 7h0m0 45h0m1-102h0m0 4h0m0 7h0m0 6h0m0 7h0m0 10h0m0 10h0m0 14h0m0 13h0m0 18h0m0 2h0m1-95h0m0 22h0m0 10h0m0 2h0m0 29h0m0 17h0m0 11h0m1-78h0m0 33h0m0 22h0m0 8h0m0 2h0m0 4h0m1-85h0m0 40h0m0 8h0m0 10h0m0 4h0m0 13h0m1-55h0m0 10h0m0 15h0m1-44h0m0 23h0m0 0h0m0 42h0m0 14h0m1-62h0m0 36h0m0 9h0m1-59h0m0 29h0m0 3h0m0 27h0m0 3h0m0 1h0m0 8h0m1-40h0m0 23h0m0 1h0m0 1h0m0 2h0m1-38h0m0 13h0m0 1h0m0 30h0m1-55h0m0 13h0m0 2h0m0 12h0m0 24h0m0 3h0m1-50h0m0 26h0m0 14h0m0 1h0m0 14h0m0 22h0m0 6h0m0 6h0m1-82h0m0 12h0m0 33h0m0 2h0m0 14h0m0 4h0m1-44h0m0 11h0m1-32h0m0 29h0m0 11h0m0 4h0m0 19h0m1-64h0m0 20h0m0 10h0m0 13h0m0 27h0m1-82h0m0 27h0m0 10h0m0 2h0m0 15h0m0 5h0m1-28h0"/>
<path transform="scale(0.25)" stroke="#c448ea" stroke-opacity="0.5" stroke-width="3.6" stroke-linecap="square" fill="none" d="m2622 879h0m1 3h0m0 24h0m1 6h0m2 1h0m1-6h0m0 1h0m2-42h0m0 3h0m0 20h0m0 2h0m0 13h0m0 13h0m1-34h0m0 0h0m0 8h0m0 5h0m1 0h0m0 6h0m1-28h0m1 13h0m0 10h0m0 21h0m1-51h0m0 5h0m0 30h0m1-15h0m0 19h0m0 14h0m1-52h0m0 24h0m0 1h0m0 9h0m0 3h0m0 2h0m0 25h0m1-55h0m0 44h0m1-49h0m0 7h0m1 8h0m0 3h0m0 14h0m0 7h0m0 1h0m1-46h0m0 12h0m0 7h0m0 14h0m0 5h0m0 9h0m1-25h0m0 32h0m0 7h0m1-45h0m0 9h0m0 13h0m1-11h0m0 2h0m0 3h0m0 5h0m0 2h0m0 7h0m0 23h0m1-64h0m0 7h0m0 2h0m0 5h0m0 6h0m0 24h0m1-39h0m0 4h0m0 14h0m0 5h0m1-12h0m0 5h0m0 3h0m0 3h0m1-20h0m0 1h0m0 2h0m0 11h0m0 7h0m0 2h0m0 5h0m0 5h0m0 6h0m0 2h0m1-51h0m0 55h0m0 6h0m1-57h0m0 4h0m0 13h0m0 27h0m0 16h0m1-61h0m0 15h0m0 8h0m0 3h0m0 4h0m0 9h0m0 1h0m0 32h0m1-52h0m0 7h0m0 0h0m0 5h0m0 11h0m1-24h0m0 11h0m0 17h0m0 8h0m0 2h0m1-79h0m0 7h0m0 7h0m0 7h0m0 3h0m0 11h0m0 29h0m0 9h0m1-68h0m0 19h0m0 5h0m0 10h0m0 6h0m0 11h0m0 4h0m0 0h0m0 0h0m0 1h0m0 3h0m0 3h0m1-33h0m0 4h0m0 2h0m0 17h0m0 42h0m1-66h0m0 13h0m0 5h0m0 9h0m0 5h0m1-53h0m0 2h0m0 12h0m0 12h0m0 17h0m0 16h0m0 25h0m1-57h0m0 23h0m0 15h0m1-68h0m0 16h0m0 0h0m0 5h0m0 7h0m0 2h0m0 4h0m0 14h0m0 18h0m1-48h0m0 7h0m0 5h0m0 2h0m0 4h0m0 14h0m0 12h0m1-41h0m0 12h0m0 8h0m0 6h0m0 3h0m0 31h0m1-63h0m0 4h0m0 13h0m0 2h0m0 8h0m0 6h0m0 16h0m0 3h0m1-63h0m0 13h0m0 4h0m0 1h0m0 6h0m0 4h0m0 0h0m0 7h0m0 0h0m0 1h0m0 4h0m0 0h0m0 1h0m0 20h0m0 9h0m0 1h0m1-72h0m0 0h0m0 14h0m0 31h0m0 43h0m1-98h0m0 9h0m0 12h0m0 3h0m0 13h0m0 6h0m0 1h0m0 20h0m0 2h0m0 11h0m0 15h0m1-86h0m0 0h0m0 8h0m0 9h0m0 16h0m0 1h0m0 1h0m0 2h0m0 3h0m0 4h0m0 4h0m0 15h0m0 2h0m1-65h0m0 6h0m0 5h0m0 15h0m0 9h0m0 1h0m0 1h0m0 1h0m0 2h0m0 8h0m0 1h0m0 6h0m0 23h0m0 3h0m1-97h0m0 6h0m0 6h0m0 5h0m0 2h0m0 5h0m0 3h0m0 1h0m0 2h0m0 13h0m0 20h0m0 30h0m1-68h0m0 3h0m0 9h0m0 8h0m0 3h0m0 2h0m0 4h0m0 6h0m0 1h0m0 2h0m0 1h0m0 7h0m0 2h0m0 3h0m0 31h0m1-96h0m0 25h0m0 11h0m0 2h0m0 0h0m0 20h0m0 0h0m0 11h0m0 1h0m0 6h0m0 1h0m0 2h0m0 2h0m1-77h0m0 10h0m0 14h0m0 7h0m0 4h0m0 5h0m0 1h0m0 1h0m0 7h0m0 0h0m0 10h0m0 5h0m0 6h0m1-54h0m0 15h0m0 7h0m0 12h0m0 5h0m0 12h0m0 0h0m0 3h0m0 5h0m1-82h0m0 19h0m0 0h0m0 7h0m0 1h0m0 7h0m0 8h0m0 1h0m0 5h0m0 19h0m0 9h0m0 7h0m1-93h0m0 14h0m0 10h0m0 3h0m0 16h0m0 12h0m0 0h0m0 9h0m0 41h0m1-74h0m0 9h0m0 3h0m0 8h0m0 3h0m0 14h0m0 1h0m0 4h0m0 3h0m0 8h0m1-66h0m0 17h0m0 4h0m0 2h0m0 1h0m0 11h0m0 1h0m0 8h0m0 7h0m1-39h0m0 12h0m0 3h0m0 3h0m0 6h0m0 0h0m0 4h0m0 3h0m0 5h0m0 4h0m0 12h0m1-62h0m0 4h0m0 4h0m0 16h0m0 13h0m0 2h0m0 5h0m0 3h0m0 23h0m0 1h0m1-68h0m0 2h0m0 1h0m0 20h0m0 13h0m0 3h0m0 1h0m0 1h0m0 0h0m0 1h0m0 1h0m0 3h0m0 2h0m0 13h0m0 1h0m1-84h0m0 27h0m0 9h0m0 4h0m0 5h0m0 3h0m0 5h0m0 3h0m0 9h0m0 4h0m0 0h0m0 0h0m0 1h0m0 1h0m0 5h0m0 1h0m0 5h0m0 4h0m1-74h0m0 0h0m0 3h0m0 13h0m0 4h0m0 14h0m0 0h0m0 1h0m0 10h0m0 12h0m0 5h0m1-71h0m0 1h0m0 16h0m0 5h0m0 8h0m0 12h0m0 0h0m0 5h0m0 0h0m0 2h0m0 4h0m0 11h0m0 1h0m0 5h0m0 2h0m0 9h0m1-69h0m0 26h0m0 1h0m0 2h0m0 15h0m0 3h0m0 9h0m0 1h0m0 6h0m1-62h0m0 7h0m0 8h0m0 13h0m0 1h0m0 8h0m0 0h0m0 9h0m0 14h0m0 6h0m1-80h0m0 42h0m0 3h0m0 11h0m0 10h0m0 0h0m0 23h0m0 7h0m0 12h0m1-115h0m0 9h0m0 2h0m0 4h0m0 4h0m0 1h0m0 11h0m0 3h0m0 19h0m0 4h0m0 12h0m0 1h0m0 1h0m0 4h0m0 1h0m0 11h0m0 10h0m1-68h0m0 12h0m0 56h0m1-78h0m0 22h0m0 0h0m0 8h0m0 0h0m0 11h0m0 17h0m0 2h0m0 6h0m0 3h0m0 1h0m0 5h0m1-59h0m0 16h0m0 9h0m0 3h0m0 3h0m0 3h0m0 3h0m0 5h0m0 3h0m0 11h0m0 1h0m0 2h0m0 1h0m1-66h0m0 8h0m0 7h0m0 2h0m0 1h0m0 4h0m0 1h0m0 15h0m0 47h0m1-85h0m0 3h0m0 5h0m0 0h0m0 15h0m0 16h0m0 4h0m0 0h0m1-68h0m0 28h0m0 3h0m0 7h0m0 8h0m0 7h0m0 2h0m0 4h0m0 2h0m0 6h0m0 2h0m0 4h0m0 22h0m0 9h0m1-104h0m0 20h0m0 27h0m0 1h0m0 7h0m0 8h0m0 9h0m0 2h0m0 4h0m0 2h0m0 5h0m0 1h0m1-72h0m0 11h0m0 5h0m0 10h0m0 2h0m0 5h0m0 6h0m0 0h0m0 9h0m0 3h0m1-37h0m0 9h0m0 4h0m0 12h0m0 7h0m0 2h0m0 26h0m1-79h0m0 7h0m0 12h0m0 4h0m0 9h0m0 16h0m0 15h0m0 0h0m0 3h0m1-16h0m0 9h0m0 4h0m0 2h0m0 2h0m0 4h0m0 12h0m0 4h0m0 2h0m1-85h0m0 9h0m0 42h0m0 1h0m0 13h0m0 8h0m0 6h0m0 1h0m1-85h0m0 4h0m0 18h0m0 3h0m0 13h0m0 14h0m0 0h0m0 19h0m0 0h0m0 9h0m1-70h0m0 18h0m0 6h0m0 7h0m0 0h0m0 4h0m0 10h0m0 16h0m0 11h0m1-51h0m0 4h0m0 1h0m0 1h0m0 1h0m0 12h0m0 1h0m0 7h0m0 2h0m0 13h0m1-67h0m0 5h0m0 31h0m0 15h0m1-51h0m0 21h0m0 6h0m0 5h0m0 23h0m0 1h0m1-26h0m0 13h0m0 9h0m1-21h0m0 16h0m0 2h0m0 6h0m0 6h0m1-22h0m0 8h0m0 4h0m0 16h0m1-57h0m0 13h0m0 14h0m0 22h0m0 6h0m1-26h0m0 32h0m0 2h0m1-54h0m0 5h0m0 46h0m0 12h0m1-22h0m1-48h0m0 4h0m1-1h0m0 21h0m0 15h0"/>
<path transform="scale(0.25)" stroke="#b830e4" stroke-opacity="0.55" stroke-width="3.6" stroke-linecap="square" fill="none" d="m2643 895h0m0 21h0m1-45h0m3-2h0m1 22h0m1 12h0m1-23h0m0 12h0m1-22h0m0 48h0m3-42h0m0 32h0m1-12h0m0 2h0m0 1h0m0 2h0m0 3h0m0 5h0m0 1h0m1-28h0m0 4h0m0 14h0m0 8h0m0 7h0m1-41h0m0 3h0m0 15h0m0 2h0m0 7h0m0 3h0m1-31h0m0 7h0m0 7h0m0 13h0m0 1h0m0 1h0m0 4h0m0 8h0m0 8h0m0 3h0m1-48h0m0 1h0m0 9h0m0 10h0m0 2h0m0 0h0m0 4h0m0 2h0m0 7h0m1-34h0m0 8h0m0 0h0m0 4h0m0 0h0m0 3h0m0 2h0m0 7h0m1-38h0m0 15h0m0 0h0m0 4h0m0 2h0m0 8h0m0 3h0m0 3h0m0 2h0m0 3h0m0 9h0m0 8h0m1-35h0m0 4h0m0 6h0m0 2h0m0 4h0m0 2h0m0 3h0m0 4h0m1-41h0m0 3h0m0 3h0m0 5h0m0 5h0m0 2h0m0 2h0m0 26h0m0 3h0m1-50h0m0 8h0m0 10h0m0 5h0m0 2h0m0 1h0m0 6h0m0 3h0m0 5h0m0 2h0m0 5h0m1-46h0m0 11h0m0 3h0m0 1h0m0 3h0m0 3h0m0 7h0m0 1h0m0 3h0m0 1h0m0 13h0m0 1h0m1-51h0m0 10h0m0 19h0m0 16h0m1-37h0m0 2h0m0 1h0m0 0h0m0 3h0m0 2h0m0 6h0m0 1h0m0 1h0m0 2h0m0 8h0m0 9h0m0 1h0m1-41h0m0 12h0m0 10h0m0 4h0m0 8h0m0 0h0m0 4h0m0 4h0m1-31h0m0 0h0m0 4h0m0 1h0m0 3h0m0 2h0m0 10h0m0 2h0m0 5h0m0 3h0m0 2h0m1-48h0m0 22h0m0 8h0m0 11h0m0 3h0m0 3h0m0 17h0m1-47h0m0 3h0m0 0h0m0 6h0m0 0h0m0 1h0m0 4h0m0 8h0m0 5h0m0 0h0m1-33h0m0 16h0m0 1h0m0 4h0m0 1h0m0 8h0m0 6h0m0 0h0m0 6h0m0 0h0m1-39h0m0 5h0m0 2h0m0 3h0m0 3h0m0 8h0m0 9h0m0 5h0m0 8h0m1-53h0m0 11h0m0 1h0m0 6h0m0 3h0m0 3h0m0 0h0m0 4h0m0 4h0m0 4h0m0 8h0m0 5h0m0 4h0m1-43h0m0 1h0m0 6h0m0 5h0m0 6h0m0 3h0m0 1h0m0 20h0m0 26h0m1-81h0m0 24h0m0 2h0m0 3h0m0 3h0m0 14h0m0 7h0m1-53h0m0 4h0m0 4h0m0 9h0m0 2h0m0 5h0m0 2h0m0 0h0m0 2h0m0 3h0m0 3h0m0 7h0m0 4h0m0 2h0m0 8h0m0 12h0m1-56h0m0 4h0m0 1h0m0 0h0m0 3h0m0 12h0m0 2h0m0 3h0m0 3h0m0 0h0m0 8h0m0 1h0m0 18h0m0 2h0m1-67h0m0 3h0m0 14h0m0 0h0m0 7h0m0 0h0m0 1h0m0 0h0m0 1h0m0 0h0m0 1h0m0 1h0m0 3h0m0 3h0m0 1h0m0 5h0m0 2h0m0 4h0m0 0h0m0 7h0m0 3h0m0 5h0m1-57h0m0 21h0m0 6h0m0 5h0m0 4h0m0 4h0m0 3h0m1-33h0m0 16h0m0 4h0m0 2h0m0 2h0m0 1h0m0 3h0m0 4h0m0 2h0m0 5h0m0 0h0m0 8h0m1-61h0m0 28h0m0 4h0m0 3h0m0 1h0m0 2h0m1-29h0m0 5h0m0 0h0m0 4h0m0 9h0m0 9h0m0 2h0m0 12h0m0 1h0m1-54h0m0 18h0m0 2h0m0 1h0m0 1h0m0 10h0m0 0h0m0 7h0m0 17h0m1-50h0m0 4h0m0 2h0m0 12h0m0 10h0m0 2h0m0 1h0m0 3h0m0 1h0m0 1h0m0 8h0m0 0h0m1-45h0m0 16h0m0 16h0m0 1h0m0 3h0m0 2h0m0 1h0m0 9h0m0 2h0m1-44h0m0 8h0m0 1h0m0 3h0m0 5h0m0 6h0m0 2h0m0 13h0m1-14h0m0 2h0m0 1h0m0 3h0m0 0h0m0 0h0m0 25h0m1-63h0m0 24h0m0 2h0m0 2h0m0 1h0m0 2h0m0 1h0m0 0h0m0 3h0m0 3h0m0 2h0m0 3h0m0 3h0m0 3h0m0 8h0m1-39h0m0 5h0m0 1h0m0 0h0m0 33h0m1-32h0m0 25h0m1-39h0m0 4h0m0 9h0m0 4h0m0 11h0m0 7h0m0 1h0m1-26h0m0 10h0m0 2h0m0 2h0m0 16h0m1-54h0m0 26h0m0 4h0m0 10h0m0 5h0m0 2h0m0 15h0m1-49h0m0 18h0m0 13h0m1-15h0m0 1h0m0 6h0m0 1h0m0 19h0m1-57h0m0 31h0m0 1h0m0 8h0m0 7h0m0 12h0m1-43h0m0 9h0m1-5h0m0 12h0m0 8h0m1 8h0m1-3h0m1-27h0m0 5h0m0 2h0m0 3h0m0 25h0m1-40h0m0 13h0m0 16h0m0 4h0m0 5h0m1-29h0m0 31h0m1-11h0m2 17h0m1-20h0m2 17h0"/>
<path transform="scale(0.25)" stroke="#8060e8" stroke-opacity="0.4" stroke-width="3.6" stroke-linecap="square" fill="none" d="m2629 891h0m7 12h0m1-16h0m4 15h0m1-35h0m2-6h0m3 18h0m0 14h0m1 2h0m1-20h0m0 14h0m4-3h0m1 5h0m1 11h0m2-27h0m0 44h0m1-15h0m1-48h0m2 37h0m1-40h0m0 41h0m1-16h0m1-4h0m0 1h0m0 48h0m0 15h0m1-53h0m1 28h0m1 11h0m1-14h0m0 8h0m2 19h0m2-18h0m1-46h0m0 13h0m0 18h0m0 2h0m0 9h0m0 6h0m0 27h0m1-78h0m0 11h0m1 8h0m0 36h0m0 5h0m1-69h0m0 4h0m0 32h0m4-38h0m0 33h0m0 11h0m0 28h0m1-47h0m0 6h0m1 22h0m0 5h0m2-23h0m0 11h0m1 6h0m0 14h0m1-29h0m0 15h0m3-12h0m0 7h0m0 1h0m1 8h0m1-11h0m0 20h0m0 16h0m1-50h0m0 1h0m0 1h0m0 3h0m0 8h0m1-30h0m0 29h0m0 10h0m1-26h0m0 19h0m1-25h0m0 23h0m0 4h0m1-46h0m0 19h0m1 15h0m1 10h0m0 2h0m1-32h0m0 22h0m0 19h0m1-63h0m0 22h0m0 5h0m0 7h0m1 14h0m1-44h0m0 23h0m0 51h0m2-21h0m0 12h0m0 8h0m2-32h0m0 0h0m1 30h0m1-24h0m1 1h0m1-24h0m0 9h0m1 22h0"/>
<path transform="scale(0.25)" stroke="#a818d8" stroke-opacity="0.45" stroke-width="3.6" stroke-linecap="square" fill="none" d="m2651 894h0m3 14h0m2-12h0m1-20h0m0 18h0m0 2h0m0 5h0m1 3h0m1-23h0m1-1h0m0 19h0m1-23h0m0 18h0m0 7h0m0 1h0m2-14h0m0 5h0m1 4h0m1-11h0m0 13h0m0 4h0m1-15h0m0 7h0m1-9h0m0 0h0m0 27h0m0 3h0m1-33h0m0 14h0m0 7h0m0 1h0m0 10h0m0 4h0m1-34h0m0 5h0m0 2h0m0 14h0m0 0h0m0 7h0m0 2h0m0 3h0m1-32h0m0 3h0m0 0h0m0 0h0m1-6h0m0 15h0m0 11h0m1-28h0m0 4h0m0 7h0m0 3h0m0 6h0m0 1h0m1-25h0m0 5h0m0 2h0m0 9h0m0 4h0m1-16h0m0 11h0m0 4h0m1 4h0m0 6h0m0 9h0m1-33h0m0 27h0m0 0h0m0 4h0m1-26h0m0 11h0m0 3h0m0 1h0m0 2h0m0 3h0m1-4h0m0 1h0m1-28h0m0 31h0m0 7h0m0 2h0m1-22h0m0 2h0m0 6h0m0 5h0m1-27h0m0 7h0m0 4h0m0 2h0m0 12h0m0 1h0m1-39h0m0 30h0m0 3h0m0 2h0m0 4h0m0 2h0m0 11h0m1-52h0m0 12h0m0 6h0m0 11h0m0 4h0m0 2h0m0 7h0m0 0h0m1-18h0m0 8h0m0 3h0m1-2h0m0 5h0m1-12h0m0 2h0m0 0h0m1-9h0m0 5h0m0 1h0m1-6h0m0 2h0m0 7h0m0 6h0m0 3h0m0 2h0m1-22h0m0 4h0m0 0h0m1-4h0m0 6h0m0 27h0m1-26h0m0 10h0m1 5h0m0 1h0m0 1h0m1-29h0m0 16h0m0 8h0m5 5h0m2-27h0m12 31h0"/>
<ellipse cx="669.5" cy="224" rx="15.5" ry="15.5" transform="rotate(-30 669.5 224)" fill="none" stroke="#5a5a66" stroke-width="0.75"/>
</g>
<text x="625" y="218" font-size="3.8" fill="#111" text-anchor="start" font-weight="normal" textLength="28" lengthAdjust="spacingAndGlyphs">CD73  CD105 high</text>
<rect x="584.6" y="275.4" width="2.4" height="1.8" fill="#2850c8"/>
<text x="586.5" y="282.3" font-size="3.0" fill="#4a60d8" text-anchor="start" font-weight="normal" textLength="5.5" lengthAdjust="spacingAndGlyphs">-118</text>
<path fill="#60a0f6" d="M250 149V144.2H251V146.1H252V146.1H253V146.6H254V146.7H255V146.6H256V146.7H257V145.6H258V145.9H259V144.4H260V145.8H261V144.9H262V145.2H263V142.5H264V143.3H265V142.2H266V141H267V138.9H268V137.7H269V139.4H270V135.8H271V137H272V137.3H273V138.6H274V135.8H275V136.4H276V132.9H277V136H278V132.1H279V133.9H280V134.5H281V130.4H282V131.1H283V126.3H284V128.7H285V131.5H286V132.1H287V131.6H288V124.3H289V129.2H290V127.6H291V125.3H292V128.1H293V123.5H294V125.4H295V127.2H296V127.5H297V126.7H298V126.9H299V124H300V125.2H301V125.3H302V124.5H303V122H304V124.1H305V124.8H306V125.8H307V124.8H308V126.9H309V130.3H310V127H311V129.6H312V127.2H313V130.4H314V127.5H315V125.9H316V124H317V122.1H318V125.5H319V126.9H320V127.5H321V125.1H322V134.5H323V132.6H324V131.1H325V128.4H326V131.7H327V133.6H328V133H329V131.5H330V128.7H331V125.9H332V129H333V128.6H334V130.9H335V128.5H336V126.8H337V129.8H338V131.4H339V132.1H340V131.8H341V131.3H342V136.4H343V135.4H344V129.3H345V130.9H346V129.2H347V135.3H348V136.2H349V133.4H350V134.9H351V133.9H352V136.3H353V137H354V137.4H355V133H356V139.4H357V138.5H358V139.3H359V141.1H360V142.3H361V139.9H362V142.7H363V140.5H364V139.2H365V140.2H366V139.9H367V138.5H368V138.9H369V141.7H370V138.9H371V139.4H372V138.3H373V139.6H374V140.1H375V139H376V140.9H377V141.6H378V142.1H379V142.9H380V143.2H381V141.9H382V145H383V143.6H384V141H385V144.2H386V144.5H387V144.6H388V145.6H389V146.9H390V146.4H391V146.6H392V146.8H393V147.6H394V147.9H395V147.6H396V147.4H397V147.6H398V144.1H399V148.3H400V148.5H401V145.1H402V148.4H403V148.5H404V148.4H405V148.3H406V148.6H407V148.7H408V147.5H409V148.7H410V148.8H411V149H412V149H413V149H414V149H415V149H416V149H417V149H418V149H419V149H420V149H421V149H422V149H423V149H424V149H425V149H426V149H427V149H428V149H429V149H430V149H431V149H432V149H433V149H434V149H435V149H436V149H437V149H438V149H439V149H440V149H441V149H442V149H443V149H444V149H445V149H446V149Z"/>
<rect x="249.3" y="122" width="1.4" height="27" fill="#60a0f6"/>
<line x1="316.5" y1="121.5" x2="316.5" y2="149.5" stroke="#555" stroke-width="0.7"/>
<line x1="249.5" y1="136.5" x2="316.5" y2="136.5" stroke="#555" stroke-width="0.7"/>
<text x="266.3" y="134" font-size="3.7" fill="#111" text-anchor="start" font-weight="normal" textLength="28.8" lengthAdjust="spacingAndGlyphs">neg lineage marker</text>
<path fill="#60a0f6" d="M485 149V149H486V148.9H487V146.4H488V148.3H489V147.8H490V146.6H491V146.9H492V146.5H493V145.7H494V145.9H495V144.6H496V144.1H497V142.7H498V142.7H499V142.1H500V143.3H501V142.8H502V143.5H503V142.6H504V142H505V143.1H506V141.7H507V142H508V140.6H509V138.9H510V140.1H511V137.3H512V137.4H513V134.2H514V135.4H515V134.4H516V131.8H517V130H518V127.8H519V130.6H520V129.4H521V128.3H522V125.6H523V127.7H524V124.1H525V122H526V122.1H527V124.3H528V122H529V124.1H530V122H531V123.8H532V123.8H533V126H534V126.7H535V128.7H536V127.5H537V126.5H538V126.7H539V129.6H540V130.7H541V130H542V131H543V133.9H544V132.3H545V136.2H546V139.7H547V140H548V140.3H549V141.4H550V140H551V140.5H552V141.2H553V141.9H554V141.5H555V141.9H556V141.9H557V143.2H558V143.4H559V144.1H560V145.3H561V145.4H562V146H563V146.4H564V146.4H565V146.3H566V146.2H567V146.4H568V146.9H569V146.9H570V147.3H571V147.6H572V147.4H573V146.9H574V147.4H575V148.1H576V147.8H577V147.9H578V148.3H579V148.2H580V146.1H581V145.7H582V147.7H583V147.5H584V148H585V147.7H586V147.9H587V148.1H588V148.3H589V148.4H590V148.4H591V148.6H592V148.4H593V148.7H594V148.6H595V148.3H596V146.6H597V148.4H598V148.5H599V148.6H600V148.6H601V148.5H602V148.6H603V148.3H604V146.7H605V148.5H606V148.5H607V148.7H608V148.7H609V148.6H610V148.6H611V148.6H612V148.7H613V148.7H614V148.9H615V148.9H616V148.9H617V149H618V148.9H619V147.6H620V149H621V148.9H622V149H623V149H624V149H625V149H626V149H627V149H628V149H629V149H630V149H631V149H632V149H633V149H634V149H635V149H636V149H637V149H638V149H639V149H640V149H641V149H642V149H643V149H644V149H645V149H646V149H647V149H648V149H649V149H650V149H651V149H652V149H653V149H654V149H655V149H656V149H657V149H658V149H659V149H660V149H661V149H662V149H663V149H664V149H665V149H666V149H667V149H668V149H669V149H670V149H671V149H672V149H673V149H674V149H675V149H676V149H677V149H678V149H679V149H680V149Z"/>
<rect x="484.3" y="122" width="1.4" height="27" fill="#60a0f6"/>
<line x1="560.5" y1="121.5" x2="560.5" y2="149.5" stroke="#555" stroke-width="0.7"/>
<line x1="484.5" y1="145.5" x2="560.5" y2="145.5" stroke="#555" stroke-width="0.7"/>
<text x="505.3" y="134" font-size="3.7" fill="#111" text-anchor="start" font-weight="normal" textLength="28.8" lengthAdjust="spacingAndGlyphs">neg lineage marker</text>
<path fill="#60a0f6" d="M17 321V320H18V319.8H19V319.6H20V319.6H21V319.6H22V319.8H23V319.6H24V319.5H25V319.2H26V319.7H27V319.6H28V319H29V318.9H30V319H31V318H32V316.7H33V314.8H34V315.3H35V313.8H36V314.2H37V314.6H38V313.7H39V312.5H40V310.6H41V311.9H42V312H43V313.3H44V308.6H45V308.6H46V306.7H47V306.8H48V307.3H49V305.8H50V304.7H51V304.7H52V304.3H53V303.5H54V302.4H55V299.8H56V299.2H57V297.9H58V298.6H59V299.7H60V300H61V299.3H62V298H63V296.4H64V296.6H65V297H66V295.9H67V295.8H68V295.9H69V294.7H70V296.4H71V295.4H72V295.5H73V298.4H74V295.5H75V296H76V295.9H77V294.5H78V295.6H79V296.6H80V295.9H81V296.5H82V297.1H83V296.9H84V298.2H85V298.6H86V301.9H87V301.9H88V300.8H89V303.7H90V301.9H91V301.4H92V303.3H93V304H94V299.8H95V300H96V304.4H97V302.9H98V305.6H99V308.2H100V308.9H101V304.3H102V307.5H103V307.7H104V310.6H105V310.2H106V311.4H107V310.3H108V312.7H109V312.8H110V313.5H111V313.3H112V315.2H113V313.6H114V316.9H115V316.5H116V316.9H117V317.9H118V318.2H119V318.7H120V319.3H121V320.1H122V320.6H123V320.3H124V320.4H125V320.4H126V320.6H127V320.6H128V320.7H129V320.8H130V320.7H131V320.7H132V320.7H133V319.8H134V320.9H135V321H136V320.9H137V321H138V321H139V321H140V321H141V321H142V321H143V321H144V321H145V321H146V321H147V321H148V321H149V321H150V321H151V321H152V321H153V321H154V321H155V321H156V321H157V321H158V321H159V321H160V321H161V321H162V321H163V321H164V321H165V321H166V321H167V321H168V321H169V321H170V321H171V321H172V321H173V321H174V321H175V321H176V321H177V321H178V321H179V321H180V321H181V321H182V321H183V321H184V321H185V321H186V321H187V321H188V321H189V321H190V321H191V321H192V321H193V321H194V321H195V321H196V321H197V321H198V321H199V321H200V321H201V321H202V321H203V321H204V321H205V321H206V321H207V321H208V321H209V321H210V321H211V321H212V321Z"/>
<rect x="16.3" y="294" width="1.4" height="27" fill="#60a0f6"/>
<line x1="89.5" y1="293.5" x2="89.5" y2="321.5" stroke="#555" stroke-width="0.7"/>
<line x1="16.5" y1="316.5" x2="89.5" y2="316.5" stroke="#555" stroke-width="0.7"/>
<text x="36" y="306" font-size="3.7" fill="#111" text-anchor="start" font-weight="normal" textLength="28.8" lengthAdjust="spacingAndGlyphs">neg lineage marker</text>
<path fill="#60a0f6" d="M251 321.5V320.3H252V320.4H253V320.3H254V320.7H255V320.1H256V320.2H257V320.3H258V320.1H259V319.9H260V319.9H261V319.9H262V320.1H263V320.2H264V320.2H265V320.1H266V319.4H267V319.3H268V317.9H269V317.5H270V316.3H271V316H272V316.2H273V315.7H274V315.1H275V313.4H276V313.4H277V312.7H278V313.7H279V312.9H280V312.5H281V311.4H282V312.3H283V311.3H284V308.5H285V306.5H286V303.8H287V302H288V303.8H289V305.1H290V303.9H291V302H292V303.1H293V300.6H294V299.1H295V299.6H296V296.4H297V296.4H298V295.2H299V296.5H300V299H301V295.9H302V295.4H303V296.4H304V296.3H305V294H306V294H307V295H308V296.9H309V299.2H310V300.9H311V299.9H312V299.4H313V299.3H314V301.8H315V305.3H316V306H317V307.5H318V308H319V308H320V310.3H321V311.1H322V312.4H323V315.2H324V315.3H325V317.2H326V318.8H327V319.4H328V318.9H329V319.3H330V318.5H331V318.5H332V319H333V319.8H334V319.6H335V319.9H336V319.6H337V320H338V319.6H339V319.2H340V319.8H341V319.8H342V319.7H343V320.2H344V320.6H345V320.6H346V320.8H347V320.9H348V321H349V320.8H350V320.7H351V320.7H352V320.5H353V320.7H354V320.8H355V320.9H356V320.8H357V321H358V321H359V321H360V320.7H361V320.9H362V320.9H363V321.1H364V321.1H365V321.3H366V321.3H367V321.3H368V321.5H369V321.5H370V321.5H371V321.3H372V321.5H373V321.5H374V321.5H375V321.5H376V321.5H377V321.5H378V321.5H379V321.4H380V321.5H381V321.5H382V321.5H383V321.5H384V321.5H385V321.5H386V321.4H387V321.5H388V321.5H389V321.4H390V321.4H391V321.5H392V321.5H393V321.5H394V321.5H395V321.5H396V321.5H397V321.5H398V321.5H399V321.5H400V321.5H401V321.5H402V321.5H403V321.5H404V321.5H405V321.4H406V321.4H407V321.5H408V321.5H409V321.5H410V321.5H411V321.5H412V321.4H413V321.5H414V321.5H415V321.5H416V321.5H417V321.5H418V321.5H419V321.5H420V321.5H421V321.5H422V321.5H423V321.3H424V321.4H425V321.4H426V321.5H427V321.5H428V321.5H429V321.5H430V321.4H431V321.5H432V321.5H433V321.5H434V321.5H435V321.5H436V321.5H437V321.5H438V321.5H439V321.5H440V321.4H441V321.5H442V321.5H443V321.5H444V321.4H445V321.5H446V321.5H447V321.5Z"/>
<rect x="250.3" y="294" width="1.4" height="27.5" fill="#60a0f6"/>
<line x1="326.5" y1="293.5" x2="326.5" y2="322" stroke="#555" stroke-width="0.7"/>
<line x1="250.5" y1="319.5" x2="326.5" y2="319.5" stroke="#555" stroke-width="0.7"/>
<text x="271" y="306.5" font-size="3.7" fill="#111" text-anchor="start" font-weight="normal" textLength="28.8" lengthAdjust="spacingAndGlyphs">neg lineage marker</text>
<path fill="#60a0f6" d="M483.5 321.5V320.4H484.5V320.7H485.5V320.3H486.5V320.3H487.5V320.6H488.5V320.2H489.5V320.3H490.5V320.5H491.5V320.3H492.5V320H493.5V319.9H494.5V320.3H495.5V319.9H496.5V319.7H497.5V319.7H498.5V319.8H499.5V319.5H500.5V319.6H501.5V319.7H502.5V318.4H503.5V318.5H504.5V318.6H505.5V317.4H506.5V316.8H507.5V316.8H508.5V316.6H509.5V315.4H510.5V314.6H511.5V315.2H512.5V315H513.5V314.8H514.5V313.6H515.5V313.2H516.5V314.1H517.5V314.1H518.5V312H519.5V313H520.5V313.7H521.5V310.8H522.5V311.4H523.5V313H524.5V311.4H525.5V311.8H526.5V309.1H527.5V307.2H528.5V306.4H529.5V304.8H530.5V303.2H531.5V302.6H532.5V300.8H533.5V300H534.5V298.2H535.5V297.9H536.5V296.1H537.5V296.4H538.5V295H539.5V296.6H540.5V298.3H541.5V297.8H542.5V297.3H543.5V295.8H544.5V296.7H545.5V296.8H546.5V296.7H547.5V297.1H548.5V298.4H549.5V298.2H550.5V298.9H551.5V301.5H552.5V301H553.5V302.5H554.5V303.3H555.5V305.3H556.5V306.9H557.5V306.9H558.5V307.2H559.5V306.5H560.5V308.3H561.5V308.4H562.5V309.2H563.5V307.8H564.5V310.2H565.5V310.4H566.5V311.5H567.5V313.4H568.5V312.2H569.5V312.4H570.5V312.9H571.5V313.5H572.5V311.2H573.5V312.8H574.5V310.7H575.5V311.8H576.5V312.9H577.5V314H578.5V314.4H579.5V312H580.5V312.5H581.5V312.4H582.5V315.4H583.5V316.4H584.5V315.7H585.5V316.4H586.5V316.3H587.5V316.4H588.5V316H589.5V316.2H590.5V316H591.5V316.8H592.5V316.8H593.5V318.1H594.5V318.3H595.5V318.3H596.5V317.7H597.5V317.3H598.5V317.9H599.5V318.7H600.5V319.4H601.5V318.9H602.5V319.1H603.5V319.1H604.5V319.3H605.5V319.5H606.5V318.4H607.5V319.9H608.5V320.2H609.5V320.4H610.5V320.2H611.5V320.2H612.5V320.2H613.5V320.4H614.5V320.6H615.5V320.9H616.5V321.2H617.5V321.2H618.5V321.2H619.5V321.3H620.5V321.4H621.5V321.5H622.5V321.5H623.5V321.5H624.5V321.5H625.5V321.5H626.5V321.5H627.5V321.5H628.5V321.5H629.5V321.5H630.5V321.5H631.5V321.5H632.5V321.5H633.5V321.5H634.5V321.5H635.5V321.5H636.5V321.5H637.5V321.5H638.5V321.5H639.5V321.5H640.5V321.5H641.5V321.5H642.5V321.5H643.5V321.5H644.5V321.5H645.5V321.5H646.5V321.5H647.5V321.5H648.5V321.5H649.5V321.5H650.5V321.5H651.5V321.5H652.5V321.5H653.5V321.5H654.5V321.5H655.5V321.5H656.5V321.5H657.5V321.5H658.5V321.5H659.5V321.5H660.5V321.5H661.5V321.5H662.5V321.5H663.5V321.5H664.5V321.5H665.5V321.5H666.5V321.5H667.5V321.5H668.5V321.5H669.5V321.5H670.5V321.5H671.5V321.5H672.5V321.5H673.5V321.5H674.5V321.5H675.5V321.5H676.5V321.5H677.5V321.5H678.5V321.5H679.5V321.5Z"/>
<rect x="482.8" y="294" width="1.4" height="27.5" fill="#60a0f6"/>
<line x1="497.5" y1="293.5" x2="497.5" y2="322" stroke="#555" stroke-width="0.7"/>
<line x1="567.5" y1="293.5" x2="567.5" y2="322" stroke="#555" stroke-width="0.7"/>
<line x1="497.5" y1="311.5" x2="567.5" y2="311.5" stroke="#555" stroke-width="0.7"/>
<text x="516.2" y="303.5" font-size="3.7" fill="#111" text-anchor="start" font-weight="normal" textLength="28.8" lengthAdjust="spacingAndGlyphs">neg lineage marker</text>
<path stroke="#333" stroke-width="0.75" fill="none" d="M13.5 101.5L15.5 101.5M14.3 98.5L15.5 98.5M14.3 95.5L15.5 95.5M14.3 92.6L15.5 92.6M14.3 89.6L15.5 89.6M13.5 86.6L15.5 86.6M14.3 83.6L15.5 83.6M14.3 80.7L15.5 80.7M14.3 77.7L15.5 77.7M14.3 74.7L15.5 74.7M13.5 71.7L15.5 71.7M14.3 68.8L15.5 68.8M14.3 65.8L15.5 65.8M14.3 62.8L15.5 62.8M14.3 59.8L15.5 59.8M13.5 56.9L15.5 56.9M14.3 53.9L15.5 53.9M14.3 50.9L15.5 50.9M14.3 47.9L15.5 47.9M14.3 45L15.5 45M13.5 42L15.5 42M14.3 39L15.5 39M14.3 36L15.5 36M14.3 33.1L15.5 33.1M14.3 30.1L15.5 30.1M13.5 27.1L15.5 27.1M14.3 24.1L15.5 24.1M15.5 101.5L15.5 103.5M18.9 101.5L18.9 102.7M22.4 101.5L22.4 102.7M25.8 101.5L25.8 102.7M29.2 101.5L29.2 102.7M32.7 101.5L32.7 103.5M36.1 101.5L36.1 102.7M39.5 101.5L39.5 102.7M43 101.5L43 102.7M46.4 101.5L46.4 102.7M49.8 101.5L49.8 103.5M53.3 101.5L53.3 102.7M56.7 101.5L56.7 102.7M60.1 101.5L60.1 102.7M63.6 101.5L63.6 102.7M67 101.5L67 103.5M70.4 101.5L70.4 102.7M73.9 101.5L73.9 102.7M77.3 101.5L77.3 102.7M80.7 101.5L80.7 102.7M84.2 101.5L84.2 103.5M87.6 101.5L87.6 102.7M91 101.5L91 102.7M94.5 101.5L94.5 102.7M97.9 101.5L97.9 102.7M101.3 101.5L101.3 103.5M104.8 101.5L104.8 102.7M118.5 101.5L120.5 101.5M119.3 98.5L120.5 98.5M119.3 95.5L120.5 95.5M119.3 92.6L120.5 92.6M119.3 89.6L120.5 89.6M118.5 86.6L120.5 86.6M119.3 83.6L120.5 83.6M119.3 80.7L120.5 80.7M119.3 77.7L120.5 77.7M119.3 74.7L120.5 74.7M118.5 71.7L120.5 71.7M119.3 68.8L120.5 68.8M119.3 65.8L120.5 65.8M119.3 62.8L120.5 62.8M119.3 59.8L120.5 59.8M118.5 56.9L120.5 56.9M119.3 53.9L120.5 53.9M119.3 50.9L120.5 50.9M119.3 47.9L120.5 47.9M119.3 45L120.5 45M118.5 42L120.5 42M119.3 39L120.5 39M119.3 36L120.5 36M119.3 33.1L120.5 33.1M119.3 30.1L120.5 30.1M118.5 27.1L120.5 27.1M119.3 24.1L120.5 24.1M120.5 101.5L120.5 103.5M123.9 101.5L123.9 102.7M127.4 101.5L127.4 102.7M130.8 101.5L130.8 102.7M134.2 101.5L134.2 102.7M137.7 101.5L137.7 103.5M141.1 101.5L141.1 102.7M144.5 101.5L144.5 102.7M148 101.5L148 102.7M151.4 101.5L151.4 102.7M154.8 101.5L154.8 103.5M158.3 101.5L158.3 102.7M161.7 101.5L161.7 102.7M165.1 101.5L165.1 102.7M168.6 101.5L168.6 102.7M172 101.5L172 103.5M175.4 101.5L175.4 102.7M178.9 101.5L178.9 102.7M182.3 101.5L182.3 102.7M185.7 101.5L185.7 102.7M189.2 101.5L189.2 103.5M192.6 101.5L192.6 102.7M196 101.5L196 102.7M199.5 101.5L199.5 102.7M202.9 101.5L202.9 102.7M206.3 101.5L206.3 103.5M209.8 101.5L209.8 102.7M247.5 101.5L249.5 101.5M248.3 98.5L249.5 98.5M248.3 95.5L249.5 95.5M248.3 92.6L249.5 92.6M248.3 89.6L249.5 89.6M247.5 86.6L249.5 86.6M248.3 83.6L249.5 83.6M248.3 80.7L249.5 80.7M248.3 77.7L249.5 77.7M248.3 74.7L249.5 74.7M247.5 71.7L249.5 71.7M248.3 68.8L249.5 68.8M248.3 65.8L249.5 65.8M248.3 62.8L249.5 62.8M248.3 59.8L249.5 59.8M247.5 56.9L249.5 56.9M248.3 53.9L249.5 53.9M248.3 50.9L249.5 50.9M248.3 47.9L249.5 47.9M248.3 45L249.5 45M247.5 42L249.5 42M248.3 39L249.5 39M248.3 36L249.5 36M248.3 33.1L249.5 33.1M248.3 30.1L249.5 30.1M247.5 27.1L249.5 27.1M248.3 24.1L249.5 24.1M263.1 101.5L263.1 103.5M269.9 101.5L269.9 102.7M273.9 101.5L273.9 102.7M276.7 101.5L276.7 102.7M278.9 101.5L278.9 102.7M280.7 101.5L280.7 102.7M282.2 101.5L282.2 102.7M283.5 101.5L283.5 102.7M284.7 101.5L284.7 102.7M285.7 101.5L285.7 103.5M292.5 101.5L292.5 102.7M296.5 101.5L296.5 102.7M299.3 101.5L299.3 102.7M301.5 101.5L301.5 102.7M303.3 101.5L303.3 102.7M304.8 101.5L304.8 102.7M306.2 101.5L306.2 102.7M307.3 101.5L307.3 102.7M308.4 101.5L308.4 103.5M315.2 101.5L315.2 102.7M319.2 101.5L319.2 102.7M322 101.5L322 102.7M324.2 101.5L324.2 102.7M326 101.5L326 102.7M327.5 101.5L327.5 102.7M328.8 101.5L328.8 102.7M330 101.5L330 102.7M331 101.5L331 103.5M337.8 101.5L337.8 102.7M357 101.5L357 103.5M363 101.5L363 102.7M366.5 101.5L366.5 102.7M369 101.5L369 102.7M371 101.5L371 102.7M372.6 101.5L372.6 102.7M373.9 101.5L373.9 102.7M375.1 101.5L375.1 102.7M376.1 101.5L376.1 102.7M377 101.5L377 103.5M383 101.5L383 102.7M386.5 101.5L386.5 102.7M389 101.5L389 102.7M391 101.5L391 102.7M392.6 101.5L392.6 102.7M393.9 101.5L393.9 102.7M395.1 101.5L395.1 102.7M396.1 101.5L396.1 102.7M397 101.5L397 103.5M403 101.5L403 102.7M406.5 101.5L406.5 102.7M409 101.5L409 102.7M411 101.5L411 102.7M412.6 101.5L412.6 102.7M413.9 101.5L413.9 102.7M415.1 101.5L415.1 102.7M416.1 101.5L416.1 102.7M417 101.5L417 103.5M423 101.5L423 102.7M426.5 101.5L426.5 102.7M429 101.5L429 102.7M431 101.5L431 102.7M432.6 101.5L432.6 102.7M433.9 101.5L433.9 102.7M435.1 101.5L435.1 102.7M436.1 101.5L436.1 102.7M437 101.5L437 103.5M443 101.5L443 102.7M352.5 91.1L354.5 91.1M353.3 86.6L354.5 86.6M353.3 83.9L354.5 83.9M353.3 82L354.5 82M353.3 80.5L354.5 80.5M353.3 79.3L354.5 79.3M353.3 78.3L354.5 78.3M353.3 77.5L354.5 77.5M353.3 76.7L354.5 76.7M352.5 76L354.5 76M353.3 71.5L354.5 71.5M353.3 68.8L354.5 68.8M353.3 66.9L354.5 66.9M353.3 65.4L354.5 65.4M353.3 64.2L354.5 64.2M353.3 63.2L354.5 63.2M353.3 62.4L354.5 62.4M353.3 61.6L354.5 61.6M352.5 60.9L354.5 60.9M353.3 56.4L354.5 56.4M353.3 53.7L354.5 53.7M353.3 51.8L354.5 51.8M353.3 50.3L354.5 50.3M353.3 49.1L354.5 49.1M353.3 48.1L354.5 48.1M353.3 47.3L354.5 47.3M353.3 46.5L354.5 46.5M352.5 45.8L354.5 45.8M353.3 41.3L354.5 41.3M353.3 38.6L354.5 38.6M353.3 36.7L354.5 36.7M353.3 35.2L354.5 35.2M353.3 34L354.5 34M353.3 33L354.5 33M353.3 32.2L354.5 32.2M353.3 31.4L354.5 31.4M352.5 30.7L354.5 30.7M353.3 26.2L354.5 26.2M277.5 149.5L277.5 151.5M292.4 149.5L292.4 150.7M301.2 149.5L301.2 150.7M307.4 149.5L307.4 150.7M312.2 149.5L312.2 150.7M316.1 149.5L316.1 150.7M319.4 149.5L319.4 150.7M322.3 149.5L322.3 150.7M324.9 149.5L324.9 150.7M327.1 149.5L327.1 151.5M342.1 149.5L342.1 150.7M350.8 149.5L350.8 150.7M357 149.5L357 150.7M361.8 149.5L361.8 150.7M365.7 149.5L365.7 150.7M369.1 149.5L369.1 150.7M371.9 149.5L371.9 150.7M374.5 149.5L374.5 150.7M376.7 149.5L376.7 151.5M391.7 149.5L391.7 150.7M400.4 149.5L400.4 150.7M406.6 149.5L406.6 150.7M411.4 149.5L411.4 150.7M415.4 149.5L415.4 150.7M418.7 149.5L418.7 150.7M421.6 149.5L421.6 150.7M424.1 149.5L424.1 150.7M426.4 149.5L426.4 151.5M441.3 149.5L441.3 150.7M248 149.5L249.5 149.5M248 146.4L249.5 146.4M248 143.4L249.5 143.4M248 140.3L249.5 140.3M248 137.3L249.5 137.3M248 134.2L249.5 134.2M248 131.2L249.5 131.2M248 128.1L249.5 128.1M248 125.1L249.5 125.1M248 122L249.5 122M482.5 101.5L484.5 101.5M483.3 98.5L484.5 98.5M483.3 95.5L484.5 95.5M483.3 92.6L484.5 92.6M483.3 89.6L484.5 89.6M482.5 86.6L484.5 86.6M483.3 83.6L484.5 83.6M483.3 80.7L484.5 80.7M483.3 77.7L484.5 77.7M483.3 74.7L484.5 74.7M482.5 71.7L484.5 71.7M483.3 68.8L484.5 68.8M483.3 65.8L484.5 65.8M483.3 62.8L484.5 62.8M483.3 59.8L484.5 59.8M482.5 56.9L484.5 56.9M483.3 53.9L484.5 53.9M483.3 50.9L484.5 50.9M483.3 47.9L484.5 47.9M483.3 45L484.5 45M482.5 42L484.5 42M483.3 39L484.5 39M483.3 36L484.5 36M483.3 33.1L484.5 33.1M483.3 30.1L484.5 30.1M482.5 27.1L484.5 27.1M483.3 24.1L484.5 24.1M498.1 101.5L498.1 103.5M504.9 101.5L504.9 102.7M508.9 101.5L508.9 102.7M511.7 101.5L511.7 102.7M513.9 101.5L513.9 102.7M515.7 101.5L515.7 102.7M517.2 101.5L517.2 102.7M518.5 101.5L518.5 102.7M519.7 101.5L519.7 102.7M520.7 101.5L520.7 103.5M527.5 101.5L527.5 102.7M531.5 101.5L531.5 102.7M534.3 101.5L534.3 102.7M536.5 101.5L536.5 102.7M538.3 101.5L538.3 102.7M539.8 101.5L539.8 102.7M541.2 101.5L541.2 102.7M542.3 101.5L542.3 102.7M543.4 101.5L543.4 103.5M550.2 101.5L550.2 102.7M554.2 101.5L554.2 102.7M557 101.5L557 102.7M559.2 101.5L559.2 102.7M561 101.5L561 102.7M562.5 101.5L562.5 102.7M563.8 101.5L563.8 102.7M565 101.5L565 102.7M566 101.5L566 103.5M572.8 101.5L572.8 102.7M591 101.5L591 103.5M597 101.5L597 102.7M600.5 101.5L600.5 102.7M603 101.5L603 102.7M605 101.5L605 102.7M606.6 101.5L606.6 102.7M607.9 101.5L607.9 102.7M609.1 101.5L609.1 102.7M610.1 101.5L610.1 102.7M611 101.5L611 103.5M617 101.5L617 102.7M620.5 101.5L620.5 102.7M623 101.5L623 102.7M625 101.5L625 102.7M626.6 101.5L626.6 102.7M627.9 101.5L627.9 102.7M629.1 101.5L629.1 102.7M630.1 101.5L630.1 102.7M631 101.5L631 103.5M637 101.5L637 102.7M640.5 101.5L640.5 102.7M643 101.5L643 102.7M645 101.5L645 102.7M646.6 101.5L646.6 102.7M647.9 101.5L647.9 102.7M649.1 101.5L649.1 102.7M650.1 101.5L650.1 102.7M651 101.5L651 103.5M657 101.5L657 102.7M660.5 101.5L660.5 102.7M663 101.5L663 102.7M665 101.5L665 102.7M666.6 101.5L666.6 102.7M667.9 101.5L667.9 102.7M669.1 101.5L669.1 102.7M670.1 101.5L670.1 102.7M671 101.5L671 103.5M677 101.5L677 102.7M587.5 91.1L589.5 91.1M588.3 86.6L589.5 86.6M588.3 83.9L589.5 83.9M588.3 82L589.5 82M588.3 80.5L589.5 80.5M588.3 79.3L589.5 79.3M588.3 78.3L589.5 78.3M588.3 77.5L589.5 77.5M588.3 76.7L589.5 76.7M587.5 76L589.5 76M588.3 71.5L589.5 71.5M588.3 68.8L589.5 68.8M588.3 66.9L589.5 66.9M588.3 65.4L589.5 65.4M588.3 64.2L589.5 64.2M588.3 63.2L589.5 63.2M588.3 62.4L589.5 62.4M588.3 61.6L589.5 61.6M587.5 60.9L589.5 60.9M588.3 56.4L589.5 56.4M588.3 53.7L589.5 53.7M588.3 51.8L589.5 51.8M588.3 50.3L589.5 50.3M588.3 49.1L589.5 49.1M588.3 48.1L589.5 48.1M588.3 47.3L589.5 47.3M588.3 46.5L589.5 46.5M587.5 45.8L589.5 45.8M588.3 41.3L589.5 41.3M588.3 38.6L589.5 38.6M588.3 36.7L589.5 36.7M588.3 35.2L589.5 35.2M588.3 34L589.5 34M588.3 33L589.5 33M588.3 32.2L589.5 32.2M588.3 31.4L589.5 31.4M587.5 30.7L589.5 30.7M588.3 26.2L589.5 26.2M512.5 149.5L512.5 151.5M527.4 149.5L527.4 150.7M536.1 149.5L536.1 150.7M542.2 149.5L542.2 150.7M547 149.5L547 150.7M550.9 149.5L550.9 150.7M554.2 149.5L554.2 150.7M557.1 149.5L557.1 150.7M559.6 149.5L559.6 150.7M561.9 149.5L561.9 151.5M576.7 149.5L576.7 150.7M585.4 149.5L585.4 150.7M591.6 149.5L591.6 150.7M596.4 149.5L596.4 150.7M600.3 149.5L600.3 150.7M603.6 149.5L603.6 150.7M606.5 149.5L606.5 150.7M609 149.5L609 150.7M611.2 149.5L611.2 151.5M626.1 149.5L626.1 150.7M634.8 149.5L634.8 150.7M641 149.5L641 150.7M645.7 149.5L645.7 150.7M649.7 149.5L649.7 150.7M653 149.5L653 150.7M655.8 149.5L655.8 150.7M658.4 149.5L658.4 150.7M660.6 149.5L660.6 151.5M675.5 149.5L675.5 150.7M483 149.5L484.5 149.5M483 146.4L484.5 146.4M483 143.4L484.5 143.4M483 140.3L484.5 140.3M483 137.3L484.5 137.3M483 134.2L484.5 134.2M483 131.2L484.5 131.2M483 128.1L484.5 128.1M483 125.1L484.5 125.1M483 122L484.5 122M14.5 273.5L16.5 273.5M15.3 270.5L16.5 270.5M15.3 267.6L16.5 267.6M15.3 264.6L16.5 264.6M15.3 261.7L16.5 261.7M14.5 258.7L16.5 258.7M15.3 255.8L16.5 255.8M15.3 252.8L16.5 252.8M15.3 249.8L16.5 249.8M15.3 246.9L16.5 246.9M14.5 243.9L16.5 243.9M15.3 241L16.5 241M15.3 238L16.5 238M15.3 235.1L16.5 235.1M15.3 232.1L16.5 232.1M14.5 229.2L16.5 229.2M15.3 226.2L16.5 226.2M15.3 223.2L16.5 223.2M15.3 220.3L16.5 220.3M15.3 217.3L16.5 217.3M14.5 214.4L16.5 214.4M15.3 211.4L16.5 211.4M15.3 208.5L16.5 208.5M15.3 205.5L16.5 205.5M15.3 202.5L16.5 202.5M14.5 199.6L16.5 199.6M15.3 196.6L16.5 196.6M29.9 273.5L29.9 275.5M36.6 273.5L36.6 274.7M40.5 273.5L40.5 274.7M43.3 273.5L43.3 274.7M45.4 273.5L45.4 274.7M47.2 273.5L47.2 274.7M48.7 273.5L48.7 274.7M50 273.5L50 274.7M51.1 273.5L51.1 274.7M52.1 273.5L52.1 275.5M58.8 273.5L58.8 274.7M62.7 273.5L62.7 274.7M65.5 273.5L65.5 274.7M67.7 273.5L67.7 274.7M69.4 273.5L69.4 274.7M70.9 273.5L70.9 274.7M72.2 273.5L72.2 274.7M73.4 273.5L73.4 274.7M74.4 273.5L74.4 275.5M81.1 273.5L81.1 274.7M85 273.5L85 274.7M87.8 273.5L87.8 274.7M89.9 273.5L89.9 274.7M91.7 273.5L91.7 274.7M93.2 273.5L93.2 274.7M94.5 273.5L94.5 274.7M95.6 273.5L95.6 274.7M96.6 273.5L96.6 275.5M103.4 273.5L103.4 274.7M123 273.5L123 275.5M129 273.5L129 274.7M132.5 273.5L132.5 274.7M135 273.5L135 274.7M137 273.5L137 274.7M138.6 273.5L138.6 274.7M139.9 273.5L139.9 274.7M141.1 273.5L141.1 274.7M142.1 273.5L142.1 274.7M143 273.5L143 275.5M149 273.5L149 274.7M152.5 273.5L152.5 274.7M155 273.5L155 274.7M157 273.5L157 274.7M158.6 273.5L158.6 274.7M159.9 273.5L159.9 274.7M161.1 273.5L161.1 274.7M162.1 273.5L162.1 274.7M163 273.5L163 275.5M169 273.5L169 274.7M172.5 273.5L172.5 274.7M175 273.5L175 274.7M177 273.5L177 274.7M178.6 273.5L178.6 274.7M179.9 273.5L179.9 274.7M181.1 273.5L181.1 274.7M182.1 273.5L182.1 274.7M183 273.5L183 275.5M189 273.5L189 274.7M192.5 273.5L192.5 274.7M195 273.5L195 274.7M197 273.5L197 274.7M198.6 273.5L198.6 274.7M199.9 273.5L199.9 274.7M201.1 273.5L201.1 274.7M202.1 273.5L202.1 274.7M203 273.5L203 275.5M209 273.5L209 274.7M119 263.6L121 263.6M119.8 259.1L121 259.1M119.8 256.4L121 256.4M119.8 254.5L121 254.5M119.8 253L121 253M119.8 251.8L121 251.8M119.8 250.8L121 250.8M119.8 250L121 250M119.8 249.2L121 249.2M119 248.5L121 248.5M119.8 244L121 244M119.8 241.3L121 241.3M119.8 239.4L121 239.4M119.8 237.9L121 237.9M119.8 236.7L121 236.7M119.8 235.7L121 235.7M119.8 234.9L121 234.9M119.8 234.1L121 234.1M119 233.4L121 233.4M119.8 228.9L121 228.9M119.8 226.2L121 226.2M119.8 224.3L121 224.3M119.8 222.8L121 222.8M119.8 221.6L121 221.6M119.8 220.6L121 220.6M119.8 219.8L121 219.8M119.8 219L121 219M119 218.3L121 218.3M119.8 213.8L121 213.8M119.8 211.1L121 211.1M119.8 209.2L121 209.2M119.8 207.7L121 207.7M119.8 206.5L121 206.5M119.8 205.5L121 205.5M119.8 204.7L121 204.7M119.8 203.9L121 203.9M119 203.2L121 203.2M119.8 198.7L121 198.7M44.5 321.5L44.5 323.5M59.4 321.5L59.4 322.7M68.1 321.5L68.1 322.7M74.2 321.5L74.2 322.7M79 321.5L79 322.7M82.9 321.5L82.9 322.7M86.2 321.5L86.2 322.7M89.1 321.5L89.1 322.7M91.6 321.5L91.6 322.7M93.9 321.5L93.9 323.5M108.7 321.5L108.7 322.7M117.4 321.5L117.4 322.7M123.6 321.5L123.6 322.7M128.4 321.5L128.4 322.7M132.3 321.5L132.3 322.7M135.6 321.5L135.6 322.7M138.5 321.5L138.5 322.7M141 321.5L141 322.7M143.2 321.5L143.2 323.5M158.1 321.5L158.1 322.7M166.8 321.5L166.8 322.7M173 321.5L173 322.7M177.7 321.5L177.7 322.7M181.7 321.5L181.7 322.7M185 321.5L185 322.7M187.8 321.5L187.8 322.7M190.4 321.5L190.4 322.7M192.6 321.5L192.6 323.5M207.5 321.5L207.5 322.7M15 321.5L16.5 321.5M15 318.4L16.5 318.4M15 315.4L16.5 315.4M15 312.3L16.5 312.3M15 309.3L16.5 309.3M15 306.2L16.5 306.2M15 303.2L16.5 303.2M15 300.1L16.5 300.1M15 297.1L16.5 297.1M15 294L16.5 294M248.5 274L250.5 274M249.3 271L250.5 271M249.3 268L250.5 268M249.3 265.1L250.5 265.1M249.3 262.1L250.5 262.1M248.5 259.1L250.5 259.1M249.3 256.1L250.5 256.1M249.3 253.2L250.5 253.2M249.3 250.2L250.5 250.2M249.3 247.2L250.5 247.2M248.5 244.2L250.5 244.2M249.3 241.3L250.5 241.3M249.3 238.3L250.5 238.3M249.3 235.3L250.5 235.3M249.3 232.3L250.5 232.3M248.5 229.4L250.5 229.4M249.3 226.4L250.5 226.4M249.3 223.4L250.5 223.4M249.3 220.4L250.5 220.4M249.3 217.5L250.5 217.5M248.5 214.5L250.5 214.5M249.3 211.5L250.5 211.5M249.3 208.5L250.5 208.5M249.3 205.6L250.5 205.6M249.3 202.6L250.5 202.6M248.5 199.6L250.5 199.6M249.3 196.6L250.5 196.6M263.9 274L263.9 276M270.7 274L270.7 275.2M274.6 274L274.6 275.2M277.4 274L277.4 275.2M279.6 274L279.6 275.2M281.4 274L281.4 275.2M282.9 274L282.9 275.2M284.2 274L284.2 275.2M285.3 274L285.3 275.2M286.3 274L286.3 276M293.1 274L293.1 275.2M297 274L297 275.2M299.8 274L299.8 275.2M302 274L302 275.2M303.7 274L303.7 275.2M305.2 274L305.2 275.2M306.5 274L306.5 275.2M307.7 274L307.7 275.2M308.7 274L308.7 276M315.4 274L315.4 275.2M319.4 274L319.4 275.2M322.2 274L322.2 275.2M324.4 274L324.4 275.2M326.1 274L326.1 275.2M327.6 274L327.6 275.2M328.9 274L328.9 275.2M330.1 274L330.1 275.2M331.1 274L331.1 276M337.8 274L337.8 275.2M357 274L357 276M363 274L363 275.2M366.5 274L366.5 275.2M369 274L369 275.2M371 274L371 275.2M372.6 274L372.6 275.2M373.9 274L373.9 275.2M375.1 274L375.1 275.2M376.1 274L376.1 275.2M377 274L377 276M383 274L383 275.2M386.5 274L386.5 275.2M389 274L389 275.2M391 274L391 275.2M392.6 274L392.6 275.2M393.9 274L393.9 275.2M395.1 274L395.1 275.2M396.1 274L396.1 275.2M397 274L397 276M403 274L403 275.2M406.5 274L406.5 275.2M409 274L409 275.2M411 274L411 275.2M412.6 274L412.6 275.2M413.9 274L413.9 275.2M415.1 274L415.1 275.2M416.1 274L416.1 275.2M417 274L417 276M423 274L423 275.2M426.5 274L426.5 275.2M429 274L429 275.2M431 274L431 275.2M432.6 274L432.6 275.2M433.9 274L433.9 275.2M435.1 274L435.1 275.2M436.1 274L436.1 275.2M437 274L437 276M443 274L443 275.2M353.5 263.6L355.5 263.6M354.3 259.1L355.5 259.1M354.3 256.4L355.5 256.4M354.3 254.5L355.5 254.5M354.3 253L355.5 253M354.3 251.8L355.5 251.8M354.3 250.8L355.5 250.8M354.3 250L355.5 250M354.3 249.2L355.5 249.2M353.5 248.5L355.5 248.5M354.3 244L355.5 244M354.3 241.3L355.5 241.3M354.3 239.4L355.5 239.4M354.3 237.9L355.5 237.9M354.3 236.7L355.5 236.7M354.3 235.7L355.5 235.7M354.3 234.9L355.5 234.9M354.3 234.1L355.5 234.1M353.5 233.4L355.5 233.4M354.3 228.9L355.5 228.9M354.3 226.2L355.5 226.2M354.3 224.3L355.5 224.3M354.3 222.8L355.5 222.8M354.3 221.6L355.5 221.6M354.3 220.6L355.5 220.6M354.3 219.8L355.5 219.8M354.3 219L355.5 219M353.5 218.3L355.5 218.3M354.3 213.8L355.5 213.8M354.3 211.1L355.5 211.1M354.3 209.2L355.5 209.2M354.3 207.7L355.5 207.7M354.3 206.5L355.5 206.5M354.3 205.5L355.5 205.5M354.3 204.7L355.5 204.7M354.3 203.9L355.5 203.9M353.5 203.2L355.5 203.2M354.3 198.7L355.5 198.7M278.5 322L278.5 324M293.4 322L293.4 323.2M302.2 322L302.2 323.2M308.4 322L308.4 323.2M313.2 322L313.2 323.2M317.1 322L317.1 323.2M320.4 322L320.4 323.2M323.3 322L323.3 323.2M325.9 322L325.9 323.2M328.1 322L328.1 324M343.1 322L343.1 323.2M351.8 322L351.8 323.2M358 322L358 323.2M362.8 322L362.8 323.2M366.7 322L366.7 323.2M370.1 322L370.1 323.2M372.9 322L372.9 323.2M375.5 322L375.5 323.2M377.7 322L377.7 324M392.7 322L392.7 323.2M401.4 322L401.4 323.2M407.6 322L407.6 323.2M412.4 322L412.4 323.2M416.4 322L416.4 323.2M419.7 322L419.7 323.2M422.6 322L422.6 323.2M425.1 322L425.1 323.2M427.4 322L427.4 324M442.3 322L442.3 323.2M249 322L250.5 322M249 318.9L250.5 318.9M249 315.8L250.5 315.8M249 312.7L250.5 312.7M249 309.6L250.5 309.6M249 306.4L250.5 306.4M249 303.3L250.5 303.3M249 300.2L250.5 300.2M249 297.1L250.5 297.1M249 294L250.5 294M481.5 274.5L483.5 274.5M482.3 271.5L483.5 271.5M482.3 268.5L483.5 268.5M482.3 265.5L483.5 265.5M482.3 262.5L483.5 262.5M481.5 259.5L483.5 259.5M482.3 256.5L483.5 256.5M482.3 253.5L483.5 253.5M482.3 250.5L483.5 250.5M482.3 247.5L483.5 247.5M481.5 244.6L483.5 244.6M482.3 241.6L483.5 241.6M482.3 238.6L483.5 238.6M482.3 235.6L483.5 235.6M482.3 232.6L483.5 232.6M481.5 229.6L483.5 229.6M482.3 226.6L483.5 226.6M482.3 223.6L483.5 223.6M482.3 220.6L483.5 220.6M482.3 217.6L483.5 217.6M481.5 214.6L483.5 214.6M482.3 211.6L483.5 211.6M482.3 208.6L483.5 208.6M482.3 205.6L483.5 205.6M482.3 202.6L483.5 202.6M481.5 199.6L483.5 199.6M482.3 196.6L483.5 196.6M496.9 274.5L496.9 276.5M503.7 274.5L503.7 275.7M507.6 274.5L507.6 275.7M510.4 274.5L510.4 275.7M512.6 274.5L512.6 275.7M514.4 274.5L514.4 275.7M515.9 274.5L515.9 275.7M517.2 274.5L517.2 275.7M518.3 274.5L518.3 275.7M519.3 274.5L519.3 276.5M526.1 274.5L526.1 275.7M530 274.5L530 275.7M532.8 274.5L532.8 275.7M535 274.5L535 275.7M536.7 274.5L536.7 275.7M538.2 274.5L538.2 275.7M539.5 274.5L539.5 275.7M540.7 274.5L540.7 275.7M541.7 274.5L541.7 276.5M548.4 274.5L548.4 275.7M552.4 274.5L552.4 275.7M555.2 274.5L555.2 275.7M557.4 274.5L557.4 275.7M559.1 274.5L559.1 275.7M560.6 274.5L560.6 275.7M561.9 274.5L561.9 275.7M563.1 274.5L563.1 275.7M564.1 274.5L564.1 276.5M570.8 274.5L570.8 275.7M590 274.5L590 276.5M596 274.5L596 275.7M599.5 274.5L599.5 275.7M602 274.5L602 275.7M604 274.5L604 275.7M605.6 274.5L605.6 275.7M606.9 274.5L606.9 275.7M608.1 274.5L608.1 275.7M609.1 274.5L609.1 275.7M610 274.5L610 276.5M616 274.5L616 275.7M619.5 274.5L619.5 275.7M622 274.5L622 275.7M624 274.5L624 275.7M625.6 274.5L625.6 275.7M626.9 274.5L626.9 275.7M628.1 274.5L628.1 275.7M629.1 274.5L629.1 275.7M630 274.5L630 276.5M636 274.5L636 275.7M639.5 274.5L639.5 275.7M642 274.5L642 275.7M644 274.5L644 275.7M645.6 274.5L645.6 275.7M646.9 274.5L646.9 275.7M648.1 274.5L648.1 275.7M649.1 274.5L649.1 275.7M650 274.5L650 276.5M656 274.5L656 275.7M659.5 274.5L659.5 275.7M662 274.5L662 275.7M664 274.5L664 275.7M665.6 274.5L665.6 275.7M666.9 274.5L666.9 275.7M668.1 274.5L668.1 275.7M669.1 274.5L669.1 275.7M670 274.5L670 276.5M676 274.5L676 275.7M586.5 263.6L588.5 263.6M587.3 259.1L588.5 259.1M587.3 256.4L588.5 256.4M587.3 254.5L588.5 254.5M587.3 253L588.5 253M587.3 251.8L588.5 251.8M587.3 250.8L588.5 250.8M587.3 250L588.5 250M587.3 249.2L588.5 249.2M586.5 248.5L588.5 248.5M587.3 244L588.5 244M587.3 241.3L588.5 241.3M587.3 239.4L588.5 239.4M587.3 237.9L588.5 237.9M587.3 236.7L588.5 236.7M587.3 235.7L588.5 235.7M587.3 234.9L588.5 234.9M587.3 234.1L588.5 234.1M586.5 233.4L588.5 233.4M587.3 228.9L588.5 228.9M587.3 226.2L588.5 226.2M587.3 224.3L588.5 224.3M587.3 222.8L588.5 222.8M587.3 221.6L588.5 221.6M587.3 220.6L588.5 220.6M587.3 219.8L588.5 219.8M587.3 219L588.5 219M586.5 218.3L588.5 218.3M587.3 213.8L588.5 213.8M587.3 211.1L588.5 211.1M587.3 209.2L588.5 209.2M587.3 207.7L588.5 207.7M587.3 206.5L588.5 206.5M587.3 205.5L588.5 205.5M587.3 204.7L588.5 204.7M587.3 203.9L588.5 203.9M586.5 203.2L588.5 203.2M587.3 198.7L588.5 198.7M526 322L526 324M539.6 322L539.6 323.2M547.6 322L547.6 323.2M553.3 322L553.3 323.2M557.7 322L557.7 323.2M561.3 322L561.3 323.2M564.3 322L564.3 323.2M566.9 322L566.9 323.2M569.2 322L569.2 323.2M571.3 322L571.3 324M584.9 322L584.9 323.2M592.9 322L592.9 323.2M598.6 322L598.6 323.2M603 322L603 323.2M606.6 322L606.6 323.2M609.6 322L609.6 323.2M612.2 322L612.2 323.2M614.5 322L614.5 323.2M616.6 322L616.6 324M630.2 322L630.2 323.2M638.2 322L638.2 323.2M643.9 322L643.9 323.2M648.3 322L648.3 323.2M651.9 322L651.9 323.2M654.9 322L654.9 323.2M657.5 322L657.5 323.2M659.8 322L659.8 323.2M661.9 322L661.9 324M675.5 322L675.5 323.2M501.4 322L501.4 324M496.5 322L496.5 324M481.5 322L483 322M481.5 318.9L483 318.9M481.5 315.8L483 315.8M481.5 312.7L483 312.7M481.5 309.6L483 309.6M481.5 306.4L483 306.4M481.5 303.3L483 303.3M481.5 300.2L483 300.2M481.5 297.1L483 297.1M481.5 294L483 294"/>
</svg></body></html>
